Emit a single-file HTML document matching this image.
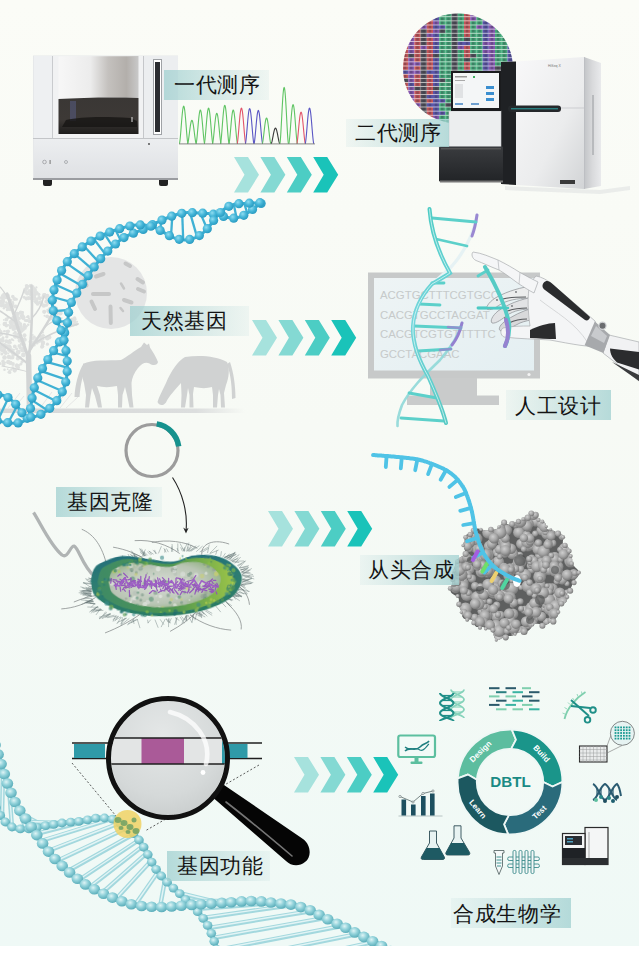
<!DOCTYPE html>
<html><head><meta charset="utf-8">
<style>
html,body{margin:0;padding:0;width:639px;height:964px;overflow:hidden;background:#ffffff;}
#bg{position:absolute;left:0;top:0;width:639px;height:946px;background:linear-gradient(to bottom,#fbfcf7 0%,#f7faf5 45%,#eff9f6 100%);}
svg{position:absolute;left:0;top:0;}
.box{position:absolute;}
.lbl{position:absolute;font-family:"Liberation Sans",sans-serif;font-size:21.2px;letter-spacing:0.7px;line-height:25px;color:#141414;white-space:nowrap;}
</style></head><body>
<div id="bg"></div>
<svg width="639" height="964" viewBox="0 0 639 964">
<defs>
<linearGradient id="sgTop" x1="0" y1="0" x2="1" y2="0">
<stop offset="0" stop-color="#f7f7f7"/><stop offset="0.4" stop-color="#ececec"/><stop offset="0.62" stop-color="#c4c1be"/><stop offset="0.85" stop-color="#b3afab"/><stop offset="1" stop-color="#c9c9c9"/>
</linearGradient>
<linearGradient id="sgWin" x1="0" y1="0" x2="0" y2="1">
<stop offset="0" stop-color="#3a3735"/><stop offset="0.6" stop-color="#3d3936"/><stop offset="1" stop-color="#1d1c1b"/>
</linearGradient>
<linearGradient id="sgBot" x1="0" y1="0" x2="0" y2="1">
<stop offset="0" stop-color="#eceef0"/><stop offset="1" stop-color="#dfe1e4"/>
</linearGradient>
</defs>
<!-- feet -->
<rect x="43" y="178" width="9" height="8" rx="2" fill="#222"/>
<rect x="159" y="178" width="9" height="8" rx="2" fill="#222"/>
<!-- body -->
<rect x="33" y="55.5" width="145" height="123" fill="#e6e8ea"/>
<rect x="33" y="178" width="145" height="2" fill="#9a9ca0"/>
<!-- left column -->
<rect x="34" y="56" width="18" height="82" fill="#eef0f2"/>
<line x1="52.5" y1="56" x2="52.5" y2="138" stroke="#c9cbce" stroke-width="1"/>
<!-- center frame -->
<rect x="53" y="56" width="90" height="82" fill="#f1f2f3"/>
<path d="M58.5,56.5 C80,56 110,56.5 138.5,56 L138.5,98 C110,97 80,98 58.5,99 Z" fill="url(#sgTop)"/>
<path d="M58.5,99 C80,98 110,97 138.5,98 L138.5,134 L58.5,134 Z" fill="url(#sgWin)"/>
<rect x="70" y="101" width="6" height="20" fill="#5a5f8a" opacity="0.5"/>
<path d="M66,120 C80,117 100,116 130,118 L137,121 L137,127 L62,127 Z" fill="#161514" opacity="0.8"/>
<line x1="132" y1="117" x2="132" y2="122" stroke="#ddd" stroke-width="1"/>
<!-- right column -->
<rect x="144" y="56" width="34" height="82" fill="#eceef0"/>
<line x1="143.5" y1="56" x2="143.5" y2="138" stroke="#c5c7ca" stroke-width="1"/>
<rect x="153.5" y="59.5" width="8" height="75" fill="#ffffff" stroke="#9fa2a6" stroke-width="1"/>
<rect x="155" y="62" width="5" height="70" fill="#2b2d31"/>
<!-- bottom section -->
<rect x="34" y="139" width="144" height="39" fill="url(#sgBot)"/>
<line x1="33" y1="138.5" x2="178" y2="138.5" stroke="#c3c5c8" stroke-width="1"/>
<circle cx="44.5" cy="162" r="1.8" fill="none" stroke="#9a9ca0" stroke-width="0.8"/>
<rect x="49.5" y="160" width="1.2" height="4" fill="#888"/>
<circle cx="66" cy="162" r="1.5" fill="none" stroke="#a0a2a6" stroke-width="0.8"/>
<circle cx="149" cy="144" r="0.9" fill="#444"/>

<polyline fill="none" stroke="#5fc463" stroke-width="1.1" points="179.29,143.60 179.49,143.41 179.69,142.52 179.89,141.16 180.09,139.46 180.29,137.49 180.49,135.29 180.69,132.93 180.89,130.46 181.09,127.91 181.29,125.35 181.49,122.80 181.69,120.32 181.89,117.94 182.09,115.70 182.29,113.63 182.49,111.77 182.69,110.15 182.89,108.79 183.09,107.71 183.29,106.93 183.49,106.45 183.69,106.29 183.89,106.45 184.09,106.93 184.29,107.71 184.49,108.79 184.69,110.15 184.89,111.77 185.09,113.63 185.29,115.70 185.49,117.94 185.69,120.32 185.89,122.80 186.09,125.35 186.29,127.91 186.49,130.46 186.69,132.93 186.89,135.29 187.09,137.49 187.29,139.46 187.49,141.16 187.69,142.52 187.89,143.41 188.09,143.60"/>
<polyline fill="none" stroke="#5fc463" stroke-width="1.1" points="187.50,143.60 187.70,143.48 187.90,142.93 188.10,142.08 188.30,141.03 188.50,139.79 188.70,138.43 188.90,136.96 189.10,135.42 189.30,133.84 189.50,132.24 189.70,130.65 189.90,129.11 190.10,127.62 190.30,126.23 190.50,124.94 190.70,123.79 190.90,122.78 191.10,121.93 191.30,121.26 191.50,120.77 191.70,120.47 191.90,120.38 192.10,120.47 192.30,120.77 192.50,121.26 192.70,121.93 192.90,122.78 193.10,123.79 193.30,124.94 193.50,126.23 193.70,127.62 193.90,129.11 194.10,130.65 194.30,132.24 194.50,133.84 194.70,135.42 194.90,136.96 195.10,138.43 195.30,139.79 195.50,141.03 195.70,142.08 195.90,142.93 196.10,143.48 196.30,143.60"/>
<polyline fill="none" stroke="#5fc463" stroke-width="1.1" points="195.95,143.60 196.15,143.43 196.35,142.63 196.55,141.41 196.75,139.88 196.95,138.10 197.15,136.13 197.35,134.01 197.55,131.78 197.75,129.49 197.95,127.18 198.15,124.89 198.35,122.66 198.55,120.52 198.75,118.50 198.95,116.65 199.15,114.98 199.35,113.52 199.55,112.29 199.75,111.32 199.95,110.62 200.15,110.19 200.35,110.05 200.55,110.19 200.75,110.62 200.95,111.32 201.15,112.29 201.35,113.52 201.55,114.98 201.75,116.65 201.95,118.50 202.15,120.52 202.35,122.66 202.55,124.89 202.75,127.18 202.95,129.49 203.15,131.78 203.35,134.01 203.55,136.13 203.75,138.10 203.95,139.88 204.15,141.41 204.35,142.63 204.55,143.43 204.75,143.60"/>
<polyline fill="none" stroke="#5fc463" stroke-width="1.1" points="204.17,143.60 204.37,143.42 204.57,142.57 204.77,141.29 204.97,139.67 205.17,137.79 205.37,135.71 205.57,133.47 205.77,131.12 205.97,128.70 206.17,126.27 206.37,123.85 206.57,121.49 206.77,119.23 206.97,117.10 207.17,115.14 207.37,113.38 207.57,111.83 207.77,110.54 207.97,109.52 208.17,108.77 208.37,108.32 208.57,108.17 208.77,108.32 208.97,108.77 209.17,109.52 209.37,110.54 209.57,111.83 209.77,113.38 209.97,115.14 210.17,117.10 210.37,119.23 210.57,121.49 210.77,123.85 210.97,126.27 211.17,128.70 211.37,131.12 211.57,133.47 211.77,135.71 211.97,137.79 212.17,139.67 212.37,141.29 212.57,142.57 212.77,143.42 212.97,143.60"/>
<polyline fill="none" stroke="#5fc463" stroke-width="1.1" points="212.38,143.60 212.58,143.45 212.78,142.72 212.98,141.62 213.18,140.24 213.38,138.64 213.58,136.86 213.78,134.95 213.98,132.94 214.18,130.87 214.38,128.79 214.58,126.73 214.78,124.71 214.98,122.78 215.18,120.96 215.38,119.29 215.58,117.78 215.78,116.46 215.98,115.36 216.18,114.48 216.38,113.85 216.58,113.46 216.78,113.33 216.98,113.46 217.18,113.85 217.38,114.48 217.58,115.36 217.78,116.46 217.98,117.78 218.18,119.29 218.38,120.96 218.58,122.78 218.78,124.71 218.98,126.73 219.18,128.79 219.38,130.87 219.58,132.94 219.78,134.95 219.98,136.86 220.18,138.64 220.38,140.24 220.58,141.62 220.78,142.72 220.98,143.45 221.18,143.60"/>
<polyline fill="none" stroke="#5fc463" stroke-width="1.1" points="220.37,143.60 220.57,143.41 220.77,142.49 220.97,141.10 221.17,139.36 221.37,137.33 221.57,135.08 221.77,132.66 221.97,130.13 222.17,127.52 222.37,124.89 222.57,122.28 222.77,119.73 222.97,117.29 223.17,114.99 223.37,112.88 223.57,110.97 223.77,109.31 223.97,107.91 224.17,106.81 224.37,106.00 224.57,105.52 224.77,105.35 224.97,105.52 225.17,106.00 225.37,106.81 225.57,107.91 225.77,109.31 225.97,110.97 226.17,112.88 226.37,114.99 226.57,117.29 226.77,119.73 226.97,122.28 227.17,124.89 227.37,127.52 227.57,130.13 227.77,132.66 227.97,135.08 228.17,137.33 228.37,139.36 228.57,141.10 228.77,142.49 228.97,143.41 229.17,143.60"/>
<polyline fill="none" stroke="#5fc463" stroke-width="1.1" points="228.82,143.60 229.02,143.43 229.22,142.63 229.42,141.41 229.62,139.88 229.82,138.10 230.02,136.13 230.22,134.01 230.42,131.78 230.62,129.49 230.82,127.18 231.02,124.89 231.22,122.66 231.42,120.52 231.62,118.50 231.82,116.65 232.02,114.98 232.22,113.52 232.42,112.29 232.62,111.32 232.82,110.62 233.02,110.19 233.22,110.05 233.42,110.19 233.62,110.62 233.82,111.32 234.02,112.29 234.22,113.52 234.42,114.98 234.62,116.65 234.82,118.50 235.02,120.52 235.22,122.66 235.42,124.89 235.62,127.18 235.82,129.49 236.02,131.78 236.22,134.01 236.42,136.13 236.62,138.10 236.82,139.88 237.02,141.41 237.22,142.63 237.42,143.43 237.62,143.60"/>
<polyline fill="none" stroke="#e2546a" stroke-width="1.1" points="237.03,143.60 237.23,143.42 237.43,142.57 237.63,141.29 237.83,139.67 238.03,137.79 238.23,135.71 238.43,133.47 238.63,131.12 238.83,128.70 239.03,126.27 239.23,123.85 239.43,121.49 239.63,119.23 239.83,117.10 240.03,115.14 240.23,113.38 240.43,111.83 240.63,110.54 240.83,109.52 241.03,108.77 241.23,108.32 241.43,108.17 241.63,108.32 241.83,108.77 242.03,109.52 242.23,110.54 242.43,111.83 242.63,113.38 242.83,115.14 243.03,117.10 243.23,119.23 243.43,121.49 243.63,123.85 243.83,126.27 244.03,128.70 244.23,131.12 244.43,133.47 244.63,135.71 244.83,137.79 245.03,139.67 245.23,141.29 245.43,142.57 245.63,143.42 245.83,143.60"/>
<polyline fill="none" stroke="#5a56c4" stroke-width="1.1" points="245.25,143.60 245.45,143.42 245.65,142.59 245.85,141.32 246.05,139.72 246.25,137.87 246.45,135.81 246.65,133.60 246.85,131.28 247.05,128.90 247.25,126.50 247.45,124.11 247.65,121.78 247.85,119.55 248.05,117.45 248.25,115.52 248.45,113.78 248.65,112.26 248.85,110.98 249.05,109.97 249.25,109.23 249.45,108.79 249.65,108.64 249.85,108.79 250.05,109.23 250.25,109.97 250.45,110.98 250.65,112.26 250.85,113.78 251.05,115.52 251.25,117.45 251.45,119.55 251.65,121.78 251.85,124.11 252.05,126.50 252.25,128.90 252.45,131.28 252.65,133.60 252.85,135.81 253.05,137.87 253.25,139.72 253.45,141.32 253.65,142.59 253.85,143.42 254.05,143.60"/>
<polyline fill="none" stroke="#5a56c4" stroke-width="1.1" points="253.93,143.60 254.13,143.43 254.33,142.64 254.53,141.44 254.73,139.93 254.93,138.18 255.13,136.23 255.33,134.14 255.53,131.95 255.73,129.69 255.93,127.41 256.13,125.16 256.33,122.95 256.53,120.84 256.73,118.86 256.93,117.02 257.13,115.38 257.33,113.94 257.53,112.73 257.73,111.77 257.93,111.08 258.13,110.66 258.33,110.52 258.53,110.66 258.73,111.08 258.93,111.77 259.13,112.73 259.33,113.94 259.53,115.38 259.73,117.02 259.93,118.86 260.13,120.84 260.33,122.95 260.53,125.16 260.73,127.41 260.93,129.69 261.13,131.95 261.33,134.14 261.53,136.23 261.73,138.18 261.93,139.93 262.13,141.44 262.33,142.64 262.53,143.43 262.73,143.60"/>
<polyline fill="none" stroke="#5fc463" stroke-width="1.1" points="262.15,143.60 262.35,143.47 262.55,142.86 262.75,141.93 262.95,140.76 263.15,139.41 263.35,137.91 263.55,136.29 263.75,134.59 263.95,132.85 264.15,131.09 264.35,129.34 264.55,127.64 264.75,126.01 264.95,124.47 265.15,123.06 265.35,121.79 265.55,120.67 265.75,119.74 265.95,119.00 266.15,118.46 266.35,118.14 266.55,118.03 266.75,118.14 266.95,118.46 267.15,119.00 267.35,119.74 267.55,120.67 267.75,121.79 267.95,123.06 268.15,124.47 268.35,126.01 268.55,127.64 268.75,129.34 268.95,131.09 269.15,132.85 269.35,134.59 269.55,136.29 269.75,137.91 269.95,139.41 270.15,140.76 270.35,141.93 270.55,142.86 270.75,143.47 270.95,143.60"/>
<polyline fill="none" stroke="#3a3a3a" stroke-width="1.1" points="271.07,143.60 271.27,143.52 271.47,143.15 271.67,142.59 271.87,141.88 272.07,141.06 272.27,140.15 272.47,139.17 272.67,138.15 272.87,137.09 273.07,136.03 273.27,134.97 273.47,133.94 273.67,132.95 273.87,132.02 274.07,131.17 274.27,130.40 274.47,129.72 274.67,129.16 274.87,128.71 275.07,128.39 275.27,128.19 275.47,128.12 275.67,128.19 275.87,128.39 276.07,128.71 276.27,129.16 276.47,129.72 276.67,130.40 276.87,131.17 277.07,132.02 277.27,132.95 277.47,133.94 277.67,134.97 277.87,136.03 278.07,137.09 278.27,138.15 278.47,139.17 278.67,140.15 278.87,141.06 279.07,141.88 279.27,142.59 279.47,143.15 279.67,143.52 279.87,143.60"/>
<polyline fill="none" stroke="#5fc463" stroke-width="1.1" points="279.75,143.60 279.95,143.32 280.15,141.97 280.35,139.94 280.55,137.38 280.75,134.41 280.95,131.11 281.15,127.56 281.35,123.84 281.55,120.02 281.75,116.16 281.95,112.33 282.15,108.60 282.35,105.02 282.55,101.65 282.75,98.55 282.95,95.75 283.15,93.31 283.35,91.27 283.55,89.64 283.75,88.47 283.95,87.75 284.15,87.51 284.35,87.75 284.55,88.47 284.75,89.64 284.95,91.27 285.15,93.31 285.35,95.75 285.55,98.55 285.75,101.65 285.95,105.02 286.15,108.60 286.35,112.33 286.55,116.16 286.75,120.02 286.95,123.84 287.15,127.56 287.35,131.11 287.55,134.41 287.75,137.38 287.95,139.94 288.15,141.97 288.35,143.32 288.55,143.60"/>
<polyline fill="none" stroke="#5fc463" stroke-width="1.1" points="288.68,143.60 288.88,143.40 289.08,142.47 289.28,141.06 289.48,139.28 289.68,137.22 289.88,134.93 290.08,132.46 290.28,129.88 290.48,127.22 290.68,124.54 290.88,121.88 291.08,119.29 291.28,116.81 291.48,114.47 291.68,112.31 291.88,110.37 292.08,108.68 292.28,107.26 292.48,106.13 292.68,105.31 292.88,104.81 293.08,104.65 293.28,104.81 293.48,105.31 293.68,106.13 293.88,107.26 294.08,108.68 294.28,110.37 294.48,112.31 294.68,114.47 294.88,116.81 295.08,119.29 295.28,121.88 295.48,124.54 295.68,127.22 295.88,129.88 296.08,132.46 296.28,134.93 296.48,137.22 296.68,139.28 296.88,141.06 297.08,142.47 297.28,143.40 297.48,143.60"/>
<polyline fill="none" stroke="#e2546a" stroke-width="1.1" points="296.66,143.60 296.86,143.44 297.06,142.69 297.26,141.55 297.46,140.11 297.66,138.45 297.86,136.60 298.06,134.61 298.26,132.52 298.46,130.38 298.66,128.22 298.86,126.07 299.06,123.98 299.26,121.97 299.46,120.08 299.66,118.34 299.86,116.78 300.06,115.41 300.26,114.27 300.46,113.35 300.66,112.69 300.86,112.29 301.06,112.16 301.26,112.29 301.46,112.69 301.66,113.35 301.86,114.27 302.06,115.41 302.26,116.78 302.46,118.34 302.66,120.08 302.86,121.97 303.06,123.98 303.26,126.07 303.46,128.22 303.66,130.38 303.86,132.52 304.06,134.61 304.26,136.60 304.46,138.45 304.66,140.11 304.86,141.55 305.06,142.69 305.26,143.44 305.46,143.60"/>
<polyline fill="none" stroke="#5a56c4" stroke-width="1.1" points="305.11,143.60 305.31,143.42 305.51,142.57 305.71,141.29 305.91,139.67 306.11,137.79 306.31,135.71 306.51,133.47 306.71,131.12 306.91,128.70 307.11,126.27 307.31,123.85 307.51,121.49 307.71,119.23 307.91,117.10 308.11,115.14 308.31,113.38 308.51,111.83 308.71,110.54 308.91,109.52 309.11,108.77 309.31,108.32 309.51,108.17 309.71,108.32 309.91,108.77 310.11,109.52 310.31,110.54 310.51,111.83 310.71,113.38 310.91,115.14 311.11,117.10 311.31,119.23 311.51,121.49 311.71,123.85 311.91,126.27 312.11,128.70 312.31,131.12 312.51,133.47 312.71,135.71 312.91,137.79 313.11,139.67 313.31,141.29 313.51,142.57 313.71,143.42 313.91,143.60"/>
<line x1="179" y1="143.9" x2="315" y2="143.9" stroke="#6a6a6a" stroke-width="0.8"/>
<defs><clipPath id="circ"><circle cx="458" cy="68.5" r="55"/></clipPath>
<linearGradient id="hsFront" x1="0" y1="0" x2="1" y2="1"><stop offset="0" stop-color="#f8f8f9"/><stop offset="0.6" stop-color="#ebeced"/><stop offset="1" stop-color="#d2d4d6"/></linearGradient>
<linearGradient id="hsSide" x1="0" y1="0" x2="1" y2="0"><stop offset="0" stop-color="#c2c4c7"/><stop offset="0.5" stop-color="#d9dadc"/><stop offset="1" stop-color="#e9eaec"/></linearGradient>
<linearGradient id="hsDrawer" x1="0" y1="0" x2="0" y2="1"><stop offset="0" stop-color="#3a3c3f"/><stop offset="1" stop-color="#222427"/></linearGradient>
</defs>
<g clip-path="url(#circ)">
<rect x="402.0" y="13.0" width="6.2" height="3.5" fill="#c4565a"/>
<rect x="403.8" y="13.4" width="2.6" height="2.6" fill="#2a2a35" opacity="0.32"/>
<rect x="402.0" y="17.1" width="6.2" height="3.5" fill="#c4565a"/>
<rect x="403.8" y="17.5" width="2.6" height="2.6" fill="#2a2a35" opacity="0.32"/>
<rect x="402.0" y="21.2" width="6.2" height="3.5" fill="#c4565a"/>
<rect x="403.8" y="21.6" width="2.6" height="2.6" fill="#2a2a35" opacity="0.32"/>
<rect x="402.0" y="25.3" width="6.2" height="3.5" fill="#c4565a"/>
<rect x="403.8" y="25.7" width="2.6" height="2.6" fill="#2a2a35" opacity="0.32"/>
<rect x="402.0" y="29.4" width="6.2" height="3.5" fill="#c4565a"/>
<rect x="403.8" y="29.8" width="2.6" height="2.6" fill="#2a2a35" opacity="0.32"/>
<rect x="402.0" y="33.5" width="6.2" height="3.5" fill="#c4565a"/>
<rect x="403.8" y="33.9" width="2.6" height="2.6" fill="#2a2a35" opacity="0.32"/>
<rect x="402.0" y="37.6" width="6.2" height="3.5" fill="#c4565a"/>
<rect x="403.8" y="38.0" width="2.6" height="2.6" fill="#2a2a35" opacity="0.32"/>
<rect x="402.0" y="41.7" width="6.2" height="3.5" fill="#8558b0"/>
<rect x="403.8" y="42.1" width="2.6" height="2.6" fill="#2a2a35" opacity="0.32"/>
<rect x="402.0" y="45.8" width="6.2" height="3.5" fill="#c4565a"/>
<rect x="403.8" y="46.2" width="2.6" height="2.6" fill="#2a2a35" opacity="0.32"/>
<rect x="402.0" y="49.9" width="6.2" height="3.5" fill="#c4565a"/>
<rect x="403.8" y="50.3" width="2.6" height="2.6" fill="#2a2a35" opacity="0.32"/>
<rect x="402.0" y="54.0" width="6.2" height="3.5" fill="#c4565a"/>
<rect x="403.8" y="54.4" width="2.6" height="2.6" fill="#2a2a35" opacity="0.32"/>
<rect x="402.0" y="58.1" width="6.2" height="3.5" fill="#c4565a"/>
<rect x="403.8" y="58.5" width="2.6" height="2.6" fill="#2a2a35" opacity="0.32"/>
<rect x="402.0" y="62.2" width="6.2" height="3.5" fill="#c4565a"/>
<rect x="403.8" y="62.6" width="2.6" height="2.6" fill="#2a2a35" opacity="0.32"/>
<rect x="402.0" y="66.3" width="6.2" height="3.5" fill="#c4565a"/>
<rect x="403.8" y="66.7" width="2.6" height="2.6" fill="#2a2a35" opacity="0.32"/>
<rect x="402.0" y="70.4" width="6.2" height="3.5" fill="#5a56a8"/>
<rect x="403.8" y="70.8" width="2.6" height="2.6" fill="#2a2a35" opacity="0.32"/>
<rect x="402.0" y="74.5" width="6.2" height="3.5" fill="#c4565a"/>
<rect x="403.8" y="74.9" width="2.6" height="2.6" fill="#2a2a35" opacity="0.32"/>
<rect x="402.0" y="78.6" width="6.2" height="3.5" fill="#50505a"/>
<rect x="403.8" y="79.0" width="2.6" height="2.6" fill="#2a2a35" opacity="0.32"/>
<rect x="402.0" y="82.7" width="6.2" height="3.5" fill="#c4565a"/>
<rect x="403.8" y="83.1" width="2.6" height="2.6" fill="#2a2a35" opacity="0.32"/>
<rect x="402.0" y="86.8" width="6.2" height="3.5" fill="#c4565a"/>
<rect x="403.8" y="87.2" width="2.6" height="2.6" fill="#2a2a35" opacity="0.32"/>
<rect x="402.0" y="90.9" width="6.2" height="3.5" fill="#c4565a"/>
<rect x="403.8" y="91.3" width="2.6" height="2.6" fill="#2a2a35" opacity="0.32"/>
<rect x="402.0" y="95.0" width="6.2" height="3.5" fill="#c4565a"/>
<rect x="403.8" y="95.4" width="2.6" height="2.6" fill="#2a2a35" opacity="0.32"/>
<rect x="402.0" y="99.1" width="6.2" height="3.5" fill="#c4565a"/>
<rect x="403.8" y="99.5" width="2.6" height="2.6" fill="#2a2a35" opacity="0.32"/>
<rect x="402.0" y="103.2" width="6.2" height="3.5" fill="#c4565a"/>
<rect x="403.8" y="103.6" width="2.6" height="2.6" fill="#2a2a35" opacity="0.32"/>
<rect x="402.0" y="107.3" width="6.2" height="3.5" fill="#c4565a"/>
<rect x="403.8" y="107.7" width="2.6" height="2.6" fill="#2a2a35" opacity="0.32"/>
<rect x="402.0" y="111.4" width="6.2" height="3.5" fill="#50505a"/>
<rect x="403.8" y="111.8" width="2.6" height="2.6" fill="#2a2a35" opacity="0.32"/>
<rect x="402.0" y="115.5" width="6.2" height="3.5" fill="#c4565a"/>
<rect x="403.8" y="115.9" width="2.6" height="2.6" fill="#2a2a35" opacity="0.32"/>
<rect x="402.0" y="119.6" width="6.2" height="3.5" fill="#50505a"/>
<rect x="403.8" y="120.0" width="2.6" height="2.6" fill="#2a2a35" opacity="0.32"/>
<rect x="402.0" y="123.7" width="6.2" height="3.5" fill="#c4565a"/>
<rect x="403.8" y="124.1" width="2.6" height="2.6" fill="#2a2a35" opacity="0.32"/>
<rect x="408.2" y="13.0" width="6.2" height="3.5" fill="#50505a"/>
<rect x="410.0" y="13.4" width="2.6" height="2.6" fill="#2a2a35" opacity="0.32"/>
<rect x="408.2" y="17.1" width="6.2" height="3.5" fill="#8558b0"/>
<rect x="410.0" y="17.5" width="2.6" height="2.6" fill="#2a2a35" opacity="0.32"/>
<rect x="408.2" y="21.2" width="6.2" height="3.5" fill="#8558b0"/>
<rect x="410.0" y="21.6" width="2.6" height="2.6" fill="#2a2a35" opacity="0.32"/>
<rect x="408.2" y="25.3" width="6.2" height="3.5" fill="#5a56a8"/>
<rect x="410.0" y="25.7" width="2.6" height="2.6" fill="#2a2a35" opacity="0.32"/>
<rect x="408.2" y="29.4" width="6.2" height="3.5" fill="#8558b0"/>
<rect x="410.0" y="29.8" width="2.6" height="2.6" fill="#2a2a35" opacity="0.32"/>
<rect x="408.2" y="33.5" width="6.2" height="3.5" fill="#8558b0"/>
<rect x="410.0" y="33.9" width="2.6" height="2.6" fill="#2a2a35" opacity="0.32"/>
<rect x="408.2" y="37.6" width="6.2" height="3.5" fill="#8558b0"/>
<rect x="410.0" y="38.0" width="2.6" height="2.6" fill="#2a2a35" opacity="0.32"/>
<rect x="408.2" y="41.7" width="6.2" height="3.5" fill="#8558b0"/>
<rect x="410.0" y="42.1" width="2.6" height="2.6" fill="#2a2a35" opacity="0.32"/>
<rect x="408.2" y="45.8" width="6.2" height="3.5" fill="#8558b0"/>
<rect x="410.0" y="46.2" width="2.6" height="2.6" fill="#2a2a35" opacity="0.32"/>
<rect x="408.2" y="49.9" width="6.2" height="3.5" fill="#8558b0"/>
<rect x="410.0" y="50.3" width="2.6" height="2.6" fill="#2a2a35" opacity="0.32"/>
<rect x="408.2" y="54.0" width="6.2" height="3.5" fill="#50505a"/>
<rect x="410.0" y="54.4" width="2.6" height="2.6" fill="#2a2a35" opacity="0.32"/>
<rect x="408.2" y="58.1" width="6.2" height="3.5" fill="#8558b0"/>
<rect x="410.0" y="58.5" width="2.6" height="2.6" fill="#2a2a35" opacity="0.32"/>
<rect x="408.2" y="62.2" width="6.2" height="3.5" fill="#8558b0"/>
<rect x="410.0" y="62.6" width="2.6" height="2.6" fill="#2a2a35" opacity="0.32"/>
<rect x="408.2" y="66.3" width="6.2" height="3.5" fill="#8558b0"/>
<rect x="410.0" y="66.7" width="2.6" height="2.6" fill="#2a2a35" opacity="0.32"/>
<rect x="408.2" y="70.4" width="6.2" height="3.5" fill="#8558b0"/>
<rect x="410.0" y="70.8" width="2.6" height="2.6" fill="#2a2a35" opacity="0.32"/>
<rect x="408.2" y="74.5" width="6.2" height="3.5" fill="#8558b0"/>
<rect x="410.0" y="74.9" width="2.6" height="2.6" fill="#2a2a35" opacity="0.32"/>
<rect x="408.2" y="78.6" width="6.2" height="3.5" fill="#8558b0"/>
<rect x="410.0" y="79.0" width="2.6" height="2.6" fill="#2a2a35" opacity="0.32"/>
<rect x="408.2" y="82.7" width="6.2" height="3.5" fill="#5a56a8"/>
<rect x="410.0" y="83.1" width="2.6" height="2.6" fill="#2a2a35" opacity="0.32"/>
<rect x="408.2" y="86.8" width="6.2" height="3.5" fill="#8558b0"/>
<rect x="410.0" y="87.2" width="2.6" height="2.6" fill="#2a2a35" opacity="0.32"/>
<rect x="408.2" y="90.9" width="6.2" height="3.5" fill="#8558b0"/>
<rect x="410.0" y="91.3" width="2.6" height="2.6" fill="#2a2a35" opacity="0.32"/>
<rect x="408.2" y="95.0" width="6.2" height="3.5" fill="#8558b0"/>
<rect x="410.0" y="95.4" width="2.6" height="2.6" fill="#2a2a35" opacity="0.32"/>
<rect x="408.2" y="99.1" width="6.2" height="3.5" fill="#8558b0"/>
<rect x="410.0" y="99.5" width="2.6" height="2.6" fill="#2a2a35" opacity="0.32"/>
<rect x="408.2" y="103.2" width="6.2" height="3.5" fill="#8558b0"/>
<rect x="410.0" y="103.6" width="2.6" height="2.6" fill="#2a2a35" opacity="0.32"/>
<rect x="408.2" y="107.3" width="6.2" height="3.5" fill="#8558b0"/>
<rect x="410.0" y="107.7" width="2.6" height="2.6" fill="#2a2a35" opacity="0.32"/>
<rect x="408.2" y="111.4" width="6.2" height="3.5" fill="#8558b0"/>
<rect x="410.0" y="111.8" width="2.6" height="2.6" fill="#2a2a35" opacity="0.32"/>
<rect x="408.2" y="115.5" width="6.2" height="3.5" fill="#8558b0"/>
<rect x="410.0" y="115.9" width="2.6" height="2.6" fill="#2a2a35" opacity="0.32"/>
<rect x="408.2" y="119.6" width="6.2" height="3.5" fill="#8558b0"/>
<rect x="410.0" y="120.0" width="2.6" height="2.6" fill="#2a2a35" opacity="0.32"/>
<rect x="408.2" y="123.7" width="6.2" height="3.5" fill="#8558b0"/>
<rect x="410.0" y="124.1" width="2.6" height="2.6" fill="#2a2a35" opacity="0.32"/>
<rect x="414.4" y="13.0" width="6.2" height="3.5" fill="#50505a"/>
<rect x="416.2" y="13.4" width="2.6" height="2.6" fill="#2a2a35" opacity="0.32"/>
<rect x="414.4" y="17.1" width="6.2" height="3.5" fill="#c4565a"/>
<rect x="416.2" y="17.5" width="2.6" height="2.6" fill="#2a2a35" opacity="0.32"/>
<rect x="414.4" y="21.2" width="6.2" height="3.5" fill="#50505a"/>
<rect x="416.2" y="21.6" width="2.6" height="2.6" fill="#2a2a35" opacity="0.32"/>
<rect x="414.4" y="25.3" width="6.2" height="3.5" fill="#c4565a"/>
<rect x="416.2" y="25.7" width="2.6" height="2.6" fill="#2a2a35" opacity="0.32"/>
<rect x="414.4" y="29.4" width="6.2" height="3.5" fill="#c4565a"/>
<rect x="416.2" y="29.8" width="2.6" height="2.6" fill="#2a2a35" opacity="0.32"/>
<rect x="414.4" y="33.5" width="6.2" height="3.5" fill="#c4565a"/>
<rect x="416.2" y="33.9" width="2.6" height="2.6" fill="#2a2a35" opacity="0.32"/>
<rect x="414.4" y="37.6" width="6.2" height="3.5" fill="#c4565a"/>
<rect x="416.2" y="38.0" width="2.6" height="2.6" fill="#2a2a35" opacity="0.32"/>
<rect x="414.4" y="41.7" width="6.2" height="3.5" fill="#c4565a"/>
<rect x="416.2" y="42.1" width="2.6" height="2.6" fill="#2a2a35" opacity="0.32"/>
<rect x="414.4" y="45.8" width="6.2" height="3.5" fill="#c4565a"/>
<rect x="416.2" y="46.2" width="2.6" height="2.6" fill="#2a2a35" opacity="0.32"/>
<rect x="414.4" y="49.9" width="6.2" height="3.5" fill="#c4565a"/>
<rect x="416.2" y="50.3" width="2.6" height="2.6" fill="#2a2a35" opacity="0.32"/>
<rect x="414.4" y="54.0" width="6.2" height="3.5" fill="#c4565a"/>
<rect x="416.2" y="54.4" width="2.6" height="2.6" fill="#2a2a35" opacity="0.32"/>
<rect x="414.4" y="58.1" width="6.2" height="3.5" fill="#c4565a"/>
<rect x="416.2" y="58.5" width="2.6" height="2.6" fill="#2a2a35" opacity="0.32"/>
<rect x="414.4" y="62.2" width="6.2" height="3.5" fill="#8558b0"/>
<rect x="416.2" y="62.6" width="2.6" height="2.6" fill="#2a2a35" opacity="0.32"/>
<rect x="414.4" y="66.3" width="6.2" height="3.5" fill="#c4565a"/>
<rect x="416.2" y="66.7" width="2.6" height="2.6" fill="#2a2a35" opacity="0.32"/>
<rect x="414.4" y="70.4" width="6.2" height="3.5" fill="#8558b0"/>
<rect x="416.2" y="70.8" width="2.6" height="2.6" fill="#2a2a35" opacity="0.32"/>
<rect x="414.4" y="74.5" width="6.2" height="3.5" fill="#c4565a"/>
<rect x="416.2" y="74.9" width="2.6" height="2.6" fill="#2a2a35" opacity="0.32"/>
<rect x="414.4" y="78.6" width="6.2" height="3.5" fill="#c4565a"/>
<rect x="416.2" y="79.0" width="2.6" height="2.6" fill="#2a2a35" opacity="0.32"/>
<rect x="414.4" y="82.7" width="6.2" height="3.5" fill="#c4565a"/>
<rect x="416.2" y="83.1" width="2.6" height="2.6" fill="#2a2a35" opacity="0.32"/>
<rect x="414.4" y="86.8" width="6.2" height="3.5" fill="#50505a"/>
<rect x="416.2" y="87.2" width="2.6" height="2.6" fill="#2a2a35" opacity="0.32"/>
<rect x="414.4" y="90.9" width="6.2" height="3.5" fill="#c4565a"/>
<rect x="416.2" y="91.3" width="2.6" height="2.6" fill="#2a2a35" opacity="0.32"/>
<rect x="414.4" y="95.0" width="6.2" height="3.5" fill="#c4565a"/>
<rect x="416.2" y="95.4" width="2.6" height="2.6" fill="#2a2a35" opacity="0.32"/>
<rect x="414.4" y="99.1" width="6.2" height="3.5" fill="#c4565a"/>
<rect x="416.2" y="99.5" width="2.6" height="2.6" fill="#2a2a35" opacity="0.32"/>
<rect x="414.4" y="103.2" width="6.2" height="3.5" fill="#8558b0"/>
<rect x="416.2" y="103.6" width="2.6" height="2.6" fill="#2a2a35" opacity="0.32"/>
<rect x="414.4" y="107.3" width="6.2" height="3.5" fill="#c4565a"/>
<rect x="416.2" y="107.7" width="2.6" height="2.6" fill="#2a2a35" opacity="0.32"/>
<rect x="414.4" y="111.4" width="6.2" height="3.5" fill="#50505a"/>
<rect x="416.2" y="111.8" width="2.6" height="2.6" fill="#2a2a35" opacity="0.32"/>
<rect x="414.4" y="115.5" width="6.2" height="3.5" fill="#c4565a"/>
<rect x="416.2" y="115.9" width="2.6" height="2.6" fill="#2a2a35" opacity="0.32"/>
<rect x="414.4" y="119.6" width="6.2" height="3.5" fill="#50505a"/>
<rect x="416.2" y="120.0" width="2.6" height="2.6" fill="#2a2a35" opacity="0.32"/>
<rect x="414.4" y="123.7" width="6.2" height="3.5" fill="#c4565a"/>
<rect x="416.2" y="124.1" width="2.6" height="2.6" fill="#2a2a35" opacity="0.32"/>
<rect x="420.6" y="13.0" width="6.2" height="3.5" fill="#50505a"/>
<rect x="422.4" y="13.4" width="2.6" height="2.6" fill="#2a2a35" opacity="0.32"/>
<rect x="420.6" y="17.1" width="6.2" height="3.5" fill="#50505a"/>
<rect x="422.4" y="17.5" width="2.6" height="2.6" fill="#2a2a35" opacity="0.32"/>
<rect x="420.6" y="21.2" width="6.2" height="3.5" fill="#50505a"/>
<rect x="422.4" y="21.6" width="2.6" height="2.6" fill="#2a2a35" opacity="0.32"/>
<rect x="420.6" y="25.3" width="6.2" height="3.5" fill="#8558b0"/>
<rect x="422.4" y="25.7" width="2.6" height="2.6" fill="#2a2a35" opacity="0.32"/>
<rect x="420.6" y="29.4" width="6.2" height="3.5" fill="#50505a"/>
<rect x="422.4" y="29.8" width="2.6" height="2.6" fill="#2a2a35" opacity="0.32"/>
<rect x="420.6" y="33.5" width="6.2" height="3.5" fill="#50505a"/>
<rect x="422.4" y="33.9" width="2.6" height="2.6" fill="#2a2a35" opacity="0.32"/>
<rect x="420.6" y="37.6" width="6.2" height="3.5" fill="#50505a"/>
<rect x="422.4" y="38.0" width="2.6" height="2.6" fill="#2a2a35" opacity="0.32"/>
<rect x="420.6" y="41.7" width="6.2" height="3.5" fill="#50505a"/>
<rect x="422.4" y="42.1" width="2.6" height="2.6" fill="#2a2a35" opacity="0.32"/>
<rect x="420.6" y="45.8" width="6.2" height="3.5" fill="#8558b0"/>
<rect x="422.4" y="46.2" width="2.6" height="2.6" fill="#2a2a35" opacity="0.32"/>
<rect x="420.6" y="49.9" width="6.2" height="3.5" fill="#50505a"/>
<rect x="422.4" y="50.3" width="2.6" height="2.6" fill="#2a2a35" opacity="0.32"/>
<rect x="420.6" y="54.0" width="6.2" height="3.5" fill="#50505a"/>
<rect x="422.4" y="54.4" width="2.6" height="2.6" fill="#2a2a35" opacity="0.32"/>
<rect x="420.6" y="58.1" width="6.2" height="3.5" fill="#50505a"/>
<rect x="422.4" y="58.5" width="2.6" height="2.6" fill="#2a2a35" opacity="0.32"/>
<rect x="420.6" y="62.2" width="6.2" height="3.5" fill="#50505a"/>
<rect x="422.4" y="62.6" width="2.6" height="2.6" fill="#2a2a35" opacity="0.32"/>
<rect x="420.6" y="66.3" width="6.2" height="3.5" fill="#50505a"/>
<rect x="422.4" y="66.7" width="2.6" height="2.6" fill="#2a2a35" opacity="0.32"/>
<rect x="420.6" y="70.4" width="6.2" height="3.5" fill="#50505a"/>
<rect x="422.4" y="70.8" width="2.6" height="2.6" fill="#2a2a35" opacity="0.32"/>
<rect x="420.6" y="74.5" width="6.2" height="3.5" fill="#50505a"/>
<rect x="422.4" y="74.9" width="2.6" height="2.6" fill="#2a2a35" opacity="0.32"/>
<rect x="420.6" y="78.6" width="6.2" height="3.5" fill="#50505a"/>
<rect x="422.4" y="79.0" width="2.6" height="2.6" fill="#2a2a35" opacity="0.32"/>
<rect x="420.6" y="82.7" width="6.2" height="3.5" fill="#50505a"/>
<rect x="422.4" y="83.1" width="2.6" height="2.6" fill="#2a2a35" opacity="0.32"/>
<rect x="420.6" y="86.8" width="6.2" height="3.5" fill="#50505a"/>
<rect x="422.4" y="87.2" width="2.6" height="2.6" fill="#2a2a35" opacity="0.32"/>
<rect x="420.6" y="90.9" width="6.2" height="3.5" fill="#50505a"/>
<rect x="422.4" y="91.3" width="2.6" height="2.6" fill="#2a2a35" opacity="0.32"/>
<rect x="420.6" y="95.0" width="6.2" height="3.5" fill="#50505a"/>
<rect x="422.4" y="95.4" width="2.6" height="2.6" fill="#2a2a35" opacity="0.32"/>
<rect x="420.6" y="99.1" width="6.2" height="3.5" fill="#50505a"/>
<rect x="422.4" y="99.5" width="2.6" height="2.6" fill="#2a2a35" opacity="0.32"/>
<rect x="420.6" y="103.2" width="6.2" height="3.5" fill="#50505a"/>
<rect x="422.4" y="103.6" width="2.6" height="2.6" fill="#2a2a35" opacity="0.32"/>
<rect x="420.6" y="107.3" width="6.2" height="3.5" fill="#50505a"/>
<rect x="422.4" y="107.7" width="2.6" height="2.6" fill="#2a2a35" opacity="0.32"/>
<rect x="420.6" y="111.4" width="6.2" height="3.5" fill="#50505a"/>
<rect x="422.4" y="111.8" width="2.6" height="2.6" fill="#2a2a35" opacity="0.32"/>
<rect x="420.6" y="115.5" width="6.2" height="3.5" fill="#50505a"/>
<rect x="422.4" y="115.9" width="2.6" height="2.6" fill="#2a2a35" opacity="0.32"/>
<rect x="420.6" y="119.6" width="6.2" height="3.5" fill="#8558b0"/>
<rect x="422.4" y="120.0" width="2.6" height="2.6" fill="#2a2a35" opacity="0.32"/>
<rect x="420.6" y="123.7" width="6.2" height="3.5" fill="#50505a"/>
<rect x="422.4" y="124.1" width="2.6" height="2.6" fill="#2a2a35" opacity="0.32"/>
<rect x="426.8" y="13.0" width="6.2" height="3.5" fill="#c4565a"/>
<rect x="428.6" y="13.4" width="2.6" height="2.6" fill="#2a2a35" opacity="0.32"/>
<rect x="426.8" y="17.1" width="6.2" height="3.5" fill="#c4565a"/>
<rect x="428.6" y="17.5" width="2.6" height="2.6" fill="#2a2a35" opacity="0.32"/>
<rect x="426.8" y="21.2" width="6.2" height="3.5" fill="#c4565a"/>
<rect x="428.6" y="21.6" width="2.6" height="2.6" fill="#2a2a35" opacity="0.32"/>
<rect x="426.8" y="25.3" width="6.2" height="3.5" fill="#c4565a"/>
<rect x="428.6" y="25.7" width="2.6" height="2.6" fill="#2a2a35" opacity="0.32"/>
<rect x="426.8" y="29.4" width="6.2" height="3.5" fill="#c4565a"/>
<rect x="428.6" y="29.8" width="2.6" height="2.6" fill="#2a2a35" opacity="0.32"/>
<rect x="426.8" y="33.5" width="6.2" height="3.5" fill="#8558b0"/>
<rect x="428.6" y="33.9" width="2.6" height="2.6" fill="#2a2a35" opacity="0.32"/>
<rect x="426.8" y="37.6" width="6.2" height="3.5" fill="#c4565a"/>
<rect x="428.6" y="38.0" width="2.6" height="2.6" fill="#2a2a35" opacity="0.32"/>
<rect x="426.8" y="41.7" width="6.2" height="3.5" fill="#c4565a"/>
<rect x="428.6" y="42.1" width="2.6" height="2.6" fill="#2a2a35" opacity="0.32"/>
<rect x="426.8" y="45.8" width="6.2" height="3.5" fill="#c4565a"/>
<rect x="428.6" y="46.2" width="2.6" height="2.6" fill="#2a2a35" opacity="0.32"/>
<rect x="426.8" y="49.9" width="6.2" height="3.5" fill="#c4565a"/>
<rect x="428.6" y="50.3" width="2.6" height="2.6" fill="#2a2a35" opacity="0.32"/>
<rect x="426.8" y="54.0" width="6.2" height="3.5" fill="#c4565a"/>
<rect x="428.6" y="54.4" width="2.6" height="2.6" fill="#2a2a35" opacity="0.32"/>
<rect x="426.8" y="58.1" width="6.2" height="3.5" fill="#c4565a"/>
<rect x="428.6" y="58.5" width="2.6" height="2.6" fill="#2a2a35" opacity="0.32"/>
<rect x="426.8" y="62.2" width="6.2" height="3.5" fill="#c4565a"/>
<rect x="428.6" y="62.6" width="2.6" height="2.6" fill="#2a2a35" opacity="0.32"/>
<rect x="426.8" y="66.3" width="6.2" height="3.5" fill="#c4565a"/>
<rect x="428.6" y="66.7" width="2.6" height="2.6" fill="#2a2a35" opacity="0.32"/>
<rect x="426.8" y="70.4" width="6.2" height="3.5" fill="#5a56a8"/>
<rect x="428.6" y="70.8" width="2.6" height="2.6" fill="#2a2a35" opacity="0.32"/>
<rect x="426.8" y="74.5" width="6.2" height="3.5" fill="#c4565a"/>
<rect x="428.6" y="74.9" width="2.6" height="2.6" fill="#2a2a35" opacity="0.32"/>
<rect x="426.8" y="78.6" width="6.2" height="3.5" fill="#c4565a"/>
<rect x="428.6" y="79.0" width="2.6" height="2.6" fill="#2a2a35" opacity="0.32"/>
<rect x="426.8" y="82.7" width="6.2" height="3.5" fill="#c4565a"/>
<rect x="428.6" y="83.1" width="2.6" height="2.6" fill="#2a2a35" opacity="0.32"/>
<rect x="426.8" y="86.8" width="6.2" height="3.5" fill="#c4565a"/>
<rect x="428.6" y="87.2" width="2.6" height="2.6" fill="#2a2a35" opacity="0.32"/>
<rect x="426.8" y="90.9" width="6.2" height="3.5" fill="#c4565a"/>
<rect x="428.6" y="91.3" width="2.6" height="2.6" fill="#2a2a35" opacity="0.32"/>
<rect x="426.8" y="95.0" width="6.2" height="3.5" fill="#5a56a8"/>
<rect x="428.6" y="95.4" width="2.6" height="2.6" fill="#2a2a35" opacity="0.32"/>
<rect x="426.8" y="99.1" width="6.2" height="3.5" fill="#c4565a"/>
<rect x="428.6" y="99.5" width="2.6" height="2.6" fill="#2a2a35" opacity="0.32"/>
<rect x="426.8" y="103.2" width="6.2" height="3.5" fill="#5a56a8"/>
<rect x="428.6" y="103.6" width="2.6" height="2.6" fill="#2a2a35" opacity="0.32"/>
<rect x="426.8" y="107.3" width="6.2" height="3.5" fill="#c4565a"/>
<rect x="428.6" y="107.7" width="2.6" height="2.6" fill="#2a2a35" opacity="0.32"/>
<rect x="426.8" y="111.4" width="6.2" height="3.5" fill="#c4565a"/>
<rect x="428.6" y="111.8" width="2.6" height="2.6" fill="#2a2a35" opacity="0.32"/>
<rect x="426.8" y="115.5" width="6.2" height="3.5" fill="#c4565a"/>
<rect x="428.6" y="115.9" width="2.6" height="2.6" fill="#2a2a35" opacity="0.32"/>
<rect x="426.8" y="119.6" width="6.2" height="3.5" fill="#c4565a"/>
<rect x="428.6" y="120.0" width="2.6" height="2.6" fill="#2a2a35" opacity="0.32"/>
<rect x="426.8" y="123.7" width="6.2" height="3.5" fill="#c4565a"/>
<rect x="428.6" y="124.1" width="2.6" height="2.6" fill="#2a2a35" opacity="0.32"/>
<rect x="433.0" y="13.0" width="6.2" height="3.5" fill="#5a56a8"/>
<rect x="434.8" y="13.4" width="2.6" height="2.6" fill="#2a2a35" opacity="0.32"/>
<rect x="433.0" y="17.1" width="6.2" height="3.5" fill="#5a56a8"/>
<rect x="434.8" y="17.5" width="2.6" height="2.6" fill="#2a2a35" opacity="0.32"/>
<rect x="433.0" y="21.2" width="6.2" height="3.5" fill="#8558b0"/>
<rect x="434.8" y="21.6" width="2.6" height="2.6" fill="#2a2a35" opacity="0.32"/>
<rect x="433.0" y="25.3" width="6.2" height="3.5" fill="#5a56a8"/>
<rect x="434.8" y="25.7" width="2.6" height="2.6" fill="#2a2a35" opacity="0.32"/>
<rect x="433.0" y="29.4" width="6.2" height="3.5" fill="#8558b0"/>
<rect x="434.8" y="29.8" width="2.6" height="2.6" fill="#2a2a35" opacity="0.32"/>
<rect x="433.0" y="33.5" width="6.2" height="3.5" fill="#5a56a8"/>
<rect x="434.8" y="33.9" width="2.6" height="2.6" fill="#2a2a35" opacity="0.32"/>
<rect x="433.0" y="37.6" width="6.2" height="3.5" fill="#8558b0"/>
<rect x="434.8" y="38.0" width="2.6" height="2.6" fill="#2a2a35" opacity="0.32"/>
<rect x="433.0" y="41.7" width="6.2" height="3.5" fill="#5a56a8"/>
<rect x="434.8" y="42.1" width="2.6" height="2.6" fill="#2a2a35" opacity="0.32"/>
<rect x="433.0" y="45.8" width="6.2" height="3.5" fill="#5a56a8"/>
<rect x="434.8" y="46.2" width="2.6" height="2.6" fill="#2a2a35" opacity="0.32"/>
<rect x="433.0" y="49.9" width="6.2" height="3.5" fill="#5a56a8"/>
<rect x="434.8" y="50.3" width="2.6" height="2.6" fill="#2a2a35" opacity="0.32"/>
<rect x="433.0" y="54.0" width="6.2" height="3.5" fill="#50505a"/>
<rect x="434.8" y="54.4" width="2.6" height="2.6" fill="#2a2a35" opacity="0.32"/>
<rect x="433.0" y="58.1" width="6.2" height="3.5" fill="#5a56a8"/>
<rect x="434.8" y="58.5" width="2.6" height="2.6" fill="#2a2a35" opacity="0.32"/>
<rect x="433.0" y="62.2" width="6.2" height="3.5" fill="#5a56a8"/>
<rect x="434.8" y="62.6" width="2.6" height="2.6" fill="#2a2a35" opacity="0.32"/>
<rect x="433.0" y="66.3" width="6.2" height="3.5" fill="#5a56a8"/>
<rect x="434.8" y="66.7" width="2.6" height="2.6" fill="#2a2a35" opacity="0.32"/>
<rect x="433.0" y="70.4" width="6.2" height="3.5" fill="#5a56a8"/>
<rect x="434.8" y="70.8" width="2.6" height="2.6" fill="#2a2a35" opacity="0.32"/>
<rect x="433.0" y="74.5" width="6.2" height="3.5" fill="#5a56a8"/>
<rect x="434.8" y="74.9" width="2.6" height="2.6" fill="#2a2a35" opacity="0.32"/>
<rect x="433.0" y="78.6" width="6.2" height="3.5" fill="#5a56a8"/>
<rect x="434.8" y="79.0" width="2.6" height="2.6" fill="#2a2a35" opacity="0.32"/>
<rect x="433.0" y="82.7" width="6.2" height="3.5" fill="#5a56a8"/>
<rect x="434.8" y="83.1" width="2.6" height="2.6" fill="#2a2a35" opacity="0.32"/>
<rect x="433.0" y="86.8" width="6.2" height="3.5" fill="#50505a"/>
<rect x="434.8" y="87.2" width="2.6" height="2.6" fill="#2a2a35" opacity="0.32"/>
<rect x="433.0" y="90.9" width="6.2" height="3.5" fill="#5a56a8"/>
<rect x="434.8" y="91.3" width="2.6" height="2.6" fill="#2a2a35" opacity="0.32"/>
<rect x="433.0" y="95.0" width="6.2" height="3.5" fill="#5a56a8"/>
<rect x="434.8" y="95.4" width="2.6" height="2.6" fill="#2a2a35" opacity="0.32"/>
<rect x="433.0" y="99.1" width="6.2" height="3.5" fill="#5a56a8"/>
<rect x="434.8" y="99.5" width="2.6" height="2.6" fill="#2a2a35" opacity="0.32"/>
<rect x="433.0" y="103.2" width="6.2" height="3.5" fill="#5a56a8"/>
<rect x="434.8" y="103.6" width="2.6" height="2.6" fill="#2a2a35" opacity="0.32"/>
<rect x="433.0" y="107.3" width="6.2" height="3.5" fill="#5a56a8"/>
<rect x="434.8" y="107.7" width="2.6" height="2.6" fill="#2a2a35" opacity="0.32"/>
<rect x="433.0" y="111.4" width="6.2" height="3.5" fill="#5a56a8"/>
<rect x="434.8" y="111.8" width="2.6" height="2.6" fill="#2a2a35" opacity="0.32"/>
<rect x="433.0" y="115.5" width="6.2" height="3.5" fill="#8558b0"/>
<rect x="434.8" y="115.9" width="2.6" height="2.6" fill="#2a2a35" opacity="0.32"/>
<rect x="433.0" y="119.6" width="6.2" height="3.5" fill="#5a56a8"/>
<rect x="434.8" y="120.0" width="2.6" height="2.6" fill="#2a2a35" opacity="0.32"/>
<rect x="433.0" y="123.7" width="6.2" height="3.5" fill="#8558b0"/>
<rect x="434.8" y="124.1" width="2.6" height="2.6" fill="#2a2a35" opacity="0.32"/>
<rect x="439.2" y="13.0" width="6.2" height="3.5" fill="#45a87a"/>
<rect x="441.0" y="13.4" width="2.6" height="2.6" fill="#2a2a35" opacity="0.32"/>
<rect x="439.2" y="17.1" width="6.2" height="3.5" fill="#45a87a"/>
<rect x="441.0" y="17.5" width="2.6" height="2.6" fill="#2a2a35" opacity="0.32"/>
<rect x="439.2" y="21.2" width="6.2" height="3.5" fill="#45a87a"/>
<rect x="441.0" y="21.6" width="2.6" height="2.6" fill="#2a2a35" opacity="0.32"/>
<rect x="439.2" y="25.3" width="6.2" height="3.5" fill="#5a56a8"/>
<rect x="441.0" y="25.7" width="2.6" height="2.6" fill="#2a2a35" opacity="0.32"/>
<rect x="439.2" y="29.4" width="6.2" height="3.5" fill="#50505a"/>
<rect x="441.0" y="29.8" width="2.6" height="2.6" fill="#2a2a35" opacity="0.32"/>
<rect x="439.2" y="33.5" width="6.2" height="3.5" fill="#45a87a"/>
<rect x="441.0" y="33.9" width="2.6" height="2.6" fill="#2a2a35" opacity="0.32"/>
<rect x="439.2" y="37.6" width="6.2" height="3.5" fill="#45a87a"/>
<rect x="441.0" y="38.0" width="2.6" height="2.6" fill="#2a2a35" opacity="0.32"/>
<rect x="439.2" y="41.7" width="6.2" height="3.5" fill="#45a87a"/>
<rect x="441.0" y="42.1" width="2.6" height="2.6" fill="#2a2a35" opacity="0.32"/>
<rect x="439.2" y="45.8" width="6.2" height="3.5" fill="#45a87a"/>
<rect x="441.0" y="46.2" width="2.6" height="2.6" fill="#2a2a35" opacity="0.32"/>
<rect x="439.2" y="49.9" width="6.2" height="3.5" fill="#45a87a"/>
<rect x="441.0" y="50.3" width="2.6" height="2.6" fill="#2a2a35" opacity="0.32"/>
<rect x="439.2" y="54.0" width="6.2" height="3.5" fill="#45a87a"/>
<rect x="441.0" y="54.4" width="2.6" height="2.6" fill="#2a2a35" opacity="0.32"/>
<rect x="439.2" y="58.1" width="6.2" height="3.5" fill="#45a87a"/>
<rect x="441.0" y="58.5" width="2.6" height="2.6" fill="#2a2a35" opacity="0.32"/>
<rect x="439.2" y="62.2" width="6.2" height="3.5" fill="#45a87a"/>
<rect x="441.0" y="62.6" width="2.6" height="2.6" fill="#2a2a35" opacity="0.32"/>
<rect x="439.2" y="66.3" width="6.2" height="3.5" fill="#45a87a"/>
<rect x="441.0" y="66.7" width="2.6" height="2.6" fill="#2a2a35" opacity="0.32"/>
<rect x="439.2" y="70.4" width="6.2" height="3.5" fill="#45a87a"/>
<rect x="441.0" y="70.8" width="2.6" height="2.6" fill="#2a2a35" opacity="0.32"/>
<rect x="439.2" y="74.5" width="6.2" height="3.5" fill="#45a87a"/>
<rect x="441.0" y="74.9" width="2.6" height="2.6" fill="#2a2a35" opacity="0.32"/>
<rect x="439.2" y="78.6" width="6.2" height="3.5" fill="#50505a"/>
<rect x="441.0" y="79.0" width="2.6" height="2.6" fill="#2a2a35" opacity="0.32"/>
<rect x="439.2" y="82.7" width="6.2" height="3.5" fill="#45a87a"/>
<rect x="441.0" y="83.1" width="2.6" height="2.6" fill="#2a2a35" opacity="0.32"/>
<rect x="439.2" y="86.8" width="6.2" height="3.5" fill="#45a87a"/>
<rect x="441.0" y="87.2" width="2.6" height="2.6" fill="#2a2a35" opacity="0.32"/>
<rect x="439.2" y="90.9" width="6.2" height="3.5" fill="#45a87a"/>
<rect x="441.0" y="91.3" width="2.6" height="2.6" fill="#2a2a35" opacity="0.32"/>
<rect x="439.2" y="95.0" width="6.2" height="3.5" fill="#45a87a"/>
<rect x="441.0" y="95.4" width="2.6" height="2.6" fill="#2a2a35" opacity="0.32"/>
<rect x="439.2" y="99.1" width="6.2" height="3.5" fill="#5a56a8"/>
<rect x="441.0" y="99.5" width="2.6" height="2.6" fill="#2a2a35" opacity="0.32"/>
<rect x="439.2" y="103.2" width="6.2" height="3.5" fill="#45a87a"/>
<rect x="441.0" y="103.6" width="2.6" height="2.6" fill="#2a2a35" opacity="0.32"/>
<rect x="439.2" y="107.3" width="6.2" height="3.5" fill="#45a87a"/>
<rect x="441.0" y="107.7" width="2.6" height="2.6" fill="#2a2a35" opacity="0.32"/>
<rect x="439.2" y="111.4" width="6.2" height="3.5" fill="#5a56a8"/>
<rect x="441.0" y="111.8" width="2.6" height="2.6" fill="#2a2a35" opacity="0.32"/>
<rect x="439.2" y="115.5" width="6.2" height="3.5" fill="#45a87a"/>
<rect x="441.0" y="115.9" width="2.6" height="2.6" fill="#2a2a35" opacity="0.32"/>
<rect x="439.2" y="119.6" width="6.2" height="3.5" fill="#45a87a"/>
<rect x="441.0" y="120.0" width="2.6" height="2.6" fill="#2a2a35" opacity="0.32"/>
<rect x="439.2" y="123.7" width="6.2" height="3.5" fill="#45a87a"/>
<rect x="441.0" y="124.1" width="2.6" height="2.6" fill="#2a2a35" opacity="0.32"/>
<rect x="445.4" y="13.0" width="6.2" height="3.5" fill="#45a87a"/>
<rect x="447.2" y="13.4" width="2.6" height="2.6" fill="#2a2a35" opacity="0.32"/>
<rect x="445.4" y="17.1" width="6.2" height="3.5" fill="#45a87a"/>
<rect x="447.2" y="17.5" width="2.6" height="2.6" fill="#2a2a35" opacity="0.32"/>
<rect x="445.4" y="21.2" width="6.2" height="3.5" fill="#45a87a"/>
<rect x="447.2" y="21.6" width="2.6" height="2.6" fill="#2a2a35" opacity="0.32"/>
<rect x="445.4" y="25.3" width="6.2" height="3.5" fill="#45a87a"/>
<rect x="447.2" y="25.7" width="2.6" height="2.6" fill="#2a2a35" opacity="0.32"/>
<rect x="445.4" y="29.4" width="6.2" height="3.5" fill="#45a87a"/>
<rect x="447.2" y="29.8" width="2.6" height="2.6" fill="#2a2a35" opacity="0.32"/>
<rect x="445.4" y="33.5" width="6.2" height="3.5" fill="#45a87a"/>
<rect x="447.2" y="33.9" width="2.6" height="2.6" fill="#2a2a35" opacity="0.32"/>
<rect x="445.4" y="37.6" width="6.2" height="3.5" fill="#45a87a"/>
<rect x="447.2" y="38.0" width="2.6" height="2.6" fill="#2a2a35" opacity="0.32"/>
<rect x="445.4" y="41.7" width="6.2" height="3.5" fill="#45a87a"/>
<rect x="447.2" y="42.1" width="2.6" height="2.6" fill="#2a2a35" opacity="0.32"/>
<rect x="445.4" y="45.8" width="6.2" height="3.5" fill="#45a87a"/>
<rect x="447.2" y="46.2" width="2.6" height="2.6" fill="#2a2a35" opacity="0.32"/>
<rect x="445.4" y="49.9" width="6.2" height="3.5" fill="#45a87a"/>
<rect x="447.2" y="50.3" width="2.6" height="2.6" fill="#2a2a35" opacity="0.32"/>
<rect x="445.4" y="54.0" width="6.2" height="3.5" fill="#45a87a"/>
<rect x="447.2" y="54.4" width="2.6" height="2.6" fill="#2a2a35" opacity="0.32"/>
<rect x="445.4" y="58.1" width="6.2" height="3.5" fill="#45a87a"/>
<rect x="447.2" y="58.5" width="2.6" height="2.6" fill="#2a2a35" opacity="0.32"/>
<rect x="445.4" y="62.2" width="6.2" height="3.5" fill="#45a87a"/>
<rect x="447.2" y="62.6" width="2.6" height="2.6" fill="#2a2a35" opacity="0.32"/>
<rect x="445.4" y="66.3" width="6.2" height="3.5" fill="#45a87a"/>
<rect x="447.2" y="66.7" width="2.6" height="2.6" fill="#2a2a35" opacity="0.32"/>
<rect x="445.4" y="70.4" width="6.2" height="3.5" fill="#45a87a"/>
<rect x="447.2" y="70.8" width="2.6" height="2.6" fill="#2a2a35" opacity="0.32"/>
<rect x="445.4" y="74.5" width="6.2" height="3.5" fill="#45a87a"/>
<rect x="447.2" y="74.9" width="2.6" height="2.6" fill="#2a2a35" opacity="0.32"/>
<rect x="445.4" y="78.6" width="6.2" height="3.5" fill="#45a87a"/>
<rect x="447.2" y="79.0" width="2.6" height="2.6" fill="#2a2a35" opacity="0.32"/>
<rect x="445.4" y="82.7" width="6.2" height="3.5" fill="#45a87a"/>
<rect x="447.2" y="83.1" width="2.6" height="2.6" fill="#2a2a35" opacity="0.32"/>
<rect x="445.4" y="86.8" width="6.2" height="3.5" fill="#45a87a"/>
<rect x="447.2" y="87.2" width="2.6" height="2.6" fill="#2a2a35" opacity="0.32"/>
<rect x="445.4" y="90.9" width="6.2" height="3.5" fill="#45a87a"/>
<rect x="447.2" y="91.3" width="2.6" height="2.6" fill="#2a2a35" opacity="0.32"/>
<rect x="445.4" y="95.0" width="6.2" height="3.5" fill="#45a87a"/>
<rect x="447.2" y="95.4" width="2.6" height="2.6" fill="#2a2a35" opacity="0.32"/>
<rect x="445.4" y="99.1" width="6.2" height="3.5" fill="#45a87a"/>
<rect x="447.2" y="99.5" width="2.6" height="2.6" fill="#2a2a35" opacity="0.32"/>
<rect x="445.4" y="103.2" width="6.2" height="3.5" fill="#50505a"/>
<rect x="447.2" y="103.6" width="2.6" height="2.6" fill="#2a2a35" opacity="0.32"/>
<rect x="445.4" y="107.3" width="6.2" height="3.5" fill="#45a87a"/>
<rect x="447.2" y="107.7" width="2.6" height="2.6" fill="#2a2a35" opacity="0.32"/>
<rect x="445.4" y="111.4" width="6.2" height="3.5" fill="#45a87a"/>
<rect x="447.2" y="111.8" width="2.6" height="2.6" fill="#2a2a35" opacity="0.32"/>
<rect x="445.4" y="115.5" width="6.2" height="3.5" fill="#45a87a"/>
<rect x="447.2" y="115.9" width="2.6" height="2.6" fill="#2a2a35" opacity="0.32"/>
<rect x="445.4" y="119.6" width="6.2" height="3.5" fill="#45a87a"/>
<rect x="447.2" y="120.0" width="2.6" height="2.6" fill="#2a2a35" opacity="0.32"/>
<rect x="445.4" y="123.7" width="6.2" height="3.5" fill="#45a87a"/>
<rect x="447.2" y="124.1" width="2.6" height="2.6" fill="#2a2a35" opacity="0.32"/>
<rect x="451.6" y="13.0" width="6.2" height="3.5" fill="#50505a"/>
<rect x="453.4" y="13.4" width="2.6" height="2.6" fill="#2a2a35" opacity="0.32"/>
<rect x="451.6" y="17.1" width="6.2" height="3.5" fill="#50505a"/>
<rect x="453.4" y="17.5" width="2.6" height="2.6" fill="#2a2a35" opacity="0.32"/>
<rect x="451.6" y="21.2" width="6.2" height="3.5" fill="#50505a"/>
<rect x="453.4" y="21.6" width="2.6" height="2.6" fill="#2a2a35" opacity="0.32"/>
<rect x="451.6" y="25.3" width="6.2" height="3.5" fill="#50505a"/>
<rect x="453.4" y="25.7" width="2.6" height="2.6" fill="#2a2a35" opacity="0.32"/>
<rect x="451.6" y="29.4" width="6.2" height="3.5" fill="#50505a"/>
<rect x="453.4" y="29.8" width="2.6" height="2.6" fill="#2a2a35" opacity="0.32"/>
<rect x="451.6" y="33.5" width="6.2" height="3.5" fill="#50505a"/>
<rect x="453.4" y="33.9" width="2.6" height="2.6" fill="#2a2a35" opacity="0.32"/>
<rect x="451.6" y="37.6" width="6.2" height="3.5" fill="#50505a"/>
<rect x="453.4" y="38.0" width="2.6" height="2.6" fill="#2a2a35" opacity="0.32"/>
<rect x="451.6" y="41.7" width="6.2" height="3.5" fill="#50505a"/>
<rect x="453.4" y="42.1" width="2.6" height="2.6" fill="#2a2a35" opacity="0.32"/>
<rect x="451.6" y="45.8" width="6.2" height="3.5" fill="#50505a"/>
<rect x="453.4" y="46.2" width="2.6" height="2.6" fill="#2a2a35" opacity="0.32"/>
<rect x="451.6" y="49.9" width="6.2" height="3.5" fill="#50505a"/>
<rect x="453.4" y="50.3" width="2.6" height="2.6" fill="#2a2a35" opacity="0.32"/>
<rect x="451.6" y="54.0" width="6.2" height="3.5" fill="#50505a"/>
<rect x="453.4" y="54.4" width="2.6" height="2.6" fill="#2a2a35" opacity="0.32"/>
<rect x="451.6" y="58.1" width="6.2" height="3.5" fill="#50505a"/>
<rect x="453.4" y="58.5" width="2.6" height="2.6" fill="#2a2a35" opacity="0.32"/>
<rect x="451.6" y="62.2" width="6.2" height="3.5" fill="#50505a"/>
<rect x="453.4" y="62.6" width="2.6" height="2.6" fill="#2a2a35" opacity="0.32"/>
<rect x="451.6" y="66.3" width="6.2" height="3.5" fill="#50505a"/>
<rect x="453.4" y="66.7" width="2.6" height="2.6" fill="#2a2a35" opacity="0.32"/>
<rect x="451.6" y="70.4" width="6.2" height="3.5" fill="#50505a"/>
<rect x="453.4" y="70.8" width="2.6" height="2.6" fill="#2a2a35" opacity="0.32"/>
<rect x="451.6" y="74.5" width="6.2" height="3.5" fill="#50505a"/>
<rect x="453.4" y="74.9" width="2.6" height="2.6" fill="#2a2a35" opacity="0.32"/>
<rect x="451.6" y="78.6" width="6.2" height="3.5" fill="#50505a"/>
<rect x="453.4" y="79.0" width="2.6" height="2.6" fill="#2a2a35" opacity="0.32"/>
<rect x="451.6" y="82.7" width="6.2" height="3.5" fill="#50505a"/>
<rect x="453.4" y="83.1" width="2.6" height="2.6" fill="#2a2a35" opacity="0.32"/>
<rect x="451.6" y="86.8" width="6.2" height="3.5" fill="#8558b0"/>
<rect x="453.4" y="87.2" width="2.6" height="2.6" fill="#2a2a35" opacity="0.32"/>
<rect x="451.6" y="90.9" width="6.2" height="3.5" fill="#50505a"/>
<rect x="453.4" y="91.3" width="2.6" height="2.6" fill="#2a2a35" opacity="0.32"/>
<rect x="451.6" y="95.0" width="6.2" height="3.5" fill="#8558b0"/>
<rect x="453.4" y="95.4" width="2.6" height="2.6" fill="#2a2a35" opacity="0.32"/>
<rect x="451.6" y="99.1" width="6.2" height="3.5" fill="#50505a"/>
<rect x="453.4" y="99.5" width="2.6" height="2.6" fill="#2a2a35" opacity="0.32"/>
<rect x="451.6" y="103.2" width="6.2" height="3.5" fill="#50505a"/>
<rect x="453.4" y="103.6" width="2.6" height="2.6" fill="#2a2a35" opacity="0.32"/>
<rect x="451.6" y="107.3" width="6.2" height="3.5" fill="#50505a"/>
<rect x="453.4" y="107.7" width="2.6" height="2.6" fill="#2a2a35" opacity="0.32"/>
<rect x="451.6" y="111.4" width="6.2" height="3.5" fill="#50505a"/>
<rect x="453.4" y="111.8" width="2.6" height="2.6" fill="#2a2a35" opacity="0.32"/>
<rect x="451.6" y="115.5" width="6.2" height="3.5" fill="#50505a"/>
<rect x="453.4" y="115.9" width="2.6" height="2.6" fill="#2a2a35" opacity="0.32"/>
<rect x="451.6" y="119.6" width="6.2" height="3.5" fill="#50505a"/>
<rect x="453.4" y="120.0" width="2.6" height="2.6" fill="#2a2a35" opacity="0.32"/>
<rect x="451.6" y="123.7" width="6.2" height="3.5" fill="#50505a"/>
<rect x="453.4" y="124.1" width="2.6" height="2.6" fill="#2a2a35" opacity="0.32"/>
<rect x="457.8" y="13.0" width="6.2" height="3.5" fill="#45a87a"/>
<rect x="459.6" y="13.4" width="2.6" height="2.6" fill="#2a2a35" opacity="0.32"/>
<rect x="457.8" y="17.1" width="6.2" height="3.5" fill="#45a87a"/>
<rect x="459.6" y="17.5" width="2.6" height="2.6" fill="#2a2a35" opacity="0.32"/>
<rect x="457.8" y="21.2" width="6.2" height="3.5" fill="#45a87a"/>
<rect x="459.6" y="21.6" width="2.6" height="2.6" fill="#2a2a35" opacity="0.32"/>
<rect x="457.8" y="25.3" width="6.2" height="3.5" fill="#45a87a"/>
<rect x="459.6" y="25.7" width="2.6" height="2.6" fill="#2a2a35" opacity="0.32"/>
<rect x="457.8" y="29.4" width="6.2" height="3.5" fill="#45a87a"/>
<rect x="459.6" y="29.8" width="2.6" height="2.6" fill="#2a2a35" opacity="0.32"/>
<rect x="457.8" y="33.5" width="6.2" height="3.5" fill="#45a87a"/>
<rect x="459.6" y="33.9" width="2.6" height="2.6" fill="#2a2a35" opacity="0.32"/>
<rect x="457.8" y="37.6" width="6.2" height="3.5" fill="#45a87a"/>
<rect x="459.6" y="38.0" width="2.6" height="2.6" fill="#2a2a35" opacity="0.32"/>
<rect x="457.8" y="41.7" width="6.2" height="3.5" fill="#5a56a8"/>
<rect x="459.6" y="42.1" width="2.6" height="2.6" fill="#2a2a35" opacity="0.32"/>
<rect x="457.8" y="45.8" width="6.2" height="3.5" fill="#8558b0"/>
<rect x="459.6" y="46.2" width="2.6" height="2.6" fill="#2a2a35" opacity="0.32"/>
<rect x="457.8" y="49.9" width="6.2" height="3.5" fill="#45a87a"/>
<rect x="459.6" y="50.3" width="2.6" height="2.6" fill="#2a2a35" opacity="0.32"/>
<rect x="457.8" y="54.0" width="6.2" height="3.5" fill="#45a87a"/>
<rect x="459.6" y="54.4" width="2.6" height="2.6" fill="#2a2a35" opacity="0.32"/>
<rect x="457.8" y="58.1" width="6.2" height="3.5" fill="#45a87a"/>
<rect x="459.6" y="58.5" width="2.6" height="2.6" fill="#2a2a35" opacity="0.32"/>
<rect x="457.8" y="62.2" width="6.2" height="3.5" fill="#45a87a"/>
<rect x="459.6" y="62.6" width="2.6" height="2.6" fill="#2a2a35" opacity="0.32"/>
<rect x="457.8" y="66.3" width="6.2" height="3.5" fill="#45a87a"/>
<rect x="459.6" y="66.7" width="2.6" height="2.6" fill="#2a2a35" opacity="0.32"/>
<rect x="457.8" y="70.4" width="6.2" height="3.5" fill="#45a87a"/>
<rect x="459.6" y="70.8" width="2.6" height="2.6" fill="#2a2a35" opacity="0.32"/>
<rect x="457.8" y="74.5" width="6.2" height="3.5" fill="#45a87a"/>
<rect x="459.6" y="74.9" width="2.6" height="2.6" fill="#2a2a35" opacity="0.32"/>
<rect x="457.8" y="78.6" width="6.2" height="3.5" fill="#45a87a"/>
<rect x="459.6" y="79.0" width="2.6" height="2.6" fill="#2a2a35" opacity="0.32"/>
<rect x="457.8" y="82.7" width="6.2" height="3.5" fill="#5a56a8"/>
<rect x="459.6" y="83.1" width="2.6" height="2.6" fill="#2a2a35" opacity="0.32"/>
<rect x="457.8" y="86.8" width="6.2" height="3.5" fill="#45a87a"/>
<rect x="459.6" y="87.2" width="2.6" height="2.6" fill="#2a2a35" opacity="0.32"/>
<rect x="457.8" y="90.9" width="6.2" height="3.5" fill="#45a87a"/>
<rect x="459.6" y="91.3" width="2.6" height="2.6" fill="#2a2a35" opacity="0.32"/>
<rect x="457.8" y="95.0" width="6.2" height="3.5" fill="#45a87a"/>
<rect x="459.6" y="95.4" width="2.6" height="2.6" fill="#2a2a35" opacity="0.32"/>
<rect x="457.8" y="99.1" width="6.2" height="3.5" fill="#45a87a"/>
<rect x="459.6" y="99.5" width="2.6" height="2.6" fill="#2a2a35" opacity="0.32"/>
<rect x="457.8" y="103.2" width="6.2" height="3.5" fill="#5a56a8"/>
<rect x="459.6" y="103.6" width="2.6" height="2.6" fill="#2a2a35" opacity="0.32"/>
<rect x="457.8" y="107.3" width="6.2" height="3.5" fill="#5a56a8"/>
<rect x="459.6" y="107.7" width="2.6" height="2.6" fill="#2a2a35" opacity="0.32"/>
<rect x="457.8" y="111.4" width="6.2" height="3.5" fill="#5a56a8"/>
<rect x="459.6" y="111.8" width="2.6" height="2.6" fill="#2a2a35" opacity="0.32"/>
<rect x="457.8" y="115.5" width="6.2" height="3.5" fill="#45a87a"/>
<rect x="459.6" y="115.9" width="2.6" height="2.6" fill="#2a2a35" opacity="0.32"/>
<rect x="457.8" y="119.6" width="6.2" height="3.5" fill="#45a87a"/>
<rect x="459.6" y="120.0" width="2.6" height="2.6" fill="#2a2a35" opacity="0.32"/>
<rect x="457.8" y="123.7" width="6.2" height="3.5" fill="#8558b0"/>
<rect x="459.6" y="124.1" width="2.6" height="2.6" fill="#2a2a35" opacity="0.32"/>
<rect x="464.0" y="13.0" width="6.2" height="3.5" fill="#c4565a"/>
<rect x="465.8" y="13.4" width="2.6" height="2.6" fill="#2a2a35" opacity="0.32"/>
<rect x="464.0" y="17.1" width="6.2" height="3.5" fill="#c4565a"/>
<rect x="465.8" y="17.5" width="2.6" height="2.6" fill="#2a2a35" opacity="0.32"/>
<rect x="464.0" y="21.2" width="6.2" height="3.5" fill="#c4565a"/>
<rect x="465.8" y="21.6" width="2.6" height="2.6" fill="#2a2a35" opacity="0.32"/>
<rect x="464.0" y="25.3" width="6.2" height="3.5" fill="#c4565a"/>
<rect x="465.8" y="25.7" width="2.6" height="2.6" fill="#2a2a35" opacity="0.32"/>
<rect x="464.0" y="29.4" width="6.2" height="3.5" fill="#c4565a"/>
<rect x="465.8" y="29.8" width="2.6" height="2.6" fill="#2a2a35" opacity="0.32"/>
<rect x="464.0" y="33.5" width="6.2" height="3.5" fill="#c4565a"/>
<rect x="465.8" y="33.9" width="2.6" height="2.6" fill="#2a2a35" opacity="0.32"/>
<rect x="464.0" y="37.6" width="6.2" height="3.5" fill="#50505a"/>
<rect x="465.8" y="38.0" width="2.6" height="2.6" fill="#2a2a35" opacity="0.32"/>
<rect x="464.0" y="41.7" width="6.2" height="3.5" fill="#5a56a8"/>
<rect x="465.8" y="42.1" width="2.6" height="2.6" fill="#2a2a35" opacity="0.32"/>
<rect x="464.0" y="45.8" width="6.2" height="3.5" fill="#c4565a"/>
<rect x="465.8" y="46.2" width="2.6" height="2.6" fill="#2a2a35" opacity="0.32"/>
<rect x="464.0" y="49.9" width="6.2" height="3.5" fill="#c4565a"/>
<rect x="465.8" y="50.3" width="2.6" height="2.6" fill="#2a2a35" opacity="0.32"/>
<rect x="464.0" y="54.0" width="6.2" height="3.5" fill="#c4565a"/>
<rect x="465.8" y="54.4" width="2.6" height="2.6" fill="#2a2a35" opacity="0.32"/>
<rect x="464.0" y="58.1" width="6.2" height="3.5" fill="#50505a"/>
<rect x="465.8" y="58.5" width="2.6" height="2.6" fill="#2a2a35" opacity="0.32"/>
<rect x="464.0" y="62.2" width="6.2" height="3.5" fill="#c4565a"/>
<rect x="465.8" y="62.6" width="2.6" height="2.6" fill="#2a2a35" opacity="0.32"/>
<rect x="464.0" y="66.3" width="6.2" height="3.5" fill="#c4565a"/>
<rect x="465.8" y="66.7" width="2.6" height="2.6" fill="#2a2a35" opacity="0.32"/>
<rect x="464.0" y="70.4" width="6.2" height="3.5" fill="#5a56a8"/>
<rect x="465.8" y="70.8" width="2.6" height="2.6" fill="#2a2a35" opacity="0.32"/>
<rect x="464.0" y="74.5" width="6.2" height="3.5" fill="#c4565a"/>
<rect x="465.8" y="74.9" width="2.6" height="2.6" fill="#2a2a35" opacity="0.32"/>
<rect x="464.0" y="78.6" width="6.2" height="3.5" fill="#c4565a"/>
<rect x="465.8" y="79.0" width="2.6" height="2.6" fill="#2a2a35" opacity="0.32"/>
<rect x="464.0" y="82.7" width="6.2" height="3.5" fill="#50505a"/>
<rect x="465.8" y="83.1" width="2.6" height="2.6" fill="#2a2a35" opacity="0.32"/>
<rect x="464.0" y="86.8" width="6.2" height="3.5" fill="#c4565a"/>
<rect x="465.8" y="87.2" width="2.6" height="2.6" fill="#2a2a35" opacity="0.32"/>
<rect x="464.0" y="90.9" width="6.2" height="3.5" fill="#5a56a8"/>
<rect x="465.8" y="91.3" width="2.6" height="2.6" fill="#2a2a35" opacity="0.32"/>
<rect x="464.0" y="95.0" width="6.2" height="3.5" fill="#c4565a"/>
<rect x="465.8" y="95.4" width="2.6" height="2.6" fill="#2a2a35" opacity="0.32"/>
<rect x="464.0" y="99.1" width="6.2" height="3.5" fill="#c4565a"/>
<rect x="465.8" y="99.5" width="2.6" height="2.6" fill="#2a2a35" opacity="0.32"/>
<rect x="464.0" y="103.2" width="6.2" height="3.5" fill="#c4565a"/>
<rect x="465.8" y="103.6" width="2.6" height="2.6" fill="#2a2a35" opacity="0.32"/>
<rect x="464.0" y="107.3" width="6.2" height="3.5" fill="#c4565a"/>
<rect x="465.8" y="107.7" width="2.6" height="2.6" fill="#2a2a35" opacity="0.32"/>
<rect x="464.0" y="111.4" width="6.2" height="3.5" fill="#c4565a"/>
<rect x="465.8" y="111.8" width="2.6" height="2.6" fill="#2a2a35" opacity="0.32"/>
<rect x="464.0" y="115.5" width="6.2" height="3.5" fill="#c4565a"/>
<rect x="465.8" y="115.9" width="2.6" height="2.6" fill="#2a2a35" opacity="0.32"/>
<rect x="464.0" y="119.6" width="6.2" height="3.5" fill="#8558b0"/>
<rect x="465.8" y="120.0" width="2.6" height="2.6" fill="#2a2a35" opacity="0.32"/>
<rect x="464.0" y="123.7" width="6.2" height="3.5" fill="#c4565a"/>
<rect x="465.8" y="124.1" width="2.6" height="2.6" fill="#2a2a35" opacity="0.32"/>
<rect x="470.2" y="13.0" width="6.2" height="3.5" fill="#8558b0"/>
<rect x="472.0" y="13.4" width="2.6" height="2.6" fill="#2a2a35" opacity="0.32"/>
<rect x="470.2" y="17.1" width="6.2" height="3.5" fill="#8558b0"/>
<rect x="472.0" y="17.5" width="2.6" height="2.6" fill="#2a2a35" opacity="0.32"/>
<rect x="470.2" y="21.2" width="6.2" height="3.5" fill="#45a87a"/>
<rect x="472.0" y="21.6" width="2.6" height="2.6" fill="#2a2a35" opacity="0.32"/>
<rect x="470.2" y="25.3" width="6.2" height="3.5" fill="#45a87a"/>
<rect x="472.0" y="25.7" width="2.6" height="2.6" fill="#2a2a35" opacity="0.32"/>
<rect x="470.2" y="29.4" width="6.2" height="3.5" fill="#45a87a"/>
<rect x="472.0" y="29.8" width="2.6" height="2.6" fill="#2a2a35" opacity="0.32"/>
<rect x="470.2" y="33.5" width="6.2" height="3.5" fill="#45a87a"/>
<rect x="472.0" y="33.9" width="2.6" height="2.6" fill="#2a2a35" opacity="0.32"/>
<rect x="470.2" y="37.6" width="6.2" height="3.5" fill="#45a87a"/>
<rect x="472.0" y="38.0" width="2.6" height="2.6" fill="#2a2a35" opacity="0.32"/>
<rect x="470.2" y="41.7" width="6.2" height="3.5" fill="#45a87a"/>
<rect x="472.0" y="42.1" width="2.6" height="2.6" fill="#2a2a35" opacity="0.32"/>
<rect x="470.2" y="45.8" width="6.2" height="3.5" fill="#45a87a"/>
<rect x="472.0" y="46.2" width="2.6" height="2.6" fill="#2a2a35" opacity="0.32"/>
<rect x="470.2" y="49.9" width="6.2" height="3.5" fill="#45a87a"/>
<rect x="472.0" y="50.3" width="2.6" height="2.6" fill="#2a2a35" opacity="0.32"/>
<rect x="470.2" y="54.0" width="6.2" height="3.5" fill="#50505a"/>
<rect x="472.0" y="54.4" width="2.6" height="2.6" fill="#2a2a35" opacity="0.32"/>
<rect x="470.2" y="58.1" width="6.2" height="3.5" fill="#45a87a"/>
<rect x="472.0" y="58.5" width="2.6" height="2.6" fill="#2a2a35" opacity="0.32"/>
<rect x="470.2" y="62.2" width="6.2" height="3.5" fill="#45a87a"/>
<rect x="472.0" y="62.6" width="2.6" height="2.6" fill="#2a2a35" opacity="0.32"/>
<rect x="470.2" y="66.3" width="6.2" height="3.5" fill="#45a87a"/>
<rect x="472.0" y="66.7" width="2.6" height="2.6" fill="#2a2a35" opacity="0.32"/>
<rect x="470.2" y="70.4" width="6.2" height="3.5" fill="#45a87a"/>
<rect x="472.0" y="70.8" width="2.6" height="2.6" fill="#2a2a35" opacity="0.32"/>
<rect x="470.2" y="74.5" width="6.2" height="3.5" fill="#45a87a"/>
<rect x="472.0" y="74.9" width="2.6" height="2.6" fill="#2a2a35" opacity="0.32"/>
<rect x="470.2" y="78.6" width="6.2" height="3.5" fill="#45a87a"/>
<rect x="472.0" y="79.0" width="2.6" height="2.6" fill="#2a2a35" opacity="0.32"/>
<rect x="470.2" y="82.7" width="6.2" height="3.5" fill="#50505a"/>
<rect x="472.0" y="83.1" width="2.6" height="2.6" fill="#2a2a35" opacity="0.32"/>
<rect x="470.2" y="86.8" width="6.2" height="3.5" fill="#45a87a"/>
<rect x="472.0" y="87.2" width="2.6" height="2.6" fill="#2a2a35" opacity="0.32"/>
<rect x="470.2" y="90.9" width="6.2" height="3.5" fill="#45a87a"/>
<rect x="472.0" y="91.3" width="2.6" height="2.6" fill="#2a2a35" opacity="0.32"/>
<rect x="470.2" y="95.0" width="6.2" height="3.5" fill="#45a87a"/>
<rect x="472.0" y="95.4" width="2.6" height="2.6" fill="#2a2a35" opacity="0.32"/>
<rect x="470.2" y="99.1" width="6.2" height="3.5" fill="#45a87a"/>
<rect x="472.0" y="99.5" width="2.6" height="2.6" fill="#2a2a35" opacity="0.32"/>
<rect x="470.2" y="103.2" width="6.2" height="3.5" fill="#45a87a"/>
<rect x="472.0" y="103.6" width="2.6" height="2.6" fill="#2a2a35" opacity="0.32"/>
<rect x="470.2" y="107.3" width="6.2" height="3.5" fill="#45a87a"/>
<rect x="472.0" y="107.7" width="2.6" height="2.6" fill="#2a2a35" opacity="0.32"/>
<rect x="470.2" y="111.4" width="6.2" height="3.5" fill="#45a87a"/>
<rect x="472.0" y="111.8" width="2.6" height="2.6" fill="#2a2a35" opacity="0.32"/>
<rect x="470.2" y="115.5" width="6.2" height="3.5" fill="#8558b0"/>
<rect x="472.0" y="115.9" width="2.6" height="2.6" fill="#2a2a35" opacity="0.32"/>
<rect x="470.2" y="119.6" width="6.2" height="3.5" fill="#45a87a"/>
<rect x="472.0" y="120.0" width="2.6" height="2.6" fill="#2a2a35" opacity="0.32"/>
<rect x="470.2" y="123.7" width="6.2" height="3.5" fill="#45a87a"/>
<rect x="472.0" y="124.1" width="2.6" height="2.6" fill="#2a2a35" opacity="0.32"/>
<rect x="476.4" y="13.0" width="6.2" height="3.5" fill="#45a87a"/>
<rect x="478.2" y="13.4" width="2.6" height="2.6" fill="#2a2a35" opacity="0.32"/>
<rect x="476.4" y="17.1" width="6.2" height="3.5" fill="#45a87a"/>
<rect x="478.2" y="17.5" width="2.6" height="2.6" fill="#2a2a35" opacity="0.32"/>
<rect x="476.4" y="21.2" width="6.2" height="3.5" fill="#45a87a"/>
<rect x="478.2" y="21.6" width="2.6" height="2.6" fill="#2a2a35" opacity="0.32"/>
<rect x="476.4" y="25.3" width="6.2" height="3.5" fill="#8558b0"/>
<rect x="478.2" y="25.7" width="2.6" height="2.6" fill="#2a2a35" opacity="0.32"/>
<rect x="476.4" y="29.4" width="6.2" height="3.5" fill="#45a87a"/>
<rect x="478.2" y="29.8" width="2.6" height="2.6" fill="#2a2a35" opacity="0.32"/>
<rect x="476.4" y="33.5" width="6.2" height="3.5" fill="#45a87a"/>
<rect x="478.2" y="33.9" width="2.6" height="2.6" fill="#2a2a35" opacity="0.32"/>
<rect x="476.4" y="37.6" width="6.2" height="3.5" fill="#45a87a"/>
<rect x="478.2" y="38.0" width="2.6" height="2.6" fill="#2a2a35" opacity="0.32"/>
<rect x="476.4" y="41.7" width="6.2" height="3.5" fill="#45a87a"/>
<rect x="478.2" y="42.1" width="2.6" height="2.6" fill="#2a2a35" opacity="0.32"/>
<rect x="476.4" y="45.8" width="6.2" height="3.5" fill="#45a87a"/>
<rect x="478.2" y="46.2" width="2.6" height="2.6" fill="#2a2a35" opacity="0.32"/>
<rect x="476.4" y="49.9" width="6.2" height="3.5" fill="#45a87a"/>
<rect x="478.2" y="50.3" width="2.6" height="2.6" fill="#2a2a35" opacity="0.32"/>
<rect x="476.4" y="54.0" width="6.2" height="3.5" fill="#45a87a"/>
<rect x="478.2" y="54.4" width="2.6" height="2.6" fill="#2a2a35" opacity="0.32"/>
<rect x="476.4" y="58.1" width="6.2" height="3.5" fill="#45a87a"/>
<rect x="478.2" y="58.5" width="2.6" height="2.6" fill="#2a2a35" opacity="0.32"/>
<rect x="476.4" y="62.2" width="6.2" height="3.5" fill="#45a87a"/>
<rect x="478.2" y="62.6" width="2.6" height="2.6" fill="#2a2a35" opacity="0.32"/>
<rect x="476.4" y="66.3" width="6.2" height="3.5" fill="#45a87a"/>
<rect x="478.2" y="66.7" width="2.6" height="2.6" fill="#2a2a35" opacity="0.32"/>
<rect x="476.4" y="70.4" width="6.2" height="3.5" fill="#45a87a"/>
<rect x="478.2" y="70.8" width="2.6" height="2.6" fill="#2a2a35" opacity="0.32"/>
<rect x="476.4" y="74.5" width="6.2" height="3.5" fill="#45a87a"/>
<rect x="478.2" y="74.9" width="2.6" height="2.6" fill="#2a2a35" opacity="0.32"/>
<rect x="476.4" y="78.6" width="6.2" height="3.5" fill="#45a87a"/>
<rect x="478.2" y="79.0" width="2.6" height="2.6" fill="#2a2a35" opacity="0.32"/>
<rect x="476.4" y="82.7" width="6.2" height="3.5" fill="#45a87a"/>
<rect x="478.2" y="83.1" width="2.6" height="2.6" fill="#2a2a35" opacity="0.32"/>
<rect x="476.4" y="86.8" width="6.2" height="3.5" fill="#45a87a"/>
<rect x="478.2" y="87.2" width="2.6" height="2.6" fill="#2a2a35" opacity="0.32"/>
<rect x="476.4" y="90.9" width="6.2" height="3.5" fill="#45a87a"/>
<rect x="478.2" y="91.3" width="2.6" height="2.6" fill="#2a2a35" opacity="0.32"/>
<rect x="476.4" y="95.0" width="6.2" height="3.5" fill="#45a87a"/>
<rect x="478.2" y="95.4" width="2.6" height="2.6" fill="#2a2a35" opacity="0.32"/>
<rect x="476.4" y="99.1" width="6.2" height="3.5" fill="#50505a"/>
<rect x="478.2" y="99.5" width="2.6" height="2.6" fill="#2a2a35" opacity="0.32"/>
<rect x="476.4" y="103.2" width="6.2" height="3.5" fill="#45a87a"/>
<rect x="478.2" y="103.6" width="2.6" height="2.6" fill="#2a2a35" opacity="0.32"/>
<rect x="476.4" y="107.3" width="6.2" height="3.5" fill="#45a87a"/>
<rect x="478.2" y="107.7" width="2.6" height="2.6" fill="#2a2a35" opacity="0.32"/>
<rect x="476.4" y="111.4" width="6.2" height="3.5" fill="#45a87a"/>
<rect x="478.2" y="111.8" width="2.6" height="2.6" fill="#2a2a35" opacity="0.32"/>
<rect x="476.4" y="115.5" width="6.2" height="3.5" fill="#45a87a"/>
<rect x="478.2" y="115.9" width="2.6" height="2.6" fill="#2a2a35" opacity="0.32"/>
<rect x="476.4" y="119.6" width="6.2" height="3.5" fill="#45a87a"/>
<rect x="478.2" y="120.0" width="2.6" height="2.6" fill="#2a2a35" opacity="0.32"/>
<rect x="476.4" y="123.7" width="6.2" height="3.5" fill="#8558b0"/>
<rect x="478.2" y="124.1" width="2.6" height="2.6" fill="#2a2a35" opacity="0.32"/>
<rect x="482.6" y="13.0" width="6.2" height="3.5" fill="#5a56a8"/>
<rect x="484.4" y="13.4" width="2.6" height="2.6" fill="#2a2a35" opacity="0.32"/>
<rect x="482.6" y="17.1" width="6.2" height="3.5" fill="#8558b0"/>
<rect x="484.4" y="17.5" width="2.6" height="2.6" fill="#2a2a35" opacity="0.32"/>
<rect x="482.6" y="21.2" width="6.2" height="3.5" fill="#5a56a8"/>
<rect x="484.4" y="21.6" width="2.6" height="2.6" fill="#2a2a35" opacity="0.32"/>
<rect x="482.6" y="25.3" width="6.2" height="3.5" fill="#5a56a8"/>
<rect x="484.4" y="25.7" width="2.6" height="2.6" fill="#2a2a35" opacity="0.32"/>
<rect x="482.6" y="29.4" width="6.2" height="3.5" fill="#5a56a8"/>
<rect x="484.4" y="29.8" width="2.6" height="2.6" fill="#2a2a35" opacity="0.32"/>
<rect x="482.6" y="33.5" width="6.2" height="3.5" fill="#5a56a8"/>
<rect x="484.4" y="33.9" width="2.6" height="2.6" fill="#2a2a35" opacity="0.32"/>
<rect x="482.6" y="37.6" width="6.2" height="3.5" fill="#5a56a8"/>
<rect x="484.4" y="38.0" width="2.6" height="2.6" fill="#2a2a35" opacity="0.32"/>
<rect x="482.6" y="41.7" width="6.2" height="3.5" fill="#8558b0"/>
<rect x="484.4" y="42.1" width="2.6" height="2.6" fill="#2a2a35" opacity="0.32"/>
<rect x="482.6" y="45.8" width="6.2" height="3.5" fill="#5a56a8"/>
<rect x="484.4" y="46.2" width="2.6" height="2.6" fill="#2a2a35" opacity="0.32"/>
<rect x="482.6" y="49.9" width="6.2" height="3.5" fill="#8558b0"/>
<rect x="484.4" y="50.3" width="2.6" height="2.6" fill="#2a2a35" opacity="0.32"/>
<rect x="482.6" y="54.0" width="6.2" height="3.5" fill="#5a56a8"/>
<rect x="484.4" y="54.4" width="2.6" height="2.6" fill="#2a2a35" opacity="0.32"/>
<rect x="482.6" y="58.1" width="6.2" height="3.5" fill="#5a56a8"/>
<rect x="484.4" y="58.5" width="2.6" height="2.6" fill="#2a2a35" opacity="0.32"/>
<rect x="482.6" y="62.2" width="6.2" height="3.5" fill="#5a56a8"/>
<rect x="484.4" y="62.6" width="2.6" height="2.6" fill="#2a2a35" opacity="0.32"/>
<rect x="482.6" y="66.3" width="6.2" height="3.5" fill="#5a56a8"/>
<rect x="484.4" y="66.7" width="2.6" height="2.6" fill="#2a2a35" opacity="0.32"/>
<rect x="482.6" y="70.4" width="6.2" height="3.5" fill="#5a56a8"/>
<rect x="484.4" y="70.8" width="2.6" height="2.6" fill="#2a2a35" opacity="0.32"/>
<rect x="482.6" y="74.5" width="6.2" height="3.5" fill="#5a56a8"/>
<rect x="484.4" y="74.9" width="2.6" height="2.6" fill="#2a2a35" opacity="0.32"/>
<rect x="482.6" y="78.6" width="6.2" height="3.5" fill="#5a56a8"/>
<rect x="484.4" y="79.0" width="2.6" height="2.6" fill="#2a2a35" opacity="0.32"/>
<rect x="482.6" y="82.7" width="6.2" height="3.5" fill="#5a56a8"/>
<rect x="484.4" y="83.1" width="2.6" height="2.6" fill="#2a2a35" opacity="0.32"/>
<rect x="482.6" y="86.8" width="6.2" height="3.5" fill="#5a56a8"/>
<rect x="484.4" y="87.2" width="2.6" height="2.6" fill="#2a2a35" opacity="0.32"/>
<rect x="482.6" y="90.9" width="6.2" height="3.5" fill="#5a56a8"/>
<rect x="484.4" y="91.3" width="2.6" height="2.6" fill="#2a2a35" opacity="0.32"/>
<rect x="482.6" y="95.0" width="6.2" height="3.5" fill="#5a56a8"/>
<rect x="484.4" y="95.4" width="2.6" height="2.6" fill="#2a2a35" opacity="0.32"/>
<rect x="482.6" y="99.1" width="6.2" height="3.5" fill="#5a56a8"/>
<rect x="484.4" y="99.5" width="2.6" height="2.6" fill="#2a2a35" opacity="0.32"/>
<rect x="482.6" y="103.2" width="6.2" height="3.5" fill="#50505a"/>
<rect x="484.4" y="103.6" width="2.6" height="2.6" fill="#2a2a35" opacity="0.32"/>
<rect x="482.6" y="107.3" width="6.2" height="3.5" fill="#5a56a8"/>
<rect x="484.4" y="107.7" width="2.6" height="2.6" fill="#2a2a35" opacity="0.32"/>
<rect x="482.6" y="111.4" width="6.2" height="3.5" fill="#5a56a8"/>
<rect x="484.4" y="111.8" width="2.6" height="2.6" fill="#2a2a35" opacity="0.32"/>
<rect x="482.6" y="115.5" width="6.2" height="3.5" fill="#50505a"/>
<rect x="484.4" y="115.9" width="2.6" height="2.6" fill="#2a2a35" opacity="0.32"/>
<rect x="482.6" y="119.6" width="6.2" height="3.5" fill="#5a56a8"/>
<rect x="484.4" y="120.0" width="2.6" height="2.6" fill="#2a2a35" opacity="0.32"/>
<rect x="482.6" y="123.7" width="6.2" height="3.5" fill="#5a56a8"/>
<rect x="484.4" y="124.1" width="2.6" height="2.6" fill="#2a2a35" opacity="0.32"/>
<rect x="488.8" y="13.0" width="6.2" height="3.5" fill="#8558b0"/>
<rect x="490.6" y="13.4" width="2.6" height="2.6" fill="#2a2a35" opacity="0.32"/>
<rect x="488.8" y="17.1" width="6.2" height="3.5" fill="#8558b0"/>
<rect x="490.6" y="17.5" width="2.6" height="2.6" fill="#2a2a35" opacity="0.32"/>
<rect x="488.8" y="21.2" width="6.2" height="3.5" fill="#8558b0"/>
<rect x="490.6" y="21.6" width="2.6" height="2.6" fill="#2a2a35" opacity="0.32"/>
<rect x="488.8" y="25.3" width="6.2" height="3.5" fill="#8558b0"/>
<rect x="490.6" y="25.7" width="2.6" height="2.6" fill="#2a2a35" opacity="0.32"/>
<rect x="488.8" y="29.4" width="6.2" height="3.5" fill="#8558b0"/>
<rect x="490.6" y="29.8" width="2.6" height="2.6" fill="#2a2a35" opacity="0.32"/>
<rect x="488.8" y="33.5" width="6.2" height="3.5" fill="#8558b0"/>
<rect x="490.6" y="33.9" width="2.6" height="2.6" fill="#2a2a35" opacity="0.32"/>
<rect x="488.8" y="37.6" width="6.2" height="3.5" fill="#8558b0"/>
<rect x="490.6" y="38.0" width="2.6" height="2.6" fill="#2a2a35" opacity="0.32"/>
<rect x="488.8" y="41.7" width="6.2" height="3.5" fill="#8558b0"/>
<rect x="490.6" y="42.1" width="2.6" height="2.6" fill="#2a2a35" opacity="0.32"/>
<rect x="488.8" y="45.8" width="6.2" height="3.5" fill="#8558b0"/>
<rect x="490.6" y="46.2" width="2.6" height="2.6" fill="#2a2a35" opacity="0.32"/>
<rect x="488.8" y="49.9" width="6.2" height="3.5" fill="#8558b0"/>
<rect x="490.6" y="50.3" width="2.6" height="2.6" fill="#2a2a35" opacity="0.32"/>
<rect x="488.8" y="54.0" width="6.2" height="3.5" fill="#8558b0"/>
<rect x="490.6" y="54.4" width="2.6" height="2.6" fill="#2a2a35" opacity="0.32"/>
<rect x="488.8" y="58.1" width="6.2" height="3.5" fill="#8558b0"/>
<rect x="490.6" y="58.5" width="2.6" height="2.6" fill="#2a2a35" opacity="0.32"/>
<rect x="488.8" y="62.2" width="6.2" height="3.5" fill="#8558b0"/>
<rect x="490.6" y="62.6" width="2.6" height="2.6" fill="#2a2a35" opacity="0.32"/>
<rect x="488.8" y="66.3" width="6.2" height="3.5" fill="#8558b0"/>
<rect x="490.6" y="66.7" width="2.6" height="2.6" fill="#2a2a35" opacity="0.32"/>
<rect x="488.8" y="70.4" width="6.2" height="3.5" fill="#8558b0"/>
<rect x="490.6" y="70.8" width="2.6" height="2.6" fill="#2a2a35" opacity="0.32"/>
<rect x="488.8" y="74.5" width="6.2" height="3.5" fill="#8558b0"/>
<rect x="490.6" y="74.9" width="2.6" height="2.6" fill="#2a2a35" opacity="0.32"/>
<rect x="488.8" y="78.6" width="6.2" height="3.5" fill="#50505a"/>
<rect x="490.6" y="79.0" width="2.6" height="2.6" fill="#2a2a35" opacity="0.32"/>
<rect x="488.8" y="82.7" width="6.2" height="3.5" fill="#8558b0"/>
<rect x="490.6" y="83.1" width="2.6" height="2.6" fill="#2a2a35" opacity="0.32"/>
<rect x="488.8" y="86.8" width="6.2" height="3.5" fill="#8558b0"/>
<rect x="490.6" y="87.2" width="2.6" height="2.6" fill="#2a2a35" opacity="0.32"/>
<rect x="488.8" y="90.9" width="6.2" height="3.5" fill="#8558b0"/>
<rect x="490.6" y="91.3" width="2.6" height="2.6" fill="#2a2a35" opacity="0.32"/>
<rect x="488.8" y="95.0" width="6.2" height="3.5" fill="#8558b0"/>
<rect x="490.6" y="95.4" width="2.6" height="2.6" fill="#2a2a35" opacity="0.32"/>
<rect x="488.8" y="99.1" width="6.2" height="3.5" fill="#8558b0"/>
<rect x="490.6" y="99.5" width="2.6" height="2.6" fill="#2a2a35" opacity="0.32"/>
<rect x="488.8" y="103.2" width="6.2" height="3.5" fill="#8558b0"/>
<rect x="490.6" y="103.6" width="2.6" height="2.6" fill="#2a2a35" opacity="0.32"/>
<rect x="488.8" y="107.3" width="6.2" height="3.5" fill="#8558b0"/>
<rect x="490.6" y="107.7" width="2.6" height="2.6" fill="#2a2a35" opacity="0.32"/>
<rect x="488.8" y="111.4" width="6.2" height="3.5" fill="#8558b0"/>
<rect x="490.6" y="111.8" width="2.6" height="2.6" fill="#2a2a35" opacity="0.32"/>
<rect x="488.8" y="115.5" width="6.2" height="3.5" fill="#8558b0"/>
<rect x="490.6" y="115.9" width="2.6" height="2.6" fill="#2a2a35" opacity="0.32"/>
<rect x="488.8" y="119.6" width="6.2" height="3.5" fill="#8558b0"/>
<rect x="490.6" y="120.0" width="2.6" height="2.6" fill="#2a2a35" opacity="0.32"/>
<rect x="488.8" y="123.7" width="6.2" height="3.5" fill="#8558b0"/>
<rect x="490.6" y="124.1" width="2.6" height="2.6" fill="#2a2a35" opacity="0.32"/>
<rect x="495.0" y="13.0" width="6.2" height="3.5" fill="#45a87a"/>
<rect x="496.8" y="13.4" width="2.6" height="2.6" fill="#2a2a35" opacity="0.32"/>
<rect x="495.0" y="17.1" width="6.2" height="3.5" fill="#45a87a"/>
<rect x="496.8" y="17.5" width="2.6" height="2.6" fill="#2a2a35" opacity="0.32"/>
<rect x="495.0" y="21.2" width="6.2" height="3.5" fill="#5a56a8"/>
<rect x="496.8" y="21.6" width="2.6" height="2.6" fill="#2a2a35" opacity="0.32"/>
<rect x="495.0" y="25.3" width="6.2" height="3.5" fill="#45a87a"/>
<rect x="496.8" y="25.7" width="2.6" height="2.6" fill="#2a2a35" opacity="0.32"/>
<rect x="495.0" y="29.4" width="6.2" height="3.5" fill="#45a87a"/>
<rect x="496.8" y="29.8" width="2.6" height="2.6" fill="#2a2a35" opacity="0.32"/>
<rect x="495.0" y="33.5" width="6.2" height="3.5" fill="#45a87a"/>
<rect x="496.8" y="33.9" width="2.6" height="2.6" fill="#2a2a35" opacity="0.32"/>
<rect x="495.0" y="37.6" width="6.2" height="3.5" fill="#45a87a"/>
<rect x="496.8" y="38.0" width="2.6" height="2.6" fill="#2a2a35" opacity="0.32"/>
<rect x="495.0" y="41.7" width="6.2" height="3.5" fill="#45a87a"/>
<rect x="496.8" y="42.1" width="2.6" height="2.6" fill="#2a2a35" opacity="0.32"/>
<rect x="495.0" y="45.8" width="6.2" height="3.5" fill="#45a87a"/>
<rect x="496.8" y="46.2" width="2.6" height="2.6" fill="#2a2a35" opacity="0.32"/>
<rect x="495.0" y="49.9" width="6.2" height="3.5" fill="#45a87a"/>
<rect x="496.8" y="50.3" width="2.6" height="2.6" fill="#2a2a35" opacity="0.32"/>
<rect x="495.0" y="54.0" width="6.2" height="3.5" fill="#45a87a"/>
<rect x="496.8" y="54.4" width="2.6" height="2.6" fill="#2a2a35" opacity="0.32"/>
<rect x="495.0" y="58.1" width="6.2" height="3.5" fill="#45a87a"/>
<rect x="496.8" y="58.5" width="2.6" height="2.6" fill="#2a2a35" opacity="0.32"/>
<rect x="495.0" y="62.2" width="6.2" height="3.5" fill="#45a87a"/>
<rect x="496.8" y="62.6" width="2.6" height="2.6" fill="#2a2a35" opacity="0.32"/>
<rect x="495.0" y="66.3" width="6.2" height="3.5" fill="#50505a"/>
<rect x="496.8" y="66.7" width="2.6" height="2.6" fill="#2a2a35" opacity="0.32"/>
<rect x="495.0" y="70.4" width="6.2" height="3.5" fill="#50505a"/>
<rect x="496.8" y="70.8" width="2.6" height="2.6" fill="#2a2a35" opacity="0.32"/>
<rect x="495.0" y="74.5" width="6.2" height="3.5" fill="#45a87a"/>
<rect x="496.8" y="74.9" width="2.6" height="2.6" fill="#2a2a35" opacity="0.32"/>
<rect x="495.0" y="78.6" width="6.2" height="3.5" fill="#8558b0"/>
<rect x="496.8" y="79.0" width="2.6" height="2.6" fill="#2a2a35" opacity="0.32"/>
<rect x="495.0" y="82.7" width="6.2" height="3.5" fill="#45a87a"/>
<rect x="496.8" y="83.1" width="2.6" height="2.6" fill="#2a2a35" opacity="0.32"/>
<rect x="495.0" y="86.8" width="6.2" height="3.5" fill="#8558b0"/>
<rect x="496.8" y="87.2" width="2.6" height="2.6" fill="#2a2a35" opacity="0.32"/>
<rect x="495.0" y="90.9" width="6.2" height="3.5" fill="#50505a"/>
<rect x="496.8" y="91.3" width="2.6" height="2.6" fill="#2a2a35" opacity="0.32"/>
<rect x="495.0" y="95.0" width="6.2" height="3.5" fill="#45a87a"/>
<rect x="496.8" y="95.4" width="2.6" height="2.6" fill="#2a2a35" opacity="0.32"/>
<rect x="495.0" y="99.1" width="6.2" height="3.5" fill="#45a87a"/>
<rect x="496.8" y="99.5" width="2.6" height="2.6" fill="#2a2a35" opacity="0.32"/>
<rect x="495.0" y="103.2" width="6.2" height="3.5" fill="#45a87a"/>
<rect x="496.8" y="103.6" width="2.6" height="2.6" fill="#2a2a35" opacity="0.32"/>
<rect x="495.0" y="107.3" width="6.2" height="3.5" fill="#45a87a"/>
<rect x="496.8" y="107.7" width="2.6" height="2.6" fill="#2a2a35" opacity="0.32"/>
<rect x="495.0" y="111.4" width="6.2" height="3.5" fill="#45a87a"/>
<rect x="496.8" y="111.8" width="2.6" height="2.6" fill="#2a2a35" opacity="0.32"/>
<rect x="495.0" y="115.5" width="6.2" height="3.5" fill="#45a87a"/>
<rect x="496.8" y="115.9" width="2.6" height="2.6" fill="#2a2a35" opacity="0.32"/>
<rect x="495.0" y="119.6" width="6.2" height="3.5" fill="#45a87a"/>
<rect x="496.8" y="120.0" width="2.6" height="2.6" fill="#2a2a35" opacity="0.32"/>
<rect x="495.0" y="123.7" width="6.2" height="3.5" fill="#45a87a"/>
<rect x="496.8" y="124.1" width="2.6" height="2.6" fill="#2a2a35" opacity="0.32"/>
<rect x="501.2" y="13.0" width="6.2" height="3.5" fill="#45a87a"/>
<rect x="503.0" y="13.4" width="2.6" height="2.6" fill="#2a2a35" opacity="0.32"/>
<rect x="501.2" y="17.1" width="6.2" height="3.5" fill="#45a87a"/>
<rect x="503.0" y="17.5" width="2.6" height="2.6" fill="#2a2a35" opacity="0.32"/>
<rect x="501.2" y="21.2" width="6.2" height="3.5" fill="#45a87a"/>
<rect x="503.0" y="21.6" width="2.6" height="2.6" fill="#2a2a35" opacity="0.32"/>
<rect x="501.2" y="25.3" width="6.2" height="3.5" fill="#50505a"/>
<rect x="503.0" y="25.7" width="2.6" height="2.6" fill="#2a2a35" opacity="0.32"/>
<rect x="501.2" y="29.4" width="6.2" height="3.5" fill="#45a87a"/>
<rect x="503.0" y="29.8" width="2.6" height="2.6" fill="#2a2a35" opacity="0.32"/>
<rect x="501.2" y="33.5" width="6.2" height="3.5" fill="#45a87a"/>
<rect x="503.0" y="33.9" width="2.6" height="2.6" fill="#2a2a35" opacity="0.32"/>
<rect x="501.2" y="37.6" width="6.2" height="3.5" fill="#45a87a"/>
<rect x="503.0" y="38.0" width="2.6" height="2.6" fill="#2a2a35" opacity="0.32"/>
<rect x="501.2" y="41.7" width="6.2" height="3.5" fill="#45a87a"/>
<rect x="503.0" y="42.1" width="2.6" height="2.6" fill="#2a2a35" opacity="0.32"/>
<rect x="501.2" y="45.8" width="6.2" height="3.5" fill="#45a87a"/>
<rect x="503.0" y="46.2" width="2.6" height="2.6" fill="#2a2a35" opacity="0.32"/>
<rect x="501.2" y="49.9" width="6.2" height="3.5" fill="#45a87a"/>
<rect x="503.0" y="50.3" width="2.6" height="2.6" fill="#2a2a35" opacity="0.32"/>
<rect x="501.2" y="54.0" width="6.2" height="3.5" fill="#45a87a"/>
<rect x="503.0" y="54.4" width="2.6" height="2.6" fill="#2a2a35" opacity="0.32"/>
<rect x="501.2" y="58.1" width="6.2" height="3.5" fill="#45a87a"/>
<rect x="503.0" y="58.5" width="2.6" height="2.6" fill="#2a2a35" opacity="0.32"/>
<rect x="501.2" y="62.2" width="6.2" height="3.5" fill="#45a87a"/>
<rect x="503.0" y="62.6" width="2.6" height="2.6" fill="#2a2a35" opacity="0.32"/>
<rect x="501.2" y="66.3" width="6.2" height="3.5" fill="#45a87a"/>
<rect x="503.0" y="66.7" width="2.6" height="2.6" fill="#2a2a35" opacity="0.32"/>
<rect x="501.2" y="70.4" width="6.2" height="3.5" fill="#45a87a"/>
<rect x="503.0" y="70.8" width="2.6" height="2.6" fill="#2a2a35" opacity="0.32"/>
<rect x="501.2" y="74.5" width="6.2" height="3.5" fill="#8558b0"/>
<rect x="503.0" y="74.9" width="2.6" height="2.6" fill="#2a2a35" opacity="0.32"/>
<rect x="501.2" y="78.6" width="6.2" height="3.5" fill="#45a87a"/>
<rect x="503.0" y="79.0" width="2.6" height="2.6" fill="#2a2a35" opacity="0.32"/>
<rect x="501.2" y="82.7" width="6.2" height="3.5" fill="#45a87a"/>
<rect x="503.0" y="83.1" width="2.6" height="2.6" fill="#2a2a35" opacity="0.32"/>
<rect x="501.2" y="86.8" width="6.2" height="3.5" fill="#45a87a"/>
<rect x="503.0" y="87.2" width="2.6" height="2.6" fill="#2a2a35" opacity="0.32"/>
<rect x="501.2" y="90.9" width="6.2" height="3.5" fill="#45a87a"/>
<rect x="503.0" y="91.3" width="2.6" height="2.6" fill="#2a2a35" opacity="0.32"/>
<rect x="501.2" y="95.0" width="6.2" height="3.5" fill="#45a87a"/>
<rect x="503.0" y="95.4" width="2.6" height="2.6" fill="#2a2a35" opacity="0.32"/>
<rect x="501.2" y="99.1" width="6.2" height="3.5" fill="#45a87a"/>
<rect x="503.0" y="99.5" width="2.6" height="2.6" fill="#2a2a35" opacity="0.32"/>
<rect x="501.2" y="103.2" width="6.2" height="3.5" fill="#45a87a"/>
<rect x="503.0" y="103.6" width="2.6" height="2.6" fill="#2a2a35" opacity="0.32"/>
<rect x="501.2" y="107.3" width="6.2" height="3.5" fill="#45a87a"/>
<rect x="503.0" y="107.7" width="2.6" height="2.6" fill="#2a2a35" opacity="0.32"/>
<rect x="501.2" y="111.4" width="6.2" height="3.5" fill="#45a87a"/>
<rect x="503.0" y="111.8" width="2.6" height="2.6" fill="#2a2a35" opacity="0.32"/>
<rect x="501.2" y="115.5" width="6.2" height="3.5" fill="#50505a"/>
<rect x="503.0" y="115.9" width="2.6" height="2.6" fill="#2a2a35" opacity="0.32"/>
<rect x="501.2" y="119.6" width="6.2" height="3.5" fill="#45a87a"/>
<rect x="503.0" y="120.0" width="2.6" height="2.6" fill="#2a2a35" opacity="0.32"/>
<rect x="501.2" y="123.7" width="6.2" height="3.5" fill="#45a87a"/>
<rect x="503.0" y="124.1" width="2.6" height="2.6" fill="#2a2a35" opacity="0.32"/>
<rect x="507.4" y="13.0" width="6.2" height="3.5" fill="#5a56a8"/>
<rect x="509.2" y="13.4" width="2.6" height="2.6" fill="#2a2a35" opacity="0.32"/>
<rect x="507.4" y="17.1" width="6.2" height="3.5" fill="#5a56a8"/>
<rect x="509.2" y="17.5" width="2.6" height="2.6" fill="#2a2a35" opacity="0.32"/>
<rect x="507.4" y="21.2" width="6.2" height="3.5" fill="#5a56a8"/>
<rect x="509.2" y="21.6" width="2.6" height="2.6" fill="#2a2a35" opacity="0.32"/>
<rect x="507.4" y="25.3" width="6.2" height="3.5" fill="#5a56a8"/>
<rect x="509.2" y="25.7" width="2.6" height="2.6" fill="#2a2a35" opacity="0.32"/>
<rect x="507.4" y="29.4" width="6.2" height="3.5" fill="#5a56a8"/>
<rect x="509.2" y="29.8" width="2.6" height="2.6" fill="#2a2a35" opacity="0.32"/>
<rect x="507.4" y="33.5" width="6.2" height="3.5" fill="#5a56a8"/>
<rect x="509.2" y="33.9" width="2.6" height="2.6" fill="#2a2a35" opacity="0.32"/>
<rect x="507.4" y="37.6" width="6.2" height="3.5" fill="#5a56a8"/>
<rect x="509.2" y="38.0" width="2.6" height="2.6" fill="#2a2a35" opacity="0.32"/>
<rect x="507.4" y="41.7" width="6.2" height="3.5" fill="#5a56a8"/>
<rect x="509.2" y="42.1" width="2.6" height="2.6" fill="#2a2a35" opacity="0.32"/>
<rect x="507.4" y="45.8" width="6.2" height="3.5" fill="#5a56a8"/>
<rect x="509.2" y="46.2" width="2.6" height="2.6" fill="#2a2a35" opacity="0.32"/>
<rect x="507.4" y="49.9" width="6.2" height="3.5" fill="#5a56a8"/>
<rect x="509.2" y="50.3" width="2.6" height="2.6" fill="#2a2a35" opacity="0.32"/>
<rect x="507.4" y="54.0" width="6.2" height="3.5" fill="#5a56a8"/>
<rect x="509.2" y="54.4" width="2.6" height="2.6" fill="#2a2a35" opacity="0.32"/>
<rect x="507.4" y="58.1" width="6.2" height="3.5" fill="#5a56a8"/>
<rect x="509.2" y="58.5" width="2.6" height="2.6" fill="#2a2a35" opacity="0.32"/>
<rect x="507.4" y="62.2" width="6.2" height="3.5" fill="#5a56a8"/>
<rect x="509.2" y="62.6" width="2.6" height="2.6" fill="#2a2a35" opacity="0.32"/>
<rect x="507.4" y="66.3" width="6.2" height="3.5" fill="#5a56a8"/>
<rect x="509.2" y="66.7" width="2.6" height="2.6" fill="#2a2a35" opacity="0.32"/>
<rect x="507.4" y="70.4" width="6.2" height="3.5" fill="#8558b0"/>
<rect x="509.2" y="70.8" width="2.6" height="2.6" fill="#2a2a35" opacity="0.32"/>
<rect x="507.4" y="74.5" width="6.2" height="3.5" fill="#5a56a8"/>
<rect x="509.2" y="74.9" width="2.6" height="2.6" fill="#2a2a35" opacity="0.32"/>
<rect x="507.4" y="78.6" width="6.2" height="3.5" fill="#5a56a8"/>
<rect x="509.2" y="79.0" width="2.6" height="2.6" fill="#2a2a35" opacity="0.32"/>
<rect x="507.4" y="82.7" width="6.2" height="3.5" fill="#5a56a8"/>
<rect x="509.2" y="83.1" width="2.6" height="2.6" fill="#2a2a35" opacity="0.32"/>
<rect x="507.4" y="86.8" width="6.2" height="3.5" fill="#5a56a8"/>
<rect x="509.2" y="87.2" width="2.6" height="2.6" fill="#2a2a35" opacity="0.32"/>
<rect x="507.4" y="90.9" width="6.2" height="3.5" fill="#5a56a8"/>
<rect x="509.2" y="91.3" width="2.6" height="2.6" fill="#2a2a35" opacity="0.32"/>
<rect x="507.4" y="95.0" width="6.2" height="3.5" fill="#5a56a8"/>
<rect x="509.2" y="95.4" width="2.6" height="2.6" fill="#2a2a35" opacity="0.32"/>
<rect x="507.4" y="99.1" width="6.2" height="3.5" fill="#5a56a8"/>
<rect x="509.2" y="99.5" width="2.6" height="2.6" fill="#2a2a35" opacity="0.32"/>
<rect x="507.4" y="103.2" width="6.2" height="3.5" fill="#5a56a8"/>
<rect x="509.2" y="103.6" width="2.6" height="2.6" fill="#2a2a35" opacity="0.32"/>
<rect x="507.4" y="107.3" width="6.2" height="3.5" fill="#5a56a8"/>
<rect x="509.2" y="107.7" width="2.6" height="2.6" fill="#2a2a35" opacity="0.32"/>
<rect x="507.4" y="111.4" width="6.2" height="3.5" fill="#5a56a8"/>
<rect x="509.2" y="111.8" width="2.6" height="2.6" fill="#2a2a35" opacity="0.32"/>
<rect x="507.4" y="115.5" width="6.2" height="3.5" fill="#5a56a8"/>
<rect x="509.2" y="115.9" width="2.6" height="2.6" fill="#2a2a35" opacity="0.32"/>
<rect x="507.4" y="119.6" width="6.2" height="3.5" fill="#5a56a8"/>
<rect x="509.2" y="120.0" width="2.6" height="2.6" fill="#2a2a35" opacity="0.32"/>
<rect x="507.4" y="123.7" width="6.2" height="3.5" fill="#5a56a8"/>
<rect x="509.2" y="124.1" width="2.6" height="2.6" fill="#2a2a35" opacity="0.32"/>
<rect x="513.6" y="13.0" width="6.2" height="3.5" fill="#5a56a8"/>
<rect x="515.4" y="13.4" width="2.6" height="2.6" fill="#2a2a35" opacity="0.32"/>
<rect x="513.6" y="17.1" width="6.2" height="3.5" fill="#5a56a8"/>
<rect x="515.4" y="17.5" width="2.6" height="2.6" fill="#2a2a35" opacity="0.32"/>
<rect x="513.6" y="21.2" width="6.2" height="3.5" fill="#5a56a8"/>
<rect x="515.4" y="21.6" width="2.6" height="2.6" fill="#2a2a35" opacity="0.32"/>
<rect x="513.6" y="25.3" width="6.2" height="3.5" fill="#5a56a8"/>
<rect x="515.4" y="25.7" width="2.6" height="2.6" fill="#2a2a35" opacity="0.32"/>
<rect x="513.6" y="29.4" width="6.2" height="3.5" fill="#5a56a8"/>
<rect x="515.4" y="29.8" width="2.6" height="2.6" fill="#2a2a35" opacity="0.32"/>
<rect x="513.6" y="33.5" width="6.2" height="3.5" fill="#5a56a8"/>
<rect x="515.4" y="33.9" width="2.6" height="2.6" fill="#2a2a35" opacity="0.32"/>
<rect x="513.6" y="37.6" width="6.2" height="3.5" fill="#5a56a8"/>
<rect x="515.4" y="38.0" width="2.6" height="2.6" fill="#2a2a35" opacity="0.32"/>
<rect x="513.6" y="41.7" width="6.2" height="3.5" fill="#5a56a8"/>
<rect x="515.4" y="42.1" width="2.6" height="2.6" fill="#2a2a35" opacity="0.32"/>
<rect x="513.6" y="45.8" width="6.2" height="3.5" fill="#5a56a8"/>
<rect x="515.4" y="46.2" width="2.6" height="2.6" fill="#2a2a35" opacity="0.32"/>
<rect x="513.6" y="49.9" width="6.2" height="3.5" fill="#5a56a8"/>
<rect x="515.4" y="50.3" width="2.6" height="2.6" fill="#2a2a35" opacity="0.32"/>
<rect x="513.6" y="54.0" width="6.2" height="3.5" fill="#5a56a8"/>
<rect x="515.4" y="54.4" width="2.6" height="2.6" fill="#2a2a35" opacity="0.32"/>
<rect x="513.6" y="58.1" width="6.2" height="3.5" fill="#5a56a8"/>
<rect x="515.4" y="58.5" width="2.6" height="2.6" fill="#2a2a35" opacity="0.32"/>
<rect x="513.6" y="62.2" width="6.2" height="3.5" fill="#5a56a8"/>
<rect x="515.4" y="62.6" width="2.6" height="2.6" fill="#2a2a35" opacity="0.32"/>
<rect x="513.6" y="66.3" width="6.2" height="3.5" fill="#5a56a8"/>
<rect x="515.4" y="66.7" width="2.6" height="2.6" fill="#2a2a35" opacity="0.32"/>
<rect x="513.6" y="70.4" width="6.2" height="3.5" fill="#5a56a8"/>
<rect x="515.4" y="70.8" width="2.6" height="2.6" fill="#2a2a35" opacity="0.32"/>
<rect x="513.6" y="74.5" width="6.2" height="3.5" fill="#5a56a8"/>
<rect x="515.4" y="74.9" width="2.6" height="2.6" fill="#2a2a35" opacity="0.32"/>
<rect x="513.6" y="78.6" width="6.2" height="3.5" fill="#5a56a8"/>
<rect x="515.4" y="79.0" width="2.6" height="2.6" fill="#2a2a35" opacity="0.32"/>
<rect x="513.6" y="82.7" width="6.2" height="3.5" fill="#5a56a8"/>
<rect x="515.4" y="83.1" width="2.6" height="2.6" fill="#2a2a35" opacity="0.32"/>
<rect x="513.6" y="86.8" width="6.2" height="3.5" fill="#5a56a8"/>
<rect x="515.4" y="87.2" width="2.6" height="2.6" fill="#2a2a35" opacity="0.32"/>
<rect x="513.6" y="90.9" width="6.2" height="3.5" fill="#5a56a8"/>
<rect x="515.4" y="91.3" width="2.6" height="2.6" fill="#2a2a35" opacity="0.32"/>
<rect x="513.6" y="95.0" width="6.2" height="3.5" fill="#5a56a8"/>
<rect x="515.4" y="95.4" width="2.6" height="2.6" fill="#2a2a35" opacity="0.32"/>
<rect x="513.6" y="99.1" width="6.2" height="3.5" fill="#5a56a8"/>
<rect x="515.4" y="99.5" width="2.6" height="2.6" fill="#2a2a35" opacity="0.32"/>
<rect x="513.6" y="103.2" width="6.2" height="3.5" fill="#8558b0"/>
<rect x="515.4" y="103.6" width="2.6" height="2.6" fill="#2a2a35" opacity="0.32"/>
<rect x="513.6" y="107.3" width="6.2" height="3.5" fill="#5a56a8"/>
<rect x="515.4" y="107.7" width="2.6" height="2.6" fill="#2a2a35" opacity="0.32"/>
<rect x="513.6" y="111.4" width="6.2" height="3.5" fill="#5a56a8"/>
<rect x="515.4" y="111.8" width="2.6" height="2.6" fill="#2a2a35" opacity="0.32"/>
<rect x="513.6" y="115.5" width="6.2" height="3.5" fill="#5a56a8"/>
<rect x="515.4" y="115.9" width="2.6" height="2.6" fill="#2a2a35" opacity="0.32"/>
<rect x="513.6" y="119.6" width="6.2" height="3.5" fill="#8558b0"/>
<rect x="515.4" y="120.0" width="2.6" height="2.6" fill="#2a2a35" opacity="0.32"/>
<rect x="513.6" y="123.7" width="6.2" height="3.5" fill="#5a56a8"/>
<rect x="515.4" y="124.1" width="2.6" height="2.6" fill="#2a2a35" opacity="0.32"/>
<rect x="400" y="10" width="120" height="120" fill="#ffffff" opacity="0.0"/>
</g>

<!-- right side panel -->
<polygon points="584,57 601,63 601,186 584,189" fill="url(#hsSide)"/>
<line x1="584" y1="57" x2="584" y2="189" stroke="#b5b8bb" stroke-width="0.8"/>
<rect x="592" y="95" width="2" height="60" fill="#b8babd"/>
<path d="M505,186 L600,190 L630,186 L630,190 L600,194 L505,190 Z" fill="#e0e2e2" opacity="0.6"/>
<!-- front panel -->
<polygon points="516,61.5 584,57 584,189 516,185" fill="url(#hsFront)"/>
<line x1="516" y1="108" x2="584" y2="108" stroke="#c0c2c5" stroke-width="0.7"/>
<text x="548" y="67" font-family="Liberation Sans" font-size="3.5" fill="#777">HiSeq X</text>
<rect x="560" y="180" width="15" height="4" fill="#3a3a3a"/>
<!-- dark column -->
<polygon points="501,62 516,61.5 516,185 501,184" fill="#1f2124"/>
<!-- bar -->
<rect x="508" y="105.5" width="53" height="6.5" rx="3" fill="#25282b"/>
<line x1="511" y1="108.8" x2="558" y2="108.8" stroke="#2bb0b0" stroke-width="0.9"/>
<!-- lower unit -->
<rect x="449" y="111" width="52" height="36" fill="#eceeef"/>
<rect x="449" y="111" width="52" height="36" fill="none" stroke="#c8cacc" stroke-width="0.6"/>
<rect x="439" y="146.5" width="64" height="35" rx="1" fill="url(#hsDrawer)"/>
<rect x="441" y="148" width="60" height="1.5" fill="#555"/>
<rect x="440" y="180.5" width="63" height="2" fill="#777"/>
<!-- monitor -->
<rect x="451" y="71" width="50" height="40" fill="#1b1c1e"/>
<rect x="453" y="73" width="46" height="35" fill="#f4f6f7"/>
<rect x="455" y="76" width="12" height="1.5" fill="#999"/>
<rect x="455" y="80" width="10" height="1" fill="#aaa"/>
<rect x="455" y="84" width="8" height="14" fill="#e0e2e4"/>
<rect x="486" y="86" width="8" height="3" fill="#3b8fd0"/>
<rect x="486" y="92" width="8" height="3" fill="#3b8fd0"/>
<rect x="486" y="98" width="8" height="3" fill="#3b8fd0"/>
<rect x="455" y="103" width="8" height="2" fill="#6fa0d0"/>
<rect x="471" y="103" width="8" height="2" fill="#6fa0d0"/>
<rect x="473" y="76" width="2" height="2" fill="#40b060"/>

<defs><filter id="blur1" x="-20%" y="-20%" width="140%" height="140%"><feGaussianBlur stdDeviation="0.7"/></filter>
<linearGradient id="groundG" x1="0" y1="0" x2="1" y2="0"><stop offset="0" stop-color="#d6d8d8"/><stop offset="0.8" stop-color="#dcdede"/><stop offset="1" stop-color="#dcdede" stop-opacity="0"/></linearGradient></defs>
<circle cx="111" cy="293" r="36" fill="#e4e5e5"/>
<g stroke="#c6c7c7" stroke-width="4" stroke-linecap="round" filter="url(#blur1)">
<line x1="93" y1="294" x2="109" y2="294"/>
<line x1="91.5" y1="301.5" x2="95" y2="309"/>
<line x1="110.5" y1="306.5" x2="110.8" y2="323"/>
<line x1="96" y1="276.5" x2="103.5" y2="274"/>
<line x1="125.5" y1="263.5" x2="130" y2="266"/>
<line x1="137.5" y1="279" x2="143" y2="282.5"/>
<line x1="138" y1="289" x2="144" y2="291.5"/>
<line x1="124" y1="300" x2="131.5" y2="302.5"/>
<line x1="121" y1="283.5" x2="124" y2="288.5" stroke-width="2.5"/>
<line x1="84.5" y1="279.5" x2="86.5" y2="285.5"/>
<line x1="120.5" y1="308" x2="123" y2="311" stroke-width="2.5"/>
</g>
<!-- ground -->
<rect x="0" y="408.5" width="245" height="4.5" fill="url(#groundG)"/>
<!-- grass -->
<g stroke="#dfe1e1" stroke-width="0.8">
<line x1="2" y1="408" x2="12" y2="395"/><line x1="8" y1="408" x2="20" y2="393"/><line x1="14" y1="408" x2="24" y2="396"/>
<line x1="40" y1="408" x2="52" y2="392"/><line x1="46" y1="408" x2="58" y2="394"/><line x1="52" y1="408" x2="64" y2="396"/><line x1="60" y1="408" x2="72" y2="393"/><line x1="66" y1="408" x2="78" y2="397"/>
</g>
<!-- horses -->
<g fill="#d0d2d2">
<path d="M83,364 C92,359 108,361 121,360 C127,357 134,351 141,347 L144,342.5 L147,345 L149,343.5 L150,347.5 C153,352 156,357 158,362 C157.5,365.5 153,366 149.5,363.5 C146,361.5 142,363 138,368 C134,373 132,378 131.5,383 L132,395 L133.5,407.5 L129.5,407.5 L127,395 L125,387 L122.5,395 L122,407.5 L118,407.5 L118,395 L117,386 C110,387.5 103,387.5 97,386 L100,395 L102,407.5 L98,407.5 L95,396 L92,388 L90.5,396 L89,407.5 L85,407.5 L86,395 L84,383 C82,377 81,371 83,366 Z"/>
<path d="M84,363 C78,372 75,386 74.5,397 L79.5,397 C80.5,386 82,375 87,368 Z"/>
<path d="M227,362 C216,356 200,355 185,357 C178,361 171,371 166,383 C162,391 159,397 157.5,402 C159,406 163.5,406 166,402.5 C169,396 175,390 181,383 L181.5,395 L181,407.5 L185,407.5 L187,395 L188,388 L189.5,395 L189.5,407.5 L193.5,407.5 L193,394 L194,387 C201,388.5 207,388.5 212,387 L213,395 L213,407.5 L217,407.5 L218,395 L219,389 L220.5,395 L221,407.5 L225,407.5 L224,393 L226,385 C229,378 230,368 227,362 Z"/>
<path d="M227,364 C231,375 232,388 232,399 L235.5,398 C235.5,386 233.5,372 230,362 Z"/>
</g>

<g stroke="#d3d5d5" fill="none" stroke-linecap="round">
<path d="M29.5,410 L29,380 L28.5,356" stroke-width="5.5"/>
<path d="M28.5,358 C24,345 18,330 14,315 C11,305 9,300 7,294" stroke-width="3.2"/>
<path d="M29,356 C31,340 32,322 32,305 L31.5,286" stroke-width="2.6"/>
<path d="M29,352 C36,340 45,328 54,311" stroke-width="2.4"/>
<path d="M30,346 C42,338 58,330 78,324" stroke-width="1.8"/>
<path d="M28.5,364 C20,358 10,350 0,343" stroke-width="2.2"/>
<path d="M16,322 C10,318 5,314 0,311" stroke-width="1.5"/>
<path d="M14,315 C18,305 22,298 24,290" stroke-width="1.4"/>
<path d="M32,318 C38,312 42,304 44,296" stroke-width="1.4"/>
<path d="M10,300 C6,295 3,290 0,287" stroke-width="1.2"/>
<path d="M45,327 C50,322 56,320 62,318" stroke-width="1.2"/>
<path d="M22,338 C15,336 8,334 0,333" stroke-width="1.3"/>
<path d="M28.5,372 C22,370 12,368 2,366" stroke-width="1.2"/>
</g>
<g fill="#d5d7d7" opacity="0.7">
<circle cx="16.8" cy="365.0" r="1.8"/>
<circle cx="2.6" cy="346.7" r="2.0"/>
<circle cx="14.1" cy="326.3" r="1.6"/>
<circle cx="10.1" cy="346.6" r="1.4"/>
<circle cx="6.4" cy="341.2" r="2.0"/>
<circle cx="10.9" cy="358.4" r="1.0"/>
<circle cx="23.7" cy="344.6" r="2.1"/>
<circle cx="7.8" cy="341.6" r="1.4"/>
<circle cx="4.6" cy="345.1" r="2.2"/>
<circle cx="5.7" cy="353.1" r="2.0"/>
<circle cx="20.9" cy="364.1" r="1.5"/>
<circle cx="1.1" cy="339.7" r="1.6"/>
<circle cx="11.2" cy="350.0" r="2.1"/>
<circle cx="11.3" cy="369.6" r="1.2"/>
<circle cx="24.8" cy="339.8" r="2.0"/>
<circle cx="11.0" cy="323.7" r="1.9"/>
<circle cx="17.9" cy="358.4" r="2.1"/>
<circle cx="14.7" cy="370.6" r="2.1"/>
<circle cx="1.8" cy="354.1" r="1.5"/>
<circle cx="-2.0" cy="363.4" r="1.4"/>
<circle cx="14.8" cy="346.4" r="1.9"/>
<circle cx="21.3" cy="344.1" r="1.6"/>
<circle cx="-3.2" cy="337.5" r="1.2"/>
<circle cx="0.8" cy="331.8" r="1.8"/>
<circle cx="12.8" cy="355.5" r="1.4"/>
<circle cx="18.4" cy="337.7" r="1.7"/>
<circle cx="8.2" cy="353.4" r="1.0"/>
<circle cx="15.5" cy="322.3" r="1.4"/>
<circle cx="4.7" cy="324.0" r="2.2"/>
<circle cx="19.9" cy="340.4" r="2.3"/>
<circle cx="21.9" cy="339.8" r="2.1"/>
<circle cx="0.2" cy="346.0" r="1.2"/>
<circle cx="14.6" cy="337.1" r="1.0"/>
<circle cx="14.8" cy="321.8" r="1.6"/>
<circle cx="11.9" cy="339.5" r="1.3"/>
<circle cx="7.4" cy="362.6" r="1.1"/>
<circle cx="18.4" cy="351.9" r="2.2"/>
<circle cx="23.7" cy="342.5" r="1.6"/>
<circle cx="9.8" cy="372.4" r="1.6"/>
<circle cx="9.6" cy="340.3" r="1.2"/>
<circle cx="17.5" cy="323.8" r="2.1"/>
<circle cx="1.6" cy="334.1" r="1.7"/>
<circle cx="15.2" cy="332.4" r="1.6"/>
<circle cx="7.7" cy="369.2" r="0.9"/>
<circle cx="3.8" cy="319.9" r="0.9"/>
<circle cx="-0.7" cy="332.5" r="2.1"/>
<circle cx="3.0" cy="337.8" r="1.5"/>
<circle cx="24.7" cy="338.2" r="1.1"/>
<circle cx="14.1" cy="349.8" r="0.9"/>
<circle cx="4.3" cy="348.4" r="2.1"/>
<circle cx="6.8" cy="336.8" r="1.7"/>
<circle cx="4.9" cy="362.6" r="1.2"/>
<circle cx="13.5" cy="355.4" r="1.4"/>
<circle cx="7.0" cy="324.9" r="1.0"/>
<circle cx="6.4" cy="319.6" r="2.0"/>
<circle cx="10.4" cy="342.6" r="1.5"/>
<circle cx="22.9" cy="354.5" r="1.1"/>
<circle cx="8.1" cy="331.3" r="1.9"/>
<circle cx="8.7" cy="350.3" r="1.4"/>
<circle cx="4.5" cy="369.7" r="1.3"/>
<circle cx="-1.9" cy="344.6" r="2.2"/>
<circle cx="20.1" cy="357.6" r="1.6"/>
<circle cx="8.5" cy="317.6" r="1.3"/>
<circle cx="6.4" cy="325.7" r="1.7"/>
<circle cx="23.3" cy="354.9" r="2.3"/>
<circle cx="4.5" cy="357.5" r="2.3"/>
<circle cx="13.4" cy="349.8" r="1.0"/>
<circle cx="15.5" cy="322.6" r="1.5"/>
<circle cx="8.4" cy="342.3" r="1.8"/>
<circle cx="-0.8" cy="352.1" r="1.4"/>
<circle cx="3.8" cy="352.7" r="1.0"/>
<circle cx="2.7" cy="350.6" r="1.9"/>
<circle cx="15.6" cy="323.3" r="1.5"/>
<circle cx="10.8" cy="362.3" r="1.6"/>
<circle cx="-0.6" cy="324.8" r="1.0"/>
<circle cx="-1.1" cy="347.5" r="1.9"/>
<circle cx="20.9" cy="329.3" r="1.8"/>
<circle cx="10.7" cy="322.1" r="2.1"/>
<circle cx="5.8" cy="323.0" r="1.2"/>
<circle cx="18.6" cy="336.3" r="1.8"/>
<circle cx="17.1" cy="320.5" r="2.3"/>
<circle cx="18.9" cy="345.6" r="1.3"/>
<circle cx="5.3" cy="351.7" r="1.7"/>
<circle cx="17.7" cy="352.4" r="2.2"/>
<circle cx="9.5" cy="326.0" r="1.1"/>
<circle cx="22.9" cy="338.6" r="1.2"/>
<circle cx="3.5" cy="364.3" r="1.9"/>
<circle cx="8.9" cy="372.2" r="1.4"/>
<circle cx="9.6" cy="370.7" r="1.1"/>
<circle cx="7.0" cy="333.6" r="1.7"/>
<circle cx="8.3" cy="362.0" r="2.2"/>
<circle cx="-0.3" cy="348.8" r="1.8"/>
<circle cx="8.7" cy="356.5" r="1.4"/>
<circle cx="9.0" cy="357.0" r="2.2"/>
<circle cx="24.1" cy="350.4" r="2.2"/>
<circle cx="9.4" cy="341.3" r="1.6"/>
<circle cx="22.1" cy="350.3" r="1.9"/>
<circle cx="10.1" cy="347.4" r="1.7"/>
<circle cx="17.4" cy="353.7" r="1.5"/>
<circle cx="17.7" cy="334.5" r="1.1"/>
<circle cx="13.8" cy="320.5" r="1.6"/>
<circle cx="16.6" cy="348.7" r="1.5"/>
<circle cx="2.8" cy="340.7" r="2.0"/>
<circle cx="18.5" cy="322.6" r="2.1"/>
<circle cx="22.1" cy="347.4" r="1.0"/>
<circle cx="21.2" cy="330.7" r="2.0"/>
<circle cx="11.5" cy="351.3" r="2.0"/>
<circle cx="0.1" cy="331.3" r="1.6"/>
<circle cx="12.9" cy="329.5" r="1.3"/>
<circle cx="4.7" cy="357.2" r="1.8"/>
<circle cx="13.3" cy="340.2" r="1.0"/>
<circle cx="-3.1" cy="343.3" r="1.2"/>
<circle cx="9.5" cy="351.7" r="1.0"/>
<circle cx="-3.2" cy="345.7" r="1.8"/>
<circle cx="12.8" cy="352.6" r="2.2"/>
<circle cx="0.1" cy="340.7" r="1.9"/>
<circle cx="8.4" cy="324.9" r="1.0"/>
<circle cx="13.5" cy="333.6" r="1.0"/>
<circle cx="3.0" cy="361.4" r="1.8"/>
<circle cx="16.2" cy="366.0" r="1.6"/>
<circle cx="17.8" cy="367.0" r="2.0"/>
<circle cx="21.0" cy="332.2" r="1.2"/>
<circle cx="12.6" cy="318.8" r="1.6"/>
<circle cx="23.2" cy="330.0" r="1.4"/>
<circle cx="24.5" cy="335.3" r="2.0"/>
<circle cx="19.5" cy="346.2" r="1.8"/>
<circle cx="-0.9" cy="329.8" r="1.8"/>
<circle cx="18.2" cy="367.9" r="1.7"/>
<circle cx="15.4" cy="336.4" r="2.3"/>
<circle cx="-3.3" cy="336.7" r="1.9"/>
<circle cx="17.1" cy="333.7" r="1.0"/>
<circle cx="4.4" cy="351.6" r="1.7"/>
<circle cx="13.8" cy="329.5" r="1.1"/>
<circle cx="20.3" cy="348.1" r="1.7"/>
<circle cx="22.9" cy="348.8" r="1.2"/>
<circle cx="22.1" cy="361.8" r="1.6"/>
<circle cx="19.1" cy="332.7" r="1.1"/>
<circle cx="10.7" cy="363.2" r="1.8"/>
<circle cx="11.8" cy="320.9" r="1.8"/>
<circle cx="9.8" cy="363.4" r="1.4"/>
<circle cx="1.8" cy="345.9" r="1.7"/>
<circle cx="7.1" cy="346.4" r="2.1"/>
<circle cx="-2.3" cy="332.0" r="1.9"/>
<circle cx="8.1" cy="317.3" r="1.4"/>
<circle cx="9.2" cy="346.1" r="1.8"/>
<circle cx="-0.6" cy="334.6" r="2.3"/>
<circle cx="12.5" cy="357.6" r="1.9"/>
<circle cx="14.2" cy="327.0" r="1.0"/>
<circle cx="0.0" cy="363.5" r="1.6"/>
<circle cx="0.3" cy="349.2" r="1.8"/>
<circle cx="-0.8" cy="331.5" r="2.1"/>
<circle cx="10.1" cy="327.9" r="1.3"/>
<circle cx="12.8" cy="320.6" r="2.2"/>
<circle cx="14.7" cy="369.5" r="2.1"/>
<circle cx="17.9" cy="352.2" r="1.8"/>
<circle cx="18.9" cy="365.3" r="1.3"/>
<circle cx="6.4" cy="331.1" r="1.2"/>
<circle cx="13.0" cy="364.0" r="1.9"/>
<circle cx="12.7" cy="367.7" r="1.4"/>
<circle cx="4.3" cy="331.3" r="1.2"/>
<circle cx="31.4" cy="293.5" r="1.9"/>
<circle cx="27.3" cy="293.4" r="2.1"/>
<circle cx="29.3" cy="291.0" r="1.9"/>
<circle cx="25.0" cy="289.0" r="1.6"/>
<circle cx="35.3" cy="290.8" r="1.8"/>
<circle cx="26.4" cy="288.4" r="1.4"/>
<circle cx="30.2" cy="285.6" r="1.5"/>
<circle cx="25.8" cy="291.7" r="2.0"/>
<circle cx="37.2" cy="292.8" r="1.5"/>
<circle cx="31.2" cy="298.0" r="1.7"/>
<circle cx="35.4" cy="294.9" r="1.1"/>
<circle cx="31.6" cy="287.6" r="1.4"/>
<circle cx="30.4" cy="293.7" r="1.2"/>
<circle cx="34.1" cy="297.2" r="2.1"/>
<circle cx="30.5" cy="294.6" r="1.6"/>
<circle cx="34.3" cy="295.4" r="2.0"/>
<circle cx="32.2" cy="298.4" r="1.7"/>
<circle cx="33.8" cy="294.0" r="1.7"/>
<circle cx="33.3" cy="294.1" r="1.7"/>
<circle cx="32.7" cy="286.7" r="1.8"/>
<circle cx="34.9" cy="292.3" r="1.3"/>
<circle cx="34.6" cy="289.5" r="2.0"/>
<circle cx="36.2" cy="293.2" r="2.1"/>
<circle cx="30.9" cy="286.0" r="1.2"/>
<circle cx="32.3" cy="291.0" r="2.3"/>
<circle cx="31.3" cy="285.3" r="1.6"/>
<circle cx="32.7" cy="296.0" r="1.8"/>
<circle cx="26.9" cy="287.9" r="2.0"/>
<circle cx="34.6" cy="293.4" r="1.0"/>
<circle cx="26.4" cy="298.4" r="2.0"/>
<circle cx="33.0" cy="295.6" r="1.1"/>
<circle cx="26.9" cy="287.5" r="1.2"/>
<circle cx="24.1" cy="297.3" r="1.5"/>
<circle cx="27.4" cy="286.1" r="1.6"/>
<circle cx="24.9" cy="290.3" r="1.2"/>
<circle cx="25.0" cy="292.2" r="1.4"/>
<circle cx="33.3" cy="299.0" r="1.5"/>
<circle cx="30.5" cy="293.4" r="1.2"/>
<circle cx="33.5" cy="288.6" r="1.8"/>
<circle cx="30.9" cy="298.4" r="1.5"/>
<circle cx="29.4" cy="286.2" r="1.4"/>
<circle cx="28.7" cy="298.1" r="2.1"/>
<circle cx="27.8" cy="286.8" r="1.4"/>
<circle cx="36.4" cy="287.4" r="1.1"/>
<circle cx="26.6" cy="285.7" r="1.8"/>
<circle cx="60.2" cy="312.5" r="1.2"/>
<circle cx="57.2" cy="313.9" r="1.4"/>
<circle cx="55.6" cy="313.6" r="1.5"/>
<circle cx="48.7" cy="311.4" r="1.3"/>
<circle cx="53.9" cy="308.7" r="1.9"/>
<circle cx="54.1" cy="307.7" r="2.2"/>
<circle cx="56.0" cy="307.8" r="1.6"/>
<circle cx="50.1" cy="309.2" r="2.3"/>
<circle cx="48.7" cy="310.2" r="1.8"/>
<circle cx="51.1" cy="316.4" r="1.4"/>
<circle cx="52.4" cy="314.3" r="1.0"/>
<circle cx="44.5" cy="315.7" r="1.0"/>
<circle cx="50.0" cy="312.2" r="1.6"/>
<circle cx="50.3" cy="318.5" r="1.9"/>
<circle cx="47.2" cy="316.3" r="1.9"/>
<circle cx="56.0" cy="316.8" r="1.9"/>
<circle cx="56.5" cy="308.0" r="1.3"/>
<circle cx="48.4" cy="311.2" r="1.9"/>
<circle cx="53.9" cy="311.9" r="1.4"/>
<circle cx="56.9" cy="312.4" r="1.8"/>
<circle cx="54.0" cy="310.6" r="2.0"/>
<circle cx="57.2" cy="314.1" r="1.1"/>
<circle cx="49.6" cy="316.7" r="0.9"/>
<circle cx="53.2" cy="311.2" r="1.7"/>
<circle cx="44.2" cy="311.8" r="2.1"/>
<circle cx="49.3" cy="312.0" r="2.0"/>
<circle cx="59.1" cy="317.9" r="1.3"/>
<circle cx="51.9" cy="317.3" r="1.5"/>
<circle cx="54.1" cy="307.7" r="1.9"/>
<circle cx="51.4" cy="310.6" r="1.3"/>
<circle cx="50.0" cy="318.3" r="2.1"/>
<circle cx="54.6" cy="313.9" r="2.3"/>
<circle cx="57.3" cy="311.7" r="1.9"/>
<circle cx="52.8" cy="311.0" r="1.8"/>
<circle cx="60.4" cy="313.2" r="2.2"/>
<circle cx="58.6" cy="317.0" r="1.6"/>
<circle cx="55.1" cy="312.5" r="1.7"/>
<circle cx="57.9" cy="318.3" r="1.9"/>
<circle cx="56.9" cy="314.8" r="1.1"/>
<circle cx="47.3" cy="309.8" r="1.0"/>
<circle cx="16.4" cy="299.3" r="1.5"/>
<circle cx="3.2" cy="299.6" r="1.7"/>
<circle cx="3.2" cy="305.6" r="1.9"/>
<circle cx="9.9" cy="306.5" r="2.0"/>
<circle cx="8.4" cy="304.3" r="2.2"/>
<circle cx="11.1" cy="306.9" r="1.3"/>
<circle cx="7.6" cy="307.3" r="1.7"/>
<circle cx="12.9" cy="306.4" r="1.0"/>
<circle cx="11.6" cy="303.9" r="1.2"/>
<circle cx="5.4" cy="306.1" r="2.1"/>
<circle cx="4.6" cy="296.8" r="2.0"/>
<circle cx="6.0" cy="297.4" r="1.8"/>
<circle cx="7.8" cy="295.4" r="2.0"/>
<circle cx="2.2" cy="295.6" r="1.3"/>
<circle cx="3.8" cy="294.2" r="1.6"/>
<circle cx="10.3" cy="300.4" r="1.9"/>
<circle cx="7.2" cy="309.8" r="1.5"/>
<circle cx="3.6" cy="301.0" r="1.3"/>
<circle cx="12.8" cy="296.6" r="1.8"/>
<circle cx="11.6" cy="305.2" r="2.3"/>
<circle cx="9.9" cy="308.3" r="1.9"/>
<circle cx="1.3" cy="301.6" r="2.3"/>
<circle cx="8.9" cy="297.7" r="1.5"/>
<circle cx="1.5" cy="305.6" r="1.8"/>
<circle cx="7.5" cy="309.5" r="1.5"/>
<circle cx="12.8" cy="302.5" r="1.4"/>
<circle cx="10.4" cy="309.0" r="2.3"/>
<circle cx="14.5" cy="299.0" r="2.1"/>
<circle cx="1.1" cy="302.4" r="2.2"/>
<circle cx="13.0" cy="304.0" r="1.4"/>
<circle cx="4.8" cy="306.9" r="1.0"/>
<circle cx="4.2" cy="294.1" r="1.2"/>
<circle cx="10.0" cy="306.8" r="2.0"/>
<circle cx="9.2" cy="309.8" r="1.1"/>
<circle cx="1.7" cy="297.7" r="1.8"/>
<circle cx="15.6" cy="306.5" r="2.1"/>
<circle cx="-0.3" cy="303.0" r="1.7"/>
<circle cx="10.8" cy="306.9" r="2.0"/>
<circle cx="6.2" cy="302.4" r="1.1"/>
<circle cx="10.7" cy="308.3" r="1.8"/>
<circle cx="2.6" cy="303.8" r="2.2"/>
<circle cx="3.9" cy="308.2" r="1.2"/>
<circle cx="4.2" cy="301.7" r="1.1"/>
<circle cx="6.4" cy="304.6" r="1.4"/>
<circle cx="4.2" cy="296.5" r="2.0"/>
<circle cx="17.1" cy="322.4" r="1.9"/>
<circle cx="12.9" cy="327.0" r="2.3"/>
<circle cx="15.1" cy="321.2" r="1.4"/>
<circle cx="14.4" cy="322.1" r="1.0"/>
<circle cx="13.5" cy="326.8" r="2.0"/>
<circle cx="20.7" cy="312.6" r="2.0"/>
<circle cx="13.2" cy="326.2" r="1.0"/>
<circle cx="22.3" cy="313.9" r="1.3"/>
<circle cx="14.9" cy="322.9" r="2.0"/>
<circle cx="12.1" cy="325.9" r="2.2"/>
<circle cx="21.1" cy="315.9" r="1.4"/>
<circle cx="29.0" cy="318.8" r="1.2"/>
<circle cx="14.2" cy="328.8" r="2.0"/>
<circle cx="18.6" cy="328.5" r="2.2"/>
<circle cx="24.4" cy="324.8" r="1.8"/>
<circle cx="28.1" cy="316.7" r="1.6"/>
<circle cx="22.5" cy="312.5" r="1.4"/>
<circle cx="20.7" cy="327.0" r="2.0"/>
<circle cx="24.7" cy="327.7" r="2.2"/>
<circle cx="22.4" cy="329.6" r="1.6"/>
<circle cx="27.0" cy="320.5" r="1.6"/>
<circle cx="27.1" cy="317.1" r="1.1"/>
<circle cx="22.1" cy="316.0" r="2.3"/>
<circle cx="26.8" cy="320.4" r="1.5"/>
<circle cx="20.8" cy="327.2" r="1.2"/>
<circle cx="24.2" cy="329.4" r="1.0"/>
<circle cx="13.7" cy="317.5" r="1.9"/>
<circle cx="11.2" cy="318.0" r="1.3"/>
<circle cx="26.4" cy="326.2" r="1.3"/>
<circle cx="29.6" cy="321.3" r="1.9"/>
<circle cx="22.5" cy="317.7" r="1.6"/>
<circle cx="15.6" cy="325.9" r="1.4"/>
<circle cx="12.0" cy="323.1" r="0.9"/>
<circle cx="16.5" cy="321.1" r="2.3"/>
<circle cx="12.7" cy="319.5" r="1.3"/>
<circle cx="17.7" cy="313.9" r="2.2"/>
<circle cx="15.5" cy="319.5" r="1.8"/>
<circle cx="28.2" cy="324.7" r="1.3"/>
<circle cx="19.3" cy="318.4" r="1.7"/>
<circle cx="20.9" cy="323.7" r="1.3"/>
<circle cx="23.6" cy="316.9" r="1.6"/>
<circle cx="22.5" cy="312.4" r="1.3"/>
<circle cx="17.0" cy="313.7" r="2.0"/>
<circle cx="16.1" cy="327.7" r="2.0"/>
<circle cx="20.0" cy="329.0" r="1.8"/>
<circle cx="22.9" cy="318.0" r="1.8"/>
<circle cx="20.8" cy="325.9" r="1.6"/>
<circle cx="15.2" cy="315.6" r="2.2"/>
<circle cx="23.7" cy="328.3" r="1.6"/>
<circle cx="19.5" cy="331.6" r="1.1"/>
<circle cx="19.9" cy="324.0" r="1.8"/>
<circle cx="17.4" cy="318.0" r="2.2"/>
<circle cx="17.0" cy="318.6" r="2.2"/>
<circle cx="23.4" cy="317.5" r="2.1"/>
<circle cx="24.0" cy="326.3" r="1.5"/>
<circle cx="25.2" cy="320.5" r="1.4"/>
<circle cx="22.4" cy="330.7" r="1.2"/>
<circle cx="23.4" cy="317.2" r="1.7"/>
<circle cx="23.7" cy="318.4" r="1.6"/>
<circle cx="15.0" cy="316.3" r="1.5"/>
<circle cx="39.3" cy="296.9" r="1.1"/>
<circle cx="48.2" cy="300.3" r="1.7"/>
<circle cx="43.0" cy="297.4" r="1.8"/>
<circle cx="36.5" cy="301.5" r="2.1"/>
<circle cx="36.8" cy="299.4" r="1.8"/>
<circle cx="46.5" cy="305.2" r="1.6"/>
<circle cx="47.4" cy="301.3" r="2.2"/>
<circle cx="47.2" cy="299.4" r="1.3"/>
<circle cx="45.9" cy="298.5" r="0.9"/>
<circle cx="42.1" cy="304.8" r="1.8"/>
<circle cx="46.2" cy="301.7" r="1.9"/>
<circle cx="40.1" cy="302.4" r="1.9"/>
<circle cx="35.9" cy="302.3" r="1.6"/>
<circle cx="44.2" cy="295.4" r="2.3"/>
<circle cx="44.6" cy="294.5" r="1.6"/>
<circle cx="38.2" cy="297.3" r="1.0"/>
<circle cx="47.4" cy="295.8" r="2.0"/>
<circle cx="45.8" cy="296.0" r="2.3"/>
<circle cx="34.2" cy="301.2" r="1.0"/>
<circle cx="37.6" cy="303.7" r="2.0"/>
<circle cx="34.9" cy="299.2" r="1.4"/>
<circle cx="38.8" cy="294.4" r="1.7"/>
<circle cx="48.4" cy="300.7" r="0.9"/>
<circle cx="41.1" cy="302.2" r="2.0"/>
<circle cx="45.3" cy="305.2" r="1.0"/>
<circle cx="43.8" cy="305.6" r="2.2"/>
<circle cx="47.6" cy="302.4" r="1.5"/>
<circle cx="40.4" cy="298.7" r="0.9"/>
<circle cx="48.6" cy="303.1" r="1.6"/>
<circle cx="39.8" cy="298.3" r="1.9"/>
<circle cx="72.9" cy="320.7" r="2.0"/>
<circle cx="74.6" cy="317.9" r="1.7"/>
<circle cx="67.1" cy="319.7" r="2.0"/>
<circle cx="67.7" cy="325.7" r="1.8"/>
<circle cx="77.1" cy="321.7" r="1.0"/>
<circle cx="72.1" cy="324.7" r="1.5"/>
<circle cx="69.2" cy="319.5" r="1.7"/>
<circle cx="65.8" cy="322.8" r="1.8"/>
<circle cx="62.8" cy="324.0" r="1.1"/>
<circle cx="75.1" cy="319.6" r="1.5"/>
<circle cx="75.7" cy="323.9" r="2.0"/>
<circle cx="66.0" cy="325.4" r="1.6"/>
<circle cx="76.3" cy="324.5" r="1.3"/>
<circle cx="63.1" cy="322.5" r="2.1"/>
<circle cx="72.9" cy="319.6" r="2.1"/>
<circle cx="73.4" cy="325.0" r="1.5"/>
<circle cx="74.5" cy="318.8" r="1.8"/>
<circle cx="71.8" cy="319.3" r="1.5"/>
<circle cx="73.8" cy="323.8" r="1.2"/>
<circle cx="69.7" cy="320.2" r="2.2"/>
<circle cx="65.7" cy="320.0" r="1.1"/>
<circle cx="64.3" cy="323.2" r="1.1"/>
<circle cx="74.8" cy="321.6" r="1.5"/>
<circle cx="68.9" cy="325.0" r="1.3"/>
<circle cx="71.3" cy="320.9" r="1.4"/>
<circle cx="34.3" cy="336.8" r="1.4"/>
<circle cx="37.5" cy="340.2" r="1.3"/>
<circle cx="32.0" cy="342.8" r="1.5"/>
<circle cx="33.0" cy="343.3" r="1.3"/>
<circle cx="35.8" cy="338.9" r="1.8"/>
<circle cx="32.2" cy="338.4" r="2.1"/>
<circle cx="42.8" cy="332.4" r="1.2"/>
<circle cx="46.4" cy="338.5" r="1.4"/>
<circle cx="30.8" cy="342.1" r="2.2"/>
<circle cx="41.9" cy="335.9" r="1.1"/>
<circle cx="42.4" cy="346.3" r="1.9"/>
<circle cx="40.6" cy="340.2" r="2.3"/>
<circle cx="38.9" cy="341.4" r="1.6"/>
<circle cx="47.4" cy="344.2" r="1.6"/>
<circle cx="32.7" cy="335.0" r="1.1"/>
<circle cx="41.9" cy="346.9" r="1.8"/>
<circle cx="34.5" cy="341.8" r="1.8"/>
<circle cx="49.2" cy="337.3" r="2.2"/>
<circle cx="43.6" cy="339.6" r="0.9"/>
<circle cx="42.4" cy="336.5" r="1.6"/>
<circle cx="30.3" cy="341.6" r="1.5"/>
<circle cx="43.0" cy="342.7" r="2.2"/>
<circle cx="41.5" cy="337.3" r="2.2"/>
<circle cx="34.1" cy="344.9" r="1.7"/>
<circle cx="44.4" cy="335.6" r="0.9"/>
<circle cx="31.4" cy="337.4" r="1.5"/>
<circle cx="43.1" cy="335.3" r="1.4"/>
<circle cx="37.0" cy="343.0" r="1.6"/>
<circle cx="47.4" cy="338.4" r="2.0"/>
<circle cx="42.6" cy="344.4" r="1.7"/>
</g>
<defs><radialGradient id="ball1" cx="0.38" cy="0.35" r="0.65"><stop offset="0" stop-color="#8fdcf0"/><stop offset="0.55" stop-color="#45b6d8"/><stop offset="1" stop-color="#2a9cc2"/></radialGradient></defs>
<line x1="-32.3" y1="380.6" x2="-42.1" y2="402.0" stroke="#3fb1d4" stroke-width="2.3"/>
<line x1="-24.5" y1="390.1" x2="-29.9" y2="401.7" stroke="#3fb1d4" stroke-width="2.3"/>
<line x1="-11.7" y1="415.2" x2="-2.8" y2="394.8" stroke="#3fb1d4" stroke-width="2.3"/>
<line x1="-2.4" y1="420.9" x2="8.4" y2="397.7" stroke="#3fb1d4" stroke-width="2.3"/>
<line x1="8.2" y1="422.7" x2="17.1" y2="406.0" stroke="#3fb1d4" stroke-width="2.3"/>
<line x1="31.8" y1="400.1" x2="47.4" y2="410.2" stroke="#3fb1d4" stroke-width="2.3"/>
<line x1="33.8" y1="389.8" x2="56.3" y2="401.3" stroke="#3fb1d4" stroke-width="2.3"/>
<line x1="36.9" y1="380.0" x2="62.6" y2="391.2" stroke="#3fb1d4" stroke-width="2.3"/>
<line x1="41.1" y1="371.1" x2="66.2" y2="379.6" stroke="#3fb1d4" stroke-width="2.3"/>
<line x1="46.4" y1="361.8" x2="67.3" y2="367.6" stroke="#3fb1d4" stroke-width="2.3"/>
<line x1="52.4" y1="352.5" x2="66.7" y2="355.8" stroke="#3fb1d4" stroke-width="2.3"/>
<line x1="67.8" y1="320.7" x2="57.5" y2="322.2" stroke="#3fb1d4" stroke-width="2.3"/>
<line x1="68.9" y1="310.0" x2="53.4" y2="311.1" stroke="#3fb1d4" stroke-width="2.3"/>
<line x1="71.5" y1="302.2" x2="52.7" y2="297.0" stroke="#3fb1d4" stroke-width="2.3"/>
<line x1="76.2" y1="294.0" x2="55.5" y2="284.8" stroke="#3fb1d4" stroke-width="2.3"/>
<line x1="81.6" y1="285.7" x2="60.1" y2="273.5" stroke="#3fb1d4" stroke-width="2.3"/>
<line x1="87.0" y1="277.5" x2="66.3" y2="263.1" stroke="#3fb1d4" stroke-width="2.3"/>
<line x1="92.5" y1="269.4" x2="74.3" y2="253.7" stroke="#3fb1d4" stroke-width="2.3"/>
<line x1="98.3" y1="261.6" x2="83.7" y2="245.8" stroke="#3fb1d4" stroke-width="2.3"/>
<line x1="105.1" y1="253.9" x2="94.0" y2="239.3" stroke="#3fb1d4" stroke-width="2.3"/>
<line x1="112.6" y1="246.5" x2="104.7" y2="234.1" stroke="#3fb1d4" stroke-width="2.3"/>
<line x1="120.5" y1="239.9" x2="115.5" y2="230.0" stroke="#3fb1d4" stroke-width="2.3"/>
<line x1="160.9" y1="220.5" x2="160.6" y2="230.6" stroke="#3fb1d4" stroke-width="2.3"/>
<line x1="172.3" y1="216.0" x2="171.0" y2="236.4" stroke="#3fb1d4" stroke-width="2.3"/>
<line x1="182.2" y1="213.2" x2="183.2" y2="239.8" stroke="#3fb1d4" stroke-width="2.3"/>
<line x1="190.0" y1="212.6" x2="197.0" y2="236.9" stroke="#3fb1d4" stroke-width="2.3"/>
<line x1="200.3" y1="213.1" x2="207.1" y2="228.8" stroke="#3fb1d4" stroke-width="2.3"/>
<line x1="225.1" y1="216.9" x2="223.5" y2="209.8" stroke="#3fb1d4" stroke-width="2.3"/>
<line x1="236.6" y1="217.9" x2="233.8" y2="204.4" stroke="#3fb1d4" stroke-width="2.3"/>
<line x1="247.3" y1="213.1" x2="244.2" y2="203.4" stroke="#3fb1d4" stroke-width="2.3"/>
<line x1="256.7" y1="206.4" x2="255.5" y2="203.0" stroke="#3fb1d4" stroke-width="2.3"/>
<polyline fill="none" stroke="#3aaed2" stroke-width="3" points="-35.1,379.1 -32.7,380.3 -30.4,382.0 -28.4,384.1 -26.5,386.7 -24.8,389.6 -23.2,392.7 -21.7,396.1 -20.2,399.5 -18.8,402.9 -17.3,406.2 -15.7,409.3 -14.1,412.0 -12.3,414.4 -10.4,416.5 -8.4,418.1 -6.2,419.4 -4.3,420.3 -2.7,420.8 -1.0,421.2 0.9,421.6 2.9,422.0 5.0,422.3 7.1,422.6 9.3,422.9 11.6,423.1 13.9,423.2 16.2,423.1 18.4,422.9 20.7,422.4 22.8,421.7 24.7,420.6 26.4,419.2 27.7,417.6 28.6,415.8 29.3,413.9 29.8,411.9 30.3,409.9 30.6,407.8 31.0,405.6 31.3,403.3 31.7,401.0 32.0,398.7 32.4,396.3 32.9,393.9 33.4,391.4 34.0,389.0 34.7,386.6 35.4,384.2 36.2,381.8 37.1,379.5 38.1,377.3 39.1,375.0 40.3,372.6 41.6,370.1 43.1,367.5 44.6,364.8 46.3,362.0 48.0,359.3 49.8,356.5 51.6,353.7 53.5,350.9 55.3,348.1 57.1,345.4 58.8,342.7 60.5,340.1 62.0,337.6 63.5,335.2 64.7,332.8 65.7,330.3 66.4,327.8 67.0,325.4 67.5,323.0 67.8,320.7 68.0,318.5 68.2,316.3 68.4,314.3 68.6,312.3 68.8,310.5 69.1,308.8 69.4,307.3 69.9,305.8 70.5,304.4 71.1,303.0 72.0,301.4 72.9,299.6 74.0,297.7 75.1,295.8 76.3,293.8 77.6,291.8 78.9,289.8 80.2,287.7 81.6,285.7 82.9,283.6 84.3,281.6 85.7,279.5 87.0,277.5 88.4,275.5 89.7,273.6 91.0,271.6 92.2,269.8 93.5,268.0 94.8,266.2 96.1,264.4 97.6,262.5 99.1,260.7 100.6,258.9 102.2,257.0 103.8,255.2 105.5,253.4 107.2,251.7 108.9,250.0 110.7,248.3 112.4,246.7 114.2,245.1 115.9,243.6 117.6,242.1 119.4,240.8 121.1,239.5 122.8,238.4 124.6,237.3 126.3,236.3 128.2,235.4 130.0,234.6 131.8,233.8 133.7,233.1 135.6,232.4 137.5,231.6 139.4,230.9 141.4,230.1 143.3,229.3 145.3,228.4 147.3,227.4 149.3,226.4 151.4,225.2 153.6,224.1 155.9,222.9 158.3,221.8 160.7,220.6 163.2,219.5 165.7,218.5 168.2,217.5 170.7,216.6 173.0,215.7 175.3,215.0 177.5,214.3 179.5,213.8 181.3,213.3 183.0,213.0 184.5,212.8 185.8,212.7 187.3,212.6 188.8,212.6 190.4,212.6 192.1,212.6 193.9,212.7 195.9,212.8 197.9,212.9 199.9,213.0 202.0,213.2 204.2,213.3 206.3,213.5 208.5,213.6 210.6,213.9 212.8,214.1 214.8,214.4 216.8,214.7 218.6,215.1 220.4,215.6 222.0,216.0 223.6,216.5 225.1,216.9 226.6,217.3 228.0,217.6 229.3,217.8 230.7,218.0 232.0,218.2 233.3,218.2 234.6,218.1 235.9,218.0 237.2,217.7 238.6,217.4 239.9,217.0 241.3,216.5 242.6,215.9 243.9,215.2 245.1,214.5 246.3,213.8 247.5,213.0 248.7,212.2 249.8,211.4 251.0,210.6 252.1,209.7 253.2,208.9 254.3,208.1 255.5,207.2 256.6,206.4 257.7,205.7 258.8,204.9 260.0,204.2 261.1,203.4"/>
<polyline fill="none" stroke="#3aaed2" stroke-width="3" points="-44.9,400.9 -42.5,401.9 -39.8,402.4 -36.9,402.6 -33.8,402.4 -30.5,401.8 -27.0,401.0 -23.5,399.9 -19.9,398.8 -16.4,397.7 -13.0,396.7 -9.7,395.8 -6.6,395.2 -3.7,394.8 -1.1,394.8 1.3,395.0 3.5,395.5 5.7,396.3 8.0,397.5 10.1,398.9 12.0,400.5 13.7,402.1 15.2,403.7 16.5,405.2 17.6,406.7 18.7,408.2 19.6,409.5 20.5,410.8 21.4,412.0 22.2,413.2 23.1,414.3 24.3,415.3 25.6,416.2 27.3,416.8 29.4,417.2 31.7,417.2 34.1,416.9 36.6,416.2 39.1,415.2 41.6,414.0 44.0,412.6 46.4,411.0 48.7,409.1 51.0,407.2 53.1,405.1 55.1,402.8 56.9,400.5 58.7,398.1 60.2,395.6 61.6,393.1 62.9,390.5 64.0,387.7 65.0,384.6 65.8,381.5 66.5,378.2 66.9,374.8 67.2,371.4 67.3,367.9 67.3,364.3 67.1,360.8 66.8,357.3 66.4,353.8 66.0,350.4 65.4,347.0 64.8,343.8 64.1,340.8 63.5,337.8 62.8,335.1 62.0,332.6 61.1,330.3 60.3,328.2 59.4,326.1 58.4,324.2 57.5,322.2 56.7,320.3 55.8,318.3 55.0,316.3 54.2,314.1 53.6,311.9 53.0,309.5 52.6,307.0 52.3,304.3 52.3,301.5 52.5,298.5 52.9,295.7 53.4,292.9 54.0,290.1 54.7,287.3 55.5,284.5 56.5,281.7 57.6,278.9 58.8,276.2 60.1,273.5 61.5,270.8 63.0,268.2 64.6,265.6 66.3,263.1 68.0,260.8 69.9,258.5 71.8,256.3 73.8,254.2 75.8,252.2 78.0,250.2 80.3,248.4 82.6,246.6 84.9,244.9 87.3,243.3 89.7,241.8 92.2,240.3 94.6,239.0 97.1,237.7 99.6,236.4 102.0,235.3 104.5,234.2 106.9,233.2 109.3,232.2 111.7,231.3 114.0,230.5 116.3,229.8 118.6,229.0 120.8,228.3 123.0,227.7 125.2,227.1 127.3,226.5 129.5,226.1 131.7,225.7 133.8,225.3 136.0,225.1 138.2,224.9 140.3,224.9 142.5,224.9 144.8,225.1 147.0,225.4 149.2,225.8 151.5,226.4 153.8,227.2 156.0,228.2 158.2,229.3 160.4,230.5 162.6,231.8 164.9,233.1 167.1,234.4 169.4,235.7 171.8,236.8 174.2,237.8 176.7,238.7 179.2,239.3 181.9,239.7 184.6,239.9 187.3,239.7 190.2,239.3 192.8,238.6 195.3,237.7 197.6,236.6 199.7,235.3 201.7,233.9 203.6,232.4 205.3,230.8 206.9,229.1 208.4,227.4 209.7,225.7 211.1,224.0 212.3,222.3 213.5,220.6 214.7,219.0 215.9,217.4 217.2,215.9 218.4,214.5 219.7,213.2 221.0,212.0 222.2,210.8 223.5,209.8 224.8,208.8 226.0,207.9 227.2,207.1 228.5,206.5 229.7,205.9 230.9,205.4 232.0,204.9 233.2,204.6 234.3,204.3 235.5,204.1 236.7,203.9 237.9,203.8 239.1,203.7 240.4,203.6 241.7,203.5 243.0,203.4 244.4,203.4 245.7,203.3 247.1,203.3 248.5,203.3 249.8,203.2 251.2,203.2 252.6,203.1 254.0,203.1 255.4,203.0 256.8,202.9 258.1,202.8 259.5,202.7 260.9,202.6"/>
<circle cx="-33.3" cy="380.0" r="4.6" fill="url(#ball1)"/>
<circle cx="-25.9" cy="387.6" r="4.6" fill="url(#ball1)"/>
<circle cx="-21.3" cy="397.0" r="4.6" fill="url(#ball1)"/>
<circle cx="-17.2" cy="406.5" r="4.6" fill="url(#ball1)"/>
<circle cx="-11.5" cy="415.3" r="4.6" fill="url(#ball1)"/>
<circle cx="-2.7" cy="420.8" r="4.6" fill="url(#ball1)"/>
<circle cx="7.7" cy="422.7" r="4.6" fill="url(#ball1)"/>
<circle cx="18.1" cy="422.9" r="4.6" fill="url(#ball1)"/>
<circle cx="27.2" cy="418.3" r="4.6" fill="url(#ball1)"/>
<circle cx="30.5" cy="408.5" r="4.6" fill="url(#ball1)"/>
<circle cx="32.1" cy="398.1" r="4.6" fill="url(#ball1)"/>
<circle cx="34.3" cy="387.8" r="4.6" fill="url(#ball1)"/>
<circle cx="37.8" cy="377.9" r="4.6" fill="url(#ball1)"/>
<circle cx="42.5" cy="368.6" r="4.6" fill="url(#ball1)"/>
<circle cx="47.9" cy="359.5" r="4.6" fill="url(#ball1)"/>
<circle cx="53.6" cy="350.7" r="4.6" fill="url(#ball1)"/>
<circle cx="59.4" cy="341.9" r="4.6" fill="url(#ball1)"/>
<circle cx="64.7" cy="332.8" r="4.6" fill="url(#ball1)"/>
<circle cx="67.5" cy="322.8" r="4.6" fill="url(#ball1)"/>
<circle cx="68.6" cy="312.3" r="4.6" fill="url(#ball1)"/>
<circle cx="71.4" cy="302.4" r="4.6" fill="url(#ball1)"/>
<circle cx="76.8" cy="293.1" r="4.6" fill="url(#ball1)"/>
<circle cx="82.5" cy="284.3" r="4.6" fill="url(#ball1)"/>
<circle cx="88.2" cy="275.7" r="4.6" fill="url(#ball1)"/>
<circle cx="94.2" cy="267.0" r="4.6" fill="url(#ball1)"/>
<circle cx="100.7" cy="258.7" r="4.6" fill="url(#ball1)"/>
<circle cx="107.8" cy="251.1" r="4.6" fill="url(#ball1)"/>
<circle cx="115.5" cy="244.0" r="4.6" fill="url(#ball1)"/>
<circle cx="124.0" cy="237.6" r="4.6" fill="url(#ball1)"/>
<circle cx="133.4" cy="233.2" r="4.6" fill="url(#ball1)"/>
<circle cx="143.2" cy="229.4" r="4.6" fill="url(#ball1)"/>
<circle cx="152.5" cy="224.7" r="4.6" fill="url(#ball1)"/>
<circle cx="162.0" cy="220.1" r="4.6" fill="url(#ball1)"/>
<circle cx="171.7" cy="216.2" r="4.6" fill="url(#ball1)"/>
<circle cx="181.8" cy="213.3" r="4.6" fill="url(#ball1)"/>
<circle cx="192.3" cy="212.7" r="4.6" fill="url(#ball1)"/>
<circle cx="202.7" cy="213.2" r="4.6" fill="url(#ball1)"/>
<circle cx="213.3" cy="214.2" r="4.6" fill="url(#ball1)"/>
<circle cx="223.5" cy="216.4" r="4.6" fill="url(#ball1)"/>
<circle cx="233.7" cy="218.2" r="4.6" fill="url(#ball1)"/>
<circle cx="243.8" cy="215.3" r="4.6" fill="url(#ball1)"/>
<circle cx="252.5" cy="209.5" r="4.6" fill="url(#ball1)"/>
<circle cx="261.1" cy="203.5" r="4.6" fill="url(#ball1)"/>
<circle cx="-42.9" cy="401.7" r="4.6" fill="url(#ball1)"/>
<circle cx="-32.4" cy="402.2" r="4.6" fill="url(#ball1)"/>
<circle cx="-22.3" cy="399.6" r="4.6" fill="url(#ball1)"/>
<circle cx="-12.4" cy="396.5" r="4.6" fill="url(#ball1)"/>
<circle cx="-2.1" cy="394.8" r="4.6" fill="url(#ball1)"/>
<circle cx="8.0" cy="397.5" r="4.6" fill="url(#ball1)"/>
<circle cx="15.7" cy="404.3" r="4.6" fill="url(#ball1)"/>
<circle cx="21.9" cy="412.8" r="4.6" fill="url(#ball1)"/>
<circle cx="30.9" cy="417.2" r="4.6" fill="url(#ball1)"/>
<circle cx="40.9" cy="414.3" r="4.6" fill="url(#ball1)"/>
<circle cx="49.7" cy="408.3" r="4.6" fill="url(#ball1)"/>
<circle cx="56.8" cy="400.7" r="4.6" fill="url(#ball1)"/>
<circle cx="62.3" cy="391.8" r="4.6" fill="url(#ball1)"/>
<circle cx="65.7" cy="382.0" r="4.6" fill="url(#ball1)"/>
<circle cx="67.2" cy="371.4" r="4.6" fill="url(#ball1)"/>
<circle cx="67.2" cy="361.1" r="4.6" fill="url(#ball1)"/>
<circle cx="66.0" cy="350.7" r="4.6" fill="url(#ball1)"/>
<circle cx="64.0" cy="340.3" r="4.6" fill="url(#ball1)"/>
<circle cx="61.1" cy="330.3" r="4.6" fill="url(#ball1)"/>
<circle cx="56.8" cy="320.6" r="4.6" fill="url(#ball1)"/>
<circle cx="53.3" cy="310.7" r="4.6" fill="url(#ball1)"/>
<circle cx="52.3" cy="300.2" r="4.6" fill="url(#ball1)"/>
<circle cx="54.0" cy="289.9" r="4.6" fill="url(#ball1)"/>
<circle cx="57.1" cy="280.1" r="4.6" fill="url(#ball1)"/>
<circle cx="61.6" cy="270.6" r="4.6" fill="url(#ball1)"/>
<circle cx="67.3" cy="261.7" r="4.6" fill="url(#ball1)"/>
<circle cx="74.3" cy="253.7" r="4.6" fill="url(#ball1)"/>
<circle cx="82.2" cy="246.9" r="4.6" fill="url(#ball1)"/>
<circle cx="91.0" cy="241.1" r="4.6" fill="url(#ball1)"/>
<circle cx="100.2" cy="236.1" r="4.6" fill="url(#ball1)"/>
<circle cx="109.7" cy="232.1" r="4.6" fill="url(#ball1)"/>
<circle cx="119.7" cy="228.7" r="4.6" fill="url(#ball1)"/>
<circle cx="129.9" cy="226.0" r="4.6" fill="url(#ball1)"/>
<circle cx="140.3" cy="224.9" r="4.6" fill="url(#ball1)"/>
<circle cx="150.8" cy="226.2" r="4.6" fill="url(#ball1)"/>
<circle cx="160.2" cy="230.4" r="4.6" fill="url(#ball1)"/>
<circle cx="169.4" cy="235.7" r="4.6" fill="url(#ball1)"/>
<circle cx="179.2" cy="239.3" r="4.6" fill="url(#ball1)"/>
<circle cx="189.7" cy="239.4" r="4.6" fill="url(#ball1)"/>
<circle cx="199.4" cy="235.6" r="4.6" fill="url(#ball1)"/>
<circle cx="207.3" cy="228.7" r="4.6" fill="url(#ball1)"/>
<circle cx="213.6" cy="220.5" r="4.6" fill="url(#ball1)"/>
<circle cx="220.4" cy="212.5" r="4.6" fill="url(#ball1)"/>
<circle cx="228.9" cy="206.3" r="4.6" fill="url(#ball1)"/>
<circle cx="238.9" cy="203.7" r="4.6" fill="url(#ball1)"/>
<circle cx="249.4" cy="203.2" r="4.6" fill="url(#ball1)"/>
<circle cx="259.9" cy="202.7" r="4.6" fill="url(#ball1)"/>
<defs><linearGradient id="scrG" x1="0" y1="0" x2="1" y2="1"><stop offset="0" stop-color="#eef4f5"/><stop offset="1" stop-color="#e4eff2"/></linearGradient></defs>
<rect x="368" y="272.5" width="172" height="106" fill="#c7c9c9"/>
<rect x="374" y="278" width="160" height="92.5" fill="url(#scrG)"/>
<circle cx="529" cy="374.5" r="1.6" fill="#f4f4f4"/>
<rect x="430" y="378" width="47" height="18" fill="#c9cbcb"/>
<rect x="407" y="395.5" width="92" height="9.5" fill="#c9cbcb"/>
<g font-family="Liberation Sans" font-size="11.4" fill="#c6caca">
<text x="380" y="299">ACGTGCTTTCGTGCC</text>
<text x="380" y="318.5">CACGTGCCTACGAT</text>
<text x="380" y="338">CACGTCGTGTTTTTC</text>
<text x="380" y="357.5">GCCTACGAAC</text>
</g>

<defs>
<linearGradient id="tealR" x1="0" y1="0" x2="0" y2="1"><stop offset="0" stop-color="#4ccbc4"/><stop offset="0.5" stop-color="#74d6dc"/><stop offset="1" stop-color="#55c9c3"/></linearGradient>
<linearGradient id="handG" x1="0" y1="0" x2="1" y2="1"><stop offset="0" stop-color="#ffffff"/><stop offset="0.6" stop-color="#eeeff0"/><stop offset="1" stop-color="#cfd1d3"/></linearGradient>
</defs>
<g fill="none" stroke-linecap="round">
<!-- back strand B (light) -->
<path d="M477,215 C474,232 466,250 452,266 C445,273 438,279 432,284" stroke="#e6f2f4" stroke-width="3.2"/>
<path d="M477,215 C476,222 475,228 472,236" stroke="#9a88d2" stroke-width="3"/>
<path d="M462,323 C459,334 452,346 440,360 C428,372 412,386 402,405 C399,413 397,420 397.5,426" stroke="#8fd8d8" stroke-width="2.6" opacity="0.9"/>
<path d="M462,323 C460,332 456,340 452,345" stroke="#9480d0" stroke-width="3"/>
<!-- rungs -->
<g stroke="#5cd0ca" stroke-width="2.8">
<line x1="432" y1="218" x2="476" y2="222"/>
<line x1="436" y1="239" x2="467" y2="246"/>
<line x1="432" y1="283" x2="444" y2="283"/>
<line x1="414" y1="326" x2="461" y2="328"/>
<line x1="418" y1="351" x2="451" y2="349"/>
<line x1="409" y1="393" x2="437" y2="398"/>
<line x1="401" y1="418" x2="444" y2="421"/>
<line x1="478" y1="276" x2="488" y2="270"/>
<line x1="478" y1="308" x2="508" y2="308"/>
<line x1="419" y1="304" x2="440" y2="305"/>
</g>
<g stroke="#9a86d0" stroke-width="2.4" opacity="0.8">
<line x1="448" y1="327" x2="461" y2="328"/>
<line x1="440" y1="350" x2="451" y2="349"/>
</g>
<!-- front strand A -->
<path d="M429.5,209 C431,230 438,252 450,273 C444,277 437,281 432,284 C422,295 414,310 413,326 C412,345 420,362 428,376 C435,392 442,407 446,423" stroke="url(#tealR)" stroke-width="4"/>
<path d="M429.5,209 C431,230 438,252 450,273 C444,277 437,281 432,284 C422,295 414,310 413,326 C412,345 420,362 428,376 C435,392 442,407 446,423" stroke="#e8fbfa" stroke-width="1" opacity="0.7"/>

</g>
<!-- robot hand -->
<g stroke="#a9acaf" stroke-width="0.7" stroke-linejoin="round">
<!-- curled fingers -->
<path d="M533,286 C522,287 508,291 497,297 C490,301 486,306 487,309 C490,311 495,308 501,304 C510,299 522,298 534,298 Z" fill="#eceded" stroke="#8a8d90"/>
<path d="M534,297 C521,299 508,304 498,311 C492,316 490,321 492,323 C496,324 502,319 509,314 C518,309 527,309 534,309 Z" fill="#e2e3e5" stroke="#8a8d90"/>
<path d="M533,308 C522,311 512,316 504,322 C499,326 498,330 501,331 C507,330 514,326 520,323 C525,321 530,320 533,320 Z" fill="#d8d9db" stroke="#8a8d90"/>
<g stroke="#55585b" stroke-width="1.1" fill="none">
<path d="M503,299 C510,297 518,297 526,297"/>
<path d="M505,312 C512,309 520,308 527,308"/>
<path d="M509,323 C515,320 521,319 527,319"/>
</g>
<g fill="#707376" stroke="none"><circle cx="497" cy="300" r="0.9"/><circle cx="512" cy="306" r="0.9"/><circle cx="505" cy="318" r="0.9"/><circle cx="516" cy="292" r="0.9"/></g>
<!-- forearm -->
<path d="M609,335 L639,342 L639,381 L603,353 Z" fill="#f1f2f3"/>
<path d="M610,348.5 L639,352 L639,369.5 L617,362.5 C613,359 610,354 610,348.5 Z" fill="#2b2c2e" stroke="none"/><path d="M612,362 L639,375 L639,381 Z" fill="#3a3b3d" stroke="none"/>
<!-- hand body -->
<path d="M530,283 L536,276 C542,277 547,280 552,284 C566,296 581,309 595,321 L604,346 C590,348 572,344 550,340 C536,339 520,339 504,337 C500,335 500,330 503,328 C512,326 522,326 530,326 C528,312 527,296 530,283 Z" fill="#f4f5f6"/>
<path d="M540,300 C555,312 575,322 588,343" fill="none" stroke="#c8cacc" stroke-width="0.7"/>
<!-- index finger -->
<path d="M473,252 C482,253 490,257 498,260 C506,264 513,268 520,272.5 C526,276 532,279 538,282 L534,293 C528,290 524,287 519,284 C512,279 506,274 499,270 C491,267 483,263 476,260.5 C472,258.5 471,254 473,252 Z" fill="#f5f6f7"/>
<line x1="498" y1="260" x2="499" y2="270" stroke="#b5b8bb"/>
<line x1="520" y1="272.5" x2="519" y2="284" stroke="#b5b8bb"/>
<!-- thumb black -->
<path d="M530,330 C538,326 548,323 555,323 L556,339 C548,339 538,338.5 530,338 Z" fill="#2b2c2e" stroke="none"/>
<!-- back strip -->
<path d="M543.5,283 C546,280 549,280.5 552,283.5 L590,317 C589.5,320 587,321 585,320 L545,290 C542,288 542,285 543.5,283 Z" fill="#2b2c2e" stroke="none"/>
<!-- wrist ring -->
<path d="M594.8,321.4 L610,335 L603.4,353 L584.6,345.3 Z" fill="#a7a9ac" stroke="none"/>
<path d="M596,326 L607,336 L604,343 L591,336 Z" fill="#c8cacd" stroke="none"/>
<circle cx="602.5" cy="325.7" r="3.6" fill="#6a6c6f" stroke="#d0d2d4" stroke-width="1.2"/>
</g>

<g fill="none" stroke-linecap="round"><!-- right strand piece -->
<path d="M485,267 C494,282 504,300 509,323 C510,332 508,340 505,346" stroke="#55cbc5" stroke-width="4"/>
<path d="M506,320 C509,330 508,340 505,346" stroke="#9682d0" stroke-width="4"/><line x1="478" y1="308" x2="508" y2="308" stroke="#4cc9c4" stroke-width="2.4"/></g>
<defs><filter id="bsoft" x="-10%" y="-10%" width="120%" height="120%"><feGaussianBlur stdDeviation="0.5"/></filter><clipPath id="bacClip2"><path d="M109.3,579.2 L109.5,578.4 L109.7,577.7 L109.9,577.0 L110.1,576.2 L110.3,575.4 L110.5,574.7 L110.7,574.0 L110.9,573.2 L111.2,572.5 L111.5,571.9 L111.7,571.3 L112.1,570.7 L112.4,570.2 L112.7,569.7 L112.9,569.3 L113.2,568.9 L113.5,568.6 L113.8,568.2 L114.2,567.9 L114.6,567.6 L115.1,567.3 L115.7,567.0 L116.4,566.6 L117.2,566.3 L118.2,565.9 L119.3,565.5 L120.4,565.0 L121.7,564.6 L123.0,564.1 L124.4,563.7 L125.8,563.3 L127.3,562.9 L128.8,562.5 L130.3,562.3 L131.8,562.1 L133.2,562.0 L134.7,562.0 L136.2,562.1 L137.7,562.3 L139.2,562.5 L140.8,562.8 L142.4,563.2 L144.0,563.5 L145.6,563.9 L147.2,564.3 L148.7,564.6 L150.3,565.0 L151.9,565.3 L153.4,565.6 L155.0,565.9 L156.6,566.3 L158.2,566.7 L159.8,567.0 L161.4,567.4 L162.9,567.7 L164.5,568.0 L166.0,568.3 L167.6,568.5 L169.1,568.6 L170.5,568.7 L171.9,568.6 L173.3,568.5 L174.7,568.2 L176.0,567.9 L177.4,567.5 L178.7,567.1 L180.0,566.7 L181.3,566.3 L182.6,565.9 L183.9,565.6 L185.2,565.4 L186.5,565.3 L187.9,565.2 L189.2,565.2 L190.6,565.2 L192.0,565.2 L193.4,565.2 L194.7,565.3 L196.1,565.5 L197.5,565.6 L198.8,565.8 L200.1,566.1 L201.3,566.3 L202.5,566.6 L203.6,567.0 L204.8,567.4 L205.9,567.8 L207.0,568.2 L208.0,568.7 L209.1,569.2 L210.1,569.8 L211.0,570.4 L211.9,571.0 L212.8,571.6 L213.7,572.3 L214.5,573.0 L215.3,573.8 L216.1,574.6 L216.9,575.4 L217.6,576.3 L218.4,577.2 L219.1,578.1 L219.7,579.1 L220.2,580.0 L220.6,581.0 L220.9,582.0 L221.1,583.0 L221.1,584.1 L221.0,585.1 L220.8,586.2 L220.5,587.4 L220.1,588.6 L219.5,589.8 L218.9,591.0 L218.2,592.2 L217.3,593.3 L216.4,594.5 L215.4,595.6 L214.3,596.6 L213.1,597.5 L211.9,598.5 L210.4,599.3 L208.9,600.2 L207.2,601.0 L205.5,601.8 L203.7,602.5 L201.8,603.2 L199.8,603.9 L197.8,604.5 L195.8,605.1 L193.8,605.6 L191.8,606.1 L189.8,606.6 L187.6,606.9 L185.4,607.3 L183.2,607.6 L180.8,607.8 L178.5,608.0 L176.2,608.2 L173.9,608.3 L171.6,608.4 L169.4,608.5 L167.2,608.6 L165.2,608.6 L163.2,608.6 L161.3,608.5 L159.4,608.4 L157.6,608.3 L155.8,608.1 L154.0,607.9 L152.3,607.7 L150.6,607.4 L148.9,607.1 L147.2,606.8 L145.5,606.5 L143.9,606.1 L142.2,605.8 L140.6,605.4 L138.9,604.9 L137.3,604.5 L135.7,604.0 L134.1,603.5 L132.5,603.0 L131.0,602.4 L129.5,601.9 L128.0,601.3 L126.6,600.6 L125.2,600.0 L123.9,599.3 L122.6,598.6 L121.3,597.8 L120.0,597.0 L118.8,596.2 L117.6,595.4 L116.4,594.5 L115.4,593.7 L114.4,592.8 L113.5,591.9 L112.6,591.1 L111.9,590.2 L111.3,589.3 L110.9,588.4 L110.5,587.5 L110.2,586.6 L110.0,585.7 L109.9,584.8 L109.8,583.8 L109.7,582.9 L109.7,581.9 L109.6,581.0 L109.4,580.1 L109.3,579.2 Z"/></clipPath></defs>
<defs>
<radialGradient id="bacIn" cx="0.45" cy="0.5" r="0.6"><stop offset="0" stop-color="#d8ddd6"/><stop offset="0.7" stop-color="#b9c5b4"/><stop offset="1" stop-color="#8fb080"/></radialGradient>
<linearGradient id="bacOut" x1="0" y1="0" x2="0" y2="1"><stop offset="0" stop-color="#236f7a"/><stop offset="0.5" stop-color="#2f7f70"/><stop offset="1" stop-color="#2a7a62"/></linearGradient>
<linearGradient id="bacMid" x1="0" y1="0" x2="1" y2="0"><stop offset="0" stop-color="#3f8a66"/><stop offset="0.55" stop-color="#4f9650"/><stop offset="1" stop-color="#9cc448"/></linearGradient>
<clipPath id="bacClip"><path d="M106,584 C106,574 112,571 120,571 C136,572 150,576 167,575 C186,574 199,571 212,573 C223,575 226,582 224,589 C222,597 213,600 200,602 C182,606 165,606 145,603 C124,600 106,594 106,584 Z"/></clipPath>
</defs>
<!-- plasmid -->
<circle cx="152" cy="450.5" r="26" fill="none" stroke="#9c9c9c" stroke-width="3.2"/>
<path d="M 156.69,423.91 A 26.5 26.5 0 0 1 178.67,446.28" fill="none" stroke="#16928e" stroke-width="5.5"/>
<!-- arrow -->
<path d="M172.5,477.5 C182,492 188,512 186,531" fill="none" stroke="#222" stroke-width="1.1"/>
<path d="M183.2,527.5 L186,533.5 L188.6,527.8 L186,529.5 Z" fill="#222"/>

<path d="M33.5,512.5 C40,522 50,545 62,555 C68,559 70,546 74,546 C79,548 82,566 95,577" fill="none" stroke="#b0b4b4" stroke-width="3.2"/>
<g transform="rotate(-4 167 587) translate(0 -1.5)">
<path d="M86,525 C96,530 104,540 108,560" fill="none" stroke="#8d9292" stroke-width="0.8"/>
<path d="M116,545 C128,548 140,553 150,562" fill="none" stroke="#8d9292" stroke-width="0.8"/>
<path d="M138,540 C155,540 170,546 182,556" fill="none" stroke="#8d9292" stroke-width="0.8"/>
<path d="M155,543 C170,541 188,544 200,552" fill="none" stroke="#8d9292" stroke-width="0.8"/>
<path d="M73,597 C82,594 90,592 99,592" fill="none" stroke="#8d9292" stroke-width="0.8"/>
<path d="M102,630 C115,626 128,620 138,614" fill="none" stroke="#8d9292" stroke-width="0.8"/>
<path d="M167,633 C178,628 188,622 196,614" fill="none" stroke="#8d9292" stroke-width="0.8"/>
<path d="M205,563 C200,550 214,542 232,550" fill="none" stroke="#8d9292" stroke-width="0.8"/>
<path d="M225,608 C235,618 240,628 238,636" fill="none" stroke="#8d9292" stroke-width="0.8"/>
<path d="M60,603 C72,603 84,600 95,594" fill="none" stroke="#8d9292" stroke-width="0.8"/>
<path d="M188,618 C200,628 214,634 228,636" fill="none" stroke="#8d9292" stroke-width="0.8"/>
<path d="M235,590 C244,596 248,604 248,612" fill="none" stroke="#8d9292" stroke-width="0.8"/>
<line x1="94.4" y1="600.5" x2="85.3" y2="598.6" stroke="#627272" stroke-width="0.5" opacity="0.8"/>
<line x1="92.8" y1="598.0" x2="83.7" y2="598.6" stroke="#627272" stroke-width="0.5" opacity="0.8"/>
<line x1="197.3" y1="615.7" x2="199.4" y2="621.9" stroke="#627272" stroke-width="0.5" opacity="0.8"/>
<line x1="187.3" y1="554.1" x2="187.2" y2="550.1" stroke="#627272" stroke-width="0.5" opacity="0.8"/>
<line x1="231.0" y1="601.4" x2="238.7" y2="607.4" stroke="#627272" stroke-width="0.5" opacity="0.8"/>
<line x1="240.4" y1="591.7" x2="248.2" y2="598.8" stroke="#627272" stroke-width="0.5" opacity="0.8"/>
<line x1="123.9" y1="562.1" x2="115.1" y2="558.8" stroke="#627272" stroke-width="0.5" opacity="0.8"/>
<line x1="242.7" y1="586.1" x2="250.7" y2="582.9" stroke="#627272" stroke-width="0.5" opacity="0.8"/>
<line x1="194.9" y1="616.2" x2="200.8" y2="618.7" stroke="#627272" stroke-width="0.5" opacity="0.8"/>
<line x1="92.9" y1="598.3" x2="84.7" y2="596.8" stroke="#627272" stroke-width="0.5" opacity="0.8"/>
<line x1="91.5" y1="587.0" x2="81.5" y2="586.2" stroke="#627272" stroke-width="0.5" opacity="0.8"/>
<line x1="127.3" y1="561.0" x2="120.7" y2="557.0" stroke="#627272" stroke-width="0.5" opacity="0.8"/>
<line x1="243.0" y1="582.5" x2="254.6" y2="586.6" stroke="#627272" stroke-width="0.5" opacity="0.8"/>
<line x1="147.1" y1="556.2" x2="142.6" y2="552.0" stroke="#627272" stroke-width="0.5" opacity="0.8"/>
<line x1="148.5" y1="620.0" x2="145.3" y2="623.2" stroke="#627272" stroke-width="0.5" opacity="0.8"/>
<line x1="105.4" y1="609.6" x2="97.1" y2="615.4" stroke="#627272" stroke-width="0.5" opacity="0.8"/>
<line x1="240.4" y1="574.5" x2="247.1" y2="567.8" stroke="#627272" stroke-width="0.5" opacity="0.8"/>
<line x1="186.0" y1="617.9" x2="189.6" y2="626.2" stroke="#627272" stroke-width="0.5" opacity="0.8"/>
<line x1="242.4" y1="579.0" x2="248.6" y2="575.2" stroke="#627272" stroke-width="0.5" opacity="0.8"/>
<line x1="114.8" y1="565.8" x2="104.9" y2="562.1" stroke="#627272" stroke-width="0.5" opacity="0.8"/>
<line x1="231.9" y1="600.8" x2="234.7" y2="605.8" stroke="#627272" stroke-width="0.5" opacity="0.8"/>
<line x1="170.8" y1="553.8" x2="169.1" y2="549.9" stroke="#627272" stroke-width="0.5" opacity="0.8"/>
<line x1="228.2" y1="603.4" x2="230.9" y2="606.7" stroke="#627272" stroke-width="0.5" opacity="0.8"/>
<line x1="200.4" y1="614.9" x2="205.1" y2="620.6" stroke="#627272" stroke-width="0.5" opacity="0.8"/>
<line x1="194.7" y1="616.3" x2="203.1" y2="621.1" stroke="#627272" stroke-width="0.5" opacity="0.8"/>
<line x1="119.9" y1="563.6" x2="115.8" y2="560.6" stroke="#627272" stroke-width="0.5" opacity="0.8"/>
<line x1="184.6" y1="618.2" x2="181.6" y2="622.7" stroke="#627272" stroke-width="0.5" opacity="0.8"/>
<line x1="192.0" y1="554.5" x2="197.7" y2="551.2" stroke="#627272" stroke-width="0.5" opacity="0.8"/>
<line x1="185.6" y1="618.0" x2="183.6" y2="623.6" stroke="#627272" stroke-width="0.5" opacity="0.8"/>
<line x1="119.2" y1="563.8" x2="119.3" y2="559.8" stroke="#627272" stroke-width="0.5" opacity="0.8"/>
<line x1="184.4" y1="618.2" x2="183.3" y2="623.1" stroke="#627272" stroke-width="0.5" opacity="0.8"/>
<line x1="130.8" y1="617.9" x2="131.6" y2="623.1" stroke="#627272" stroke-width="0.5" opacity="0.8"/>
<line x1="231.1" y1="601.3" x2="240.6" y2="602.7" stroke="#627272" stroke-width="0.5" opacity="0.8"/>
<line x1="105.9" y1="570.6" x2="99.2" y2="567.6" stroke="#627272" stroke-width="0.5" opacity="0.8"/>
<line x1="240.5" y1="574.8" x2="249.3" y2="573.8" stroke="#627272" stroke-width="0.5" opacity="0.8"/>
<line x1="217.8" y1="559.8" x2="219.4" y2="555.4" stroke="#627272" stroke-width="0.5" opacity="0.8"/>
<line x1="230.8" y1="565.7" x2="237.7" y2="559.2" stroke="#627272" stroke-width="0.5" opacity="0.8"/>
<line x1="195.1" y1="616.2" x2="192.5" y2="623.6" stroke="#627272" stroke-width="0.5" opacity="0.8"/>
<line x1="192.0" y1="616.8" x2="189.5" y2="625.5" stroke="#627272" stroke-width="0.5" opacity="0.8"/>
<line x1="106.5" y1="570.2" x2="98.2" y2="569.6" stroke="#627272" stroke-width="0.5" opacity="0.8"/>
<line x1="240.8" y1="591.1" x2="253.4" y2="590.0" stroke="#627272" stroke-width="0.5" opacity="0.8"/>
<line x1="145.6" y1="556.5" x2="146.8" y2="551.6" stroke="#627272" stroke-width="0.5" opacity="0.8"/>
<line x1="104.5" y1="571.5" x2="97.3" y2="570.7" stroke="#627272" stroke-width="0.5" opacity="0.8"/>
<line x1="152.9" y1="555.3" x2="149.9" y2="552.0" stroke="#627272" stroke-width="0.5" opacity="0.8"/>
<line x1="96.2" y1="578.7" x2="86.0" y2="574.5" stroke="#627272" stroke-width="0.5" opacity="0.8"/>
<line x1="152.7" y1="620.2" x2="155.4" y2="628.6" stroke="#627272" stroke-width="0.5" opacity="0.8"/>
<line x1="242.6" y1="586.5" x2="249.7" y2="586.6" stroke="#627272" stroke-width="0.5" opacity="0.8"/>
<line x1="237.6" y1="595.5" x2="243.9" y2="596.4" stroke="#627272" stroke-width="0.5" opacity="0.8"/>
<line x1="98.7" y1="576.1" x2="92.8" y2="575.0" stroke="#627272" stroke-width="0.5" opacity="0.8"/>
<line x1="225.8" y1="563.0" x2="237.3" y2="559.0" stroke="#627272" stroke-width="0.5" opacity="0.8"/>
<line x1="139.6" y1="557.7" x2="132.2" y2="553.3" stroke="#627272" stroke-width="0.5" opacity="0.8"/>
<line x1="241.2" y1="590.3" x2="244.8" y2="592.9" stroke="#627272" stroke-width="0.5" opacity="0.8"/>
<line x1="144.0" y1="556.8" x2="133.4" y2="551.8" stroke="#627272" stroke-width="0.5" opacity="0.8"/>
<line x1="117.2" y1="564.7" x2="113.8" y2="559.0" stroke="#627272" stroke-width="0.5" opacity="0.8"/>
<line x1="135.1" y1="618.6" x2="137.2" y2="627.6" stroke="#627272" stroke-width="0.5" opacity="0.8"/>
<line x1="94.2" y1="581.4" x2="87.0" y2="575.7" stroke="#627272" stroke-width="0.5" opacity="0.8"/>
<line x1="160.8" y1="554.4" x2="164.3" y2="547.4" stroke="#627272" stroke-width="0.5" opacity="0.8"/>
<line x1="232.4" y1="566.8" x2="239.9" y2="565.3" stroke="#627272" stroke-width="0.5" opacity="0.8"/>
<line x1="228.7" y1="564.5" x2="237.6" y2="558.9" stroke="#627272" stroke-width="0.5" opacity="0.8"/>
<line x1="186.1" y1="554.1" x2="190.3" y2="546.2" stroke="#627272" stroke-width="0.5" opacity="0.8"/>
<line x1="113.2" y1="566.5" x2="108.2" y2="562.1" stroke="#627272" stroke-width="0.5" opacity="0.8"/>
<line x1="108.1" y1="569.2" x2="104.5" y2="566.2" stroke="#627272" stroke-width="0.5" opacity="0.8"/>
<line x1="242.9" y1="581.6" x2="254.5" y2="583.9" stroke="#627272" stroke-width="0.5" opacity="0.8"/>
<line x1="108.9" y1="611.3" x2="99.9" y2="615.6" stroke="#627272" stroke-width="0.5" opacity="0.8"/>
<line x1="96.2" y1="602.8" x2="89.5" y2="609.5" stroke="#627272" stroke-width="0.5" opacity="0.8"/>
<line x1="167.1" y1="554.0" x2="167.8" y2="550.4" stroke="#627272" stroke-width="0.5" opacity="0.8"/>
<line x1="91.5" y1="594.9" x2="84.8" y2="594.2" stroke="#627272" stroke-width="0.5" opacity="0.8"/>
<line x1="91.0" y1="591.6" x2="82.7" y2="587.8" stroke="#627272" stroke-width="0.5" opacity="0.8"/>
<line x1="164.2" y1="620.1" x2="165.4" y2="623.6" stroke="#627272" stroke-width="0.5" opacity="0.8"/>
<line x1="133.8" y1="559.1" x2="128.6" y2="556.2" stroke="#627272" stroke-width="0.5" opacity="0.8"/>
<line x1="230.1" y1="565.3" x2="238.1" y2="560.8" stroke="#627272" stroke-width="0.5" opacity="0.8"/>
<line x1="226.1" y1="563.1" x2="232.9" y2="560.8" stroke="#627272" stroke-width="0.5" opacity="0.8"/>
<line x1="191.2" y1="617.0" x2="190.3" y2="622.9" stroke="#627272" stroke-width="0.5" opacity="0.8"/>
<line x1="232.2" y1="566.6" x2="241.4" y2="561.2" stroke="#627272" stroke-width="0.5" opacity="0.8"/>
<line x1="101.1" y1="574.0" x2="93.6" y2="573.9" stroke="#627272" stroke-width="0.5" opacity="0.8"/>
<line x1="91.0" y1="591.7" x2="80.6" y2="588.1" stroke="#627272" stroke-width="0.5" opacity="0.8"/>
<line x1="148.7" y1="555.9" x2="142.0" y2="548.4" stroke="#627272" stroke-width="0.5" opacity="0.8"/>
<line x1="204.0" y1="613.9" x2="210.3" y2="618.0" stroke="#627272" stroke-width="0.5" opacity="0.8"/>
<line x1="184.0" y1="618.3" x2="184.4" y2="624.1" stroke="#627272" stroke-width="0.5" opacity="0.8"/>
<line x1="91.1" y1="592.3" x2="84.2" y2="590.0" stroke="#627272" stroke-width="0.5" opacity="0.8"/>
<line x1="242.5" y1="579.3" x2="249.1" y2="575.4" stroke="#627272" stroke-width="0.5" opacity="0.8"/>
<line x1="241.5" y1="589.6" x2="252.3" y2="586.0" stroke="#627272" stroke-width="0.5" opacity="0.8"/>
<line x1="147.5" y1="556.1" x2="142.7" y2="550.4" stroke="#627272" stroke-width="0.5" opacity="0.8"/>
<line x1="186.6" y1="554.1" x2="185.3" y2="550.6" stroke="#627272" stroke-width="0.5" opacity="0.8"/>
<line x1="94.0" y1="600.1" x2="88.9" y2="599.4" stroke="#627272" stroke-width="0.5" opacity="0.8"/>
<line x1="173.0" y1="619.6" x2="177.0" y2="622.8" stroke="#627272" stroke-width="0.5" opacity="0.8"/>
<line x1="114.7" y1="565.8" x2="110.0" y2="560.8" stroke="#627272" stroke-width="0.5" opacity="0.8"/>
<line x1="124.3" y1="561.9" x2="124.8" y2="553.9" stroke="#627272" stroke-width="0.5" opacity="0.8"/>
<line x1="136.6" y1="558.4" x2="133.7" y2="554.2" stroke="#627272" stroke-width="0.5" opacity="0.8"/>
<line x1="199.9" y1="615.0" x2="202.3" y2="618.2" stroke="#627272" stroke-width="0.5" opacity="0.8"/>
<line x1="150.0" y1="555.7" x2="146.7" y2="551.9" stroke="#627272" stroke-width="0.5" opacity="0.8"/>
<line x1="124.0" y1="616.5" x2="117.8" y2="622.5" stroke="#627272" stroke-width="0.5" opacity="0.8"/>
<line x1="109.8" y1="568.3" x2="100.5" y2="564.1" stroke="#627272" stroke-width="0.5" opacity="0.8"/>
<line x1="186.8" y1="554.1" x2="183.0" y2="545.9" stroke="#627272" stroke-width="0.5" opacity="0.8"/>
<line x1="236.3" y1="569.8" x2="242.6" y2="563.7" stroke="#627272" stroke-width="0.5" opacity="0.8"/>
<line x1="94.2" y1="600.3" x2="84.6" y2="598.4" stroke="#627272" stroke-width="0.5" opacity="0.8"/>
<line x1="112.7" y1="612.9" x2="103.4" y2="614.5" stroke="#627272" stroke-width="0.5" opacity="0.8"/>
<line x1="189.0" y1="554.3" x2="192.0" y2="545.7" stroke="#627272" stroke-width="0.5" opacity="0.8"/>
<line x1="122.8" y1="562.5" x2="120.8" y2="558.0" stroke="#627272" stroke-width="0.5" opacity="0.8"/>
<line x1="198.6" y1="555.3" x2="205.4" y2="550.1" stroke="#627272" stroke-width="0.5" opacity="0.8"/>
<line x1="184.4" y1="618.2" x2="179.2" y2="625.9" stroke="#627272" stroke-width="0.5" opacity="0.8"/>
<line x1="242.2" y1="578.4" x2="251.2" y2="580.1" stroke="#627272" stroke-width="0.5" opacity="0.8"/>
<line x1="134.5" y1="618.5" x2="124.6" y2="623.6" stroke="#627272" stroke-width="0.5" opacity="0.8"/>
<line x1="122.9" y1="616.2" x2="120.0" y2="619.6" stroke="#627272" stroke-width="0.5" opacity="0.8"/>
<line x1="94.8" y1="580.5" x2="84.1" y2="578.3" stroke="#627272" stroke-width="0.5" opacity="0.8"/>
<line x1="241.8" y1="588.9" x2="252.2" y2="585.6" stroke="#627272" stroke-width="0.5" opacity="0.8"/>
<line x1="190.4" y1="554.4" x2="190.9" y2="549.9" stroke="#627272" stroke-width="0.5" opacity="0.8"/>
<line x1="184.9" y1="554.0" x2="183.4" y2="549.8" stroke="#627272" stroke-width="0.5" opacity="0.8"/>
<line x1="91.4" y1="587.6" x2="82.4" y2="583.4" stroke="#627272" stroke-width="0.5" opacity="0.8"/>
<line x1="138.7" y1="557.9" x2="134.0" y2="549.7" stroke="#627272" stroke-width="0.5" opacity="0.8"/>
<line x1="239.2" y1="572.8" x2="243.5" y2="570.2" stroke="#627272" stroke-width="0.5" opacity="0.8"/>
<line x1="92.1" y1="585.4" x2="85.6" y2="583.0" stroke="#627272" stroke-width="0.5" opacity="0.8"/>
<line x1="118.1" y1="564.3" x2="116.2" y2="558.0" stroke="#627272" stroke-width="0.5" opacity="0.8"/>
<line x1="96.3" y1="578.6" x2="89.0" y2="577.5" stroke="#627272" stroke-width="0.5" opacity="0.8"/>
<line x1="209.8" y1="557.5" x2="212.1" y2="549.1" stroke="#627272" stroke-width="0.5" opacity="0.8"/>
<line x1="212.0" y1="558.0" x2="219.9" y2="551.0" stroke="#627272" stroke-width="0.5" opacity="0.8"/>
<line x1="98.9" y1="576.0" x2="93.1" y2="573.7" stroke="#627272" stroke-width="0.5" opacity="0.8"/>
<line x1="91.0" y1="590.3" x2="83.1" y2="594.5" stroke="#627272" stroke-width="0.5" opacity="0.8"/>
<line x1="241.6" y1="576.8" x2="250.2" y2="574.7" stroke="#627272" stroke-width="0.5" opacity="0.8"/>
<line x1="191.0" y1="554.4" x2="193.9" y2="548.1" stroke="#627272" stroke-width="0.5" opacity="0.8"/>
<line x1="139.5" y1="557.7" x2="137.7" y2="554.0" stroke="#627272" stroke-width="0.5" opacity="0.8"/>
<line x1="101.9" y1="607.4" x2="89.2" y2="607.0" stroke="#627272" stroke-width="0.5" opacity="0.8"/>
<line x1="157.8" y1="620.2" x2="161.3" y2="625.9" stroke="#627272" stroke-width="0.5" opacity="0.8"/>
<line x1="97.5" y1="604.0" x2="86.1" y2="602.9" stroke="#627272" stroke-width="0.5" opacity="0.8"/>
<line x1="91.8" y1="595.8" x2="85.5" y2="598.7" stroke="#627272" stroke-width="0.5" opacity="0.8"/>
<line x1="110.9" y1="567.7" x2="98.8" y2="565.8" stroke="#627272" stroke-width="0.5" opacity="0.8"/>
<line x1="180.9" y1="553.8" x2="179.7" y2="550.3" stroke="#627272" stroke-width="0.5" opacity="0.8"/>
<line x1="177.8" y1="619.1" x2="181.8" y2="625.9" stroke="#627272" stroke-width="0.5" opacity="0.8"/>
<line x1="120.3" y1="615.5" x2="119.2" y2="622.4" stroke="#627272" stroke-width="0.5" opacity="0.8"/>
<line x1="157.9" y1="554.7" x2="157.3" y2="550.6" stroke="#627272" stroke-width="0.5" opacity="0.8"/>
<line x1="166.7" y1="620.0" x2="166.4" y2="624.6" stroke="#627272" stroke-width="0.5" opacity="0.8"/>
<line x1="96.9" y1="603.5" x2="90.0" y2="606.2" stroke="#627272" stroke-width="0.5" opacity="0.8"/>
<line x1="92.3" y1="584.9" x2="86.2" y2="585.9" stroke="#627272" stroke-width="0.5" opacity="0.8"/>
<line x1="115.4" y1="565.5" x2="108.9" y2="560.1" stroke="#627272" stroke-width="0.5" opacity="0.8"/>
<line x1="212.2" y1="558.1" x2="221.1" y2="555.2" stroke="#627272" stroke-width="0.5" opacity="0.8"/>
<line x1="175.3" y1="619.4" x2="171.8" y2="626.6" stroke="#627272" stroke-width="0.5" opacity="0.8"/>
<line x1="229.2" y1="564.8" x2="234.1" y2="560.8" stroke="#627272" stroke-width="0.5" opacity="0.8"/>
<line x1="234.2" y1="568.1" x2="240.8" y2="569.1" stroke="#627272" stroke-width="0.5" opacity="0.8"/>
<line x1="224.8" y1="562.5" x2="227.7" y2="558.8" stroke="#627272" stroke-width="0.5" opacity="0.8"/>
<line x1="155.9" y1="554.9" x2="151.2" y2="551.2" stroke="#627272" stroke-width="0.5" opacity="0.8"/>
<line x1="204.5" y1="556.3" x2="211.2" y2="552.8" stroke="#627272" stroke-width="0.5" opacity="0.8"/>
<line x1="220.4" y1="607.7" x2="224.5" y2="612.7" stroke="#627272" stroke-width="0.5" opacity="0.8"/>
<line x1="242.5" y1="586.7" x2="248.7" y2="588.4" stroke="#627272" stroke-width="0.5" opacity="0.8"/>
<line x1="231.5" y1="566.2" x2="237.4" y2="558.2" stroke="#627272" stroke-width="0.5" opacity="0.8"/>
<line x1="91.0" y1="589.8" x2="80.0" y2="589.5" stroke="#627272" stroke-width="0.5" opacity="0.8"/>
<line x1="137.1" y1="558.2" x2="131.6" y2="555.8" stroke="#627272" stroke-width="0.5" opacity="0.8"/>
<line x1="226.7" y1="604.3" x2="230.6" y2="606.8" stroke="#627272" stroke-width="0.5" opacity="0.8"/>
<line x1="91.3" y1="587.9" x2="82.5" y2="590.5" stroke="#627272" stroke-width="0.5" opacity="0.8"/>
<line x1="197.4" y1="615.6" x2="197.0" y2="620.3" stroke="#627272" stroke-width="0.5" opacity="0.8"/>
<line x1="242.9" y1="581.0" x2="252.9" y2="575.9" stroke="#627272" stroke-width="0.5" opacity="0.8"/>
<line x1="237.3" y1="595.8" x2="249.2" y2="598.7" stroke="#627272" stroke-width="0.5" opacity="0.8"/>
<line x1="174.0" y1="553.8" x2="174.4" y2="548.4" stroke="#627272" stroke-width="0.5" opacity="0.8"/>
<line x1="91.4" y1="587.8" x2="83.1" y2="586.4" stroke="#627272" stroke-width="0.5" opacity="0.8"/>
<line x1="242.7" y1="585.8" x2="251.7" y2="589.7" stroke="#627272" stroke-width="0.5" opacity="0.8"/>
<line x1="198.8" y1="615.3" x2="199.6" y2="621.3" stroke="#627272" stroke-width="0.5" opacity="0.8"/>
<line x1="104.1" y1="608.8" x2="100.9" y2="612.8" stroke="#627272" stroke-width="0.5" opacity="0.8"/>
<line x1="91.2" y1="588.4" x2="87.1" y2="586.3" stroke="#627272" stroke-width="0.5" opacity="0.8"/>
<line x1="191.3" y1="554.4" x2="199.1" y2="549.4" stroke="#627272" stroke-width="0.5" opacity="0.8"/>
<line x1="114.8" y1="565.8" x2="110.0" y2="561.1" stroke="#627272" stroke-width="0.5" opacity="0.8"/>
<line x1="91.0" y1="590.1" x2="79.5" y2="586.2" stroke="#627272" stroke-width="0.5" opacity="0.8"/>
<line x1="163.1" y1="620.2" x2="158.3" y2="628.1" stroke="#627272" stroke-width="0.5" opacity="0.8"/>
<line x1="180.3" y1="553.8" x2="180.8" y2="545.8" stroke="#627272" stroke-width="0.5" opacity="0.8"/>
<line x1="227.5" y1="563.8" x2="238.7" y2="560.7" stroke="#627272" stroke-width="0.5" opacity="0.8"/>
<line x1="175.2" y1="553.8" x2="175.0" y2="546.0" stroke="#627272" stroke-width="0.5" opacity="0.8"/>
<line x1="154.0" y1="555.2" x2="151.9" y2="551.6" stroke="#627272" stroke-width="0.5" opacity="0.8"/>
<line x1="92.5" y1="597.3" x2="87.8" y2="598.7" stroke="#627272" stroke-width="0.5" opacity="0.8"/>
<line x1="118.1" y1="564.3" x2="109.3" y2="561.0" stroke="#627272" stroke-width="0.5" opacity="0.8"/>
<line x1="238.5" y1="572.0" x2="247.1" y2="568.1" stroke="#627272" stroke-width="0.5" opacity="0.8"/>
<line x1="126.2" y1="561.3" x2="121.4" y2="555.5" stroke="#627272" stroke-width="0.5" opacity="0.8"/>
<line x1="108.6" y1="611.2" x2="97.1" y2="615.5" stroke="#627272" stroke-width="0.5" opacity="0.8"/>
<line x1="144.1" y1="556.7" x2="148.1" y2="549.5" stroke="#627272" stroke-width="0.5" opacity="0.8"/>
<line x1="242.2" y1="587.8" x2="251.0" y2="591.0" stroke="#627272" stroke-width="0.5" opacity="0.8"/>
<line x1="163.8" y1="620.1" x2="168.4" y2="624.9" stroke="#627272" stroke-width="0.5" opacity="0.8"/>
<line x1="192.5" y1="616.7" x2="198.8" y2="620.2" stroke="#627272" stroke-width="0.5" opacity="0.8"/>
<line x1="166.6" y1="620.0" x2="165.7" y2="628.6" stroke="#627272" stroke-width="0.5" opacity="0.8"/>
<line x1="91.1" y1="589.4" x2="78.5" y2="588.1" stroke="#627272" stroke-width="0.5" opacity="0.8"/>
<line x1="243.0" y1="582.0" x2="252.3" y2="584.8" stroke="#627272" stroke-width="0.5" opacity="0.8"/>
<line x1="234.5" y1="598.7" x2="241.0" y2="603.8" stroke="#627272" stroke-width="0.5" opacity="0.8"/>
<line x1="240.0" y1="592.4" x2="252.2" y2="590.7" stroke="#627272" stroke-width="0.5" opacity="0.8"/>
<line x1="92.2" y1="596.8" x2="85.9" y2="597.6" stroke="#627272" stroke-width="0.5" opacity="0.8"/>
<line x1="108.8" y1="568.8" x2="107.5" y2="565.1" stroke="#627272" stroke-width="0.5" opacity="0.8"/>
<line x1="100.2" y1="606.3" x2="91.6" y2="608.6" stroke="#627272" stroke-width="0.5" opacity="0.8"/>
<line x1="116.5" y1="614.3" x2="110.6" y2="617.3" stroke="#627272" stroke-width="0.5" opacity="0.8"/>
<line x1="96.5" y1="578.4" x2="90.8" y2="575.2" stroke="#627272" stroke-width="0.5" opacity="0.8"/>
<line x1="145.3" y1="619.8" x2="145.7" y2="623.3" stroke="#627272" stroke-width="0.5" opacity="0.8"/>
<line x1="240.3" y1="591.9" x2="245.3" y2="594.5" stroke="#627272" stroke-width="0.5" opacity="0.8"/>
<line x1="108.5" y1="611.1" x2="97.0" y2="614.0" stroke="#627272" stroke-width="0.5" opacity="0.8"/>
<line x1="239.3" y1="593.4" x2="246.9" y2="600.7" stroke="#627272" stroke-width="0.5" opacity="0.8"/>
<line x1="235.0" y1="598.1" x2="246.5" y2="601.2" stroke="#627272" stroke-width="0.5" opacity="0.8"/>
<line x1="91.8" y1="595.6" x2="80.5" y2="599.9" stroke="#627272" stroke-width="0.5" opacity="0.8"/>
<line x1="91.8" y1="586.1" x2="80.6" y2="582.3" stroke="#627272" stroke-width="0.5" opacity="0.8"/>
<line x1="92.5" y1="597.4" x2="80.0" y2="595.3" stroke="#627272" stroke-width="0.5" opacity="0.8"/>
<line x1="106.5" y1="570.2" x2="102.5" y2="567.1" stroke="#627272" stroke-width="0.5" opacity="0.8"/>
<line x1="93.9" y1="599.9" x2="89.8" y2="603.6" stroke="#627272" stroke-width="0.5" opacity="0.8"/>
<line x1="92.2" y1="585.1" x2="86.2" y2="584.7" stroke="#627272" stroke-width="0.5" opacity="0.8"/>
<line x1="129.5" y1="560.3" x2="123.0" y2="556.3" stroke="#627272" stroke-width="0.5" opacity="0.8"/>
<line x1="100.9" y1="574.2" x2="95.8" y2="569.6" stroke="#627272" stroke-width="0.5" opacity="0.8"/>
<line x1="92.4" y1="584.6" x2="83.6" y2="577.9" stroke="#627272" stroke-width="0.5" opacity="0.8"/>
<line x1="159.5" y1="554.6" x2="155.4" y2="550.7" stroke="#627272" stroke-width="0.5" opacity="0.8"/>
<line x1="226.4" y1="563.3" x2="236.3" y2="559.5" stroke="#627272" stroke-width="0.5" opacity="0.8"/>
<line x1="118.9" y1="615.1" x2="113.0" y2="618.0" stroke="#627272" stroke-width="0.5" opacity="0.8"/>
<line x1="97.2" y1="577.6" x2="89.2" y2="573.8" stroke="#627272" stroke-width="0.5" opacity="0.8"/>
<line x1="168.6" y1="553.9" x2="166.5" y2="549.6" stroke="#627272" stroke-width="0.5" opacity="0.8"/>
<line x1="242.4" y1="578.8" x2="253.7" y2="582.2" stroke="#627272" stroke-width="0.5" opacity="0.8"/>
<line x1="240.7" y1="591.2" x2="246.1" y2="591.0" stroke="#627272" stroke-width="0.5" opacity="0.8"/>
<line x1="99.2" y1="605.5" x2="94.1" y2="611.5" stroke="#627272" stroke-width="0.5" opacity="0.8"/>
<line x1="93.6" y1="582.3" x2="88.3" y2="583.5" stroke="#627272" stroke-width="0.5" opacity="0.8"/>
<line x1="133.0" y1="559.3" x2="130.4" y2="552.9" stroke="#627272" stroke-width="0.5" opacity="0.8"/>
<line x1="113.9" y1="613.4" x2="110.7" y2="619.2" stroke="#627272" stroke-width="0.5" opacity="0.8"/>
<line x1="124.8" y1="616.7" x2="115.2" y2="620.4" stroke="#627272" stroke-width="0.5" opacity="0.8"/>
<line x1="234.9" y1="598.3" x2="238.6" y2="601.6" stroke="#627272" stroke-width="0.5" opacity="0.8"/>
<line x1="112.8" y1="566.7" x2="102.5" y2="563.8" stroke="#627272" stroke-width="0.5" opacity="0.8"/>
<line x1="99.4" y1="605.7" x2="92.4" y2="605.9" stroke="#627272" stroke-width="0.5" opacity="0.8"/>
<line x1="115.3" y1="613.9" x2="105.2" y2="614.9" stroke="#627272" stroke-width="0.5" opacity="0.8"/>
<line x1="132.3" y1="618.2" x2="125.5" y2="622.7" stroke="#627272" stroke-width="0.5" opacity="0.8"/>
<line x1="233.8" y1="567.7" x2="240.3" y2="564.0" stroke="#627272" stroke-width="0.5" opacity="0.8"/>
<line x1="229.3" y1="602.6" x2="241.3" y2="602.8" stroke="#627272" stroke-width="0.5" opacity="0.8"/>
<line x1="232.9" y1="600.0" x2="241.2" y2="603.2" stroke="#627272" stroke-width="0.5" opacity="0.8"/>
<line x1="137.0" y1="558.3" x2="136.8" y2="553.1" stroke="#627272" stroke-width="0.5" opacity="0.8"/>
<line x1="234.5" y1="598.6" x2="239.6" y2="601.7" stroke="#627272" stroke-width="0.5" opacity="0.8"/>
<line x1="233.2" y1="599.7" x2="238.2" y2="603.6" stroke="#627272" stroke-width="0.5" opacity="0.8"/>
<line x1="140.8" y1="557.4" x2="135.3" y2="554.1" stroke="#627272" stroke-width="0.5" opacity="0.8"/>
<line x1="119.4" y1="615.2" x2="114.3" y2="621.9" stroke="#627272" stroke-width="0.5" opacity="0.8"/>
<line x1="223.2" y1="606.2" x2="230.4" y2="611.8" stroke="#627272" stroke-width="0.5" opacity="0.8"/>
<line x1="233.3" y1="567.4" x2="245.8" y2="567.9" stroke="#627272" stroke-width="0.5" opacity="0.8"/>
<line x1="96.7" y1="603.2" x2="87.7" y2="608.2" stroke="#627272" stroke-width="0.5" opacity="0.8"/>
<line x1="135.7" y1="618.7" x2="128.6" y2="621.7" stroke="#627272" stroke-width="0.5" opacity="0.8"/>
<line x1="227.0" y1="563.6" x2="231.6" y2="559.9" stroke="#627272" stroke-width="0.5" opacity="0.8"/>
<line x1="116.5" y1="614.3" x2="112.2" y2="619.0" stroke="#627272" stroke-width="0.5" opacity="0.8"/>
<line x1="109.2" y1="611.5" x2="103.8" y2="614.1" stroke="#627272" stroke-width="0.5" opacity="0.8"/>
<line x1="189.2" y1="554.3" x2="195.6" y2="549.6" stroke="#627272" stroke-width="0.5" opacity="0.8"/>
<line x1="96.8" y1="578.0" x2="92.2" y2="574.9" stroke="#627272" stroke-width="0.5" opacity="0.8"/>
<line x1="222.7" y1="561.6" x2="223.8" y2="556.6" stroke="#627272" stroke-width="0.5" opacity="0.8"/>
<line x1="91.4" y1="587.7" x2="82.2" y2="586.5" stroke="#627272" stroke-width="0.5" opacity="0.8"/>
<line x1="241.3" y1="576.2" x2="251.3" y2="577.7" stroke="#627272" stroke-width="0.5" opacity="0.8"/>
<line x1="236.9" y1="596.2" x2="243.4" y2="601.0" stroke="#627272" stroke-width="0.5" opacity="0.8"/>
<line x1="232.6" y1="600.2" x2="236.3" y2="603.2" stroke="#627272" stroke-width="0.5" opacity="0.8"/>
<line x1="228.2" y1="564.2" x2="233.3" y2="562.5" stroke="#627272" stroke-width="0.5" opacity="0.8"/>
<line x1="214.0" y1="610.5" x2="218.9" y2="617.3" stroke="#627272" stroke-width="0.5" opacity="0.8"/>
<line x1="169.2" y1="619.9" x2="166.9" y2="624.3" stroke="#627272" stroke-width="0.5" opacity="0.8"/>
<line x1="91.7" y1="586.5" x2="80.6" y2="586.6" stroke="#627272" stroke-width="0.5" opacity="0.8"/>
<line x1="127.2" y1="617.2" x2="118.1" y2="623.5" stroke="#627272" stroke-width="0.5" opacity="0.8"/>
<line x1="91.1" y1="592.3" x2="82.1" y2="590.6" stroke="#627272" stroke-width="0.5" opacity="0.8"/>
<line x1="147.2" y1="556.2" x2="142.6" y2="548.2" stroke="#627272" stroke-width="0.5" opacity="0.8"/>
<line x1="202.0" y1="555.9" x2="210.6" y2="551.8" stroke="#627272" stroke-width="0.5" opacity="0.8"/>
<line x1="193.2" y1="554.6" x2="202.3" y2="549.5" stroke="#627272" stroke-width="0.5" opacity="0.8"/>
<line x1="240.3" y1="574.5" x2="250.2" y2="572.9" stroke="#627272" stroke-width="0.5" opacity="0.8"/>
<line x1="148.1" y1="556.0" x2="144.1" y2="548.5" stroke="#627272" stroke-width="0.5" opacity="0.8"/>
<line x1="100.3" y1="606.3" x2="94.2" y2="607.0" stroke="#627272" stroke-width="0.5" opacity="0.8"/>
<line x1="242.9" y1="581.1" x2="249.8" y2="578.4" stroke="#627272" stroke-width="0.5" opacity="0.8"/>
<line x1="188.5" y1="617.5" x2="193.1" y2="622.4" stroke="#627272" stroke-width="0.5" opacity="0.8"/>
<line x1="241.6" y1="576.8" x2="246.5" y2="575.1" stroke="#627272" stroke-width="0.5" opacity="0.8"/>
<line x1="224.1" y1="605.8" x2="228.6" y2="612.2" stroke="#627272" stroke-width="0.5" opacity="0.8"/>
<line x1="199.6" y1="615.1" x2="202.2" y2="618.5" stroke="#627272" stroke-width="0.5" opacity="0.8"/>
<line x1="101.4" y1="573.8" x2="89.2" y2="574.9" stroke="#627272" stroke-width="0.5" opacity="0.8"/>
<line x1="226.0" y1="604.7" x2="232.2" y2="606.0" stroke="#627272" stroke-width="0.5" opacity="0.8"/>
<line x1="174.0" y1="619.5" x2="173.5" y2="627.0" stroke="#627272" stroke-width="0.5" opacity="0.8"/>
<line x1="179.4" y1="618.9" x2="182.3" y2="623.0" stroke="#627272" stroke-width="0.5" opacity="0.8"/>
<line x1="202.6" y1="614.3" x2="210.1" y2="620.0" stroke="#627272" stroke-width="0.5" opacity="0.8"/>
<line x1="94.5" y1="581.0" x2="83.4" y2="578.8" stroke="#627272" stroke-width="0.5" opacity="0.8"/>
<g filter="url(#bsoft)">
<path d="M91.2,577.7 L91.5,576.7 L91.8,575.8 L92.1,574.7 L92.3,573.7 L92.6,572.7 L92.9,571.7 L93.2,570.7 L93.5,569.7 L93.8,568.8 L94.2,567.9 L94.6,567.1 L95.0,566.3 L95.4,565.6 L95.8,565.0 L96.2,564.4 L96.6,563.9 L97.0,563.4 L97.4,563.0 L97.9,562.5 L98.5,562.1 L99.1,561.7 L100.0,561.3 L100.9,560.8 L102.0,560.3 L103.3,559.8 L104.7,559.2 L106.3,558.6 L108.0,558.0 L109.8,557.4 L111.7,556.8 L113.6,556.2 L115.6,555.7 L117.6,555.3 L119.6,554.9 L121.6,554.7 L123.6,554.5 L125.6,554.5 L127.6,554.7 L129.6,554.9 L131.7,555.2 L133.8,555.6 L136.0,556.1 L138.1,556.6 L140.3,557.1 L142.4,557.6 L144.6,558.1 L146.7,558.5 L148.8,558.9 L150.9,559.4 L153.0,559.8 L155.2,560.3 L157.3,560.8 L159.5,561.3 L161.6,561.8 L163.8,562.3 L165.9,562.7 L168.0,563.0 L170.0,563.3 L172.0,563.5 L174.0,563.5 L175.9,563.5 L177.8,563.2 L179.7,562.9 L181.5,562.5 L183.3,562.0 L185.0,561.4 L186.8,560.9 L188.5,560.3 L190.3,559.9 L192.0,559.4 L193.8,559.1 L195.6,558.9 L197.4,558.9 L199.3,558.8 L201.1,558.8 L203.0,558.8 L204.9,558.9 L206.7,559.0 L208.6,559.2 L210.4,559.4 L212.2,559.7 L213.9,560.0 L215.6,560.4 L217.2,560.8 L218.8,561.3 L220.3,561.8 L221.8,562.3 L223.3,562.9 L224.7,563.6 L226.1,564.3 L227.4,565.0 L228.7,565.8 L230.0,566.7 L231.2,567.6 L232.3,568.5 L233.4,569.4 L234.5,570.4 L235.5,571.5 L236.6,572.6 L237.7,573.8 L238.7,575.0 L239.6,576.3 L240.4,577.6 L241.1,578.9 L241.7,580.2 L242.1,581.6 L242.4,583.0 L242.4,584.3 L242.3,585.8 L242.0,587.3 L241.5,588.8 L240.9,590.4 L240.2,592.0 L239.4,593.7 L238.4,595.3 L237.3,596.9 L236.0,598.4 L234.7,599.9 L233.2,601.3 L231.6,602.6 L229.9,603.8 L227.9,605.0 L225.8,606.1 L223.6,607.2 L221.2,608.3 L218.8,609.3 L216.2,610.2 L213.6,611.1 L210.9,612.0 L208.2,612.8 L205.5,613.5 L202.8,614.1 L200.0,614.7 L197.1,615.3 L194.1,615.7 L191.1,616.1 L187.9,616.5 L184.8,616.7 L181.7,617.0 L178.5,617.2 L175.5,617.3 L172.5,617.4 L169.6,617.4 L166.8,617.5 L164.1,617.4 L161.5,617.3 L159.0,617.2 L156.5,617.0 L154.1,616.8 L151.7,616.5 L149.4,616.2 L147.1,615.9 L144.8,615.5 L142.5,615.1 L140.3,614.6 L138.0,614.1 L135.8,613.6 L133.5,613.1 L131.3,612.5 L129.1,611.9 L126.9,611.3 L124.7,610.6 L122.6,609.9 L120.5,609.2 L118.5,608.4 L116.5,607.6 L114.6,606.7 L112.8,605.9 L111.0,604.9 L109.2,604.0 L107.5,602.9 L105.7,601.9 L104.1,600.8 L102.5,599.7 L100.9,598.5 L99.5,597.3 L98.1,596.2 L96.9,595.0 L95.8,593.8 L94.8,592.6 L94.0,591.4 L93.4,590.2 L92.9,589.0 L92.5,587.8 L92.3,586.5 L92.1,585.3 L92.0,584.0 L91.9,582.7 L91.8,581.5 L91.6,580.2 L91.5,579.0 L91.2,577.7 Z" fill="url(#bacOut)"/>
<path d="M98.1,578.6 L98.4,577.7 L98.7,576.8 L98.9,575.9 L99.2,575.0 L99.4,574.1 L99.7,573.1 L99.9,572.2 L100.2,571.4 L100.5,570.5 L100.8,569.7 L101.2,569.0 L101.6,568.3 L101.9,567.7 L102.3,567.1 L102.6,566.6 L103.0,566.2 L103.3,565.7 L103.7,565.3 L104.2,564.9 L104.7,564.5 L105.3,564.2 L106.0,563.8 L106.9,563.4 L107.9,562.9 L109.0,562.5 L110.3,561.9 L111.7,561.4 L113.2,560.8 L114.9,560.3 L116.6,559.7 L118.3,559.2 L120.1,558.8 L121.9,558.4 L123.7,558.1 L125.5,557.8 L127.3,557.7 L129.1,557.7 L130.9,557.8 L132.7,558.1 L134.6,558.4 L136.5,558.7 L138.4,559.1 L140.4,559.6 L142.3,560.0 L144.2,560.5 L146.2,560.9 L148.1,561.3 L150.0,561.7 L151.9,562.1 L153.8,562.5 L155.7,562.9 L157.7,563.4 L159.6,563.8 L161.5,564.3 L163.4,564.7 L165.3,565.1 L167.2,565.4 L169.1,565.6 L170.9,565.8 L172.7,565.8 L174.4,565.8 L176.1,565.6 L177.8,565.2 L179.4,564.8 L181.0,564.4 L182.6,563.9 L184.2,563.4 L185.7,562.9 L187.3,562.5 L188.9,562.1 L190.5,561.9 L192.1,561.7 L193.7,561.6 L195.4,561.6 L197.1,561.6 L198.8,561.6 L200.4,561.7 L202.1,561.8 L203.8,561.9 L205.4,562.1 L207.0,562.4 L208.6,562.6 L210.1,563.0 L211.5,563.3 L212.9,563.8 L214.3,564.2 L215.7,564.7 L217.0,565.3 L218.3,565.9 L219.5,566.5 L220.8,567.2 L221.9,567.9 L223.0,568.6 L224.1,569.4 L225.1,570.3 L226.1,571.1 L227.1,572.0 L228.1,573.0 L229.0,574.0 L230.0,575.1 L230.9,576.2 L231.7,577.3 L232.4,578.5 L233.1,579.6 L233.6,580.8 L234.0,582.1 L234.2,583.3 L234.2,584.5 L234.1,585.8 L233.8,587.2 L233.4,588.6 L232.9,590.0 L232.3,591.5 L231.5,592.9 L230.6,594.4 L229.6,595.8 L228.5,597.2 L227.3,598.5 L225.9,599.8 L224.5,600.9 L222.9,602.0 L221.2,603.1 L219.3,604.1 L217.3,605.1 L215.2,606.1 L213.0,607.0 L210.7,607.9 L208.3,608.7 L205.9,609.4 L203.5,610.1 L201.0,610.8 L198.6,611.4 L196.1,611.9 L193.5,612.4 L190.8,612.8 L188.0,613.1 L185.2,613.4 L182.4,613.7 L179.6,613.9 L176.7,614.1 L174.0,614.2 L171.3,614.3 L168.7,614.3 L166.2,614.4 L163.8,614.3 L161.4,614.3 L159.2,614.1 L156.9,614.0 L154.8,613.8 L152.6,613.5 L150.5,613.2 L148.4,612.9 L146.4,612.6 L144.3,612.2 L142.3,611.8 L140.3,611.4 L138.2,610.9 L136.2,610.4 L134.2,609.9 L132.2,609.4 L130.3,608.8 L128.3,608.2 L126.4,607.6 L124.5,606.9 L122.7,606.2 L120.9,605.5 L119.2,604.7 L117.6,603.9 L116.0,603.1 L114.4,602.2 L112.8,601.3 L111.2,600.3 L109.7,599.3 L108.3,598.3 L106.9,597.3 L105.6,596.2 L104.4,595.2 L103.3,594.1 L102.3,593.1 L101.4,592.0 L100.7,590.9 L100.1,589.8 L99.7,588.7 L99.3,587.6 L99.1,586.5 L99.0,585.4 L98.8,584.2 L98.7,583.1 L98.6,582.0 L98.5,580.8 L98.4,579.7 L98.1,578.6 Z" fill="url(#bacMid)"/>
<path d="M109.3,579.2 L109.5,578.4 L109.7,577.7 L109.9,577.0 L110.1,576.2 L110.3,575.4 L110.5,574.7 L110.7,574.0 L110.9,573.2 L111.2,572.5 L111.5,571.9 L111.7,571.3 L112.1,570.7 L112.4,570.2 L112.7,569.7 L112.9,569.3 L113.2,568.9 L113.5,568.6 L113.8,568.2 L114.2,567.9 L114.6,567.6 L115.1,567.3 L115.7,567.0 L116.4,566.6 L117.2,566.3 L118.2,565.9 L119.3,565.5 L120.4,565.0 L121.7,564.6 L123.0,564.1 L124.4,563.7 L125.8,563.3 L127.3,562.9 L128.8,562.5 L130.3,562.3 L131.8,562.1 L133.2,562.0 L134.7,562.0 L136.2,562.1 L137.7,562.3 L139.2,562.5 L140.8,562.8 L142.4,563.2 L144.0,563.5 L145.6,563.9 L147.2,564.3 L148.7,564.6 L150.3,565.0 L151.9,565.3 L153.4,565.6 L155.0,565.9 L156.6,566.3 L158.2,566.7 L159.8,567.0 L161.4,567.4 L162.9,567.7 L164.5,568.0 L166.0,568.3 L167.6,568.5 L169.1,568.6 L170.5,568.7 L171.9,568.6 L173.3,568.5 L174.7,568.2 L176.0,567.9 L177.4,567.5 L178.7,567.1 L180.0,566.7 L181.3,566.3 L182.6,565.9 L183.9,565.6 L185.2,565.4 L186.5,565.3 L187.9,565.2 L189.2,565.2 L190.6,565.2 L192.0,565.2 L193.4,565.2 L194.7,565.3 L196.1,565.5 L197.5,565.6 L198.8,565.8 L200.1,566.1 L201.3,566.3 L202.5,566.6 L203.6,567.0 L204.8,567.4 L205.9,567.8 L207.0,568.2 L208.0,568.7 L209.1,569.2 L210.1,569.8 L211.0,570.4 L211.9,571.0 L212.8,571.6 L213.7,572.3 L214.5,573.0 L215.3,573.8 L216.1,574.6 L216.9,575.4 L217.6,576.3 L218.4,577.2 L219.1,578.1 L219.7,579.1 L220.2,580.0 L220.6,581.0 L220.9,582.0 L221.1,583.0 L221.1,584.1 L221.0,585.1 L220.8,586.2 L220.5,587.4 L220.1,588.6 L219.5,589.8 L218.9,591.0 L218.2,592.2 L217.3,593.3 L216.4,594.5 L215.4,595.6 L214.3,596.6 L213.1,597.5 L211.9,598.5 L210.4,599.3 L208.9,600.2 L207.2,601.0 L205.5,601.8 L203.7,602.5 L201.8,603.2 L199.8,603.9 L197.8,604.5 L195.8,605.1 L193.8,605.6 L191.8,606.1 L189.8,606.6 L187.6,606.9 L185.4,607.3 L183.2,607.6 L180.8,607.8 L178.5,608.0 L176.2,608.2 L173.9,608.3 L171.6,608.4 L169.4,608.5 L167.2,608.6 L165.2,608.6 L163.2,608.6 L161.3,608.5 L159.4,608.4 L157.6,608.3 L155.8,608.1 L154.0,607.9 L152.3,607.7 L150.6,607.4 L148.9,607.1 L147.2,606.8 L145.5,606.5 L143.9,606.1 L142.2,605.8 L140.6,605.4 L138.9,604.9 L137.3,604.5 L135.7,604.0 L134.1,603.5 L132.5,603.0 L131.0,602.4 L129.5,601.9 L128.0,601.3 L126.6,600.6 L125.2,600.0 L123.9,599.3 L122.6,598.6 L121.3,597.8 L120.0,597.0 L118.8,596.2 L117.6,595.4 L116.4,594.5 L115.4,593.7 L114.4,592.8 L113.5,591.9 L112.6,591.1 L111.9,590.2 L111.3,589.3 L110.9,588.4 L110.5,587.5 L110.2,586.6 L110.0,585.7 L109.9,584.8 L109.8,583.8 L109.7,582.9 L109.7,581.9 L109.6,581.0 L109.4,580.1 L109.3,579.2 Z" fill="url(#bacIn)"/>
<g clip-path="url(#bacClip2)">
<circle cx="137.3" cy="609.0" r="2.4" fill="#eef0ec" opacity="0.55"/>
<circle cx="188.5" cy="602.9" r="1.0" fill="#e0e4e0" opacity="0.55"/>
<circle cx="132.3" cy="564.6" r="2.5" fill="#e0e4e0" opacity="0.55"/>
<circle cx="206.2" cy="613.7" r="2.2" fill="#e0e4e0" opacity="0.55"/>
<circle cx="139.1" cy="614.5" r="2.0" fill="#b5bdb6" opacity="0.55"/>
<circle cx="218.2" cy="608.3" r="2.4" fill="#6f9080" opacity="0.55"/>
<circle cx="206.0" cy="599.8" r="1.9" fill="#b5bdb6" opacity="0.55"/>
<circle cx="157.2" cy="602.9" r="1.1" fill="#e0e4e0" opacity="0.55"/>
<circle cx="207.7" cy="568.9" r="2.1" fill="#c8d070" opacity="0.55"/>
<circle cx="138.1" cy="590.3" r="1.1" fill="#e0e4e0" opacity="0.55"/>
<circle cx="126.8" cy="572.8" r="2.4" fill="#b5bdb6" opacity="0.55"/>
<circle cx="209.2" cy="566.4" r="1.3" fill="#4f8a70" opacity="0.55"/>
<circle cx="171.6" cy="609.2" r="2.0" fill="#8f9a92" opacity="0.55"/>
<circle cx="226.3" cy="593.1" r="2.3" fill="#eef0ec" opacity="0.55"/>
<circle cx="106.4" cy="572.0" r="1.1" fill="#4f8a70" opacity="0.55"/>
<circle cx="115.6" cy="605.8" r="1.2" fill="#c8d070" opacity="0.55"/>
<circle cx="156.9" cy="588.2" r="2.5" fill="#eef0ec" opacity="0.55"/>
<circle cx="144.5" cy="583.5" r="1.8" fill="#6f9080" opacity="0.55"/>
<circle cx="189.4" cy="565.6" r="0.9" fill="#b5bdb6" opacity="0.55"/>
<circle cx="117.5" cy="582.9" r="1.6" fill="#e0e4e0" opacity="0.55"/>
<circle cx="210.2" cy="596.7" r="0.8" fill="#6f9080" opacity="0.55"/>
<circle cx="195.1" cy="587.2" r="1.3" fill="#8f9a92" opacity="0.55"/>
<circle cx="162.6" cy="562.6" r="2.6" fill="#e0e4e0" opacity="0.55"/>
<circle cx="196.1" cy="609.8" r="1.1" fill="#4f8a70" opacity="0.55"/>
<circle cx="152.1" cy="590.6" r="1.3" fill="#eef0ec" opacity="0.55"/>
<circle cx="200.6" cy="591.4" r="1.0" fill="#b5bdb6" opacity="0.55"/>
<circle cx="129.6" cy="600.8" r="1.4" fill="#eef0ec" opacity="0.55"/>
<circle cx="176.0" cy="600.4" r="1.4" fill="#e0e4e0" opacity="0.55"/>
<circle cx="153.0" cy="567.4" r="1.9" fill="#b5bdb6" opacity="0.55"/>
<circle cx="190.7" cy="599.5" r="1.1" fill="#6f9080" opacity="0.55"/>
<circle cx="108.7" cy="586.5" r="2.1" fill="#8f9a92" opacity="0.55"/>
<circle cx="133.0" cy="570.3" r="1.0" fill="#6f9080" opacity="0.55"/>
<circle cx="202.7" cy="580.1" r="2.3" fill="#c8d070" opacity="0.55"/>
<circle cx="121.8" cy="572.9" r="1.1" fill="#4f8a70" opacity="0.55"/>
<circle cx="153.4" cy="579.6" r="1.5" fill="#8f9a92" opacity="0.55"/>
<circle cx="197.0" cy="594.5" r="1.4" fill="#e0e4e0" opacity="0.55"/>
<circle cx="205.1" cy="597.0" r="1.9" fill="#8f9a92" opacity="0.55"/>
<circle cx="137.4" cy="572.0" r="1.4" fill="#6f9080" opacity="0.55"/>
<circle cx="117.6" cy="582.0" r="1.7" fill="#e0e4e0" opacity="0.55"/>
<circle cx="141.6" cy="567.4" r="2.1" fill="#eef0ec" opacity="0.55"/>
<circle cx="202.1" cy="609.9" r="1.8" fill="#eef0ec" opacity="0.55"/>
<circle cx="182.3" cy="589.2" r="1.8" fill="#b5bdb6" opacity="0.55"/>
<circle cx="230.3" cy="589.3" r="2.1" fill="#e0e4e0" opacity="0.55"/>
<circle cx="223.8" cy="592.1" r="0.8" fill="#4f8a70" opacity="0.55"/>
<circle cx="129.3" cy="566.4" r="1.2" fill="#c8d070" opacity="0.55"/>
<circle cx="157.4" cy="579.7" r="1.0" fill="#e0e4e0" opacity="0.55"/>
<circle cx="150.2" cy="586.5" r="1.0" fill="#4f8a70" opacity="0.55"/>
<circle cx="121.4" cy="609.9" r="1.8" fill="#c8d070" opacity="0.55"/>
<circle cx="112.1" cy="610.5" r="1.1" fill="#4f8a70" opacity="0.55"/>
<circle cx="231.0" cy="605.3" r="1.9" fill="#8f9a92" opacity="0.55"/>
<circle cx="223.6" cy="562.2" r="2.0" fill="#eef0ec" opacity="0.55"/>
<circle cx="134.8" cy="592.4" r="2.3" fill="#b5bdb6" opacity="0.55"/>
<circle cx="180.5" cy="605.0" r="1.6" fill="#6f9080" opacity="0.55"/>
<circle cx="127.0" cy="614.3" r="2.5" fill="#4f8a70" opacity="0.55"/>
<circle cx="121.7" cy="602.1" r="2.3" fill="#6f9080" opacity="0.55"/>
<circle cx="182.7" cy="595.9" r="2.2" fill="#b5bdb6" opacity="0.55"/>
<circle cx="129.5" cy="586.8" r="1.1" fill="#6f9080" opacity="0.55"/>
<circle cx="119.1" cy="583.5" r="1.4" fill="#b5bdb6" opacity="0.55"/>
<circle cx="137.7" cy="592.1" r="1.4" fill="#4f8a70" opacity="0.55"/>
<circle cx="204.3" cy="600.2" r="2.2" fill="#6f9080" opacity="0.55"/>
<circle cx="226.8" cy="593.8" r="1.6" fill="#6f9080" opacity="0.55"/>
<circle cx="218.8" cy="610.4" r="1.8" fill="#6f9080" opacity="0.55"/>
<circle cx="200.2" cy="587.7" r="2.6" fill="#e0e4e0" opacity="0.55"/>
<circle cx="219.9" cy="598.6" r="2.3" fill="#8f9a92" opacity="0.55"/>
<circle cx="176.4" cy="610.0" r="1.7" fill="#c8d070" opacity="0.55"/>
<circle cx="170.6" cy="584.3" r="0.8" fill="#8f9a92" opacity="0.55"/>
<circle cx="141.9" cy="594.7" r="1.6" fill="#6f9080" opacity="0.55"/>
<circle cx="180.5" cy="601.8" r="1.3" fill="#c8d070" opacity="0.55"/>
<circle cx="216.3" cy="575.0" r="2.3" fill="#b5bdb6" opacity="0.55"/>
<circle cx="168.3" cy="583.0" r="0.9" fill="#4f8a70" opacity="0.55"/>
<circle cx="117.5" cy="610.2" r="1.8" fill="#4f8a70" opacity="0.55"/>
<circle cx="154.6" cy="574.5" r="0.9" fill="#4f8a70" opacity="0.55"/>
<circle cx="227.7" cy="597.3" r="2.4" fill="#6f9080" opacity="0.55"/>
<circle cx="176.2" cy="570.7" r="2.0" fill="#6f9080" opacity="0.55"/>
<circle cx="176.6" cy="609.9" r="1.0" fill="#e0e4e0" opacity="0.55"/>
<circle cx="120.6" cy="608.8" r="1.8" fill="#6f9080" opacity="0.55"/>
<circle cx="104.1" cy="574.9" r="1.3" fill="#eef0ec" opacity="0.55"/>
<circle cx="126.0" cy="585.4" r="1.6" fill="#c8d070" opacity="0.55"/>
<circle cx="154.8" cy="580.9" r="1.9" fill="#8f9a92" opacity="0.55"/>
<circle cx="143.2" cy="586.1" r="1.4" fill="#eef0ec" opacity="0.55"/>
<circle cx="167.8" cy="611.5" r="2.6" fill="#6f9080" opacity="0.55"/>
<circle cx="216.5" cy="572.7" r="2.3" fill="#4f8a70" opacity="0.55"/>
<circle cx="218.8" cy="572.4" r="2.3" fill="#eef0ec" opacity="0.55"/>
<circle cx="219.1" cy="562.8" r="1.9" fill="#4f8a70" opacity="0.55"/>
<circle cx="231.4" cy="572.7" r="1.9" fill="#b5bdb6" opacity="0.55"/>
<circle cx="225.5" cy="613.7" r="2.0" fill="#eef0ec" opacity="0.55"/>
<circle cx="196.9" cy="578.6" r="2.4" fill="#e0e4e0" opacity="0.55"/>
<circle cx="157.8" cy="608.6" r="1.4" fill="#e0e4e0" opacity="0.55"/>
<circle cx="161.0" cy="566.2" r="1.2" fill="#eef0ec" opacity="0.55"/>
<circle cx="119.4" cy="598.6" r="1.3" fill="#4f8a70" opacity="0.55"/>
<circle cx="134.1" cy="597.2" r="2.2" fill="#eef0ec" opacity="0.55"/>
<circle cx="206.9" cy="589.8" r="1.0" fill="#c8d070" opacity="0.55"/>
<circle cx="133.3" cy="577.9" r="2.5" fill="#4f8a70" opacity="0.55"/>
<circle cx="132.9" cy="569.0" r="2.0" fill="#6f9080" opacity="0.55"/>
<circle cx="229.8" cy="585.3" r="1.8" fill="#c8d070" opacity="0.55"/>
<circle cx="220.1" cy="562.4" r="1.9" fill="#c8d070" opacity="0.55"/>
<circle cx="136.1" cy="604.6" r="1.0" fill="#eef0ec" opacity="0.55"/>
<circle cx="230.5" cy="572.0" r="1.1" fill="#4f8a70" opacity="0.55"/>
<circle cx="174.2" cy="571.9" r="2.4" fill="#8f9a92" opacity="0.55"/>
<circle cx="183.6" cy="610.6" r="1.9" fill="#8f9a92" opacity="0.55"/>
<circle cx="222.9" cy="588.5" r="1.1" fill="#c8d070" opacity="0.55"/>
<circle cx="203.4" cy="610.2" r="1.4" fill="#6f9080" opacity="0.55"/>
<circle cx="204.2" cy="589.4" r="1.7" fill="#e0e4e0" opacity="0.55"/>
<circle cx="185.2" cy="614.1" r="2.1" fill="#c8d070" opacity="0.55"/>
<circle cx="126.3" cy="603.3" r="1.1" fill="#c8d070" opacity="0.55"/>
<circle cx="159.8" cy="597.4" r="1.8" fill="#eef0ec" opacity="0.55"/>
<circle cx="204.7" cy="603.9" r="1.2" fill="#6f9080" opacity="0.55"/>
<circle cx="173.7" cy="607.2" r="1.9" fill="#eef0ec" opacity="0.55"/>
<circle cx="108.5" cy="593.6" r="2.1" fill="#c8d070" opacity="0.55"/>
<circle cx="161.4" cy="608.7" r="1.4" fill="#c8d070" opacity="0.55"/>
<circle cx="106.3" cy="588.3" r="1.6" fill="#6f9080" opacity="0.55"/>
<circle cx="196.6" cy="607.4" r="0.9" fill="#8f9a92" opacity="0.55"/>
<circle cx="220.1" cy="592.2" r="1.8" fill="#e0e4e0" opacity="0.55"/>
<circle cx="196.4" cy="595.0" r="0.9" fill="#6f9080" opacity="0.55"/>
<circle cx="109.4" cy="578.7" r="1.9" fill="#c8d070" opacity="0.55"/>
<circle cx="203.9" cy="602.6" r="1.7" fill="#4f8a70" opacity="0.55"/>
<circle cx="209.0" cy="571.1" r="1.3" fill="#b5bdb6" opacity="0.55"/>
<circle cx="167.6" cy="596.9" r="1.9" fill="#6f9080" opacity="0.55"/>
<circle cx="111.8" cy="583.8" r="1.5" fill="#b5bdb6" opacity="0.55"/>
<circle cx="194.1" cy="612.7" r="1.0" fill="#e0e4e0" opacity="0.55"/>
<circle cx="201.4" cy="614.3" r="1.1" fill="#6f9080" opacity="0.55"/>
<circle cx="170.8" cy="614.2" r="0.8" fill="#6f9080" opacity="0.55"/>
<circle cx="217.9" cy="569.5" r="1.5" fill="#eef0ec" opacity="0.55"/>
<circle cx="164.4" cy="611.6" r="2.5" fill="#4f8a70" opacity="0.55"/>
<circle cx="231.5" cy="602.5" r="2.1" fill="#b5bdb6" opacity="0.55"/>
<circle cx="141.8" cy="568.3" r="2.3" fill="#6f9080" opacity="0.55"/>
<circle cx="163.1" cy="611.4" r="1.5" fill="#eef0ec" opacity="0.55"/>
<circle cx="225.1" cy="610.9" r="1.2" fill="#b5bdb6" opacity="0.55"/>
<circle cx="155.6" cy="596.4" r="0.9" fill="#eef0ec" opacity="0.55"/>
<circle cx="176.6" cy="610.3" r="2.4" fill="#b5bdb6" opacity="0.55"/>
<circle cx="163.2" cy="582.8" r="2.3" fill="#6f9080" opacity="0.55"/>
<circle cx="152.5" cy="564.6" r="1.6" fill="#b5bdb6" opacity="0.55"/>
<circle cx="127.5" cy="591.1" r="1.1" fill="#b5bdb6" opacity="0.55"/>
<circle cx="155.2" cy="593.5" r="2.2" fill="#6f9080" opacity="0.55"/>
<circle cx="161.2" cy="614.6" r="2.0" fill="#e0e4e0" opacity="0.55"/>
<circle cx="166.3" cy="590.6" r="1.6" fill="#8f9a92" opacity="0.55"/>
<circle cx="192.5" cy="581.2" r="1.3" fill="#8f9a92" opacity="0.55"/>
<circle cx="170.4" cy="601.3" r="1.7" fill="#c8d070" opacity="0.55"/>
<circle cx="222.2" cy="599.9" r="1.3" fill="#eef0ec" opacity="0.55"/>
<circle cx="111.3" cy="600.6" r="2.2" fill="#b5bdb6" opacity="0.55"/>
<circle cx="202.0" cy="600.3" r="2.4" fill="#8f9a92" opacity="0.55"/>
<circle cx="231.7" cy="606.5" r="1.6" fill="#e0e4e0" opacity="0.55"/>
<circle cx="216.9" cy="579.2" r="2.2" fill="#c8d070" opacity="0.55"/>
<circle cx="189.7" cy="578.0" r="1.9" fill="#6f9080" opacity="0.55"/>
<circle cx="109.2" cy="570.0" r="1.9" fill="#8f9a92" opacity="0.55"/>
<circle cx="130.7" cy="583.8" r="1.7" fill="#4f8a70" opacity="0.55"/>
<circle cx="121.4" cy="599.5" r="1.3" fill="#4f8a70" opacity="0.55"/>
<circle cx="161.8" cy="582.0" r="2.4" fill="#e0e4e0" opacity="0.55"/>
<circle cx="139.9" cy="599.8" r="1.5" fill="#6f9080" opacity="0.55"/>
<circle cx="170.2" cy="580.8" r="1.0" fill="#eef0ec" opacity="0.55"/>
<circle cx="148.2" cy="573.4" r="0.9" fill="#8f9a92" opacity="0.55"/>
<circle cx="199.6" cy="587.6" r="0.8" fill="#e0e4e0" opacity="0.55"/>
<circle cx="228.9" cy="577.8" r="2.0" fill="#e0e4e0" opacity="0.55"/>
<circle cx="131.7" cy="598.5" r="2.0" fill="#e0e4e0" opacity="0.55"/>
<circle cx="215.2" cy="574.4" r="1.9" fill="#8f9a92" opacity="0.55"/>
<circle cx="206.3" cy="568.3" r="1.7" fill="#6f9080" opacity="0.55"/>
<circle cx="153.1" cy="579.4" r="1.7" fill="#eef0ec" opacity="0.55"/>
<circle cx="132.4" cy="611.1" r="1.2" fill="#e0e4e0" opacity="0.55"/>
<circle cx="125.3" cy="597.3" r="1.2" fill="#8f9a92" opacity="0.55"/>
<circle cx="199.1" cy="610.1" r="2.2" fill="#6f9080" opacity="0.55"/>
<circle cx="178.6" cy="599.2" r="1.8" fill="#4f8a70" opacity="0.55"/>
<circle cx="221.1" cy="609.8" r="1.0" fill="#8f9a92" opacity="0.55"/>
<circle cx="220.8" cy="576.4" r="1.5" fill="#e0e4e0" opacity="0.55"/>
<circle cx="179.0" cy="586.9" r="1.4" fill="#eef0ec" opacity="0.55"/>
<circle cx="113.3" cy="563.9" r="1.4" fill="#eef0ec" opacity="0.55"/>
<circle cx="176.4" cy="575.9" r="2.0" fill="#b5bdb6" opacity="0.55"/>
<circle cx="186.2" cy="582.4" r="1.4" fill="#eef0ec" opacity="0.55"/>
<circle cx="108.0" cy="599.5" r="1.2" fill="#8f9a92" opacity="0.55"/>
<circle cx="184.3" cy="594.9" r="1.5" fill="#6f9080" opacity="0.55"/>
<circle cx="112.1" cy="565.6" r="1.6" fill="#6f9080" opacity="0.55"/>
<circle cx="152.9" cy="610.2" r="0.9" fill="#b5bdb6" opacity="0.55"/>
<circle cx="191.5" cy="576.5" r="1.7" fill="#6f9080" opacity="0.55"/>
<circle cx="229.1" cy="569.9" r="1.1" fill="#b5bdb6" opacity="0.55"/>
<circle cx="137.0" cy="573.7" r="1.7" fill="#c8d070" opacity="0.55"/>
<circle cx="229.4" cy="562.2" r="1.8" fill="#e0e4e0" opacity="0.55"/>
<circle cx="187.2" cy="591.1" r="1.9" fill="#c8d070" opacity="0.55"/>
<circle cx="217.2" cy="598.6" r="2.2" fill="#eef0ec" opacity="0.55"/>
<circle cx="148.4" cy="609.0" r="1.4" fill="#4f8a70" opacity="0.55"/>
<circle cx="130.6" cy="583.0" r="1.1" fill="#b5bdb6" opacity="0.55"/>
<circle cx="209.5" cy="570.5" r="1.9" fill="#6f9080" opacity="0.55"/>
<circle cx="207.0" cy="577.6" r="1.5" fill="#eef0ec" opacity="0.55"/>
<circle cx="199.9" cy="590.3" r="1.2" fill="#b5bdb6" opacity="0.55"/>
<circle cx="150.4" cy="599.4" r="2.5" fill="#4f8a70" opacity="0.55"/>
<circle cx="120.1" cy="565.4" r="0.9" fill="#8f9a92" opacity="0.55"/>
<circle cx="217.4" cy="578.4" r="2.3" fill="#c8d070" opacity="0.55"/>
<circle cx="202.8" cy="587.5" r="1.1" fill="#e0e4e0" opacity="0.55"/>
<circle cx="156.8" cy="587.5" r="1.4" fill="#6f9080" opacity="0.55"/>
<circle cx="169.0" cy="604.2" r="1.5" fill="#4f8a70" opacity="0.55"/>
<circle cx="185.3" cy="581.5" r="2.0" fill="#b5bdb6" opacity="0.55"/>
<circle cx="146.7" cy="602.2" r="2.3" fill="#e0e4e0" opacity="0.55"/>
<circle cx="120.6" cy="614.1" r="2.0" fill="#b5bdb6" opacity="0.55"/>
<circle cx="183.7" cy="606.0" r="2.2" fill="#b5bdb6" opacity="0.55"/>
<circle cx="129.7" cy="594.9" r="1.3" fill="#4f8a70" opacity="0.55"/>
<circle cx="127.6" cy="562.7" r="1.9" fill="#e0e4e0" opacity="0.55"/>
<circle cx="228.2" cy="569.1" r="2.0" fill="#6f9080" opacity="0.55"/>
<circle cx="136.3" cy="597.3" r="1.5" fill="#4f8a70" opacity="0.55"/>
<circle cx="230.6" cy="564.6" r="2.1" fill="#8f9a92" opacity="0.55"/>
<circle cx="215.5" cy="572.3" r="1.4" fill="#c8d070" opacity="0.55"/>
<circle cx="231.2" cy="568.4" r="1.4" fill="#8f9a92" opacity="0.55"/>
<circle cx="210.6" cy="607.3" r="1.1" fill="#8f9a92" opacity="0.55"/>
<circle cx="143.6" cy="604.4" r="2.3" fill="#eef0ec" opacity="0.55"/>
<circle cx="132.6" cy="600.3" r="1.5" fill="#b5bdb6" opacity="0.55"/>
<circle cx="229.6" cy="582.6" r="2.0" fill="#c8d070" opacity="0.55"/>
<circle cx="140.2" cy="607.9" r="1.6" fill="#e0e4e0" opacity="0.55"/>
<circle cx="117.7" cy="611.5" r="1.3" fill="#6f9080" opacity="0.55"/>
<circle cx="159.4" cy="570.0" r="2.4" fill="#eef0ec" opacity="0.55"/>
<circle cx="176.4" cy="569.6" r="1.9" fill="#eef0ec" opacity="0.55"/>
<circle cx="145.2" cy="566.3" r="1.2" fill="#c8d070" opacity="0.55"/>
<circle cx="137.2" cy="564.7" r="0.9" fill="#e0e4e0" opacity="0.55"/>
<circle cx="143.6" cy="566.2" r="1.1" fill="#6f9080" opacity="0.55"/>
<circle cx="121.9" cy="603.8" r="2.6" fill="#6f9080" opacity="0.55"/>
<circle cx="166.0" cy="584.0" r="2.3" fill="#6f9080" opacity="0.55"/>
<circle cx="175.3" cy="573.4" r="1.9" fill="#e0e4e0" opacity="0.55"/>
<circle cx="183.7" cy="576.7" r="2.5" fill="#e0e4e0" opacity="0.55"/>
<circle cx="135.9" cy="604.7" r="1.8" fill="#4f8a70" opacity="0.55"/>
<circle cx="110.0" cy="607.4" r="2.5" fill="#c8d070" opacity="0.55"/>
<circle cx="119.2" cy="566.0" r="1.4" fill="#e0e4e0" opacity="0.55"/>
<circle cx="175.1" cy="565.3" r="1.6" fill="#b5bdb6" opacity="0.55"/>
<circle cx="112.2" cy="581.3" r="2.2" fill="#eef0ec" opacity="0.55"/>
<circle cx="207.7" cy="604.0" r="2.1" fill="#6f9080" opacity="0.55"/>
</g>
<circle cx="143.0" cy="614.9" r="2.1" fill="#2b7d6e" opacity="0.6"/>
<circle cx="229.5" cy="576.3" r="1.5" fill="#3a8a8a" opacity="0.6"/>
<circle cx="234.7" cy="587.5" r="1.4" fill="#1f6a72" opacity="0.6"/>
<circle cx="97.7" cy="590.9" r="1.8" fill="#b8d050" opacity="0.6"/>
<circle cx="124.3" cy="612.9" r="1.3" fill="#2b7d6e" opacity="0.6"/>
<circle cx="159.0" cy="613.1" r="0.9" fill="#8cc04a" opacity="0.6"/>
<circle cx="102.9" cy="579.0" r="1.0" fill="#8cc04a" opacity="0.6"/>
<circle cx="117.7" cy="605.6" r="1.4" fill="#2b7d6e" opacity="0.6"/>
<circle cx="110.1" cy="604.8" r="2.3" fill="#8cc04a" opacity="0.6"/>
<circle cx="232.5" cy="586.1" r="1.7" fill="#3a8a8a" opacity="0.6"/>
<circle cx="234.4" cy="585.6" r="1.2" fill="#b8d050" opacity="0.6"/>
<circle cx="182.2" cy="561.0" r="0.9" fill="#b8d050" opacity="0.6"/>
<circle cx="230.3" cy="574.2" r="1.4" fill="#2b7d6e" opacity="0.6"/>
<circle cx="208.4" cy="607.5" r="1.8" fill="#8cc04a" opacity="0.6"/>
<circle cx="115.5" cy="569.4" r="1.9" fill="#b8d050" opacity="0.6"/>
<circle cx="99.4" cy="585.8" r="2.1" fill="#5a9a50" opacity="0.6"/>
<circle cx="164.1" cy="558.9" r="2.1" fill="#3a8a8a" opacity="0.6"/>
<circle cx="176.1" cy="615.0" r="1.6" fill="#2b7d6e" opacity="0.6"/>
<circle cx="99.8" cy="582.7" r="0.9" fill="#2b7d6e" opacity="0.6"/>
<circle cx="226.7" cy="573.3" r="2.4" fill="#5a9a50" opacity="0.6"/>
<circle cx="116.4" cy="568.7" r="1.7" fill="#2b7d6e" opacity="0.6"/>
<circle cx="210.5" cy="567.9" r="1.6" fill="#8cc04a" opacity="0.6"/>
<circle cx="195.8" cy="613.8" r="1.0" fill="#2b7d6e" opacity="0.6"/>
<circle cx="187.1" cy="562.6" r="0.9" fill="#2b7d6e" opacity="0.6"/>
<circle cx="149.3" cy="562.1" r="1.5" fill="#3a8a8a" opacity="0.6"/>
<circle cx="234.3" cy="587.5" r="2.3" fill="#8cc04a" opacity="0.6"/>
<circle cx="228.2" cy="599.4" r="1.6" fill="#8cc04a" opacity="0.6"/>
<circle cx="228.1" cy="594.8" r="2.2" fill="#2b7d6e" opacity="0.6"/>
<circle cx="184.6" cy="558.8" r="1.0" fill="#2b7d6e" opacity="0.6"/>
<circle cx="231.0" cy="571.4" r="1.3" fill="#b8d050" opacity="0.6"/>
<circle cx="194.6" cy="613.7" r="1.8" fill="#b8d050" opacity="0.6"/>
<circle cx="231.1" cy="595.7" r="1.8" fill="#5a9a50" opacity="0.6"/>
<circle cx="234.2" cy="582.8" r="1.4" fill="#1f6a72" opacity="0.6"/>
<circle cx="148.0" cy="563.7" r="1.9" fill="#8cc04a" opacity="0.6"/>
<circle cx="142.0" cy="559.1" r="1.9" fill="#b8d050" opacity="0.6"/>
<circle cx="231.4" cy="590.8" r="1.4" fill="#3a8a8a" opacity="0.6"/>
<circle cx="122.6" cy="613.1" r="1.9" fill="#5a9a50" opacity="0.6"/>
<circle cx="155.5" cy="561.6" r="1.1" fill="#2b7d6e" opacity="0.6"/>
<circle cx="120.4" cy="569.7" r="1.5" fill="#b8d050" opacity="0.6"/>
<circle cx="210.1" cy="604.1" r="1.6" fill="#b8d050" opacity="0.6"/>
<circle cx="173.8" cy="613.4" r="2.2" fill="#1f6a72" opacity="0.6"/>
<circle cx="229.4" cy="577.7" r="1.2" fill="#b8d050" opacity="0.6"/>
<circle cx="116.7" cy="607.3" r="1.5" fill="#2b7d6e" opacity="0.6"/>
<circle cx="120.4" cy="609.6" r="1.9" fill="#1f6a72" opacity="0.6"/>
<circle cx="150.0" cy="615.6" r="1.2" fill="#b8d050" opacity="0.6"/>
<circle cx="119.5" cy="610.4" r="1.4" fill="#1f6a72" opacity="0.6"/>
<circle cx="131.9" cy="613.7" r="1.7" fill="#3a8a8a" opacity="0.6"/>
<circle cx="129.4" cy="563.0" r="2.1" fill="#2b7d6e" opacity="0.6"/>
<circle cx="120.4" cy="609.3" r="1.4" fill="#2b7d6e" opacity="0.6"/>
<circle cx="131.4" cy="561.1" r="1.1" fill="#3a8a8a" opacity="0.6"/>
<circle cx="140.6" cy="614.1" r="2.4" fill="#2b7d6e" opacity="0.6"/>
<circle cx="234.3" cy="585.7" r="1.8" fill="#5a9a50" opacity="0.6"/>
<circle cx="216.7" cy="606.3" r="1.8" fill="#5a9a50" opacity="0.6"/>
<circle cx="229.0" cy="574.1" r="1.6" fill="#8cc04a" opacity="0.6"/>
<circle cx="96.9" cy="588.0" r="0.8" fill="#5a9a50" opacity="0.6"/>
<circle cx="146.1" cy="563.7" r="1.9" fill="#5a9a50" opacity="0.6"/>
<circle cx="102.2" cy="593.2" r="1.0" fill="#1f6a72" opacity="0.6"/>
<circle cx="212.9" cy="566.5" r="0.8" fill="#1f6a72" opacity="0.6"/>
<circle cx="109.3" cy="606.1" r="2.0" fill="#2b7d6e" opacity="0.6"/>
<circle cx="145.4" cy="611.9" r="1.7" fill="#8cc04a" opacity="0.6"/>
<circle cx="131.6" cy="563.0" r="1.4" fill="#8cc04a" opacity="0.6"/>
<circle cx="167.9" cy="612.3" r="1.1" fill="#b8d050" opacity="0.6"/>
<circle cx="197.3" cy="608.4" r="2.2" fill="#3a8a8a" opacity="0.6"/>
<circle cx="208.1" cy="609.2" r="1.5" fill="#3a8a8a" opacity="0.6"/>
<circle cx="234.5" cy="576.4" r="2.1" fill="#8cc04a" opacity="0.6"/>
<circle cx="207.6" cy="610.3" r="1.9" fill="#8cc04a" opacity="0.6"/>
<circle cx="149.1" cy="613.9" r="1.6" fill="#3a8a8a" opacity="0.6"/>
<circle cx="126.8" cy="563.6" r="1.5" fill="#2b7d6e" opacity="0.6"/>
<circle cx="182.2" cy="614.8" r="1.5" fill="#b8d050" opacity="0.6"/>
<circle cx="189.5" cy="613.6" r="1.0" fill="#3a8a8a" opacity="0.6"/>
<circle cx="225.6" cy="573.6" r="1.2" fill="#3a8a8a" opacity="0.6"/>
<circle cx="162.7" cy="614.6" r="1.6" fill="#1f6a72" opacity="0.6"/>
<circle cx="125.6" cy="563.4" r="1.3" fill="#3a8a8a" opacity="0.6"/>
<circle cx="230.1" cy="596.0" r="1.4" fill="#8cc04a" opacity="0.6"/>
<circle cx="137.4" cy="560.2" r="1.4" fill="#8cc04a" opacity="0.6"/>
<circle cx="99.7" cy="586.9" r="1.4" fill="#3a8a8a" opacity="0.6"/>
<circle cx="230.5" cy="579.7" r="2.3" fill="#1f6a72" opacity="0.6"/>
<circle cx="234.4" cy="580.7" r="1.1" fill="#3a8a8a" opacity="0.6"/>
<circle cx="228.9" cy="592.5" r="2.0" fill="#1f6a72" opacity="0.6"/>
<circle cx="228.8" cy="592.8" r="1.2" fill="#b8d050" opacity="0.6"/>
<circle cx="125.3" cy="563.4" r="1.7" fill="#2b7d6e" opacity="0.6"/>
<circle cx="228.3" cy="601.6" r="1.3" fill="#1f6a72" opacity="0.6"/>
<circle cx="205.1" cy="607.1" r="1.3" fill="#b8d050" opacity="0.6"/>
<circle cx="232.7" cy="593.7" r="2.3" fill="#5a9a50" opacity="0.6"/>
<circle cx="154.0" cy="561.1" r="1.1" fill="#3a8a8a" opacity="0.6"/>
<circle cx="236.4" cy="585.5" r="1.9" fill="#2b7d6e" opacity="0.6"/>
<circle cx="196.3" cy="611.9" r="1.0" fill="#b8d050" opacity="0.6"/>
<circle cx="138.8" cy="562.4" r="2.2" fill="#5a9a50" opacity="0.6"/>
<circle cx="226.0" cy="599.4" r="1.9" fill="#3a8a8a" opacity="0.6"/>
<circle cx="152.1" cy="559.7" r="1.9" fill="#5a9a50" opacity="0.6"/>
<circle cx="106.3" cy="576.8" r="1.5" fill="#3a8a8a" opacity="0.6"/>
<circle cx="213.0" cy="605.2" r="1.2" fill="#b8d050" opacity="0.6"/>
<circle cx="233.3" cy="589.8" r="1.9" fill="#b8d050" opacity="0.6"/>
<circle cx="100.2" cy="589.4" r="2.0" fill="#2b7d6e" opacity="0.6"/>
<circle cx="104.4" cy="582.0" r="1.3" fill="#2b7d6e" opacity="0.6"/>
<circle cx="126.3" cy="610.3" r="1.7" fill="#3a8a8a" opacity="0.6"/>
<circle cx="139.2" cy="562.7" r="1.5" fill="#3a8a8a" opacity="0.6"/>
<circle cx="208.9" cy="607.6" r="0.9" fill="#b8d050" opacity="0.6"/>
<circle cx="172.6" cy="616.0" r="1.7" fill="#1f6a72" opacity="0.6"/>
<circle cx="228.8" cy="570.5" r="1.2" fill="#8cc04a" opacity="0.6"/>
<circle cx="105.7" cy="600.7" r="2.4" fill="#3a8a8a" opacity="0.6"/>
<circle cx="101.5" cy="595.0" r="2.0" fill="#2b7d6e" opacity="0.6"/>
<circle cx="137.8" cy="560.5" r="2.4" fill="#1f6a72" opacity="0.6"/>
<circle cx="105.4" cy="576.2" r="1.0" fill="#1f6a72" opacity="0.6"/>
<circle cx="187.9" cy="561.7" r="1.1" fill="#8cc04a" opacity="0.6"/>
<circle cx="212.2" cy="563.3" r="1.1" fill="#8cc04a" opacity="0.6"/>
<circle cx="110.3" cy="577.4" r="1.9" fill="#1f6a72" opacity="0.6"/>
<circle cx="221.4" cy="605.0" r="1.8" fill="#5a9a50" opacity="0.6"/>
<circle cx="232.2" cy="581.0" r="1.1" fill="#1f6a72" opacity="0.6"/>
<circle cx="132.1" cy="564.0" r="1.2" fill="#2b7d6e" opacity="0.6"/>
</g>
<g stroke="#9250bc" stroke-width="1.25" stroke-linecap="round" opacity="0.9"><line x1="140.9" y1="581.6" x2="140.7" y2="587.1"/><line x1="129.0" y1="583.8" x2="124.1" y2="586.1"/><line x1="176.6" y1="580.7" x2="176.1" y2="585.3"/><line x1="209.4" y1="588.4" x2="207.1" y2="590.4"/><line x1="117.8" y1="582.8" x2="115.5" y2="584.6"/><line x1="160.0" y1="583.1" x2="161.9" y2="587.6"/><line x1="212.0" y1="585.7" x2="213.4" y2="588.3"/><line x1="212.7" y1="590.2" x2="218.1" y2="592.2"/><line x1="181.7" y1="593.9" x2="185.7" y2="595.2"/><line x1="124.7" y1="583.8" x2="121.5" y2="583.9"/><line x1="204.4" y1="594.4" x2="206.5" y2="594.9"/><line x1="172.5" y1="587.9" x2="167.8" y2="588.1"/><line x1="202.7" y1="590.2" x2="206.7" y2="591.2"/><line x1="131.6" y1="576.9" x2="131.3" y2="580.4"/><line x1="164.9" y1="586.8" x2="165.9" y2="590.6"/><line x1="120.3" y1="585.3" x2="120.5" y2="589.5"/><line x1="215.1" y1="588.9" x2="217.1" y2="591.6"/><line x1="186.4" y1="586.7" x2="180.6" y2="587.8"/><line x1="212.7" y1="596.8" x2="210.7" y2="597.2"/><line x1="163.9" y1="581.7" x2="162.6" y2="586.2"/><line x1="177.0" y1="580.0" x2="180.9" y2="581.1"/><line x1="213.7" y1="585.0" x2="216.1" y2="585.3"/><line x1="204.1" y1="590.2" x2="209.4" y2="590.7"/><line x1="185.0" y1="587.1" x2="184.7" y2="591.4"/><line x1="192.3" y1="588.1" x2="197.3" y2="589.2"/><line x1="215.4" y1="590.6" x2="212.2" y2="592.4"/><line x1="147.6" y1="582.7" x2="145.3" y2="584.7"/><line x1="174.1" y1="586.5" x2="173.8" y2="589.9"/><line x1="183.5" y1="584.6" x2="181.0" y2="585.6"/><line x1="127.9" y1="581.5" x2="130.6" y2="584.3"/><line x1="195.1" y1="587.1" x2="193.7" y2="589.8"/><line x1="167.4" y1="587.6" x2="171.2" y2="591.5"/><line x1="131.6" y1="581.6" x2="134.1" y2="585.8"/><line x1="183.5" y1="590.1" x2="180.2" y2="592.7"/><line x1="120.3" y1="580.2" x2="123.2" y2="582.5"/><line x1="216.9" y1="588.2" x2="218.3" y2="591.3"/><line x1="208.6" y1="593.5" x2="213.3" y2="595.6"/><line x1="194.9" y1="588.2" x2="197.4" y2="592.7"/><line x1="152.2" y1="582.4" x2="149.5" y2="585.3"/><line x1="198.7" y1="593.5" x2="202.7" y2="593.7"/><line x1="152.3" y1="590.9" x2="154.9" y2="592.1"/><line x1="205.1" y1="592.7" x2="199.4" y2="593.4"/><line x1="148.2" y1="584.9" x2="144.6" y2="589.4"/><line x1="132.4" y1="580.5" x2="136.7" y2="582.4"/><line x1="205.5" y1="588.3" x2="206.1" y2="591.7"/><line x1="124.7" y1="571.7" x2="128.5" y2="576.1"/><line x1="119.6" y1="581.2" x2="122.8" y2="581.7"/><line x1="131.4" y1="584.2" x2="135.2" y2="585.8"/><line x1="169.3" y1="579.9" x2="168.8" y2="585.7"/><line x1="120.6" y1="577.5" x2="122.4" y2="578.9"/><line x1="144.8" y1="583.3" x2="144.8" y2="585.9"/><line x1="147.0" y1="574.8" x2="146.3" y2="577.9"/><line x1="196.0" y1="592.4" x2="194.3" y2="597.6"/><line x1="161.3" y1="583.9" x2="166.1" y2="587.2"/><line x1="215.7" y1="596.8" x2="216.3" y2="598.9"/><line x1="129.3" y1="581.9" x2="133.5" y2="584.4"/><line x1="134.4" y1="584.1" x2="131.2" y2="586.4"/><line x1="181.2" y1="587.1" x2="181.5" y2="589.9"/><line x1="113.6" y1="578.8" x2="116.7" y2="582.1"/><line x1="151.2" y1="584.4" x2="151.5" y2="588.9"/><line x1="145.6" y1="578.2" x2="144.7" y2="581.7"/><line x1="169.3" y1="591.3" x2="169.7" y2="594.6"/><line x1="208.9" y1="590.8" x2="203.9" y2="593.3"/><line x1="129.2" y1="589.3" x2="129.1" y2="595.3"/><line x1="142.6" y1="585.2" x2="145.8" y2="588.1"/><line x1="128.7" y1="586.0" x2="125.6" y2="586.5"/><line x1="122.3" y1="578.9" x2="121.5" y2="582.8"/><line x1="209.8" y1="587.0" x2="209.6" y2="590.5"/><line x1="112.2" y1="576.2" x2="111.1" y2="580.6"/><line x1="161.0" y1="584.6" x2="164.8" y2="585.7"/><line x1="163.1" y1="578.8" x2="165.5" y2="581.7"/><line x1="121.0" y1="572.6" x2="118.6" y2="574.3"/><line x1="199.9" y1="589.8" x2="196.1" y2="591.0"/><line x1="157.2" y1="581.5" x2="156.2" y2="587.2"/><line x1="163.9" y1="581.9" x2="160.4" y2="583.8"/><line x1="148.3" y1="583.4" x2="150.6" y2="585.1"/><line x1="200.4" y1="592.3" x2="195.8" y2="593.5"/><line x1="196.5" y1="579.1" x2="193.3" y2="583.3"/><line x1="196.9" y1="591.6" x2="198.7" y2="594.0"/><line x1="209.5" y1="595.9" x2="213.5" y2="596.2"/><line x1="148.4" y1="584.4" x2="142.9" y2="586.0"/><line x1="180.3" y1="582.0" x2="184.9" y2="582.9"/><line x1="123.6" y1="587.6" x2="125.1" y2="589.8"/><line x1="185.6" y1="586.5" x2="181.3" y2="590.6"/><line x1="178.0" y1="590.6" x2="183.4" y2="591.6"/><line x1="193.5" y1="592.3" x2="189.2" y2="595.8"/><line x1="172.3" y1="590.6" x2="172.4" y2="594.2"/><line x1="149.5" y1="581.5" x2="152.1" y2="581.6"/><line x1="196.3" y1="589.2" x2="192.7" y2="592.3"/><line x1="166.7" y1="590.4" x2="168.4" y2="593.0"/><line x1="131.9" y1="578.0" x2="128.6" y2="578.6"/><line x1="210.3" y1="585.7" x2="207.2" y2="586.6"/><line x1="212.9" y1="583.7" x2="210.4" y2="585.8"/><line x1="141.6" y1="576.1" x2="141.3" y2="580.0"/><line x1="115.8" y1="582.3" x2="116.2" y2="587.3"/><line x1="138.5" y1="578.6" x2="142.0" y2="581.1"/><line x1="137.6" y1="581.3" x2="141.0" y2="581.8"/><line x1="167.9" y1="586.5" x2="163.4" y2="587.3"/><line x1="155.9" y1="581.8" x2="156.4" y2="587.6"/><line x1="124.9" y1="581.9" x2="125.9" y2="586.6"/><line x1="192.8" y1="583.3" x2="187.3" y2="584.4"/><line x1="138.6" y1="580.3" x2="137.9" y2="586.2"/><line x1="167.9" y1="587.6" x2="170.5" y2="588.1"/><line x1="170.4" y1="591.3" x2="173.6" y2="595.0"/><line x1="189.0" y1="585.1" x2="186.9" y2="589.4"/><line x1="160.4" y1="590.1" x2="160.9" y2="592.4"/><line x1="162.3" y1="591.9" x2="164.6" y2="592.3"/><line x1="140.6" y1="580.1" x2="138.4" y2="583.2"/><line x1="125.6" y1="576.3" x2="123.0" y2="578.9"/><line x1="180.9" y1="588.9" x2="178.5" y2="592.7"/><line x1="116.9" y1="579.1" x2="120.8" y2="579.8"/><line x1="113.8" y1="577.4" x2="117.3" y2="578.2"/><line x1="161.7" y1="591.7" x2="158.1" y2="593.4"/><line x1="174.3" y1="591.6" x2="177.6" y2="596.5"/><line x1="124.7" y1="579.6" x2="121.0" y2="581.2"/><line x1="155.5" y1="586.3" x2="157.2" y2="591.6"/><line x1="139.3" y1="583.5" x2="139.8" y2="587.0"/><line x1="158.3" y1="578.8" x2="158.8" y2="582.0"/><line x1="178.1" y1="583.9" x2="175.2" y2="586.4"/><line x1="162.2" y1="586.3" x2="158.6" y2="587.7"/><line x1="151.9" y1="591.4" x2="149.0" y2="593.7"/><line x1="183.1" y1="581.2" x2="181.0" y2="583.5"/><line x1="188.7" y1="592.7" x2="186.9" y2="595.9"/><line x1="181.3" y1="585.2" x2="185.1" y2="588.5"/><line x1="169.1" y1="588.7" x2="167.9" y2="590.4"/><line x1="156.1" y1="583.6" x2="153.9" y2="585.6"/><line x1="177.0" y1="587.0" x2="174.2" y2="587.1"/><line x1="208.8" y1="593.5" x2="213.0" y2="594.3"/><line x1="199.1" y1="590.7" x2="197.7" y2="595.4"/><line x1="192.7" y1="585.1" x2="189.7" y2="588.2"/><line x1="138.7" y1="580.7" x2="137.8" y2="586.6"/><line x1="126.5" y1="576.2" x2="123.9" y2="578.3"/><line x1="189.0" y1="590.5" x2="188.2" y2="594.5"/><line x1="164.5" y1="584.1" x2="168.4" y2="586.3"/><line x1="206.7" y1="588.2" x2="203.7" y2="590.3"/><line x1="127.4" y1="578.2" x2="126.1" y2="581.8"/><line x1="168.2" y1="590.0" x2="164.8" y2="590.5"/><line x1="192.4" y1="587.8" x2="195.6" y2="588.6"/><line x1="185.3" y1="584.8" x2="186.5" y2="587.7"/><line x1="150.0" y1="577.0" x2="149.7" y2="579.1"/><line x1="151.7" y1="582.4" x2="154.8" y2="586.9"/><line x1="211.0" y1="588.5" x2="212.9" y2="590.4"/><line x1="124.5" y1="585.9" x2="122.4" y2="588.1"/><line x1="163.8" y1="588.2" x2="162.6" y2="589.9"/><line x1="198.8" y1="590.4" x2="195.9" y2="594.3"/><line x1="147.7" y1="581.1" x2="145.1" y2="582.2"/><line x1="162.2" y1="583.2" x2="158.7" y2="585.6"/><line x1="176.6" y1="589.9" x2="173.7" y2="590.0"/><line x1="135.6" y1="580.2" x2="132.3" y2="580.5"/><line x1="158.6" y1="582.9" x2="159.8" y2="588.1"/><line x1="209.0" y1="589.0" x2="211.1" y2="593.3"/><line x1="134.9" y1="579.6" x2="129.8" y2="581.6"/><line x1="136.0" y1="580.0" x2="134.6" y2="581.7"/><line x1="185.7" y1="589.3" x2="191.0" y2="590.4"/><line x1="169.6" y1="584.1" x2="173.0" y2="584.6"/><line x1="216.4" y1="590.0" x2="214.7" y2="595.2"/><line x1="118.6" y1="580.3" x2="117.1" y2="582.5"/><line x1="140.9" y1="582.7" x2="138.5" y2="586.9"/><line x1="146.2" y1="580.0" x2="145.5" y2="583.3"/><line x1="150.2" y1="583.9" x2="152.4" y2="586.2"/><line x1="139.7" y1="585.2" x2="138.8" y2="588.2"/><line x1="124.0" y1="580.7" x2="120.5" y2="582.5"/><line x1="166.2" y1="582.3" x2="163.0" y2="585.4"/><line x1="181.9" y1="593.9" x2="179.6" y2="597.2"/><line x1="155.8" y1="580.7" x2="156.2" y2="584.8"/><line x1="168.5" y1="588.1" x2="164.1" y2="591.5"/><line x1="135.7" y1="584.7" x2="140.9" y2="585.2"/><line x1="177.8" y1="586.9" x2="179.5" y2="589.0"/><line x1="204.1" y1="592.2" x2="201.3" y2="596.3"/><line x1="160.2" y1="579.8" x2="161.5" y2="583.8"/></g>
<path d="M114.0,583.1 L120.0,584.1 L125.5,576.3 L129.2,585.7 L133.9,581.6 L137.8,585.5 L142.3,587.3 L145.6,587.7 L148.6,579.6 L152.8,584.9 L156.1,584.5 L161.9,583.9 L167.2,586.1 L172.0,582.4 L176.3,590.1 L181.4,583.9 L185.7,587.6 L189.7,588.4 L194.6,583.3 L198.3,590.1 L201.9,584.7 L207.2,587.9 L213.1,590.8 L216.4,591.9" fill="none" stroke="#a060c8" stroke-width="1.6" stroke-linejoin="round"/>
</g>
<defs><clipPath id="protClip"><path d="M527.4,517.7 L526.6,518.1 L526.0,518.2 L525.4,518.0 L524.9,517.8 L524.2,517.9 L523.5,518.2 L522.8,518.8 L522.0,519.5 L521.2,520.2 L520.4,520.7 L519.6,521.1 L518.8,521.3 L517.9,521.4 L517.0,521.7 L516.0,522.1 L514.9,522.7 L513.8,523.4 L512.7,524.1 L511.6,524.6 L510.4,524.8 L509.2,524.7 L507.8,524.2 L506.5,523.8 L505.0,523.4 L503.6,523.3 L502.3,523.7 L501.1,524.4 L500.0,525.5 L499.0,526.6 L498.1,527.8 L497.1,528.7 L495.9,529.3 L494.7,529.6 L493.4,529.7 L492.0,529.8 L490.6,530.0 L489.3,530.1 L488.0,530.3 L486.6,530.4 L485.2,530.4 L483.6,530.1 L481.8,529.6 L479.9,529.1 L478.1,528.6 L476.4,528.4 L475.1,528.5 L474.2,529.0 L473.6,529.9 L473.3,530.9 L473.0,531.8 L472.5,532.7 L471.7,533.2 L470.7,533.5 L469.5,533.7 L468.2,533.9 L467.1,534.3 L466.2,534.9 L465.5,535.7 L465.2,536.7 L464.9,537.9 L464.7,539.1 L464.5,540.3 L464.1,541.5 L463.8,542.6 L463.5,543.9 L463.5,545.2 L463.7,546.7 L464.2,548.3 L464.8,550.0 L465.2,551.5 L465.3,552.9 L464.9,554.1 L464.0,555.1 L462.5,556.1 L460.8,557.1 L459.1,558.1 L457.6,559.3 L456.5,560.7 L455.8,562.2 L455.3,563.7 L455.1,565.3 L454.8,566.8 L454.3,568.4 L453.7,569.9 L452.9,571.5 L452.3,573.1 L451.8,574.7 L451.6,576.3 L451.8,577.8 L452.1,579.2 L452.4,580.7 L452.4,582.2 L452.1,583.8 L451.6,585.5 L451.0,587.3 L450.5,589.1 L450.5,590.8 L450.9,592.3 L452.0,593.5 L453.5,594.6 L455.2,595.4 L456.7,596.3 L457.9,597.2 L458.7,598.4 L458.9,599.7 L458.9,601.2 L458.8,602.8 L458.7,604.3 L459.0,605.8 L459.4,607.2 L460.0,608.5 L460.6,609.8 L461.1,611.2 L461.4,612.7 L461.8,614.3 L462.2,615.9 L462.8,617.3 L463.7,618.4 L465.0,619.1 L466.6,619.4 L468.3,619.5 L470.0,619.5 L471.4,619.8 L472.5,620.4 L473.3,621.3 L473.8,622.6 L474.2,624.0 L474.7,625.3 L475.5,626.3 L476.5,626.9 L477.8,627.1 L479.2,627.1 L480.6,627.0 L481.9,627.0 L483.1,627.1 L484.1,627.5 L485.1,628.1 L486.0,628.6 L487.1,629.0 L488.1,629.2 L489.2,629.3 L490.3,629.5 L491.2,630.0 L492.0,630.9 L492.7,632.3 L493.3,634.2 L493.9,636.1 L494.6,638.0 L495.6,639.3 L496.8,640.0 L498.2,640.0 L499.8,639.4 L501.4,638.5 L503.1,637.6 L504.7,636.8 L506.3,636.3 L507.8,636.1 L509.4,636.0 L510.9,635.9 L512.5,635.5 L514.1,634.9 L515.6,634.1 L517.2,633.3 L518.7,632.6 L520.1,632.2 L521.6,632.1 L523.2,632.1 L524.8,632.0 L526.4,631.7 L527.9,631.0 L529.3,629.9 L530.6,628.4 L531.8,626.8 L533.0,625.3 L534.3,624.3 L535.7,623.8 L537.4,623.7 L539.3,624.1 L541.3,624.5 L543.2,624.9 L545.1,624.9 L546.8,624.5 L548.3,623.8 L549.7,622.8 L551.1,621.8 L552.5,620.7 L553.9,619.7 L555.3,618.7 L556.5,617.6 L557.6,616.2 L558.3,614.6 L558.8,612.8 L559.0,610.9 L559.1,609.0 L559.4,607.3 L560.0,606.0 L561.0,605.0 L562.3,604.3 L563.7,603.6 L565.1,602.9 L566.2,602.0 L566.9,600.8 L567.2,599.4 L567.2,597.9 L567.1,596.4 L567.1,594.9 L567.3,593.5 L567.8,592.3 L568.6,591.2 L569.5,590.1 L570.4,588.9 L571.1,587.6 L571.7,586.2 L572.2,584.7 L572.8,583.2 L573.6,581.8 L574.6,580.3 L575.9,578.8 L577.2,577.3 L578.3,575.7 L579.0,574.1 L579.0,572.5 L578.5,570.9 L577.3,569.3 L575.9,567.9 L574.4,566.6 L573.3,565.4 L572.5,564.2 L572.2,563.0 L572.1,561.7 L572.2,560.5 L572.2,559.2 L571.9,558.0 L571.5,556.9 L570.9,555.8 L570.3,554.8 L569.8,553.7 L569.5,552.6 L569.4,551.4 L569.4,550.2 L569.2,549.0 L568.7,547.9 L567.9,547.0 L566.8,546.3 L565.5,545.6 L564.3,544.9 L563.4,544.2 L562.9,543.2 L562.8,541.9 L563.0,540.5 L563.3,538.9 L563.4,537.4 L563.2,536.1 L562.6,535.0 L561.6,534.3 L560.4,533.7 L559.0,533.3 L557.7,532.9 L556.5,532.4 L555.5,531.9 L554.5,531.3 L553.5,530.8 L552.4,530.3 L551.2,530.1 L549.9,530.0 L548.7,529.8 L547.7,529.6 L546.9,529.0 L546.4,528.1 L546.1,527.0 L545.9,525.6 L545.7,524.3 L545.3,523.2 L544.7,522.4 L543.8,522.1 L542.8,522.1 L541.6,522.2 L540.6,522.3 L539.7,522.1 L539.1,521.6 L538.6,520.7 L538.2,519.7 L537.8,518.6 L537.3,517.7 L536.8,516.9 L536.3,516.4 L535.7,516.0 L535.1,515.6 L534.6,515.1 L534.1,514.5 L533.7,513.9 L533.2,513.3 L532.7,513.0 L532.1,513.1 L531.3,513.7 L530.4,514.7 L529.5,515.8 L528.7,516.9 L527.9,517.5 L527.4,517.7 Z"/></clipPath><filter id="pblur"><feGaussianBlur stdDeviation="0.3"/></filter><radialGradient id="lump" cx="0.4" cy="0.35" r="0.7"><stop offset="0" stop-color="#cfcfcf"/><stop offset="0.55" stop-color="#a3a3a3"/><stop offset="1" stop-color="#6e6e6e"/></radialGradient></defs>
<path d="M527.4,517.7 L526.6,518.1 L526.0,518.2 L525.4,518.0 L524.9,517.8 L524.2,517.9 L523.5,518.2 L522.8,518.8 L522.0,519.5 L521.2,520.2 L520.4,520.7 L519.6,521.1 L518.8,521.3 L517.9,521.4 L517.0,521.7 L516.0,522.1 L514.9,522.7 L513.8,523.4 L512.7,524.1 L511.6,524.6 L510.4,524.8 L509.2,524.7 L507.8,524.2 L506.5,523.8 L505.0,523.4 L503.6,523.3 L502.3,523.7 L501.1,524.4 L500.0,525.5 L499.0,526.6 L498.1,527.8 L497.1,528.7 L495.9,529.3 L494.7,529.6 L493.4,529.7 L492.0,529.8 L490.6,530.0 L489.3,530.1 L488.0,530.3 L486.6,530.4 L485.2,530.4 L483.6,530.1 L481.8,529.6 L479.9,529.1 L478.1,528.6 L476.4,528.4 L475.1,528.5 L474.2,529.0 L473.6,529.9 L473.3,530.9 L473.0,531.8 L472.5,532.7 L471.7,533.2 L470.7,533.5 L469.5,533.7 L468.2,533.9 L467.1,534.3 L466.2,534.9 L465.5,535.7 L465.2,536.7 L464.9,537.9 L464.7,539.1 L464.5,540.3 L464.1,541.5 L463.8,542.6 L463.5,543.9 L463.5,545.2 L463.7,546.7 L464.2,548.3 L464.8,550.0 L465.2,551.5 L465.3,552.9 L464.9,554.1 L464.0,555.1 L462.5,556.1 L460.8,557.1 L459.1,558.1 L457.6,559.3 L456.5,560.7 L455.8,562.2 L455.3,563.7 L455.1,565.3 L454.8,566.8 L454.3,568.4 L453.7,569.9 L452.9,571.5 L452.3,573.1 L451.8,574.7 L451.6,576.3 L451.8,577.8 L452.1,579.2 L452.4,580.7 L452.4,582.2 L452.1,583.8 L451.6,585.5 L451.0,587.3 L450.5,589.1 L450.5,590.8 L450.9,592.3 L452.0,593.5 L453.5,594.6 L455.2,595.4 L456.7,596.3 L457.9,597.2 L458.7,598.4 L458.9,599.7 L458.9,601.2 L458.8,602.8 L458.7,604.3 L459.0,605.8 L459.4,607.2 L460.0,608.5 L460.6,609.8 L461.1,611.2 L461.4,612.7 L461.8,614.3 L462.2,615.9 L462.8,617.3 L463.7,618.4 L465.0,619.1 L466.6,619.4 L468.3,619.5 L470.0,619.5 L471.4,619.8 L472.5,620.4 L473.3,621.3 L473.8,622.6 L474.2,624.0 L474.7,625.3 L475.5,626.3 L476.5,626.9 L477.8,627.1 L479.2,627.1 L480.6,627.0 L481.9,627.0 L483.1,627.1 L484.1,627.5 L485.1,628.1 L486.0,628.6 L487.1,629.0 L488.1,629.2 L489.2,629.3 L490.3,629.5 L491.2,630.0 L492.0,630.9 L492.7,632.3 L493.3,634.2 L493.9,636.1 L494.6,638.0 L495.6,639.3 L496.8,640.0 L498.2,640.0 L499.8,639.4 L501.4,638.5 L503.1,637.6 L504.7,636.8 L506.3,636.3 L507.8,636.1 L509.4,636.0 L510.9,635.9 L512.5,635.5 L514.1,634.9 L515.6,634.1 L517.2,633.3 L518.7,632.6 L520.1,632.2 L521.6,632.1 L523.2,632.1 L524.8,632.0 L526.4,631.7 L527.9,631.0 L529.3,629.9 L530.6,628.4 L531.8,626.8 L533.0,625.3 L534.3,624.3 L535.7,623.8 L537.4,623.7 L539.3,624.1 L541.3,624.5 L543.2,624.9 L545.1,624.9 L546.8,624.5 L548.3,623.8 L549.7,622.8 L551.1,621.8 L552.5,620.7 L553.9,619.7 L555.3,618.7 L556.5,617.6 L557.6,616.2 L558.3,614.6 L558.8,612.8 L559.0,610.9 L559.1,609.0 L559.4,607.3 L560.0,606.0 L561.0,605.0 L562.3,604.3 L563.7,603.6 L565.1,602.9 L566.2,602.0 L566.9,600.8 L567.2,599.4 L567.2,597.9 L567.1,596.4 L567.1,594.9 L567.3,593.5 L567.8,592.3 L568.6,591.2 L569.5,590.1 L570.4,588.9 L571.1,587.6 L571.7,586.2 L572.2,584.7 L572.8,583.2 L573.6,581.8 L574.6,580.3 L575.9,578.8 L577.2,577.3 L578.3,575.7 L579.0,574.1 L579.0,572.5 L578.5,570.9 L577.3,569.3 L575.9,567.9 L574.4,566.6 L573.3,565.4 L572.5,564.2 L572.2,563.0 L572.1,561.7 L572.2,560.5 L572.2,559.2 L571.9,558.0 L571.5,556.9 L570.9,555.8 L570.3,554.8 L569.8,553.7 L569.5,552.6 L569.4,551.4 L569.4,550.2 L569.2,549.0 L568.7,547.9 L567.9,547.0 L566.8,546.3 L565.5,545.6 L564.3,544.9 L563.4,544.2 L562.9,543.2 L562.8,541.9 L563.0,540.5 L563.3,538.9 L563.4,537.4 L563.2,536.1 L562.6,535.0 L561.6,534.3 L560.4,533.7 L559.0,533.3 L557.7,532.9 L556.5,532.4 L555.5,531.9 L554.5,531.3 L553.5,530.8 L552.4,530.3 L551.2,530.1 L549.9,530.0 L548.7,529.8 L547.7,529.6 L546.9,529.0 L546.4,528.1 L546.1,527.0 L545.9,525.6 L545.7,524.3 L545.3,523.2 L544.7,522.4 L543.8,522.1 L542.8,522.1 L541.6,522.2 L540.6,522.3 L539.7,522.1 L539.1,521.6 L538.6,520.7 L538.2,519.7 L537.8,518.6 L537.3,517.7 L536.8,516.9 L536.3,516.4 L535.7,516.0 L535.1,515.6 L534.6,515.1 L534.1,514.5 L533.7,513.9 L533.2,513.3 L532.7,513.0 L532.1,513.1 L531.3,513.7 L530.4,514.7 L529.5,515.8 L528.7,516.9 L527.9,517.5 L527.4,517.7 Z" fill="#5e5f5f"/>
<g clip-path="url(#protClip)" filter="url(#pblur)">
<circle cx="463.2" cy="573.3" r="3.5" fill="url(#lump)"/>
<circle cx="520.9" cy="587.5" r="2.6" fill="url(#lump)"/>
<circle cx="477.0" cy="547.7" r="6.2" fill="url(#lump)"/>
<circle cx="550.6" cy="531.5" r="5.7" fill="url(#lump)"/>
<circle cx="466.6" cy="593.4" r="3.0" fill="url(#lump)"/>
<circle cx="476.1" cy="539.1" r="6.4" fill="url(#lump)"/>
<circle cx="564.9" cy="549.1" r="6.3" fill="url(#lump)"/>
<circle cx="520.3" cy="601.5" r="3.3" fill="url(#lump)"/>
<circle cx="488.0" cy="558.8" r="3.2" fill="url(#lump)"/>
<circle cx="488.4" cy="591.4" r="2.5" fill="url(#lump)"/>
<circle cx="538.8" cy="555.6" r="3.7" fill="url(#lump)"/>
<circle cx="557.7" cy="574.9" r="3.8" fill="url(#lump)"/>
<circle cx="512.5" cy="605.1" r="2.7" fill="url(#lump)"/>
<circle cx="497.1" cy="588.1" r="2.5" fill="url(#lump)"/>
<circle cx="495.5" cy="580.8" r="5.6" fill="url(#lump)"/>
<circle cx="462.5" cy="611.0" r="5.7" fill="url(#lump)"/>
<circle cx="493.7" cy="592.5" r="6.2" fill="url(#lump)"/>
<circle cx="493.6" cy="634.8" r="4.7" fill="url(#lump)"/>
<circle cx="489.9" cy="552.8" r="3.2" fill="url(#lump)"/>
<circle cx="502.4" cy="542.0" r="4.9" fill="url(#lump)"/>
<circle cx="558.7" cy="571.5" r="4.2" fill="url(#lump)"/>
<circle cx="452.4" cy="576.6" r="5.9" fill="url(#lump)"/>
<circle cx="465.5" cy="608.8" r="6.3" fill="url(#lump)"/>
<circle cx="532.5" cy="616.4" r="2.9" fill="url(#lump)"/>
<circle cx="506.2" cy="530.1" r="5.9" fill="url(#lump)"/>
<circle cx="487.5" cy="571.2" r="6.5" fill="url(#lump)"/>
<circle cx="508.8" cy="575.9" r="5.4" fill="url(#lump)"/>
<circle cx="512.2" cy="549.3" r="4.1" fill="url(#lump)"/>
<circle cx="467.6" cy="560.9" r="6.5" fill="url(#lump)"/>
<circle cx="514.9" cy="555.7" r="2.9" fill="url(#lump)"/>
<circle cx="484.5" cy="615.6" r="6.0" fill="url(#lump)"/>
<circle cx="496.4" cy="616.1" r="5.6" fill="url(#lump)"/>
<circle cx="541.1" cy="599.6" r="5.5" fill="url(#lump)"/>
<circle cx="496.7" cy="605.1" r="3.6" fill="url(#lump)"/>
<circle cx="513.1" cy="613.9" r="5.3" fill="url(#lump)"/>
<circle cx="535.1" cy="588.4" r="2.5" fill="url(#lump)"/>
<circle cx="521.3" cy="543.8" r="5.2" fill="url(#lump)"/>
<circle cx="510.0" cy="620.3" r="5.1" fill="url(#lump)"/>
<circle cx="554.9" cy="557.0" r="5.1" fill="url(#lump)"/>
<circle cx="546.9" cy="621.8" r="3.9" fill="url(#lump)"/>
<circle cx="518.9" cy="532.4" r="5.8" fill="url(#lump)"/>
<circle cx="573.6" cy="574.4" r="5.3" fill="url(#lump)"/>
<circle cx="544.4" cy="608.6" r="3.2" fill="url(#lump)"/>
<circle cx="552.6" cy="588.4" r="5.2" fill="url(#lump)"/>
<circle cx="504.4" cy="594.2" r="5.6" fill="url(#lump)"/>
<circle cx="533.3" cy="607.3" r="2.6" fill="url(#lump)"/>
<circle cx="469.4" cy="569.5" r="5.1" fill="url(#lump)"/>
<circle cx="477.4" cy="602.6" r="5.0" fill="url(#lump)"/>
<circle cx="453.6" cy="573.7" r="3.4" fill="url(#lump)"/>
<circle cx="490.5" cy="534.5" r="3.3" fill="url(#lump)"/>
<circle cx="452.8" cy="572.8" r="4.0" fill="url(#lump)"/>
<circle cx="530.0" cy="589.7" r="3.5" fill="url(#lump)"/>
<circle cx="502.3" cy="547.6" r="4.1" fill="url(#lump)"/>
<circle cx="530.2" cy="522.8" r="4.7" fill="url(#lump)"/>
<circle cx="493.5" cy="588.4" r="6.3" fill="url(#lump)"/>
<circle cx="557.7" cy="566.6" r="5.8" fill="url(#lump)"/>
<circle cx="534.1" cy="559.9" r="3.1" fill="url(#lump)"/>
<circle cx="527.9" cy="586.1" r="6.3" fill="url(#lump)"/>
<circle cx="495.0" cy="630.6" r="2.5" fill="url(#lump)"/>
<circle cx="462.5" cy="586.4" r="5.0" fill="url(#lump)"/>
<circle cx="466.9" cy="595.0" r="6.1" fill="url(#lump)"/>
<circle cx="498.4" cy="568.3" r="3.4" fill="url(#lump)"/>
<circle cx="498.9" cy="639.8" r="6.2" fill="url(#lump)"/>
<circle cx="527.8" cy="545.1" r="6.4" fill="url(#lump)"/>
<circle cx="514.5" cy="566.1" r="3.8" fill="url(#lump)"/>
<circle cx="486.4" cy="574.4" r="3.0" fill="url(#lump)"/>
<circle cx="531.3" cy="569.9" r="3.7" fill="url(#lump)"/>
<circle cx="552.8" cy="543.2" r="3.6" fill="url(#lump)"/>
<circle cx="487.3" cy="592.1" r="4.4" fill="url(#lump)"/>
<circle cx="534.4" cy="591.5" r="5.5" fill="url(#lump)"/>
<circle cx="463.8" cy="612.7" r="3.7" fill="url(#lump)"/>
<circle cx="519.5" cy="555.4" r="3.7" fill="url(#lump)"/>
<circle cx="519.0" cy="572.7" r="3.9" fill="url(#lump)"/>
<circle cx="547.8" cy="589.8" r="2.6" fill="url(#lump)"/>
<circle cx="481.8" cy="571.5" r="6.2" fill="url(#lump)"/>
<circle cx="567.0" cy="583.7" r="2.6" fill="url(#lump)"/>
<circle cx="552.3" cy="567.7" r="4.8" fill="url(#lump)"/>
<circle cx="542.9" cy="595.4" r="4.4" fill="url(#lump)"/>
<circle cx="570.2" cy="562.0" r="4.1" fill="url(#lump)"/>
<circle cx="562.2" cy="536.5" r="3.7" fill="url(#lump)"/>
<circle cx="560.1" cy="603.8" r="4.2" fill="url(#lump)"/>
<circle cx="486.4" cy="615.4" r="6.1" fill="url(#lump)"/>
<circle cx="467.1" cy="574.6" r="4.7" fill="url(#lump)"/>
<circle cx="514.7" cy="554.6" r="3.1" fill="url(#lump)"/>
<circle cx="526.5" cy="619.6" r="2.8" fill="url(#lump)"/>
<circle cx="478.8" cy="620.6" r="5.7" fill="url(#lump)"/>
<circle cx="477.4" cy="597.2" r="6.3" fill="url(#lump)"/>
<circle cx="543.5" cy="528.2" r="3.7" fill="url(#lump)"/>
<circle cx="529.8" cy="565.9" r="3.1" fill="url(#lump)"/>
<circle cx="531.4" cy="515.9" r="2.9" fill="url(#lump)"/>
<circle cx="455.7" cy="587.7" r="5.5" fill="url(#lump)"/>
<circle cx="505.8" cy="552.5" r="4.9" fill="url(#lump)"/>
<circle cx="541.4" cy="530.4" r="5.0" fill="url(#lump)"/>
<circle cx="515.8" cy="632.9" r="4.7" fill="url(#lump)"/>
<circle cx="531.2" cy="545.5" r="4.7" fill="url(#lump)"/>
<circle cx="482.1" cy="611.3" r="4.6" fill="url(#lump)"/>
<circle cx="465.9" cy="541.6" r="4.0" fill="url(#lump)"/>
<circle cx="546.7" cy="534.2" r="5.4" fill="url(#lump)"/>
<circle cx="535.8" cy="521.5" r="5.2" fill="url(#lump)"/>
<circle cx="527.6" cy="542.2" r="6.0" fill="url(#lump)"/>
<circle cx="512.4" cy="553.6" r="5.7" fill="url(#lump)"/>
<circle cx="531.7" cy="557.8" r="3.4" fill="url(#lump)"/>
<circle cx="492.7" cy="592.9" r="3.9" fill="url(#lump)"/>
<circle cx="499.7" cy="528.4" r="5.8" fill="url(#lump)"/>
<circle cx="534.8" cy="618.6" r="4.2" fill="url(#lump)"/>
<circle cx="562.1" cy="579.9" r="4.9" fill="url(#lump)"/>
<circle cx="524.8" cy="609.9" r="4.1" fill="url(#lump)"/>
<circle cx="567.2" cy="574.9" r="5.5" fill="url(#lump)"/>
<circle cx="567.2" cy="593.6" r="4.2" fill="url(#lump)"/>
<circle cx="498.2" cy="562.1" r="6.0" fill="url(#lump)"/>
<circle cx="468.4" cy="544.3" r="3.6" fill="url(#lump)"/>
<circle cx="469.6" cy="548.8" r="3.4" fill="url(#lump)"/>
<circle cx="571.9" cy="559.8" r="6.3" fill="url(#lump)"/>
<circle cx="540.2" cy="601.0" r="4.4" fill="url(#lump)"/>
<circle cx="537.6" cy="549.3" r="5.2" fill="url(#lump)"/>
<circle cx="545.7" cy="532.0" r="3.3" fill="url(#lump)"/>
<circle cx="458.5" cy="564.1" r="6.4" fill="url(#lump)"/>
<circle cx="496.8" cy="552.1" r="4.4" fill="url(#lump)"/>
<circle cx="485.9" cy="608.9" r="5.4" fill="url(#lump)"/>
<circle cx="469.9" cy="542.5" r="5.2" fill="url(#lump)"/>
<circle cx="552.4" cy="565.4" r="2.7" fill="url(#lump)"/>
<circle cx="517.5" cy="557.3" r="2.9" fill="url(#lump)"/>
<circle cx="502.6" cy="551.3" r="2.7" fill="url(#lump)"/>
<circle cx="472.0" cy="578.7" r="4.1" fill="url(#lump)"/>
<circle cx="519.2" cy="521.4" r="3.8" fill="url(#lump)"/>
<circle cx="462.5" cy="583.2" r="6.2" fill="url(#lump)"/>
<circle cx="528.2" cy="625.7" r="3.4" fill="url(#lump)"/>
<circle cx="513.2" cy="587.1" r="4.0" fill="url(#lump)"/>
<circle cx="531.8" cy="608.0" r="6.2" fill="url(#lump)"/>
<circle cx="489.2" cy="570.6" r="5.8" fill="url(#lump)"/>
<circle cx="551.5" cy="620.6" r="3.8" fill="url(#lump)"/>
<circle cx="505.4" cy="587.9" r="3.5" fill="url(#lump)"/>
<circle cx="486.3" cy="560.5" r="2.9" fill="url(#lump)"/>
<circle cx="504.4" cy="552.4" r="5.5" fill="url(#lump)"/>
<circle cx="522.5" cy="631.0" r="5.1" fill="url(#lump)"/>
<circle cx="549.8" cy="587.6" r="4.3" fill="url(#lump)"/>
<circle cx="557.5" cy="598.5" r="6.3" fill="url(#lump)"/>
<circle cx="545.6" cy="604.7" r="3.6" fill="url(#lump)"/>
<circle cx="556.8" cy="561.6" r="3.0" fill="url(#lump)"/>
<circle cx="483.2" cy="601.2" r="3.6" fill="url(#lump)"/>
<circle cx="495.9" cy="626.1" r="6.3" fill="url(#lump)"/>
<circle cx="530.0" cy="541.2" r="4.2" fill="url(#lump)"/>
<circle cx="496.6" cy="554.6" r="2.5" fill="url(#lump)"/>
<circle cx="526.3" cy="621.6" r="5.4" fill="url(#lump)"/>
<circle cx="460.8" cy="581.6" r="3.2" fill="url(#lump)"/>
<circle cx="543.1" cy="570.2" r="6.3" fill="url(#lump)"/>
<circle cx="509.8" cy="568.6" r="4.3" fill="url(#lump)"/>
<circle cx="527.9" cy="524.0" r="5.8" fill="url(#lump)"/>
<circle cx="525.3" cy="575.1" r="6.0" fill="url(#lump)"/>
<circle cx="500.6" cy="539.1" r="3.6" fill="url(#lump)"/>
<circle cx="475.0" cy="585.9" r="3.9" fill="url(#lump)"/>
<circle cx="548.6" cy="542.6" r="3.9" fill="url(#lump)"/>
<circle cx="530.8" cy="564.1" r="3.1" fill="url(#lump)"/>
<circle cx="559.4" cy="576.2" r="2.7" fill="url(#lump)"/>
<circle cx="474.7" cy="617.6" r="3.8" fill="url(#lump)"/>
<circle cx="531.5" cy="618.1" r="4.0" fill="url(#lump)"/>
<circle cx="526.6" cy="534.9" r="4.1" fill="url(#lump)"/>
<circle cx="489.8" cy="561.7" r="4.4" fill="url(#lump)"/>
<circle cx="542.2" cy="563.9" r="6.4" fill="url(#lump)"/>
<circle cx="540.8" cy="600.5" r="4.6" fill="url(#lump)"/>
<circle cx="555.0" cy="559.0" r="4.9" fill="url(#lump)"/>
<circle cx="539.0" cy="580.5" r="3.6" fill="url(#lump)"/>
<circle cx="495.7" cy="588.4" r="5.5" fill="url(#lump)"/>
<circle cx="543.7" cy="551.4" r="6.2" fill="url(#lump)"/>
<circle cx="484.8" cy="606.7" r="2.8" fill="url(#lump)"/>
<circle cx="549.0" cy="600.4" r="6.3" fill="url(#lump)"/>
<circle cx="529.9" cy="538.2" r="4.6" fill="url(#lump)"/>
<circle cx="500.3" cy="534.0" r="5.1" fill="url(#lump)"/>
<circle cx="530.2" cy="562.2" r="2.9" fill="url(#lump)"/>
<circle cx="540.3" cy="584.7" r="5.4" fill="url(#lump)"/>
<circle cx="498.1" cy="629.7" r="3.4" fill="url(#lump)"/>
<circle cx="488.9" cy="546.1" r="5.0" fill="url(#lump)"/>
<circle cx="532.8" cy="613.5" r="3.4" fill="url(#lump)"/>
<circle cx="456.4" cy="586.4" r="5.8" fill="url(#lump)"/>
<circle cx="503.9" cy="567.4" r="4.6" fill="url(#lump)"/>
<circle cx="569.2" cy="550.8" r="3.6" fill="url(#lump)"/>
<circle cx="463.5" cy="585.9" r="4.9" fill="url(#lump)"/>
<circle cx="472.6" cy="535.7" r="4.9" fill="url(#lump)"/>
<circle cx="534.6" cy="603.2" r="5.4" fill="url(#lump)"/>
<circle cx="456.2" cy="575.4" r="5.8" fill="url(#lump)"/>
<circle cx="561.9" cy="597.1" r="6.2" fill="url(#lump)"/>
<circle cx="478.7" cy="604.1" r="5.9" fill="url(#lump)"/>
<circle cx="473.9" cy="531.1" r="2.9" fill="url(#lump)"/>
<circle cx="468.4" cy="593.1" r="2.9" fill="url(#lump)"/>
<circle cx="549.6" cy="609.4" r="5.8" fill="url(#lump)"/>
<circle cx="555.7" cy="606.3" r="6.2" fill="url(#lump)"/>
<circle cx="475.7" cy="560.5" r="4.3" fill="url(#lump)"/>
<circle cx="539.2" cy="610.3" r="2.8" fill="url(#lump)"/>
<circle cx="502.0" cy="583.4" r="4.0" fill="url(#lump)"/>
<circle cx="463.8" cy="590.6" r="4.0" fill="url(#lump)"/>
<circle cx="539.6" cy="576.9" r="6.4" fill="url(#lump)"/>
<circle cx="549.8" cy="607.4" r="3.7" fill="url(#lump)"/>
<circle cx="463.7" cy="574.7" r="3.9" fill="url(#lump)"/>
<circle cx="499.2" cy="549.2" r="4.5" fill="url(#lump)"/>
<circle cx="541.4" cy="616.5" r="4.8" fill="url(#lump)"/>
<circle cx="487.7" cy="555.5" r="5.9" fill="url(#lump)"/>
<circle cx="504.4" cy="542.1" r="5.2" fill="url(#lump)"/>
<circle cx="460.9" cy="574.5" r="6.4" fill="url(#lump)"/>
<circle cx="520.5" cy="562.1" r="6.2" fill="url(#lump)"/>
<circle cx="460.3" cy="558.0" r="5.7" fill="url(#lump)"/>
<circle cx="481.6" cy="571.9" r="4.0" fill="url(#lump)"/>
<circle cx="507.3" cy="573.7" r="2.8" fill="url(#lump)"/>
<circle cx="540.1" cy="578.6" r="2.7" fill="url(#lump)"/>
<circle cx="500.6" cy="615.1" r="4.2" fill="url(#lump)"/>
<circle cx="534.4" cy="595.8" r="2.6" fill="url(#lump)"/>
<circle cx="503.4" cy="628.0" r="5.8" fill="url(#lump)"/>
<circle cx="570.7" cy="561.1" r="6.5" fill="url(#lump)"/>
<circle cx="467.9" cy="615.4" r="4.2" fill="url(#lump)"/>
<circle cx="477.0" cy="566.9" r="3.6" fill="url(#lump)"/>
<circle cx="511.0" cy="548.7" r="5.2" fill="url(#lump)"/>
<circle cx="499.1" cy="631.1" r="6.0" fill="url(#lump)"/>
<circle cx="528.3" cy="528.4" r="3.4" fill="url(#lump)"/>
<circle cx="505.5" cy="546.0" r="5.5" fill="url(#lump)"/>
<circle cx="498.0" cy="614.7" r="3.1" fill="url(#lump)"/>
<circle cx="542.1" cy="522.2" r="2.9" fill="url(#lump)"/>
<circle cx="534.2" cy="560.6" r="4.0" fill="url(#lump)"/>
<circle cx="512.0" cy="588.5" r="6.4" fill="url(#lump)"/>
<circle cx="480.3" cy="586.8" r="3.6" fill="url(#lump)"/>
<circle cx="521.1" cy="608.7" r="3.0" fill="url(#lump)"/>
<circle cx="512.5" cy="605.3" r="2.5" fill="url(#lump)"/>
<circle cx="551.3" cy="566.5" r="4.5" fill="url(#lump)"/>
<circle cx="529.8" cy="617.0" r="2.7" fill="url(#lump)"/>
<circle cx="499.7" cy="556.7" r="2.6" fill="url(#lump)"/>
<circle cx="487.9" cy="570.8" r="5.1" fill="url(#lump)"/>
<circle cx="571.9" cy="560.0" r="4.6" fill="url(#lump)"/>
<circle cx="488.4" cy="532.5" r="6.2" fill="url(#lump)"/>
<circle cx="458.4" cy="570.6" r="5.4" fill="url(#lump)"/>
<circle cx="518.9" cy="562.5" r="6.2" fill="url(#lump)"/>
<circle cx="488.1" cy="584.5" r="5.8" fill="url(#lump)"/>
<circle cx="466.5" cy="557.4" r="4.5" fill="url(#lump)"/>
<circle cx="523.8" cy="538.0" r="4.3" fill="url(#lump)"/>
<circle cx="484.9" cy="615.8" r="5.5" fill="url(#lump)"/>
<circle cx="483.1" cy="621.9" r="5.0" fill="url(#lump)"/>
<circle cx="500.1" cy="594.9" r="3.5" fill="url(#lump)"/>
<circle cx="506.8" cy="631.1" r="3.2" fill="url(#lump)"/>
<circle cx="547.1" cy="585.8" r="2.5" fill="url(#lump)"/>
<circle cx="514.2" cy="627.6" r="2.7" fill="url(#lump)"/>
<circle cx="526.9" cy="525.9" r="5.4" fill="url(#lump)"/>
<circle cx="529.9" cy="592.6" r="3.4" fill="url(#lump)"/>
<circle cx="509.7" cy="597.6" r="6.1" fill="url(#lump)"/>
<circle cx="534.2" cy="623.9" r="3.0" fill="url(#lump)"/>
<circle cx="549.1" cy="544.9" r="3.7" fill="url(#lump)"/>
<circle cx="517.1" cy="631.8" r="4.4" fill="url(#lump)"/>
<circle cx="468.8" cy="539.2" r="3.6" fill="url(#lump)"/>
<circle cx="458.6" cy="567.4" r="5.0" fill="url(#lump)"/>
<circle cx="535.2" cy="533.6" r="3.1" fill="url(#lump)"/>
<circle cx="513.8" cy="602.8" r="4.3" fill="url(#lump)"/>
<circle cx="467.4" cy="546.2" r="4.5" fill="url(#lump)"/>
<circle cx="519.8" cy="631.5" r="4.7" fill="url(#lump)"/>
<circle cx="536.8" cy="566.6" r="5.6" fill="url(#lump)"/>
<circle cx="560.0" cy="549.6" r="2.9" fill="url(#lump)"/>
<circle cx="482.7" cy="558.3" r="6.1" fill="url(#lump)"/>
<circle cx="483.5" cy="595.0" r="5.1" fill="url(#lump)"/>
<circle cx="551.2" cy="555.4" r="2.9" fill="url(#lump)"/>
<circle cx="532.7" cy="624.0" r="4.8" fill="url(#lump)"/>
<circle cx="499.5" cy="595.9" r="5.4" fill="url(#lump)"/>
<circle cx="482.9" cy="565.1" r="3.8" fill="url(#lump)"/>
<circle cx="544.1" cy="565.4" r="6.0" fill="url(#lump)"/>
<circle cx="515.9" cy="524.1" r="4.2" fill="url(#lump)"/>
<circle cx="523.7" cy="549.1" r="2.9" fill="url(#lump)"/>
<circle cx="574.8" cy="572.9" r="2.9" fill="url(#lump)"/>
<circle cx="520.0" cy="521.3" r="6.4" fill="url(#lump)"/>
<circle cx="520.7" cy="569.1" r="3.6" fill="url(#lump)"/>
<circle cx="505.3" cy="538.2" r="4.6" fill="url(#lump)"/>
<circle cx="571.0" cy="561.5" r="5.0" fill="url(#lump)"/>
<circle cx="556.7" cy="581.4" r="3.1" fill="url(#lump)"/>
<circle cx="510.4" cy="569.8" r="6.2" fill="url(#lump)"/>
<circle cx="524.9" cy="577.5" r="3.6" fill="url(#lump)"/>
<circle cx="547.7" cy="544.6" r="4.4" fill="url(#lump)"/>
<circle cx="549.6" cy="591.7" r="3.0" fill="url(#lump)"/>
<circle cx="475.2" cy="603.8" r="5.4" fill="url(#lump)"/>
<circle cx="460.0" cy="570.3" r="5.0" fill="url(#lump)"/>
<circle cx="541.6" cy="524.2" r="4.8" fill="url(#lump)"/>
<circle cx="481.8" cy="558.1" r="2.7" fill="url(#lump)"/>
<circle cx="544.6" cy="526.5" r="5.6" fill="url(#lump)"/>
<circle cx="493.1" cy="589.9" r="5.1" fill="url(#lump)"/>
<circle cx="513.5" cy="627.9" r="6.2" fill="url(#lump)"/>
<circle cx="485.8" cy="555.1" r="6.0" fill="url(#lump)"/>
<circle cx="465.8" cy="566.7" r="4.2" fill="url(#lump)"/>
<circle cx="535.8" cy="612.2" r="5.4" fill="url(#lump)"/>
<circle cx="489.9" cy="625.2" r="5.1" fill="url(#lump)"/>
<circle cx="504.4" cy="623.1" r="5.2" fill="url(#lump)"/>
<circle cx="493.5" cy="608.8" r="4.5" fill="url(#lump)"/>
<circle cx="543.3" cy="592.9" r="5.7" fill="url(#lump)"/>
<circle cx="469.3" cy="576.8" r="2.5" fill="url(#lump)"/>
<circle cx="554.0" cy="614.2" r="5.8" fill="url(#lump)"/>
<circle cx="453.8" cy="582.3" r="4.4" fill="url(#lump)"/>
<circle cx="479.9" cy="621.9" r="5.1" fill="url(#lump)"/>
<circle cx="499.6" cy="597.0" r="3.4" fill="url(#lump)"/>
<circle cx="536.0" cy="588.5" r="5.5" fill="url(#lump)"/>
<circle cx="515.5" cy="568.7" r="3.7" fill="url(#lump)"/>
<circle cx="546.5" cy="560.3" r="4.9" fill="url(#lump)"/>
<circle cx="549.5" cy="570.0" r="5.2" fill="url(#lump)"/>
<circle cx="509.4" cy="569.2" r="5.7" fill="url(#lump)"/>
<circle cx="511.9" cy="580.4" r="2.6" fill="url(#lump)"/>
<circle cx="554.6" cy="613.6" r="5.0" fill="url(#lump)"/>
<circle cx="559.9" cy="592.9" r="5.4" fill="url(#lump)"/>
<circle cx="562.0" cy="593.3" r="2.6" fill="url(#lump)"/>
<circle cx="505.4" cy="550.5" r="5.4" fill="url(#lump)"/>
<circle cx="500.1" cy="532.4" r="6.3" fill="url(#lump)"/>
<circle cx="477.1" cy="564.4" r="4.3" fill="url(#lump)"/>
<circle cx="509.1" cy="613.6" r="5.3" fill="url(#lump)"/>
<circle cx="563.3" cy="602.2" r="5.6" fill="url(#lump)"/>
<circle cx="554.3" cy="566.2" r="5.1" fill="url(#lump)"/>
<circle cx="543.6" cy="569.9" r="3.3" fill="url(#lump)"/>
<circle cx="491.9" cy="543.8" r="5.2" fill="url(#lump)"/>
<circle cx="551.1" cy="535.9" r="4.6" fill="url(#lump)"/>
<circle cx="560.6" cy="559.4" r="2.9" fill="url(#lump)"/>
<circle cx="529.2" cy="558.9" r="3.1" fill="url(#lump)"/>
<circle cx="468.0" cy="567.4" r="2.9" fill="url(#lump)"/>
<circle cx="528.6" cy="612.2" r="4.4" fill="url(#lump)"/>
<circle cx="555.6" cy="570.9" r="6.2" fill="url(#lump)"/>
<circle cx="529.5" cy="582.5" r="3.2" fill="url(#lump)"/>
<circle cx="505.2" cy="569.4" r="5.8" fill="url(#lump)"/>
<circle cx="478.8" cy="549.8" r="5.8" fill="url(#lump)"/>
<circle cx="457.5" cy="582.5" r="3.4" fill="url(#lump)"/>
<circle cx="537.1" cy="590.2" r="2.9" fill="url(#lump)"/>
<circle cx="545.9" cy="565.0" r="3.8" fill="url(#lump)"/>
<circle cx="489.5" cy="601.5" r="3.0" fill="url(#lump)"/>
<circle cx="533.3" cy="515.5" r="4.6" fill="url(#lump)"/>
<circle cx="510.9" cy="569.8" r="3.1" fill="url(#lump)"/>
<circle cx="485.3" cy="570.7" r="2.8" fill="url(#lump)"/>
<circle cx="538.4" cy="542.9" r="3.7" fill="url(#lump)"/>
<circle cx="493.9" cy="538.2" r="5.2" fill="url(#lump)"/>
<circle cx="563.5" cy="554.3" r="5.2" fill="url(#lump)"/>
<circle cx="508.7" cy="627.7" r="2.7" fill="url(#lump)"/>
<circle cx="478.6" cy="548.6" r="3.6" fill="url(#lump)"/>
<circle cx="558.1" cy="577.8" r="3.9" fill="url(#lump)"/>
<circle cx="515.9" cy="624.2" r="4.8" fill="url(#lump)"/>
<circle cx="508.5" cy="598.7" r="5.0" fill="url(#lump)"/>
<circle cx="520" cy="560" r="6" fill="#4a4b4b" opacity="0.6"/>
<circle cx="505" cy="585" r="5" fill="#4a4b4b" opacity="0.6"/>
<circle cx="540" cy="600" r="5" fill="#4a4b4b" opacity="0.6"/>
<circle cx="480" cy="590" r="4" fill="#4a4b4b" opacity="0.6"/>
<circle cx="555" cy="570" r="4" fill="#4a4b4b" opacity="0.6"/>
<circle cx="530" cy="620" r="4" fill="#4a4b4b" opacity="0.6"/>
<circle cx="470" cy="560" r="3" fill="#4a4b4b" opacity="0.6"/>
</g>
<circle cx="527.2" cy="517.5" r="1.8" fill="url(#lump)"/>
<circle cx="523.4" cy="519.0" r="2.1" fill="url(#lump)"/>
<circle cx="518.5" cy="521.5" r="2.7" fill="url(#lump)"/>
<circle cx="512.1" cy="524.0" r="3.0" fill="url(#lump)"/>
<circle cx="504.1" cy="522.6" r="3.0" fill="url(#lump)"/>
<circle cx="498.9" cy="526.9" r="1.7" fill="url(#lump)"/>
<circle cx="490.9" cy="529.5" r="2.8" fill="url(#lump)"/>
<circle cx="480.9" cy="529.5" r="1.8" fill="url(#lump)"/>
<circle cx="473.3" cy="530.3" r="2.5" fill="url(#lump)"/>
<circle cx="470.2" cy="534.4" r="2.7" fill="url(#lump)"/>
<circle cx="465.6" cy="537.3" r="2.4" fill="url(#lump)"/>
<circle cx="463.1" cy="545.5" r="1.7" fill="url(#lump)"/>
<circle cx="465.7" cy="553.8" r="3.1" fill="url(#lump)"/>
<circle cx="457.4" cy="561.6" r="2.3" fill="url(#lump)"/>
<circle cx="454.4" cy="570.9" r="1.8" fill="url(#lump)"/>
<circle cx="452.6" cy="579.7" r="2.4" fill="url(#lump)"/>
<circle cx="450.1" cy="588.4" r="2.3" fill="url(#lump)"/>
<circle cx="457.6" cy="596.1" r="2.0" fill="url(#lump)"/>
<circle cx="459.0" cy="604.2" r="2.7" fill="url(#lump)"/>
<circle cx="461.4" cy="612.3" r="1.6" fill="url(#lump)"/>
<circle cx="467.2" cy="619.7" r="2.0" fill="url(#lump)"/>
<circle cx="473.8" cy="622.8" r="2.5" fill="url(#lump)"/>
<circle cx="480.0" cy="627.7" r="2.1" fill="url(#lump)"/>
<circle cx="485.7" cy="628.8" r="1.8" fill="url(#lump)"/>
<circle cx="492.9" cy="630.0" r="2.5" fill="url(#lump)"/>
<circle cx="496.3" cy="640.1" r="1.6" fill="url(#lump)"/>
<circle cx="505.7" cy="637.3" r="3.1" fill="url(#lump)"/>
<circle cx="515.1" cy="634.1" r="1.6" fill="url(#lump)"/>
<circle cx="524.1" cy="631.4" r="3.5" fill="url(#lump)"/>
<circle cx="532.6" cy="624.8" r="1.6" fill="url(#lump)"/>
<circle cx="542.4" cy="625.8" r="3.0" fill="url(#lump)"/>
<circle cx="553.3" cy="621.4" r="3.1" fill="url(#lump)"/>
<circle cx="558.3" cy="612.1" r="2.0" fill="url(#lump)"/>
<circle cx="561.4" cy="603.6" r="2.9" fill="url(#lump)"/>
<circle cx="567.2" cy="596.9" r="2.1" fill="url(#lump)"/>
<circle cx="570.2" cy="590.8" r="3.0" fill="url(#lump)"/>
<circle cx="574.0" cy="582.6" r="2.6" fill="url(#lump)"/>
<circle cx="578.8" cy="572.6" r="2.1" fill="url(#lump)"/>
<circle cx="571.6" cy="563.7" r="2.4" fill="url(#lump)"/>
<circle cx="570.7" cy="556.0" r="2.0" fill="url(#lump)"/>
<circle cx="569.1" cy="551.1" r="2.5" fill="url(#lump)"/>
<circle cx="565.0" cy="545.4" r="2.7" fill="url(#lump)"/>
<circle cx="563.0" cy="537.2" r="2.1" fill="url(#lump)"/>
<circle cx="558.0" cy="533.6" r="3.1" fill="url(#lump)"/>
<circle cx="550.7" cy="529.4" r="1.5" fill="url(#lump)"/>
<circle cx="546.3" cy="526.4" r="1.5" fill="url(#lump)"/>
<circle cx="542.4" cy="521.5" r="1.9" fill="url(#lump)"/>
<circle cx="538.5" cy="519.9" r="2.1" fill="url(#lump)"/>
<circle cx="535.5" cy="515.0" r="3.3" fill="url(#lump)"/>
<circle cx="531.3" cy="513.3" r="2.9" fill="url(#lump)"/>
<circle cx="527.8" cy="517.7" r="3.2" fill="url(#lump)"/>
<line x1="386.6" y1="456.0" x2="385.8" y2="467.0" stroke="#4fc3e6" stroke-width="3.8" stroke-linecap="round"/>
<line x1="401.8" y1="457.4" x2="400.8" y2="468.4" stroke="#4fc3e6" stroke-width="3.8" stroke-linecap="round"/>
<line x1="417.4" y1="459.4" x2="415.2" y2="470.2" stroke="#4fc3e6" stroke-width="3.8" stroke-linecap="round"/>
<line x1="432.0" y1="463.8" x2="428.1" y2="474.1" stroke="#4fc3e6" stroke-width="3.8" stroke-linecap="round"/>
<line x1="446.0" y1="470.2" x2="440.6" y2="479.7" stroke="#4fc3e6" stroke-width="3.8" stroke-linecap="round"/>
<line x1="457.8" y1="479.8" x2="449.4" y2="486.9" stroke="#4fc3e6" stroke-width="3.8" stroke-linecap="round"/>
<line x1="466.0" y1="493.0" x2="455.8" y2="497.1" stroke="#4fc3e6" stroke-width="3.8" stroke-linecap="round"/>
<line x1="471.0" y1="507.9" x2="460.3" y2="510.8" stroke="#4fc3e6" stroke-width="3.8" stroke-linecap="round"/>
<line x1="474.0" y1="523.2" x2="463.2" y2="525.0" stroke="#4fc3e6" stroke-width="3.8" stroke-linecap="round"/>
<line x1="477.5" y1="537.9" x2="467.0" y2="541.2" stroke="#4fc3e6" stroke-width="3.8" stroke-linecap="round"/>
<line x1="483.2" y1="552.4" x2="473.4" y2="557.5" stroke="#4fc3e6" stroke-width="3.8" stroke-linecap="round"/>
<line x1="492.1" y1="564.8" x2="484.3" y2="572.6" stroke="#4fc3e6" stroke-width="3.8" stroke-linecap="round"/>
<line x1="477.6" y1="551.6" x2="472.9" y2="559.9" stroke="#a45ee0" stroke-width="4" stroke-linecap="round"/>
<line x1="487.0" y1="563.4" x2="482.3" y2="571.6" stroke="#6ede6a" stroke-width="4" stroke-linecap="round"/>
<line x1="496.3" y1="572.8" x2="491.6" y2="581.0" stroke="#ecd070" stroke-width="4" stroke-linecap="round"/>
<line x1="507.0" y1="579.8" x2="502.2" y2="588.0" stroke="#50d4a0" stroke-width="4" stroke-linecap="round"/>
<ellipse cx="517" cy="581" rx="4" ry="6" fill="#ffffff"/>
<path d="M373.1,455.0 L373.8,455.1 L374.6,455.1 L375.3,455.2 L376.1,455.2 L376.8,455.3 L377.6,455.4 L378.3,455.4 L379.1,455.5 L379.8,455.5 L380.6,455.6 L381.3,455.6 L382.1,455.7 L382.9,455.7 L383.6,455.8 L384.4,455.9 L385.1,455.9 L385.9,456.0 L386.6,456.0 L387.4,456.1 L388.1,456.1 L388.8,456.2 L389.6,456.3 L390.3,456.3 L391.1,456.4 L391.8,456.4 L392.5,456.5 L393.3,456.6 L394.0,456.6 L394.7,456.7 L395.5,456.8 L396.2,456.9 L396.9,456.9 L397.6,457.0 L398.3,457.1 L399.0,457.1 L399.7,457.2 L400.4,457.3 L401.1,457.4 L401.8,457.4 L402.5,457.5 L403.2,457.6 L403.9,457.6 L404.6,457.7 L405.3,457.8 L406.0,457.8 L406.7,457.9 L407.3,458.0 L408.0,458.0 L408.7,458.1 L409.4,458.2 L410.0,458.3 L410.7,458.4 L411.4,458.4 L412.1,458.5 L412.7,458.6 L413.4,458.7 L414.1,458.8 L414.7,458.9 L415.4,459.0 L416.1,459.2 L416.7,459.3 L417.4,459.4 L418.0,459.6 L418.7,459.7 L419.3,459.8 L420.0,460.0 L420.7,460.2 L421.3,460.3 L422.0,460.5 L422.7,460.7 L423.3,460.9 L424.0,461.1 L424.7,461.3 L425.3,461.5 L426.0,461.7 L426.7,461.9 L427.4,462.2 L428.0,462.4 L428.7,462.6 L429.4,462.9 L430.0,463.1 L430.7,463.3 L431.4,463.6 L432.0,463.8 L432.7,464.1 L433.3,464.3 L433.9,464.6 L434.6,464.8 L435.2,465.1 L435.8,465.3 L436.4,465.6 L437.0,465.8 L437.6,466.1 L438.1,466.3 L438.7,466.6 L439.2,466.8 L439.8,467.0 L440.3,467.3 L440.8,467.5 L441.3,467.7 L441.8,468.0 L442.2,468.2 L442.7,468.4 L443.2,468.6 L443.6,468.8 L444.0,469.1 L444.4,469.3 L444.9,469.5 L445.3,469.7 L445.7,469.9 L446.0,470.2 L446.4,470.4 L446.8,470.6 L447.2,470.8 L447.5,471.0 L447.9,471.3 L448.2,471.5 L448.6,471.7 L448.9,471.9 L449.2,472.2 L449.6,472.4 L449.9,472.6 L450.2,472.8 L450.5,473.1 L450.8,473.3 L451.2,473.5 L451.5,473.8 L451.8,474.0 L452.1,474.3 L452.4,474.5 L452.7,474.8 L453.0,475.0 L453.3,475.3 L453.6,475.5 L453.9,475.8 L454.2,476.0 L454.5,476.3 L454.8,476.5 L455.0,476.8 L455.3,477.1 L455.6,477.3 L455.8,477.6 L456.1,477.9 L456.3,478.2 L456.6,478.4 L456.8,478.7 L457.1,479.0 L457.3,479.3 L457.6,479.5 L457.8,479.8 L458.0,480.1 L458.3,480.4 L458.5,480.7 L458.7,480.9 L458.9,481.2 L459.1,481.5 L459.4,481.8 L459.6,482.1 L459.8,482.3 L460.0,482.6 L460.2,482.9 L460.4,483.2 L460.6,483.5 L460.8,483.7 L461.0,484.0 L461.2,484.3 L461.4,484.5 L461.6,484.8 L461.7,485.0 L461.9,485.3 L462.1,485.5 L462.2,485.8 L462.4,486.0 L462.6,486.2 L462.7,486.5 L462.9,486.7 L463.0,486.9 L463.2,487.2 L463.3,487.4 L463.4,487.6 L463.6,487.9 L463.7,488.1 L463.9,488.3 L464.0,488.6 L464.1,488.8 L464.3,489.1 L464.4,489.4 L464.5,489.7 L464.7,489.9 L464.8,490.2 L465.0,490.5 L465.1,490.9 L465.2,491.2 L465.4,491.5 L465.5,491.9 L465.7,492.2 L465.8,492.6 L466.0,493.0 L466.2,493.4 L466.3,493.8 L466.5,494.2 L466.7,494.7 L466.8,495.1 L467.0,495.6 L467.2,496.0 L467.3,496.5 L467.5,497.0 L467.7,497.5 L467.9,497.9 L468.0,498.4 L468.2,499.0 L468.4,499.5 L468.6,500.0 L468.7,500.5 L468.9,501.1 L469.1,501.6 L469.3,502.1 L469.4,502.7 L469.6,503.3 L469.8,503.8 L470.0,504.4 L470.1,505.0 L470.3,505.6 L470.5,506.2 L470.6,506.7 L470.8,507.3 L471.0,507.9 L471.1,508.6 L471.3,509.2 L471.4,509.8 L471.6,510.4 L471.8,511.0 L471.9,511.7 L472.0,512.3 L472.2,513.0 L472.3,513.7 L472.5,514.4 L472.6,515.1 L472.7,515.8 L472.9,516.5 L473.0,517.2 L473.1,517.9 L473.2,518.7 L473.4,519.4 L473.5,520.2 L473.6,520.9 L473.8,521.7 L473.9,522.4 L474.0,523.2 L474.1,523.9 L474.3,524.7 L474.4,525.4 L474.5,526.2 L474.7,526.9 L474.8,527.7 L475.0,528.4 L475.1,529.1 L475.3,529.8 L475.4,530.6 L475.6,531.3 L475.8,532.0 L475.9,532.7 L476.1,533.3 L476.3,534.0 L476.5,534.7 L476.7,535.3 L476.9,536.0 L477.1,536.6 L477.3,537.3 L477.5,537.9 L477.7,538.6 L477.9,539.2 L478.1,539.9 L478.3,540.5 L478.5,541.2 L478.7,541.8 L479.0,542.4 L479.2,543.1 L479.4,543.7 L479.6,544.3 L479.9,544.9 L480.1,545.5 L480.3,546.1 L480.6,546.7 L480.8,547.3 L481.1,547.9 L481.3,548.5 L481.6,549.1 L481.8,549.7 L482.1,550.2 L482.3,550.8 L482.6,551.3 L482.9,551.9 L483.2,552.4 L483.4,553.0 L483.7,553.5 L484.0,554.0 L484.3,554.5 L484.6,555.0 L484.9,555.5 L485.2,556.0 L485.5,556.5 L485.8,556.9 L486.1,557.4 L486.4,557.9 L486.7,558.3 L487.0,558.8 L487.3,559.2 L487.7,559.6 L488.0,560.1 L488.3,560.5 L488.6,560.9 L489.0,561.3 L489.3,561.7 L489.7,562.1 L490.0,562.5 L490.3,562.9 L490.7,563.3 L491.1,563.7 L491.4,564.1 L491.8,564.5 L492.1,564.8 L492.5,565.2 L492.9,565.6 L493.3,565.9 L493.6,566.3 L494.0,566.6 L494.4,567.0 L494.8,567.4 L495.2,567.7 L495.6,568.0 L496.0,568.4 L496.4,568.7 L496.9,569.1 L497.3,569.4 L497.8,569.7 L498.2,570.1 L498.7,570.4 L499.2,570.7 L499.6,571.0 L500.1,571.3 L500.6,571.6 L501.1,571.9 L501.6,572.2 L502.1,572.5 L502.6,572.8 L503.1,573.1 L503.5,573.4 L504.0,573.7 L504.5,573.9 L505.0,574.2 L505.5,574.5 L505.9,574.7 L506.4,575.0 L506.9,575.2 L507.3,575.5 L507.8,575.7 L508.2,575.9 L508.6,576.2 L509.0,576.4 L509.4,576.6 L509.8,576.8 L510.2,577.0 L510.6,577.2 L510.9,577.4 L511.3,577.6 L511.6,577.7 L511.9,577.9 L512.2,578.0 L512.6,578.2 L512.9,578.3 L513.2,578.4 L513.5,578.6 L513.7,578.7 L514.0,578.8 L514.3,578.9 L514.6,579.0 L514.9,579.1 L515.1,579.2 L515.4,579.3 L515.6,579.4 L515.9,579.5 L516.2,579.6 L516.4,579.6 L516.7,579.7 L516.9,579.8 L517.2,579.9 L517.4,580.0 L517.7,580.1 L518.0,580.2 L518.2,580.3 L518.5,580.4 L518.8,580.5 L519.0,580.6 L519.3,580.7 L519.6,580.8" fill="none" stroke="#4fc3e6" stroke-width="4" stroke-linecap="round"/>
<defs>
<radialGradient id="ball2" cx="0.4" cy="0.35" r="0.7"><stop offset="0" stop-color="#def4f5"/><stop offset="0.45" stop-color="#92d2da"/><stop offset="1" stop-color="#52a8b5"/></radialGradient>
<clipPath id="bottomClip"><rect x="0" y="0" width="639" height="946"/></clipPath>
</defs><g clip-path="url(#bottomClip)">
<line x1="-8.0" y1="800.0" x2="-5.0" y2="745.0" stroke="#a3d8de" stroke-width="4.4"/>
<line x1="-8.0" y1="799.5" x2="-5.0" y2="744.5" stroke="#e2f4f5" stroke-width="1.4"/>
<line x1="2.0" y1="818.0" x2="3.0" y2="770.0" stroke="#a3d8de" stroke-width="4.4"/>
<line x1="2.0" y1="817.5" x2="3.0" y2="769.5" stroke="#e2f4f5" stroke-width="1.4"/>
<line x1="12.0" y1="827.0" x2="9.0" y2="788.0" stroke="#a3d8de" stroke-width="4.4"/>
<line x1="12.0" y1="826.5" x2="9.0" y2="787.5" stroke="#e2f4f5" stroke-width="1.4"/>
<line x1="26.0" y1="829.0" x2="17.0" y2="806.0" stroke="#a3d8de" stroke-width="4.4"/>
<line x1="26.0" y1="828.5" x2="17.0" y2="805.5" stroke="#e2f4f5" stroke-width="1.4"/>
<line x1="44.0" y1="826.0" x2="23.0" y2="815.0" stroke="#a3d8de" stroke-width="4.4"/>
<line x1="44.0" y1="825.5" x2="23.0" y2="814.5" stroke="#e2f4f5" stroke-width="1.4"/>
<line x1="62.0" y1="823.0" x2="28.0" y2="822.0" stroke="#a3d8de" stroke-width="4.4"/>
<line x1="62.0" y1="822.5" x2="28.0" y2="821.5" stroke="#e2f4f5" stroke-width="1.4"/>
<line x1="81.0" y1="821.0" x2="32.0" y2="828.0" stroke="#a3d8de" stroke-width="4.4"/>
<line x1="81.0" y1="820.5" x2="32.0" y2="827.5" stroke="#e2f4f5" stroke-width="1.4"/>
<line x1="98.0" y1="818.0" x2="36.0" y2="834.0" stroke="#a3d8de" stroke-width="4.4"/>
<line x1="98.0" y1="817.5" x2="36.0" y2="833.5" stroke="#e2f4f5" stroke-width="1.4"/>
<line x1="112.0" y1="819.0" x2="41.0" y2="841.0" stroke="#a3d8de" stroke-width="4.4"/>
<line x1="112.0" y1="818.5" x2="41.0" y2="840.5" stroke="#e2f4f5" stroke-width="1.4"/>
<line x1="120.0" y1="823.0" x2="48.0" y2="851.0" stroke="#a3d8de" stroke-width="4.4"/>
<line x1="120.0" y1="822.5" x2="48.0" y2="850.5" stroke="#e2f4f5" stroke-width="1.4"/>
<line x1="127.0" y1="828.0" x2="57.0" y2="861.0" stroke="#a3d8de" stroke-width="4.4"/>
<line x1="127.0" y1="827.5" x2="57.0" y2="860.5" stroke="#e2f4f5" stroke-width="1.4"/>
<line x1="134.0" y1="834.0" x2="68.0" y2="871.0" stroke="#a3d8de" stroke-width="4.4"/>
<line x1="134.0" y1="833.5" x2="68.0" y2="870.5" stroke="#e2f4f5" stroke-width="1.4"/>
<line x1="139.0" y1="840.0" x2="79.0" y2="880.0" stroke="#a3d8de" stroke-width="4.4"/>
<line x1="139.0" y1="839.5" x2="79.0" y2="879.5" stroke="#e2f4f5" stroke-width="1.4"/>
<line x1="143.0" y1="846.0" x2="90.0" y2="887.0" stroke="#a3d8de" stroke-width="4.4"/>
<line x1="143.0" y1="845.5" x2="90.0" y2="886.5" stroke="#e2f4f5" stroke-width="1.4"/>
<line x1="147.0" y1="853.0" x2="102.0" y2="893.0" stroke="#a3d8de" stroke-width="4.4"/>
<line x1="147.0" y1="852.5" x2="102.0" y2="892.5" stroke="#e2f4f5" stroke-width="1.4"/>
<line x1="151.0" y1="861.0" x2="116.0" y2="899.0" stroke="#a3d8de" stroke-width="4.4"/>
<line x1="151.0" y1="860.5" x2="116.0" y2="898.5" stroke="#e2f4f5" stroke-width="1.4"/>
<line x1="158.0" y1="872.0" x2="135.0" y2="905.0" stroke="#a3d8de" stroke-width="4.4"/>
<line x1="158.0" y1="871.5" x2="135.0" y2="904.5" stroke="#e2f4f5" stroke-width="1.4"/>
<line x1="165.0" y1="880.0" x2="160.0" y2="907.0" stroke="#a3d8de" stroke-width="4.4"/>
<line x1="165.0" y1="879.5" x2="160.0" y2="906.5" stroke="#e2f4f5" stroke-width="1.4"/>
<line x1="171.0" y1="886.0" x2="190.0" y2="905.0" stroke="#a3d8de" stroke-width="4.4"/>
<line x1="171.0" y1="885.5" x2="190.0" y2="904.5" stroke="#e2f4f5" stroke-width="1.4"/>
<line x1="179.0" y1="893.0" x2="220.0" y2="903.0" stroke="#a3d8de" stroke-width="4.4"/>
<line x1="179.0" y1="892.5" x2="220.0" y2="902.5" stroke="#e2f4f5" stroke-width="1.4"/>
<line x1="187.0" y1="901.0" x2="252.0" y2="901.0" stroke="#a3d8de" stroke-width="4.4"/>
<line x1="187.0" y1="900.5" x2="252.0" y2="900.5" stroke="#e2f4f5" stroke-width="1.4"/>
<line x1="195.0" y1="909.0" x2="275.0" y2="903.0" stroke="#a3d8de" stroke-width="4.4"/>
<line x1="195.0" y1="908.5" x2="275.0" y2="902.5" stroke="#e2f4f5" stroke-width="1.4"/>
<line x1="203.0" y1="918.0" x2="293.0" y2="905.0" stroke="#a3d8de" stroke-width="4.4"/>
<line x1="203.0" y1="917.5" x2="293.0" y2="904.5" stroke="#e2f4f5" stroke-width="1.4"/>
<line x1="209.0" y1="928.0" x2="312.0" y2="911.0" stroke="#a3d8de" stroke-width="4.4"/>
<line x1="209.0" y1="927.5" x2="312.0" y2="910.5" stroke="#e2f4f5" stroke-width="1.4"/>
<line x1="213.0" y1="938.0" x2="325.0" y2="918.0" stroke="#a3d8de" stroke-width="4.4"/>
<line x1="213.0" y1="937.5" x2="325.0" y2="917.5" stroke="#e2f4f5" stroke-width="1.4"/>
<line x1="217.0" y1="950.0" x2="342.0" y2="926.0" stroke="#a3d8de" stroke-width="4.4"/>
<line x1="217.0" y1="949.5" x2="342.0" y2="925.5" stroke="#e2f4f5" stroke-width="1.4"/>
<line x1="220.0" y1="962.0" x2="358.0" y2="934.0" stroke="#a3d8de" stroke-width="4.4"/>
<line x1="220.0" y1="961.5" x2="358.0" y2="933.5" stroke="#e2f4f5" stroke-width="1.4"/>
<line x1="222.0" y1="975.0" x2="374.0" y2="942.0" stroke="#a3d8de" stroke-width="4.4"/>
<line x1="222.0" y1="974.5" x2="374.0" y2="941.5" stroke="#e2f4f5" stroke-width="1.4"/>
<line x1="224.0" y1="990.0" x2="392.0" y2="952.0" stroke="#a3d8de" stroke-width="4.4"/>
<line x1="224.0" y1="989.5" x2="392.0" y2="951.5" stroke="#e2f4f5" stroke-width="1.4"/>
<polyline fill="none" stroke="#86cbd3" stroke-width="5" points="-8.0,800.0 -5.1,805.4 -2.3,810.9 0.6,815.9 3.4,819.8 6.1,822.9 8.9,825.2 12.0,827.0 15.6,828.2 19.5,828.9 23.8,829.0 28.4,828.8 33.4,828.1 38.7,827.0 44.0,826.0 49.1,825.1 54.2,824.2 59.4,823.4 64.7,822.7 70.2,822.1 75.7,821.6 81.0,821.0 86.1,820.1 91.0,819.1 95.7,818.2 100.2,817.9 104.5,818.0 108.5,818.4 112.0,819.0 114.8,819.9 117.0,821.1 119.0,822.3 121.1,823.7 123.1,825.0 125.0,826.5 127.0,828.0 129.1,829.6 131.1,831.4 133.1,833.1 134.8,834.9 136.3,836.6 137.7,838.3 139.0,840.0 140.2,841.7 141.3,843.4 142.4,845.1 143.6,846.9 144.7,848.9 145.9,850.9 147.0,853.0 148.1,855.1 149.1,857.3 150.3,859.7 151.8,862.4 153.8,865.7 155.9,869.0 158.0,872.0 160.0,874.6 162.1,876.9 164.1,879.0 165.9,881.0 167.5,882.7 169.2,884.3 171.0,886.0 173.1,887.9 175.5,889.9 177.8,891.9 180.1,894.1 182.4,896.4 184.7,898.7 187.0,901.0 189.3,903.3 191.6,905.5 193.9,907.8 196.2,910.2 198.5,912.7 200.9,915.3 203.0,918.0 204.9,920.8 206.7,923.7 208.3,926.6 209.7,929.4 210.9,932.2 211.9,935.0 213.0,938.0 214.2,941.3 215.4,944.8 216.5,948.3 217.5,951.7 218.4,955.1 219.2,958.5 220.0,962.0 220.6,965.6 221.2,969.2 221.7,973.0 222.3,977.0 222.9,981.3 223.4,985.7 224.0,990.0"/>
<polyline fill="none" stroke="#86cbd3" stroke-width="5" points="-5.0,745.0 -2.7,752.3 -0.3,759.8 2.0,766.8 3.9,772.9 5.6,778.2 7.2,783.1 9.0,788.0 11.2,793.4 13.6,798.9 15.9,803.9 18.0,807.8 19.8,810.6 21.4,812.8 23.0,815.0 24.5,817.2 26.0,819.2 27.3,821.1 28.6,822.9 29.8,824.6 30.9,826.3 32.0,828.0 33.1,829.7 34.2,831.4 35.4,833.1 36.6,834.9 38.0,836.8 39.4,838.8 41.0,841.0 42.8,843.6 44.8,846.6 46.9,849.5 49.2,852.4 51.6,855.3 54.2,858.1 57.0,861.0 60.0,863.9 63.2,866.8 66.4,869.6 69.6,872.4 72.7,875.0 75.9,877.6 79.0,880.0 82.1,882.2 85.2,884.2 88.4,886.1 91.6,887.9 95.0,889.6 98.4,891.3 102.0,893.0 105.7,894.7 109.5,896.4 113.7,898.1 118.4,899.9 123.5,901.8 129.0,903.6 135.0,905.0 141.6,906.0 148.6,906.6 156.1,907.0 164.0,906.9 172.5,906.4 181.3,905.7 190.0,905.0 198.5,904.4 207.0,903.9 215.6,903.3 224.5,902.7 234.0,901.9 243.5,901.3 252.0,901.0 259.4,901.3 266.0,901.9 272.1,902.7 277.8,903.3 283.0,903.6 287.9,904.1 293.0,905.0 298.5,906.4 304.2,908.1 309.6,910.1 314.1,911.9 317.8,913.9 321.2,915.9 325.0,918.0 329.6,920.2 334.6,922.5 339.6,924.8 344.3,927.1 348.9,929.4 353.5,931.7 358.0,934.0 362.5,936.2 367.0,938.4 371.6,940.8 376.5,943.3 381.6,946.1 386.8,949.1 392.0,952.0"/>
<ellipse cx="-8.0" cy="800.0" rx="4.8" ry="4.4" fill="url(#ball2)"/>
<ellipse cx="-4.0" cy="807.6" rx="4.8" ry="4.4" fill="url(#ball2)"/>
<ellipse cx="0.3" cy="815.4" rx="4.8" ry="4.4" fill="url(#ball2)"/>
<ellipse cx="5.3" cy="822.0" rx="4.8" ry="4.4" fill="url(#ball2)"/>
<ellipse cx="12.0" cy="827.0" rx="4.8" ry="4.4" fill="url(#ball2)"/>
<ellipse cx="20.3" cy="828.9" rx="4.8" ry="4.4" fill="url(#ball2)"/>
<ellipse cx="28.9" cy="828.8" rx="4.8" ry="4.4" fill="url(#ball2)"/>
<ellipse cx="37.1" cy="827.3" rx="4.8" ry="4.4" fill="url(#ball2)"/>
<ellipse cx="45.5" cy="825.7" rx="4.8" ry="4.4" fill="url(#ball2)"/>
<ellipse cx="53.7" cy="824.3" rx="4.8" ry="4.4" fill="url(#ball2)"/>
<ellipse cx="62.0" cy="823.0" rx="4.8" ry="4.4" fill="url(#ball2)"/>
<ellipse cx="70.7" cy="822.1" rx="4.8" ry="4.4" fill="url(#ball2)"/>
<ellipse cx="78.9" cy="821.3" rx="4.8" ry="4.4" fill="url(#ball2)"/>
<ellipse cx="87.6" cy="819.8" rx="4.8" ry="4.4" fill="url(#ball2)"/>
<ellipse cx="95.7" cy="818.2" rx="4.8" ry="4.4" fill="url(#ball2)"/>
<ellipse cx="104.5" cy="818.0" rx="4.8" ry="4.4" fill="url(#ball2)"/>
<ellipse cx="112.6" cy="819.2" rx="4.8" ry="4.4" fill="url(#ball2)"/>
<ellipse cx="120.2" cy="823.1" rx="4.8" ry="4.4" fill="url(#ball2)"/>
<ellipse cx="127.0" cy="828.0" rx="4.8" ry="4.4" fill="url(#ball2)"/>
<ellipse cx="133.5" cy="833.5" rx="4.8" ry="4.4" fill="url(#ball2)"/>
<ellipse cx="139.0" cy="840.0" rx="4.8" ry="4.4" fill="url(#ball2)"/>
<ellipse cx="143.7" cy="847.1" rx="4.8" ry="4.4" fill="url(#ball2)"/>
<ellipse cx="147.8" cy="854.5" rx="4.8" ry="4.4" fill="url(#ball2)"/>
<ellipse cx="151.7" cy="862.1" rx="4.8" ry="4.4" fill="url(#ball2)"/>
<ellipse cx="156.1" cy="869.3" rx="4.8" ry="4.4" fill="url(#ball2)"/>
<ellipse cx="161.3" cy="876.0" rx="4.8" ry="4.4" fill="url(#ball2)"/>
<ellipse cx="167.1" cy="882.2" rx="4.8" ry="4.4" fill="url(#ball2)"/>
<ellipse cx="173.4" cy="888.1" rx="4.8" ry="4.4" fill="url(#ball2)"/>
<ellipse cx="179.7" cy="893.6" rx="4.8" ry="4.4" fill="url(#ball2)"/>
<ellipse cx="185.6" cy="899.6" rx="4.8" ry="4.4" fill="url(#ball2)"/>
<ellipse cx="191.8" cy="905.7" rx="4.8" ry="4.4" fill="url(#ball2)"/>
<ellipse cx="197.6" cy="911.7" rx="4.8" ry="4.4" fill="url(#ball2)"/>
<ellipse cx="203.2" cy="918.3" rx="4.8" ry="4.4" fill="url(#ball2)"/>
<ellipse cx="207.6" cy="925.4" rx="4.8" ry="4.4" fill="url(#ball2)"/>
<ellipse cx="211.3" cy="933.3" rx="4.8" ry="4.4" fill="url(#ball2)"/>
<ellipse cx="214.2" cy="941.3" rx="4.8" ry="4.4" fill="url(#ball2)"/>
<ellipse cx="216.8" cy="949.3" rx="4.8" ry="4.4" fill="url(#ball2)"/>
<ellipse cx="219.0" cy="957.5" rx="4.8" ry="4.4" fill="url(#ball2)"/>
<ellipse cx="220.7" cy="965.9" rx="4.8" ry="4.4" fill="url(#ball2)"/>
<ellipse cx="221.9" cy="974.2" rx="4.8" ry="4.4" fill="url(#ball2)"/>
<ellipse cx="223.0" cy="982.6" rx="4.8" ry="4.4" fill="url(#ball2)"/>
<ellipse cx="-5.0" cy="745.0" rx="5.8" ry="5.3" fill="url(#ball2)"/>
<ellipse cx="-1.9" cy="754.6" rx="5.8" ry="5.3" fill="url(#ball2)"/>
<ellipse cx="1.1" cy="764.1" rx="5.8" ry="5.3" fill="url(#ball2)"/>
<ellipse cx="4.3" cy="774.0" rx="5.8" ry="5.3" fill="url(#ball2)"/>
<ellipse cx="7.4" cy="783.5" rx="5.8" ry="5.3" fill="url(#ball2)"/>
<ellipse cx="11.0" cy="792.8" rx="5.8" ry="5.3" fill="url(#ball2)"/>
<ellipse cx="15.0" cy="802.0" rx="5.8" ry="5.3" fill="url(#ball2)"/>
<ellipse cx="19.8" cy="810.6" rx="5.8" ry="5.3" fill="url(#ball2)"/>
<ellipse cx="25.6" cy="818.6" rx="5.8" ry="5.3" fill="url(#ball2)"/>
<ellipse cx="31.2" cy="826.8" rx="5.8" ry="5.3" fill="url(#ball2)"/>
<ellipse cx="36.8" cy="835.1" rx="5.8" ry="5.3" fill="url(#ball2)"/>
<ellipse cx="42.6" cy="843.4" rx="5.8" ry="5.3" fill="url(#ball2)"/>
<ellipse cx="48.5" cy="851.6" rx="5.8" ry="5.3" fill="url(#ball2)"/>
<ellipse cx="55.0" cy="859.0" rx="5.8" ry="5.3" fill="url(#ball2)"/>
<ellipse cx="62.2" cy="865.9" rx="5.8" ry="5.3" fill="url(#ball2)"/>
<ellipse cx="69.6" cy="872.4" rx="5.8" ry="5.3" fill="url(#ball2)"/>
<ellipse cx="77.4" cy="878.8" rx="5.8" ry="5.3" fill="url(#ball2)"/>
<ellipse cx="85.5" cy="884.4" rx="5.8" ry="5.3" fill="url(#ball2)"/>
<ellipse cx="94.3" cy="889.3" rx="5.8" ry="5.3" fill="url(#ball2)"/>
<ellipse cx="103.5" cy="893.7" rx="5.8" ry="5.3" fill="url(#ball2)"/>
<ellipse cx="112.4" cy="897.6" rx="5.8" ry="5.3" fill="url(#ball2)"/>
<ellipse cx="121.9" cy="901.2" rx="5.8" ry="5.3" fill="url(#ball2)"/>
<ellipse cx="131.3" cy="904.2" rx="5.8" ry="5.3" fill="url(#ball2)"/>
<ellipse cx="141.6" cy="906.0" rx="5.8" ry="5.3" fill="url(#ball2)"/>
<ellipse cx="151.6" cy="906.8" rx="5.8" ry="5.3" fill="url(#ball2)"/>
<ellipse cx="161.6" cy="907.0" rx="5.8" ry="5.3" fill="url(#ball2)"/>
<ellipse cx="171.6" cy="906.5" rx="5.8" ry="5.3" fill="url(#ball2)"/>
<ellipse cx="181.3" cy="905.7" rx="5.8" ry="5.3" fill="url(#ball2)"/>
<ellipse cx="191.7" cy="904.9" rx="5.8" ry="5.3" fill="url(#ball2)"/>
<ellipse cx="201.1" cy="904.3" rx="5.8" ry="5.3" fill="url(#ball2)"/>
<ellipse cx="211.3" cy="903.6" rx="5.8" ry="5.3" fill="url(#ball2)"/>
<ellipse cx="221.8" cy="902.9" rx="5.8" ry="5.3" fill="url(#ball2)"/>
<ellipse cx="231.2" cy="902.2" rx="5.8" ry="5.3" fill="url(#ball2)"/>
<ellipse cx="241.6" cy="901.4" rx="5.8" ry="5.3" fill="url(#ball2)"/>
<ellipse cx="251.2" cy="901.0" rx="5.8" ry="5.3" fill="url(#ball2)"/>
<ellipse cx="261.4" cy="901.4" rx="5.8" ry="5.3" fill="url(#ball2)"/>
<ellipse cx="270.9" cy="902.5" rx="5.8" ry="5.3" fill="url(#ball2)"/>
<ellipse cx="281.0" cy="903.5" rx="5.8" ry="5.3" fill="url(#ball2)"/>
<ellipse cx="290.9" cy="904.6" rx="5.8" ry="5.3" fill="url(#ball2)"/>
<ellipse cx="300.8" cy="907.1" rx="5.8" ry="5.3" fill="url(#ball2)"/>
<ellipse cx="310.1" cy="910.2" rx="5.8" ry="5.3" fill="url(#ball2)"/>
<ellipse cx="319.1" cy="914.7" rx="5.8" ry="5.3" fill="url(#ball2)"/>
<ellipse cx="327.7" cy="919.3" rx="5.8" ry="5.3" fill="url(#ball2)"/>
<ellipse cx="337.1" cy="923.7" rx="5.8" ry="5.3" fill="url(#ball2)"/>
<ellipse cx="345.7" cy="927.8" rx="5.8" ry="5.3" fill="url(#ball2)"/>
<ellipse cx="354.8" cy="932.4" rx="5.8" ry="5.3" fill="url(#ball2)"/>
<ellipse cx="363.9" cy="936.9" rx="5.8" ry="5.3" fill="url(#ball2)"/>
<ellipse cx="372.6" cy="941.2" rx="5.8" ry="5.3" fill="url(#ball2)"/>
<ellipse cx="381.6" cy="946.1" rx="5.8" ry="5.3" fill="url(#ball2)"/>
<ellipse cx="390.5" cy="951.1" rx="5.8" ry="5.3" fill="url(#ball2)"/>
</g>
<circle cx="127.5" cy="824" r="14" fill="#f0d264" opacity="0.85"/>
<g fill="#5f9a62" opacity="0.75">
<ellipse cx="118" cy="820" rx="3.5" ry="3"/><ellipse cx="124" cy="823" rx="3.5" ry="3"/><ellipse cx="130" cy="827" rx="3.5" ry="3"/><ellipse cx="136" cy="831" rx="3.5" ry="3"/>
<ellipse cx="121" cy="828" rx="2.5" ry="2"/><ellipse cx="128" cy="832" rx="2.5" ry="2"/><ellipse cx="134" cy="820" rx="2.5" ry="2.5"/>
</g>

<defs>
<radialGradient id="lensG" cx="0.45" cy="0.3" r="0.75"><stop offset="0" stop-color="#e4e7e7"/><stop offset="0.7" stop-color="#d5d9d9"/><stop offset="1" stop-color="#c9cdcd"/></radialGradient>
<clipPath id="lensClip"><circle cx="168" cy="758" r="57"/></clipPath>
<linearGradient id="handleG" x1="0" y1="0" x2="1" y2="1"><stop offset="0" stop-color="#1a1a1a"/><stop offset="0.5" stop-color="#000"/><stop offset="1" stop-color="#111"/></linearGradient>
</defs>
<!-- gene bar outside -->
<line x1="72" y1="743" x2="262" y2="743" stroke="#1f1f1f" stroke-width="1.3"/>
<line x1="72" y1="758.5" x2="262" y2="758.5" stroke="#1f1f1f" stroke-width="1.3"/>
<rect x="74" y="744" width="31" height="14" fill="#2f9aa8"/>
<rect x="222.5" y="744" width="25" height="14" fill="#2f9aa8"/>
<!-- dashed projection lines -->
<line x1="72" y1="763" x2="116" y2="816" stroke="#333" stroke-width="0.8" stroke-dasharray="2,2"/>
<line x1="259" y1="765" x2="145" y2="831" stroke="#333" stroke-width="0.8" stroke-dasharray="2,2"/>
<!-- handle -->
<path d="M210,795 L224,785 L303,839 C311,845 312,857 305,862 C299,867 291,866 286,861 Z" fill="#050505"/>
<path d="M226,802 C248,819 272,839 292,856" fill="none" stroke="#8a8a8a" stroke-width="1.6" opacity="0.85" stroke-linecap="round"/>
<!-- lens -->
<circle cx="168" cy="758" r="57" fill="url(#lensG)"/>
<g clip-path="url(#lensClip)">
<rect x="100" y="738" width="140" height="26" fill="#e3e5e5"/>
<rect x="141.5" y="738" width="42.5" height="26" fill="#aa5a98"/>
<rect x="222" y="738" width="4" height="26" fill="#2f9aa8"/>
<line x1="100" y1="738" x2="240" y2="738" stroke="#1f1f1f" stroke-width="1.5"/>
<line x1="100" y1="764" x2="240" y2="764" stroke="#1f1f1f" stroke-width="1.5"/>
</g>
<path d="M170,712 C195,718 212,740 206,764" fill="none" stroke="#ffffff" stroke-width="4.6" stroke-linecap="round" opacity="0.75"/>
<circle cx="203" cy="772.5" r="2.4" fill="#ffffff"/>
<circle cx="168" cy="758" r="59.5" fill="none" stroke="#111" stroke-width="5"/>

<path d="M457.73,778.34 A52.40,52.40 0 0 1 511.83,729.63 L515.96,739.62 L511.16,748.82 A33.20,33.20 0 0 0 476.88,779.68 L467.85,774.57 Z" fill="#5cbd9f" stroke="#eef7f5" stroke-width="1.8"/>
<path d="M511.83,729.63 A52.40,52.40 0 0 1 562.40,782.00 L552.57,786.47 L543.20,782.00 A33.20,33.20 0 0 0 511.16,748.82 L515.96,739.62 Z" fill="#1a958a" stroke="#eef7f5" stroke-width="1.8"/>
<path d="M562.40,782.00 A52.40,52.40 0 0 1 508.17,834.37 L504.04,824.38 L508.84,815.18 A33.20,33.20 0 0 0 543.20,782.00 L552.57,786.47 Z" fill="#2a6b7b" stroke="#eef7f5" stroke-width="1.8"/>
<path d="M508.17,834.37 A52.40,52.40 0 0 1 457.73,778.34 L467.85,774.57 L476.88,779.68 A33.20,33.20 0 0 0 508.84,815.18 L504.04,824.38 Z" fill="#1c5860" stroke="#eef7f5" stroke-width="1.8"/>
<text x="480.6" y="751.6" transform="rotate(316.0 480.6 751.6)" font-family="Liberation Sans" font-weight="bold" font-size="8" fill="#ffffff" text-anchor="middle" dominant-baseline="central">Design</text>
<text x="541.4" y="753.7" transform="rotate(408.0 541.4 753.7)" font-family="Liberation Sans" font-weight="bold" font-size="8" fill="#ffffff" text-anchor="middle" dominant-baseline="central">Build</text>
<text x="539.4" y="812.4" transform="rotate(-44.0 539.4 812.4)" font-family="Liberation Sans" font-weight="bold" font-size="8" fill="#ffffff" text-anchor="middle" dominant-baseline="central">Test</text>
<text x="477.6" y="809.2" transform="rotate(50.0 477.6 809.2)" font-family="Liberation Sans" font-weight="bold" font-size="8" fill="#ffffff" text-anchor="middle" dominant-baseline="central">Learn</text>
<text x="510.5" y="781.8" font-family="Liberation Sans" font-weight="bold" font-size="15.2" fill="#1a8a84" text-anchor="middle" dominant-baseline="central">DBTL</text>
<!-- DNA icon 1 -->
<g fill="none">
<g stroke="#86d3bb" stroke-width="1.8">
<path d="M451,689.5 C451,694 464,695 464,699.5 C464,704 451,705 451,709.5 C451,714 464,715 464,718"/>
<path d="M464,689.5 C464,694 451,695 451,699.5 C451,704 464,705 464,709.5 C464,714 451,715 451,718"/>
</g>
<g stroke="#86d3bb" stroke-width="1.1"><line x1="453" y1="692" x2="462" y2="692"/><line x1="453" y1="697" x2="462" y2="697"/><line x1="453" y1="702" x2="462" y2="702"/><line x1="453" y1="707" x2="462" y2="707"/><line x1="453" y1="712" x2="462" y2="712"/></g>
<g stroke="#1f8f88" stroke-width="2.1">
<path d="M440,693 C440,697.5 453.5,698.5 453.5,703 C453.5,707.5 440,708.5 440,713 C440,717.5 453.5,718.5 453.5,721"/>
<path d="M453.5,693 C453.5,697.5 440,698.5 440,703 C440,707.5 453.5,708.5 453.5,713 C453.5,717.5 440,718.5 440,721"/>
</g>
<g stroke="#1f8f88" stroke-width="1.2"><line x1="442" y1="695.5" x2="451.5" y2="695.5"/><line x1="442" y1="700.5" x2="451.5" y2="700.5"/><line x1="442" y1="705.5" x2="451.5" y2="705.5"/><line x1="442" y1="710.5" x2="451.5" y2="710.5"/><line x1="442" y1="715.5" x2="451.5" y2="715.5"/></g>
</g>
<!-- sequence dashes -->
<g stroke-width="2">
<line x1="489" y1="688.2" x2="499.5" y2="688.2" stroke="#2b5a6b"/><line x1="505.5" y1="688.2" x2="516" y2="688.2" stroke="#2b5a6b"/><line x1="522" y1="688.2" x2="531" y2="688.2" stroke="#7fcfae"/>
<line x1="496" y1="692.2" x2="506.5" y2="692.2" stroke="#2a7f80"/><line x1="512.5" y1="692.2" x2="523" y2="692.2" stroke="#3ab3a2"/><line x1="529" y1="692.2" x2="539.5" y2="692.2" stroke="#2b5a6b"/>
<line x1="489" y1="696.4" x2="499.5" y2="696.4" stroke="#7fcfae"/><line x1="505.5" y1="696.4" x2="516" y2="696.4" stroke="#7fcfae"/><line x1="522" y1="696.4" x2="532.5" y2="696.4" stroke="#2b5a6b"/>
<line x1="496" y1="700.7" x2="506.5" y2="700.7" stroke="#2b5a6b"/><line x1="512.5" y1="700.7" x2="523" y2="700.7" stroke="#3ab3a2"/><line x1="529" y1="700.7" x2="539.5" y2="700.7" stroke="#2b5a6b"/>
<line x1="489" y1="704.9" x2="499.5" y2="704.9" stroke="#2b5a6b"/><line x1="505.5" y1="704.9" x2="516" y2="704.9" stroke="#3ab3a2"/><line x1="522" y1="704.9" x2="532.5" y2="704.9" stroke="#7fcfae"/>
<line x1="496" y1="709.3" x2="506.5" y2="709.3" stroke="#7fcfae"/><line x1="512.5" y1="709.3" x2="523" y2="709.3" stroke="#7fcfae"/><line x1="529" y1="709.3" x2="539.5" y2="709.3" stroke="#3ab3a2"/>
</g>
<!-- monitor icon -->
<rect x="398.3" y="735.5" width="36.7" height="21.5" rx="2" fill="#f2faf7" stroke="#5cbf9f" stroke-width="2.2"/>
<rect x="414.5" y="758" width="4" height="4" fill="#5cbf9f"/>
<rect x="410.5" y="761.5" width="12" height="2.5" rx="1" fill="#5cbf9f"/>
<path d="M405,751 C410,746 415,752 420,747 C424,743 427,744 429,741" fill="none" stroke="#1f7f80" stroke-width="1.6"/>
<path d="M405,747 C410,752 415,746 420,750 C424,752 427,745 429,744" fill="none" stroke="#1f7f80" stroke-width="1.2"/>
<!-- scissors -->
<path d="M564.5,719 C567,708 576,698 585.5,692" fill="none" stroke="#7fcfae" stroke-width="1.8"/>
<g stroke="#7fcfae" stroke-width="0.8"><line x1="565" y1="714" x2="562.5" y2="713"/><line x1="567" y1="709" x2="564.5" y2="707.5"/><line x1="570" y1="704.5" x2="568" y2="702.5"/><line x1="574" y1="700" x2="572.5" y2="698"/><line x1="578" y1="696.5" x2="577" y2="694"/><line x1="582" y1="694" x2="581.5" y2="691.5"/></g>
<g fill="none" stroke="#1f8f88" stroke-width="1.9">
<line x1="571" y1="700" x2="589" y2="716"/>
<line x1="571" y1="706" x2="590" y2="708"/>
<circle cx="593" cy="710" r="2.8"/>
<circle cx="587.5" cy="719.8" r="2.8"/>
</g>
<!-- microplate -->
<rect x="579.5" y="746" width="27.5" height="16" fill="#e9ebeb" stroke="#2c2c2c" stroke-width="1.1"/>
<g stroke="#9a9c9c" stroke-width="0.5">
<line x1="583" y1="746" x2="583" y2="762"/><line x1="586.5" y1="746" x2="586.5" y2="762"/><line x1="590" y1="746" x2="590" y2="762"/><line x1="593.5" y1="746" x2="593.5" y2="762"/><line x1="597" y1="746" x2="597" y2="762"/><line x1="600.5" y1="746" x2="600.5" y2="762"/><line x1="604" y1="746" x2="604" y2="762"/>
<line x1="579.5" y1="749.5" x2="607" y2="749.5"/><line x1="579.5" y1="753" x2="607" y2="753"/><line x1="579.5" y1="756.5" x2="607" y2="756.5"/><line x1="579.5" y1="760" x2="607" y2="760"/>
</g>
<line x1="607" y1="746" x2="611" y2="735" stroke="#777" stroke-width="0.6"/>
<line x1="607" y1="753" x2="622" y2="745.5" stroke="#777" stroke-width="0.6"/>
<circle cx="622.4" cy="733.3" r="12" fill="#e6f3f2" stroke="#6a6c6c" stroke-width="0.8"/>
<g fill="#1a9a92">
<rect x="615" y="727" width="15" height="13" fill="none"/>
</g>
<rect x="614.6" y="726.5" width="1.8" height="1.8" fill="#1a9a92"/>
<rect x="614.6" y="729.3" width="1.8" height="1.8" fill="#1a9a92"/>
<rect x="614.6" y="732.1" width="1.8" height="1.8" fill="#1a9a92"/>
<rect x="614.6" y="734.9" width="1.8" height="1.8" fill="#1a9a92"/>
<rect x="614.6" y="737.7" width="1.8" height="1.8" fill="#1a9a92"/>
<rect x="617.4" y="726.5" width="1.8" height="1.8" fill="#1a9a92"/>
<rect x="617.4" y="729.3" width="1.8" height="1.8" fill="#1a9a92"/>
<rect x="617.4" y="732.1" width="1.8" height="1.8" fill="#1a9a92"/>
<rect x="617.4" y="734.9" width="1.8" height="1.8" fill="#1a9a92"/>
<rect x="617.4" y="737.7" width="1.8" height="1.8" fill="#1a9a92"/>
<rect x="620.2" y="726.5" width="1.8" height="1.8" fill="#1a9a92"/>
<rect x="620.2" y="729.3" width="1.8" height="1.8" fill="#1a9a92"/>
<rect x="620.2" y="732.1" width="1.8" height="1.8" fill="#1a9a92"/>
<rect x="620.2" y="734.9" width="1.8" height="1.8" fill="#1a9a92"/>
<rect x="620.2" y="737.7" width="1.8" height="1.8" fill="#1a9a92"/>
<rect x="623.0" y="726.5" width="1.8" height="1.8" fill="#1a9a92"/>
<rect x="623.0" y="729.3" width="1.8" height="1.8" fill="#1a9a92"/>
<rect x="623.0" y="732.1" width="1.8" height="1.8" fill="#1a9a92"/>
<rect x="623.0" y="734.9" width="1.8" height="1.8" fill="#1a9a92"/>
<rect x="623.0" y="737.7" width="1.8" height="1.8" fill="#1a9a92"/>
<rect x="625.8" y="726.5" width="1.8" height="1.8" fill="#1a9a92"/>
<rect x="625.8" y="729.3" width="1.8" height="1.8" fill="#1a9a92"/>
<rect x="625.8" y="732.1" width="1.8" height="1.8" fill="#1a9a92"/>
<rect x="625.8" y="734.9" width="1.8" height="1.8" fill="#1a9a92"/>
<rect x="625.8" y="737.7" width="1.8" height="1.8" fill="#1a9a92"/>
<rect x="628.6" y="726.5" width="1.8" height="1.8" fill="#1a9a92"/>
<rect x="628.6" y="729.3" width="1.8" height="1.8" fill="#1a9a92"/>
<rect x="628.6" y="732.1" width="1.8" height="1.8" fill="#1a9a92"/>
<rect x="628.6" y="734.9" width="1.8" height="1.8" fill="#1a9a92"/>
<rect x="628.6" y="737.7" width="1.8" height="1.8" fill="#1a9a92"/>
<!-- DNA dark icon -->
<g fill="none" stroke="#2b5c72" stroke-width="2">
<path d="M593,784 C598,786 600,798 605,800 C610,798 612,786 617,784 C619,786 620,790 621,796"/>
<path d="M593,800 C598,798 600,786 605,784 C610,786 612,798 617,800"/>
<line x1="597" y1="788" x2="597" y2="796" stroke-width="1.2"/><line x1="609" y1="788" x2="609" y2="796" stroke-width="1.2"/><line x1="613" y1="788" x2="613" y2="796" stroke-width="1.2"/><line x1="601" y1="788" x2="601" y2="796" stroke-width="1.2"/>
</g>
<circle cx="596" cy="800" r="2" fill="#5cbf9f"/><circle cx="601" cy="797" r="2" fill="#2a8a88"/><circle cx="605" cy="801" r="2" fill="#1f4f60"/><circle cx="609" cy="798" r="2" fill="#2a8a88"/><circle cx="613" cy="801" r="2" fill="#1f5f70"/><circle cx="617" cy="797" r="2" fill="#1f4f60"/>
<!-- bar chart -->
<line x1="398.5" y1="816" x2="442.5" y2="816" stroke="#b8c4c4" stroke-width="1"/>
<g fill="#1d4f5f">
<rect x="401.5" y="799.5" width="4.6" height="16"/><rect x="411" y="804.5" width="4.6" height="11"/><rect x="421" y="796" width="4.6" height="19.5"/><rect x="430" y="793.5" width="4.6" height="22"/>
</g>
<polyline points="400,796.5 413,802 423,793.5 433,791" fill="none" stroke="#5a6a6a" stroke-width="0.8"/>
<g fill="#ffffff" stroke="#5a6a6a" stroke-width="0.6"><circle cx="400" cy="796.5" r="1.1"/><circle cx="413" cy="802" r="1.1"/><circle cx="423" cy="793.5" r="1.1"/><circle cx="433" cy="791" r="1.1"/></g>
<!-- flasks -->
<path d="M429.5,831 L436.5,831 L436.5,843 L444.3,857 C445,859 444,859.5 442,859.5 L423.5,859.5 C421.5,859.5 420.7,859 421.4,857 L429.5,843 Z" fill="#e8f3f2" stroke="#2c4c55" stroke-width="0.9"/>
<path d="M426.5,848 L439.5,848 L444.3,857 C445,859 444,859.5 442,859.5 L423.5,859.5 C421.5,859.5 420.7,859 421.4,857 Z" fill="#1e5a63"/>
<path d="M454,825.8 L461,825.8 L461,838 L469.6,852.5 C470.3,854.5 469.3,855 467.3,855 L448.3,855 C446.3,855 445.3,854.5 446,852.5 L454,838 Z" fill="#e8f3f2" stroke="#2c4c55" stroke-width="0.9"/>
<path d="M451,843 L464,843 L469.6,852.5 C470.3,854.5 469.3,855 467.3,855 L448.3,855 C446.3,855 445.3,854.5 446,852.5 Z" fill="#1e5a63"/>
<!-- tube -->
<path d="M494,850.5 L504,850.5 L504,853 L502.5,853 L502.5,866 L499,874.5 L495.5,866 L495.5,853 L494,853 Z" fill="#f4f8f8" stroke="#4a5a5a" stroke-width="0.8"/>
<g stroke="#2a8a88" stroke-width="0.9"><line x1="496.5" y1="857" x2="501.5" y2="857"/><line x1="496.5" y1="860" x2="501.5" y2="860"/><line x1="496.5" y1="863" x2="501.5" y2="863"/><line x1="497" y1="866" x2="501" y2="866"/></g>
<!-- rack -->
<g fill="#f4f8f8" stroke="#3a8a8a" stroke-width="0.9">
<rect x="507.7" y="857" width="31.7" height="3.5" rx="1.5"/>
<rect x="507.7" y="864" width="31.7" height="3.5" rx="1.5"/>
<rect x="513" y="850.5" width="3" height="23" rx="1.2"/><rect x="519" y="850.5" width="3" height="23" rx="1.2"/><rect x="525" y="850.5" width="3" height="23" rx="1.2"/><rect x="531" y="850.5" width="3" height="23" rx="1.2"/>
</g>
<!-- sequencer icon -->
<rect x="585" y="827.5" width="23" height="37" fill="#f4f6f6" stroke="#2b2b2b" stroke-width="1.2"/>
<line x1="589" y1="832" x2="589" y2="862" stroke="#777" stroke-width="0.6"/>
<rect x="562.5" y="833.5" width="22.5" height="31" fill="#f4f6f6" stroke="#2b2b2b" stroke-width="1.2"/>
<rect x="565" y="836" width="17" height="9" fill="#2a2e33"/>
<rect x="567" y="838" width="6" height="1.5" fill="#4fa0c0"/><rect x="567" y="841" width="6" height="1.5" fill="#4fa0c0"/>
<rect x="562.5" y="848" width="22.5" height="10" fill="#1f2226"/>
<rect x="562.5" y="858" width="45.5" height="7" fill="#2b2e31"/>

<polygon fill="#a6e2dd" points="234.0,157.0 248.0,157.0 259.0,174.8 248.0,192.5 234.0,192.5 244.5,174.8"/>
<polygon fill="#84d9d3" points="260.4,157.0 274.4,157.0 285.4,174.8 274.4,192.5 260.4,192.5 270.9,174.8"/>
<polygon fill="#4ccdc4" points="286.8,157.0 300.8,157.0 311.8,174.8 300.8,192.5 286.8,192.5 297.3,174.8"/>
<polygon fill="#1ac3b9" points="313.2,157.0 327.2,157.0 338.2,174.8 327.2,192.5 313.2,192.5 323.7,174.8"/>
<polygon fill="#a6e2dd" points="252.0,320.0 266.0,320.0 277.0,337.8 266.0,355.5 252.0,355.5 262.5,337.8"/>
<polygon fill="#84d9d3" points="278.4,320.0 292.4,320.0 303.4,337.8 292.4,355.5 278.4,355.5 288.9,337.8"/>
<polygon fill="#4ccdc4" points="304.8,320.0 318.8,320.0 329.8,337.8 318.8,355.5 304.8,355.5 315.3,337.8"/>
<polygon fill="#1ac3b9" points="331.2,320.0 345.2,320.0 356.2,337.8 345.2,355.5 331.2,355.5 341.7,337.8"/>
<polygon fill="#a6e2dd" points="268.0,511.0 282.0,511.0 293.0,528.8 282.0,546.5 268.0,546.5 278.5,528.8"/>
<polygon fill="#84d9d3" points="294.4,511.0 308.4,511.0 319.4,528.8 308.4,546.5 294.4,546.5 304.9,528.8"/>
<polygon fill="#4ccdc4" points="320.8,511.0 334.8,511.0 345.8,528.8 334.8,546.5 320.8,546.5 331.3,528.8"/>
<polygon fill="#1ac3b9" points="347.2,511.0 361.2,511.0 372.2,528.8 361.2,546.5 347.2,546.5 357.7,528.8"/>
<polygon fill="#a6e2dd" points="294.0,757.0 308.0,757.0 319.0,774.8 308.0,792.5 294.0,792.5 304.5,774.8"/>
<polygon fill="#84d9d3" points="320.4,757.0 334.4,757.0 345.4,774.8 334.4,792.5 320.4,792.5 330.9,774.8"/>
<polygon fill="#4ccdc4" points="346.8,757.0 360.8,757.0 371.8,774.8 360.8,792.5 346.8,792.5 357.3,774.8"/>
<polygon fill="#1ac3b9" points="373.2,757.0 387.2,757.0 398.2,774.8 387.2,792.5 373.2,792.5 383.7,774.8"/>
</svg>
<div class="box" style="left:164.0px;top:70.0px;width:105.0px;height:29.5px;background:linear-gradient(to right, rgba(160,208,208,0.75), rgba(180,215,215,0.45) 60%, rgba(200,225,225,0.22))"></div>
<div class="lbl" style="left:174.0px;top:72.2px">一代测序</div>
<div class="box" style="left:346.0px;top:118.5px;width:103.0px;height:28.0px;background:linear-gradient(to left, rgba(160,208,208,0.75), rgba(180,215,215,0.45) 60%, rgba(200,225,225,0.22))"></div>
<div class="lbl" style="left:355.0px;top:120.0px">二代测序</div>
<div class="box" style="left:130.0px;top:306.0px;width:119.0px;height:29.5px;background:linear-gradient(to right, rgba(160,208,208,0.75), rgba(180,215,215,0.45) 60%, rgba(200,225,225,0.22))"></div>
<div class="lbl" style="left:141.0px;top:308.2px">天然基因</div>
<div class="box" style="left:506.0px;top:390.0px;width:105.0px;height:30.0px;background:linear-gradient(to left, rgba(160,208,208,0.75), rgba(180,215,215,0.45) 60%, rgba(200,225,225,0.22))"></div>
<div class="lbl" style="left:515.0px;top:392.5px">人工设计</div>
<div class="box" style="left:56.0px;top:487.0px;width:105.5px;height:29.5px;background:linear-gradient(to right, rgba(160,208,208,0.75), rgba(180,215,215,0.45) 60%, rgba(200,225,225,0.22))"></div>
<div class="lbl" style="left:67.0px;top:489.2px">基因克隆</div>
<div class="box" style="left:360.0px;top:555.0px;width:99.0px;height:29.5px;background:linear-gradient(to left, rgba(160,208,208,0.75), rgba(180,215,215,0.45) 60%, rgba(200,225,225,0.22))"></div>
<div class="lbl" style="left:368.0px;top:557.2px">从头合成</div>
<div class="box" style="left:167.0px;top:850.5px;width:103.0px;height:30.0px;background:linear-gradient(to right, rgba(160,208,208,0.75), rgba(180,215,215,0.45) 60%, rgba(200,225,225,0.22))"></div>
<div class="lbl" style="left:177.0px;top:853.0px">基因功能</div>
<div class="box" style="left:451.0px;top:898.0px;width:120.0px;height:30.0px;background:linear-gradient(to left, rgba(160,208,208,0.75), rgba(180,215,215,0.45) 60%, rgba(200,225,225,0.22))"></div>
<div class="lbl" style="left:453.0px;top:900.5px">合成生物学</div>
</body></html>
